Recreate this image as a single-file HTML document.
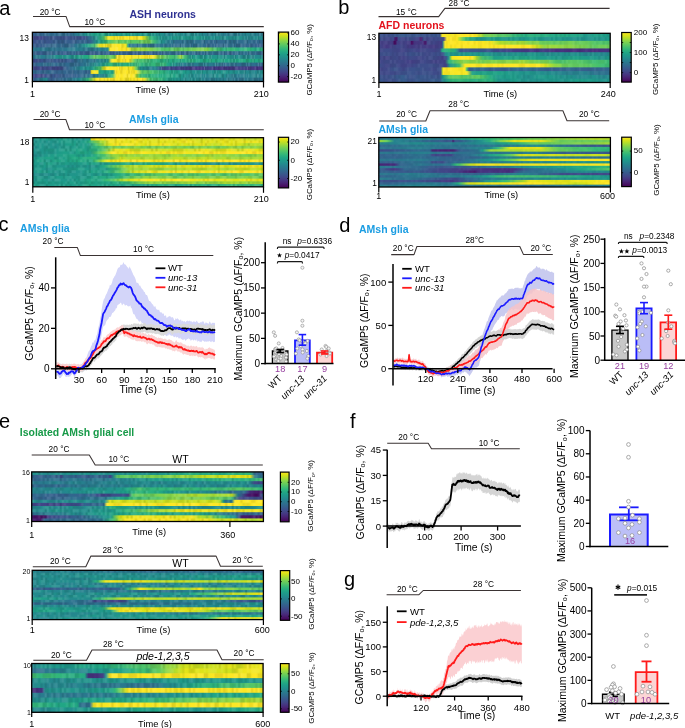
<!DOCTYPE html><html><head><meta charset="utf-8"><style>html,body{margin:0;padding:0;background:#fff;width:685px;height:728px;overflow:hidden}svg{display:block;font-family:"Liberation Sans",sans-serif;will-change:transform}</style></head><body><svg width="685" height="728" viewBox="0 0 685 728" font-family="Liberation Sans, sans-serif"><defs><linearGradient id="hg1" x1="0" x2="1" y1="0" y2="0"><stop offset=".000" stop-color="#355e8d"/><stop offset=".034" stop-color="#33648d"/><stop offset=".069" stop-color="#306a8e"/><stop offset=".103" stop-color="#306a8e"/><stop offset=".138" stop-color="#2f6c8e"/><stop offset=".171" stop-color="#31688e"/><stop offset=".172" stop-color="#2e6f8e"/><stop offset=".206" stop-color="#25838e"/><stop offset=".207" stop-color="#287d8e"/><stop offset=".241" stop-color="#1f978a"/><stop offset=".249" stop-color="#20968b"/><stop offset=".276" stop-color="#20a386"/><stop offset=".310" stop-color="#20a386"/><stop offset=".345" stop-color="#1f9a8a"/><stop offset=".379" stop-color="#1f9a8a"/><stop offset=".414" stop-color="#1fa087"/><stop offset=".448" stop-color="#1f988a"/><stop offset=".483" stop-color="#1f988a"/><stop offset=".509" stop-color="#1f988a"/><stop offset=".517" stop-color="#1f978a"/><stop offset=".552" stop-color="#228d8d"/><stop offset=".552" stop-color="#21928c"/><stop offset=".586" stop-color="#25858e"/><stop offset=".621" stop-color="#21908c"/><stop offset=".655" stop-color="#24898d"/><stop offset=".690" stop-color="#228d8d"/><stop offset=".724" stop-color="#238b8d"/><stop offset=".759" stop-color="#27808e"/><stop offset=".793" stop-color="#24868e"/><stop offset=".828" stop-color="#287d8e"/><stop offset=".862" stop-color="#297b8e"/><stop offset=".897" stop-color="#277f8e"/><stop offset=".931" stop-color="#25848e"/><stop offset=".966" stop-color="#27808e"/><stop offset=".998" stop-color="#29798e"/><stop offset="1.000" stop-color="#26838e"/></linearGradient><linearGradient id="hg2" x1="0" x2="1" y1="0" y2="0"><stop offset=".000" stop-color="#3f4988"/><stop offset=".034" stop-color="#414587"/><stop offset=".069" stop-color="#3a548b"/><stop offset=".103" stop-color="#3a558b"/><stop offset=".138" stop-color="#3c508a"/><stop offset=".172" stop-color="#3a558b"/><stop offset=".207" stop-color="#3c508a"/><stop offset=".228" stop-color="#3b528b"/><stop offset=".241" stop-color="#33648d"/><stop offset=".271" stop-color="#228e8c"/><stop offset=".276" stop-color="#228d8d"/><stop offset=".301" stop-color="#35b779"/><stop offset=".310" stop-color="#5ac764"/><stop offset=".327" stop-color="#f6e622"/><stop offset=".345" stop-color="#f2e620"/><stop offset=".379" stop-color="#fde725"/><stop offset=".414" stop-color="#fce725"/><stop offset=".448" stop-color="#fde725"/><stop offset=".474" stop-color="#fbe724"/><stop offset=".483" stop-color="#d6e21c"/><stop offset=".509" stop-color="#3dbb74"/><stop offset=".517" stop-color="#2db27d"/><stop offset=".552" stop-color="#1f978a"/><stop offset=".552" stop-color="#20958b"/><stop offset=".586" stop-color="#21928c"/><stop offset=".621" stop-color="#1f9a8a"/><stop offset=".655" stop-color="#1f978a"/><stop offset=".690" stop-color="#20968b"/><stop offset=".724" stop-color="#1f988a"/><stop offset=".759" stop-color="#21918c"/><stop offset=".793" stop-color="#218f8c"/><stop offset=".828" stop-color="#228f8c"/><stop offset=".862" stop-color="#228e8d"/><stop offset=".897" stop-color="#21918c"/><stop offset=".931" stop-color="#25858e"/><stop offset=".966" stop-color="#238b8d"/><stop offset=".998" stop-color="#238c8d"/><stop offset="1.000" stop-color="#24898d"/></linearGradient><linearGradient id="hg3" x1="0" x2="1" y1="0" y2="0"><stop offset=".000" stop-color="#3c508b"/><stop offset=".034" stop-color="#375a8c"/><stop offset=".069" stop-color="#3a558b"/><stop offset=".103" stop-color="#355f8d"/><stop offset=".138" stop-color="#355f8d"/><stop offset=".172" stop-color="#365e8d"/><stop offset=".207" stop-color="#33638d"/><stop offset=".241" stop-color="#33648d"/><stop offset=".249" stop-color="#365d8d"/><stop offset=".276" stop-color="#228d8d"/><stop offset=".293" stop-color="#21a685"/><stop offset=".310" stop-color="#2bb07f"/><stop offset=".345" stop-color="#5fc962"/><stop offset=".357" stop-color="#6dcd59"/><stop offset=".379" stop-color="#61ca60"/><stop offset=".414" stop-color="#5cc863"/><stop offset=".448" stop-color="#59c765"/><stop offset=".483" stop-color="#70ce57"/><stop offset=".509" stop-color="#6ccd5a"/><stop offset=".517" stop-color="#51c469"/><stop offset=".552" stop-color="#1f978a"/><stop offset=".552" stop-color="#1f988a"/><stop offset=".586" stop-color="#277f8e"/><stop offset=".617" stop-color="#2d718e"/><stop offset=".621" stop-color="#2f6c8e"/><stop offset=".655" stop-color="#2c728e"/><stop offset=".690" stop-color="#2d718e"/><stop offset=".724" stop-color="#2d718e"/><stop offset=".759" stop-color="#306a8e"/><stop offset=".793" stop-color="#31678e"/><stop offset=".828" stop-color="#306a8e"/><stop offset=".862" stop-color="#2e6f8e"/><stop offset=".897" stop-color="#2f6c8e"/><stop offset=".931" stop-color="#2e6e8e"/><stop offset=".966" stop-color="#30698e"/><stop offset=".998" stop-color="#31688e"/><stop offset="1.000" stop-color="#2e6f8e"/></linearGradient><linearGradient id="hg4" x1="0" x2="1" y1="0" y2="0"><stop offset=".000" stop-color="#365e8d"/><stop offset=".034" stop-color="#375b8c"/><stop offset=".069" stop-color="#33648d"/><stop offset=".103" stop-color="#30698e"/><stop offset=".138" stop-color="#32668e"/><stop offset=".172" stop-color="#30698e"/><stop offset=".184" stop-color="#2c738e"/><stop offset=".207" stop-color="#277f8e"/><stop offset=".241" stop-color="#20a287"/><stop offset=".271" stop-color="#4ac16d"/><stop offset=".276" stop-color="#71cf56"/><stop offset=".293" stop-color="#f3e621"/><stop offset=".310" stop-color="#f2e620"/><stop offset=".345" stop-color="#f7e622"/><stop offset=".379" stop-color="#fde725"/><stop offset=".405" stop-color="#f0e51f"/><stop offset=".414" stop-color="#22a784"/><stop offset=".418" stop-color="#2a788e"/><stop offset=".448" stop-color="#2c748e"/><stop offset=".483" stop-color="#2b758e"/><stop offset=".509" stop-color="#2f6c8e"/><stop offset=".517" stop-color="#2e708e"/><stop offset=".552" stop-color="#2c738e"/><stop offset=".586" stop-color="#2c728e"/><stop offset=".621" stop-color="#2f6d8e"/><stop offset=".655" stop-color="#2d718e"/><stop offset=".690" stop-color="#2e6d8e"/><stop offset=".724" stop-color="#2d708e"/><stop offset=".759" stop-color="#32678e"/><stop offset=".793" stop-color="#31678e"/><stop offset=".828" stop-color="#306a8e"/><stop offset=".862" stop-color="#2e6e8e"/><stop offset=".897" stop-color="#31688e"/><stop offset=".931" stop-color="#32658d"/><stop offset=".966" stop-color="#34618d"/><stop offset=".998" stop-color="#34608d"/><stop offset="1.000" stop-color="#355f8d"/></linearGradient><linearGradient id="hg5" x1="0" x2="1" y1="0" y2="0"><stop offset=".000" stop-color="#2a788e"/><stop offset=".034" stop-color="#2a788e"/><stop offset=".069" stop-color="#2a778e"/><stop offset=".103" stop-color="#2d728e"/><stop offset=".138" stop-color="#2b758e"/><stop offset=".172" stop-color="#287c8e"/><stop offset=".207" stop-color="#277e8e"/><stop offset=".241" stop-color="#2b758e"/><stop offset=".276" stop-color="#2a788e"/><stop offset=".293" stop-color="#25838e"/><stop offset=".310" stop-color="#277f8e"/><stop offset=".327" stop-color="#228d8d"/><stop offset=".336" stop-color="#fbe724"/><stop offset=".345" stop-color="#fde725"/><stop offset=".379" stop-color="#fde725"/><stop offset=".414" stop-color="#fde725"/><stop offset=".414" stop-color="#fde725"/><stop offset=".431" stop-color="#a1da38"/><stop offset=".448" stop-color="#a7db34"/><stop offset=".483" stop-color="#9ad93d"/><stop offset=".509" stop-color="#88d448"/><stop offset=".517" stop-color="#80d24d"/><stop offset=".552" stop-color="#5bc863"/><stop offset=".552" stop-color="#52c568"/><stop offset=".586" stop-color="#54c567"/><stop offset=".621" stop-color="#65cb5d"/><stop offset=".655" stop-color="#5bc864"/><stop offset=".690" stop-color="#70ce57"/><stop offset=".724" stop-color="#7cd150"/><stop offset=".759" stop-color="#83d34b"/><stop offset=".764" stop-color="#6fce58"/><stop offset=".793" stop-color="#47c06e"/><stop offset=".812" stop-color="#3dbb74"/><stop offset=".828" stop-color="#2eb37d"/><stop offset=".862" stop-color="#3cbb75"/><stop offset=".897" stop-color="#2aaf7f"/><stop offset=".931" stop-color="#35b779"/><stop offset=".966" stop-color="#25ab82"/><stop offset=".998" stop-color="#2eb37d"/><stop offset="1.000" stop-color="#31b57b"/></linearGradient><linearGradient id="hg6" x1="0" x2="1" y1="0" y2="0"><stop offset=".000" stop-color="#33648d"/><stop offset=".034" stop-color="#365c8d"/><stop offset=".069" stop-color="#33638d"/><stop offset=".103" stop-color="#32668e"/><stop offset=".138" stop-color="#365d8d"/><stop offset=".172" stop-color="#33648d"/><stop offset=".207" stop-color="#365e8d"/><stop offset=".241" stop-color="#375c8c"/><stop offset=".276" stop-color="#355f8d"/><stop offset=".310" stop-color="#32668e"/><stop offset=".345" stop-color="#365c8d"/><stop offset=".379" stop-color="#32658d"/><stop offset=".414" stop-color="#34608d"/><stop offset=".448" stop-color="#355e8d"/><stop offset=".483" stop-color="#33628d"/><stop offset=".517" stop-color="#34628d"/><stop offset=".552" stop-color="#33648d"/><stop offset=".586" stop-color="#306b8e"/><stop offset=".621" stop-color="#2f6c8e"/><stop offset=".655" stop-color="#34618d"/><stop offset=".690" stop-color="#2e6d8e"/><stop offset=".724" stop-color="#31688e"/><stop offset=".759" stop-color="#2e6e8e"/><stop offset=".793" stop-color="#2f6c8e"/><stop offset=".828" stop-color="#31688e"/><stop offset=".862" stop-color="#33648d"/><stop offset=".897" stop-color="#2e6f8e"/><stop offset=".931" stop-color="#2d708e"/><stop offset=".966" stop-color="#306b8e"/><stop offset=".998" stop-color="#33638d"/><stop offset="1.000" stop-color="#2e6e8e"/></linearGradient><linearGradient id="hg7" x1="0" x2="1" y1="0" y2="0"><stop offset=".000" stop-color="#2b748e"/><stop offset=".034" stop-color="#277f8e"/><stop offset=".069" stop-color="#297a8e"/><stop offset=".103" stop-color="#21908c"/><stop offset=".138" stop-color="#20958b"/><stop offset=".172" stop-color="#21928c"/><stop offset=".207" stop-color="#21a486"/><stop offset=".228" stop-color="#22a884"/><stop offset=".241" stop-color="#26ac82"/><stop offset=".271" stop-color="#69cc5b"/><stop offset=".276" stop-color="#56c666"/><stop offset=".310" stop-color="#5dc962"/><stop offset=".345" stop-color="#69cc5b"/><stop offset=".357" stop-color="#6ccd5a"/><stop offset=".366" stop-color="#fde725"/><stop offset=".379" stop-color="#f9e623"/><stop offset=".414" stop-color="#fde725"/><stop offset=".448" stop-color="#f4e621"/><stop offset=".483" stop-color="#f9e623"/><stop offset=".517" stop-color="#fde725"/><stop offset=".526" stop-color="#f2e620"/><stop offset=".552" stop-color="#74cf55"/><stop offset=".552" stop-color="#83d34b"/><stop offset=".586" stop-color="#4ec36a"/><stop offset=".617" stop-color="#3ebc74"/><stop offset=".621" stop-color="#3dbb74"/><stop offset=".643" stop-color="#a3da37"/><stop offset=".655" stop-color="#51c469"/><stop offset=".682" stop-color="#20938b"/><stop offset=".690" stop-color="#1e9b89"/><stop offset=".724" stop-color="#20958b"/><stop offset=".759" stop-color="#20958b"/><stop offset=".793" stop-color="#20958b"/><stop offset=".828" stop-color="#21928c"/><stop offset=".862" stop-color="#21908c"/><stop offset=".897" stop-color="#238a8d"/><stop offset=".931" stop-color="#24888d"/><stop offset=".966" stop-color="#24888d"/><stop offset=".998" stop-color="#24878e"/><stop offset="1.000" stop-color="#24888d"/></linearGradient><linearGradient id="hg8" x1="0" x2="1" y1="0" y2="0"><stop offset=".000" stop-color="#3f4988"/><stop offset=".034" stop-color="#3b518b"/><stop offset=".069" stop-color="#375a8c"/><stop offset=".103" stop-color="#39578c"/><stop offset=".119" stop-color="#39568c"/><stop offset=".138" stop-color="#39578c"/><stop offset=".172" stop-color="#365d8d"/><stop offset=".207" stop-color="#2d728e"/><stop offset=".241" stop-color="#2b768e"/><stop offset=".271" stop-color="#2b758e"/><stop offset=".276" stop-color="#287c8e"/><stop offset=".310" stop-color="#24898d"/><stop offset=".327" stop-color="#21918c"/><stop offset=".344" stop-color="#f9e723"/><stop offset=".345" stop-color="#fae724"/><stop offset=".379" stop-color="#f6e622"/><stop offset=".414" stop-color="#fde725"/><stop offset=".418" stop-color="#fde725"/><stop offset=".444" stop-color="#61ca60"/><stop offset=".448" stop-color="#4dc26b"/><stop offset=".483" stop-color="#45c06f"/><stop offset=".517" stop-color="#32b57a"/><stop offset=".552" stop-color="#2bb07f"/><stop offset=".574" stop-color="#2bb17e"/><stop offset=".586" stop-color="#25ab82"/><stop offset=".621" stop-color="#24aa83"/><stop offset=".639" stop-color="#22a884"/><stop offset=".655" stop-color="#24aa83"/><stop offset=".690" stop-color="#2ab07f"/><stop offset=".724" stop-color="#21a685"/><stop offset=".759" stop-color="#25ab82"/><stop offset=".793" stop-color="#22a784"/><stop offset=".828" stop-color="#21a585"/><stop offset=".862" stop-color="#21a486"/><stop offset=".897" stop-color="#24aa83"/><stop offset=".931" stop-color="#24aa82"/><stop offset=".966" stop-color="#22a884"/><stop offset=".998" stop-color="#24aa83"/><stop offset="1.000" stop-color="#22a784"/></linearGradient><linearGradient id="hg9" x1="0" x2="1" y1="0" y2="0"><stop offset=".000" stop-color="#355e8d"/><stop offset=".034" stop-color="#2f6b8e"/><stop offset=".069" stop-color="#2e6e8e"/><stop offset=".103" stop-color="#30698e"/><stop offset=".138" stop-color="#30698e"/><stop offset=".172" stop-color="#306a8e"/><stop offset=".206" stop-color="#2f6b8e"/><stop offset=".207" stop-color="#2e6d8e"/><stop offset=".241" stop-color="#297b8e"/><stop offset=".271" stop-color="#21918c"/><stop offset=".276" stop-color="#23898d"/><stop offset=".310" stop-color="#1e9d88"/><stop offset=".336" stop-color="#34b779"/><stop offset=".345" stop-color="#34b779"/><stop offset=".379" stop-color="#26ac81"/><stop offset=".414" stop-color="#2ab07f"/><stop offset=".448" stop-color="#3aba76"/><stop offset=".483" stop-color="#2db27d"/><stop offset=".517" stop-color="#33b67a"/><stop offset=".552" stop-color="#36b878"/><stop offset=".574" stop-color="#36b878"/><stop offset=".586" stop-color="#21a585"/><stop offset=".621" stop-color="#21918c"/><stop offset=".639" stop-color="#26828e"/><stop offset=".655" stop-color="#287c8e"/><stop offset=".690" stop-color="#2a788e"/><stop offset=".724" stop-color="#297b8e"/><stop offset=".759" stop-color="#287c8e"/><stop offset=".793" stop-color="#2a798e"/><stop offset=".828" stop-color="#2f6c8e"/><stop offset=".862" stop-color="#2d728e"/><stop offset=".897" stop-color="#2f6b8e"/><stop offset=".931" stop-color="#2d708e"/><stop offset=".966" stop-color="#2e6d8e"/><stop offset=".998" stop-color="#33638d"/><stop offset="1.000" stop-color="#306a8e"/></linearGradient><linearGradient id="hg10" x1="0" x2="1" y1="0" y2="0"><stop offset=".000" stop-color="#414487"/><stop offset=".034" stop-color="#3f4888"/><stop offset=".069" stop-color="#3e4b89"/><stop offset=".103" stop-color="#404587"/><stop offset=".128" stop-color="#3d4d8a"/><stop offset=".138" stop-color="#375c8c"/><stop offset=".172" stop-color="#2e6e8e"/><stop offset=".206" stop-color="#25838e"/><stop offset=".207" stop-color="#24888d"/><stop offset=".241" stop-color="#21918c"/><stop offset=".258" stop-color="#20958b"/><stop offset=".276" stop-color="#33b67a"/><stop offset=".293" stop-color="#4fc36a"/><stop offset=".310" stop-color="#dde319"/><stop offset=".318" stop-color="#fde725"/><stop offset=".345" stop-color="#fde725"/><stop offset=".379" stop-color="#fde725"/><stop offset=".414" stop-color="#f2e520"/><stop offset=".435" stop-color="#f5e622"/><stop offset=".448" stop-color="#78d052"/><stop offset=".466" stop-color="#228f8c"/><stop offset=".483" stop-color="#238b8d"/><stop offset=".517" stop-color="#277f8e"/><stop offset=".531" stop-color="#24868e"/><stop offset=".552" stop-color="#34628d"/><stop offset=".561" stop-color="#3d4e8a"/><stop offset=".586" stop-color="#3f4988"/><stop offset=".621" stop-color="#414487"/><stop offset=".655" stop-color="#424186"/><stop offset=".690" stop-color="#443a83"/><stop offset=".724" stop-color="#453681"/><stop offset=".759" stop-color="#404688"/><stop offset=".793" stop-color="#443982"/><stop offset=".828" stop-color="#453781"/><stop offset=".862" stop-color="#453781"/><stop offset=".897" stop-color="#433f85"/><stop offset=".931" stop-color="#443c83"/><stop offset=".966" stop-color="#463581"/><stop offset=".998" stop-color="#463681"/><stop offset="1.000" stop-color="#46317e"/></linearGradient><linearGradient id="hg11" x1="0" x2="1" y1="0" y2="0"><stop offset=".000" stop-color="#306a8e"/><stop offset=".034" stop-color="#33638d"/><stop offset=".069" stop-color="#306a8e"/><stop offset=".103" stop-color="#34628d"/><stop offset=".138" stop-color="#32668e"/><stop offset=".172" stop-color="#33648d"/><stop offset=".207" stop-color="#30698e"/><stop offset=".241" stop-color="#33628d"/><stop offset=".249" stop-color="#31688e"/><stop offset=".256" stop-color="#fbe724"/><stop offset=".276" stop-color="#f1e520"/><stop offset=".284" stop-color="#fde725"/><stop offset=".288" stop-color="#24aa83"/><stop offset=".310" stop-color="#1f9f88"/><stop offset=".345" stop-color="#21a685"/><stop offset=".349" stop-color="#21a486"/><stop offset=".360" stop-color="#fde725"/><stop offset=".379" stop-color="#fde725"/><stop offset=".414" stop-color="#fde725"/><stop offset=".448" stop-color="#f9e623"/><stop offset=".448" stop-color="#fce725"/><stop offset=".474" stop-color="#5ac764"/><stop offset=".483" stop-color="#64cb5e"/><stop offset=".517" stop-color="#4ac16d"/><stop offset=".552" stop-color="#33b67a"/><stop offset=".586" stop-color="#22a784"/><stop offset=".621" stop-color="#20a386"/><stop offset=".639" stop-color="#1f9e88"/><stop offset=".655" stop-color="#1e9c89"/><stop offset=".690" stop-color="#21928c"/><stop offset=".724" stop-color="#20948b"/><stop offset=".759" stop-color="#21908c"/><stop offset=".793" stop-color="#21928c"/><stop offset=".828" stop-color="#20968b"/><stop offset=".862" stop-color="#21908c"/><stop offset=".897" stop-color="#228c8d"/><stop offset=".931" stop-color="#24888d"/><stop offset=".966" stop-color="#24878e"/><stop offset=".998" stop-color="#21908c"/><stop offset="1.000" stop-color="#21928c"/></linearGradient><linearGradient id="hg12" x1="0" x2="1" y1="0" y2="0"><stop offset=".000" stop-color="#404788"/><stop offset=".034" stop-color="#414487"/><stop offset=".069" stop-color="#39578c"/><stop offset=".098" stop-color="#39568c"/><stop offset=".103" stop-color="#39558c"/><stop offset=".138" stop-color="#355f8d"/><stop offset=".172" stop-color="#355f8d"/><stop offset=".207" stop-color="#32668e"/><stop offset=".241" stop-color="#2d708e"/><stop offset=".241" stop-color="#2e6d8e"/><stop offset=".276" stop-color="#27808e"/><stop offset=".310" stop-color="#24888d"/><stop offset=".314" stop-color="#23898d"/><stop offset=".344" stop-color="#3aba76"/><stop offset=".345" stop-color="#3bba75"/><stop offset=".364" stop-color="#fde725"/><stop offset=".379" stop-color="#fde725"/><stop offset=".414" stop-color="#fce724"/><stop offset=".440" stop-color="#fde725"/><stop offset=".448" stop-color="#b6de2a"/><stop offset=".466" stop-color="#46c06f"/><stop offset=".483" stop-color="#33b67a"/><stop offset=".517" stop-color="#2fb47c"/><stop offset=".552" stop-color="#25ab82"/><stop offset=".586" stop-color="#25ab82"/><stop offset=".621" stop-color="#20a386"/><stop offset=".655" stop-color="#20938b"/><stop offset=".690" stop-color="#228c8d"/><stop offset=".724" stop-color="#238b8d"/><stop offset=".725" stop-color="#24878e"/><stop offset=".759" stop-color="#25858e"/><stop offset=".793" stop-color="#228f8c"/><stop offset=".828" stop-color="#228d8d"/><stop offset=".862" stop-color="#287d8e"/><stop offset=".897" stop-color="#287c8e"/><stop offset=".931" stop-color="#26838e"/><stop offset=".966" stop-color="#24868e"/><stop offset=".998" stop-color="#25838e"/><stop offset="1.000" stop-color="#26818e"/></linearGradient><linearGradient id="hg13" x1="0" x2="1" y1="0" y2="0"><stop offset=".000" stop-color="#39578c"/><stop offset=".034" stop-color="#2a788e"/><stop offset=".059" stop-color="#228d8d"/><stop offset=".069" stop-color="#2d708e"/><stop offset=".076" stop-color="#365c8d"/><stop offset=".103" stop-color="#32658d"/><stop offset=".138" stop-color="#306b8e"/><stop offset=".172" stop-color="#29798e"/><stop offset=".206" stop-color="#238a8d"/><stop offset=".207" stop-color="#238a8d"/><stop offset=".241" stop-color="#35b779"/><stop offset=".241" stop-color="#32b67a"/><stop offset=".276" stop-color="#f2e620"/><stop offset=".278" stop-color="#fce725"/><stop offset=".310" stop-color="#f7e623"/><stop offset=".345" stop-color="#fde725"/><stop offset=".379" stop-color="#fde725"/><stop offset=".414" stop-color="#f5e622"/><stop offset=".448" stop-color="#fde725"/><stop offset=".479" stop-color="#fce724"/><stop offset=".483" stop-color="#efe51f"/><stop offset=".509" stop-color="#52c468"/><stop offset=".517" stop-color="#44bf70"/><stop offset=".552" stop-color="#35b778"/><stop offset=".586" stop-color="#20a187"/><stop offset=".621" stop-color="#20968b"/><stop offset=".639" stop-color="#21918c"/><stop offset=".655" stop-color="#238b8d"/><stop offset=".690" stop-color="#228e8d"/><stop offset=".724" stop-color="#23898d"/><stop offset=".759" stop-color="#287c8e"/><stop offset=".793" stop-color="#287c8e"/><stop offset=".828" stop-color="#277f8e"/><stop offset=".862" stop-color="#297a8e"/><stop offset=".897" stop-color="#2d718e"/><stop offset=".931" stop-color="#297a8e"/><stop offset=".966" stop-color="#2b758e"/><stop offset=".998" stop-color="#2d708e"/><stop offset="1.000" stop-color="#2d718e"/></linearGradient><pattern id="tx14" patternUnits="userSpaceOnUse" x="32.40" y="32.30" width="42.9" height="49.20"><path d="M3.30 0.0h1.1v3.78h-1.1zM7.70 0.0h1.1v3.78h-1.1zM24.20 0.0h1.1v3.78h-1.1zM31.90 0.0h1.1v3.78h-1.1zM1.10 3.8h1.1v3.78h-1.1zM11.00 3.8h1.1v3.78h-1.1zM15.40 3.8h1.1v3.78h-1.1zM18.70 3.8h1.1v3.78h-1.1zM27.50 3.8h1.1v3.78h-1.1zM28.60 3.8h1.1v3.78h-1.1zM30.80 3.8h1.1v3.78h-1.1zM20.90 7.6h1.1v3.78h-1.1zM30.80 7.6h1.1v3.78h-1.1zM3.30 11.4h1.1v3.78h-1.1zM26.40 11.4h1.1v3.78h-1.1zM29.70 11.4h1.1v3.78h-1.1zM33.00 11.4h1.1v3.78h-1.1zM34.10 11.4h1.1v3.78h-1.1zM7.70 15.1h1.1v3.78h-1.1zM11.00 18.9h1.1v3.78h-1.1zM12.10 18.9h1.1v3.78h-1.1zM19.80 18.9h1.1v3.78h-1.1zM26.40 18.9h1.1v3.78h-1.1zM0.00 22.7h1.1v3.78h-1.1zM1.10 22.7h1.1v3.78h-1.1zM13.20 22.7h1.1v3.78h-1.1zM19.80 22.7h1.1v3.78h-1.1zM26.40 22.7h1.1v3.78h-1.1zM28.60 22.7h1.1v3.78h-1.1zM30.80 22.7h1.1v3.78h-1.1zM1.10 26.5h1.1v3.78h-1.1zM4.40 26.5h1.1v3.78h-1.1zM11.00 26.5h1.1v3.78h-1.1zM12.10 26.5h1.1v3.78h-1.1zM18.70 26.5h1.1v3.78h-1.1zM28.60 26.5h1.1v3.78h-1.1zM0.00 30.3h1.1v3.78h-1.1zM12.10 30.3h1.1v3.78h-1.1zM26.40 30.3h1.1v3.78h-1.1zM27.50 30.3h1.1v3.78h-1.1zM1.10 34.1h1.1v3.78h-1.1zM22.00 34.1h1.1v3.78h-1.1zM24.20 34.1h1.1v3.78h-1.1zM27.50 34.1h1.1v3.78h-1.1zM29.70 34.1h1.1v3.78h-1.1zM2.20 37.8h1.1v3.78h-1.1zM9.90 37.8h1.1v3.78h-1.1zM13.20 37.8h1.1v3.78h-1.1zM24.20 37.8h1.1v3.78h-1.1zM29.70 37.8h1.1v3.78h-1.1zM36.30 37.8h1.1v3.78h-1.1zM40.70 37.8h1.1v3.78h-1.1zM8.80 41.6h1.1v3.78h-1.1zM27.50 41.6h1.1v3.78h-1.1zM30.80 41.6h1.1v3.78h-1.1zM2.20 45.4h1.1v3.78h-1.1zM6.60 45.4h1.1v3.78h-1.1zM8.80 45.4h1.1v3.78h-1.1zM9.90 45.4h1.1v3.78h-1.1zM12.10 45.4h1.1v3.78h-1.1zM15.40 45.4h1.1v3.78h-1.1zM28.60 45.4h1.1v3.78h-1.1z" fill="#000" fill-opacity="0.116"/><path d="M4.40 0.0h1.1v3.78h-1.1zM5.50 0.0h1.1v3.78h-1.1zM15.40 0.0h1.1v3.78h-1.1zM0.00 3.8h1.1v3.78h-1.1zM6.60 3.8h1.1v3.78h-1.1zM9.90 3.8h1.1v3.78h-1.1zM19.80 3.8h1.1v3.78h-1.1zM33.00 3.8h1.1v3.78h-1.1zM4.40 7.6h1.1v3.78h-1.1zM9.90 11.4h1.1v3.78h-1.1zM12.10 11.4h1.1v3.78h-1.1zM15.40 11.4h1.1v3.78h-1.1zM17.60 11.4h1.1v3.78h-1.1zM37.40 11.4h1.1v3.78h-1.1zM9.90 15.1h1.1v3.78h-1.1zM11.00 15.1h1.1v3.78h-1.1zM37.40 15.1h1.1v3.78h-1.1zM39.60 15.1h1.1v3.78h-1.1zM2.20 18.9h1.1v3.78h-1.1zM3.30 18.9h1.1v3.78h-1.1zM14.30 18.9h1.1v3.78h-1.1zM24.20 18.9h1.1v3.78h-1.1zM27.50 18.9h1.1v3.78h-1.1zM30.80 18.9h1.1v3.78h-1.1zM39.60 18.9h1.1v3.78h-1.1zM3.30 22.7h1.1v3.78h-1.1zM14.30 22.7h1.1v3.78h-1.1zM20.90 22.7h1.1v3.78h-1.1zM22.00 22.7h1.1v3.78h-1.1zM35.20 22.7h1.1v3.78h-1.1zM17.60 26.5h1.1v3.78h-1.1zM19.80 26.5h1.1v3.78h-1.1zM24.20 26.5h1.1v3.78h-1.1zM35.20 26.5h1.1v3.78h-1.1zM13.20 30.3h1.1v3.78h-1.1zM16.50 30.3h1.1v3.78h-1.1zM18.70 30.3h1.1v3.78h-1.1zM29.70 30.3h1.1v3.78h-1.1zM31.90 34.1h1.1v3.78h-1.1zM33.00 34.1h1.1v3.78h-1.1zM6.60 37.8h1.1v3.78h-1.1zM12.10 37.8h1.1v3.78h-1.1zM19.80 37.8h1.1v3.78h-1.1zM5.50 41.6h1.1v3.78h-1.1zM14.30 41.6h1.1v3.78h-1.1zM33.00 41.6h1.1v3.78h-1.1zM36.30 41.6h1.1v3.78h-1.1zM0.00 45.4h1.1v3.78h-1.1zM5.50 45.4h1.1v3.78h-1.1zM23.10 45.4h1.1v3.78h-1.1zM27.50 45.4h1.1v3.78h-1.1zM29.70 45.4h1.1v3.78h-1.1zM34.10 45.4h1.1v3.78h-1.1zM39.60 45.4h1.1v3.78h-1.1z" fill="#fff" fill-opacity="0.116"/><path d="M11.00 0.0h1.1v3.78h-1.1zM18.70 0.0h1.1v3.78h-1.1zM34.10 0.0h1.1v3.78h-1.1zM37.40 0.0h1.1v3.78h-1.1zM2.20 3.8h1.1v3.78h-1.1zM24.20 3.8h1.1v3.78h-1.1zM25.30 3.8h1.1v3.78h-1.1zM41.80 3.8h1.1v3.78h-1.1zM6.60 7.6h1.1v3.78h-1.1zM4.40 11.4h1.1v3.78h-1.1zM24.20 11.4h1.1v3.78h-1.1zM3.30 15.1h1.1v3.78h-1.1zM17.60 15.1h1.1v3.78h-1.1zM22.00 15.1h1.1v3.78h-1.1zM26.40 15.1h1.1v3.78h-1.1zM6.60 18.9h1.1v3.78h-1.1zM9.90 18.9h1.1v3.78h-1.1zM16.50 18.9h1.1v3.78h-1.1zM40.70 22.7h1.1v3.78h-1.1zM31.90 26.5h1.1v3.78h-1.1zM33.00 26.5h1.1v3.78h-1.1zM8.80 30.3h1.1v3.78h-1.1zM28.60 30.3h1.1v3.78h-1.1zM30.80 30.3h1.1v3.78h-1.1zM31.90 30.3h1.1v3.78h-1.1zM20.90 34.1h1.1v3.78h-1.1zM3.30 37.8h1.1v3.78h-1.1zM11.00 37.8h1.1v3.78h-1.1zM28.60 37.8h1.1v3.78h-1.1zM38.50 37.8h1.1v3.78h-1.1zM22.00 41.6h1.1v3.78h-1.1zM29.70 41.6h1.1v3.78h-1.1z" fill="#000" fill-opacity="0.084"/><path d="M12.10 0.0h1.1v3.78h-1.1zM13.20 0.0h1.1v3.78h-1.1zM26.40 0.0h1.1v3.78h-1.1zM27.50 0.0h1.1v3.78h-1.1zM33.00 0.0h1.1v3.78h-1.1zM36.30 0.0h1.1v3.78h-1.1zM20.90 3.8h1.1v3.78h-1.1zM8.80 7.6h1.1v3.78h-1.1zM23.10 7.6h1.1v3.78h-1.1zM33.00 7.6h1.1v3.78h-1.1zM40.70 7.6h1.1v3.78h-1.1zM2.20 11.4h1.1v3.78h-1.1zM13.20 11.4h1.1v3.78h-1.1zM19.80 11.4h1.1v3.78h-1.1zM22.00 11.4h1.1v3.78h-1.1zM23.10 11.4h1.1v3.78h-1.1zM28.60 11.4h1.1v3.78h-1.1zM36.30 11.4h1.1v3.78h-1.1zM40.70 15.1h1.1v3.78h-1.1zM41.80 15.1h1.1v3.78h-1.1zM15.40 18.9h1.1v3.78h-1.1zM18.70 18.9h1.1v3.78h-1.1zM23.10 18.9h1.1v3.78h-1.1zM33.00 18.9h1.1v3.78h-1.1zM4.40 22.7h1.1v3.78h-1.1zM6.60 22.7h1.1v3.78h-1.1zM18.70 22.7h1.1v3.78h-1.1zM29.70 22.7h1.1v3.78h-1.1zM34.10 22.7h1.1v3.78h-1.1zM41.80 22.7h1.1v3.78h-1.1zM5.50 26.5h1.1v3.78h-1.1zM27.50 26.5h1.1v3.78h-1.1zM37.40 26.5h1.1v3.78h-1.1zM11.00 30.3h1.1v3.78h-1.1zM20.90 30.3h1.1v3.78h-1.1zM25.30 30.3h1.1v3.78h-1.1zM0.00 34.1h1.1v3.78h-1.1zM7.70 34.1h1.1v3.78h-1.1zM18.70 37.8h1.1v3.78h-1.1zM34.10 37.8h1.1v3.78h-1.1zM39.60 37.8h1.1v3.78h-1.1zM1.10 41.6h1.1v3.78h-1.1zM6.60 41.6h1.1v3.78h-1.1zM9.90 41.6h1.1v3.78h-1.1zM11.00 41.6h1.1v3.78h-1.1zM15.40 41.6h1.1v3.78h-1.1zM28.60 41.6h1.1v3.78h-1.1zM38.50 41.6h1.1v3.78h-1.1zM39.60 41.6h1.1v3.78h-1.1z" fill="#fff" fill-opacity="0.149"/><path d="M14.30 0.0h1.1v3.78h-1.1zM29.70 0.0h1.1v3.78h-1.1zM30.80 0.0h1.1v3.78h-1.1zM40.70 0.0h1.1v3.78h-1.1zM4.40 3.8h1.1v3.78h-1.1zM17.60 3.8h1.1v3.78h-1.1zM38.50 3.8h1.1v3.78h-1.1zM0.00 7.6h1.1v3.78h-1.1zM12.10 7.6h1.1v3.78h-1.1zM25.30 7.6h1.1v3.78h-1.1zM26.40 7.6h1.1v3.78h-1.1zM28.60 7.6h1.1v3.78h-1.1zM29.70 7.6h1.1v3.78h-1.1zM18.70 11.4h1.1v3.78h-1.1zM31.90 11.4h1.1v3.78h-1.1zM35.20 11.4h1.1v3.78h-1.1zM13.20 15.1h1.1v3.78h-1.1zM15.40 15.1h1.1v3.78h-1.1zM16.50 15.1h1.1v3.78h-1.1zM1.10 18.9h1.1v3.78h-1.1zM4.40 18.9h1.1v3.78h-1.1zM13.20 18.9h1.1v3.78h-1.1zM25.30 18.9h1.1v3.78h-1.1zM35.20 18.9h1.1v3.78h-1.1zM37.40 18.9h1.1v3.78h-1.1zM5.50 22.7h1.1v3.78h-1.1zM38.50 22.7h1.1v3.78h-1.1zM39.60 22.7h1.1v3.78h-1.1zM0.00 26.5h1.1v3.78h-1.1zM6.60 26.5h1.1v3.78h-1.1zM26.40 26.5h1.1v3.78h-1.1zM29.70 26.5h1.1v3.78h-1.1zM41.80 26.5h1.1v3.78h-1.1zM3.30 30.3h1.1v3.78h-1.1zM15.40 30.3h1.1v3.78h-1.1zM17.60 30.3h1.1v3.78h-1.1zM37.40 30.3h1.1v3.78h-1.1zM38.50 30.3h1.1v3.78h-1.1zM39.60 30.3h1.1v3.78h-1.1zM40.70 30.3h1.1v3.78h-1.1zM3.30 34.1h1.1v3.78h-1.1zM9.90 34.1h1.1v3.78h-1.1zM14.30 34.1h1.1v3.78h-1.1zM19.80 34.1h1.1v3.78h-1.1zM25.30 34.1h1.1v3.78h-1.1zM28.60 34.1h1.1v3.78h-1.1zM15.40 37.8h1.1v3.78h-1.1zM17.60 41.6h1.1v3.78h-1.1zM18.70 41.6h1.1v3.78h-1.1zM7.70 45.4h1.1v3.78h-1.1zM18.70 45.4h1.1v3.78h-1.1zM24.20 45.4h1.1v3.78h-1.1zM31.90 45.4h1.1v3.78h-1.1zM35.20 45.4h1.1v3.78h-1.1zM37.40 45.4h1.1v3.78h-1.1zM38.50 45.4h1.1v3.78h-1.1z" fill="#000" fill-opacity="0.149"/><path d="M22.00 0.0h1.1v3.78h-1.1zM25.30 0.0h1.1v3.78h-1.1zM16.50 3.8h1.1v3.78h-1.1zM34.10 3.8h1.1v3.78h-1.1zM39.60 3.8h1.1v3.78h-1.1zM39.60 7.6h1.1v3.78h-1.1zM41.80 7.6h1.1v3.78h-1.1zM6.60 11.4h1.1v3.78h-1.1zM16.50 11.4h1.1v3.78h-1.1zM20.90 11.4h1.1v3.78h-1.1zM39.60 11.4h1.1v3.78h-1.1zM40.70 11.4h1.1v3.78h-1.1zM19.80 15.1h1.1v3.78h-1.1zM23.10 15.1h1.1v3.78h-1.1zM29.70 15.1h1.1v3.78h-1.1zM35.20 15.1h1.1v3.78h-1.1zM36.30 15.1h1.1v3.78h-1.1zM0.00 18.9h1.1v3.78h-1.1zM7.70 18.9h1.1v3.78h-1.1zM17.60 18.9h1.1v3.78h-1.1zM31.90 18.9h1.1v3.78h-1.1zM36.30 18.9h1.1v3.78h-1.1zM15.40 22.7h1.1v3.78h-1.1zM17.60 22.7h1.1v3.78h-1.1zM14.30 26.5h1.1v3.78h-1.1zM16.50 26.5h1.1v3.78h-1.1zM30.80 26.5h1.1v3.78h-1.1zM1.10 30.3h1.1v3.78h-1.1zM2.20 30.3h1.1v3.78h-1.1zM22.00 30.3h1.1v3.78h-1.1zM41.80 30.3h1.1v3.78h-1.1zM17.60 34.1h1.1v3.78h-1.1zM30.80 34.1h1.1v3.78h-1.1zM36.30 34.1h1.1v3.78h-1.1zM39.60 34.1h1.1v3.78h-1.1zM4.40 37.8h1.1v3.78h-1.1zM20.90 37.8h1.1v3.78h-1.1zM4.40 41.6h1.1v3.78h-1.1zM7.70 41.6h1.1v3.78h-1.1zM16.50 41.6h1.1v3.78h-1.1zM23.10 41.6h1.1v3.78h-1.1zM24.20 41.6h1.1v3.78h-1.1zM26.40 41.6h1.1v3.78h-1.1zM35.20 41.6h1.1v3.78h-1.1zM41.80 41.6h1.1v3.78h-1.1zM22.00 45.4h1.1v3.78h-1.1zM25.30 45.4h1.1v3.78h-1.1z" fill="#fff" fill-opacity="0.084"/></pattern><linearGradient id="cb15" x1="0" x2="0" y1="0" y2="1"><stop offset="0.000" stop-color="#fde725"/><stop offset="0.050" stop-color="#dfe318"/><stop offset="0.100" stop-color="#bddf26"/><stop offset="0.150" stop-color="#9bd93c"/><stop offset="0.200" stop-color="#7ad151"/><stop offset="0.250" stop-color="#5ec962"/><stop offset="0.300" stop-color="#44bf70"/><stop offset="0.350" stop-color="#2fb47c"/><stop offset="0.400" stop-color="#22a884"/><stop offset="0.450" stop-color="#1e9c89"/><stop offset="0.500" stop-color="#21918c"/><stop offset="0.550" stop-color="#25848e"/><stop offset="0.600" stop-color="#2a788e"/><stop offset="0.650" stop-color="#2f6c8e"/><stop offset="0.700" stop-color="#355f8d"/><stop offset="0.750" stop-color="#3b528b"/><stop offset="0.800" stop-color="#414487"/><stop offset="0.850" stop-color="#463480"/><stop offset="0.900" stop-color="#482475"/><stop offset="0.950" stop-color="#471365"/><stop offset="1.000" stop-color="#440154"/></linearGradient><linearGradient id="hg16" x1="0" x2="1" y1="0" y2="0"><stop offset=".000" stop-color="#20968b"/><stop offset=".034" stop-color="#1f988a"/><stop offset=".069" stop-color="#1f9f88"/><stop offset=".103" stop-color="#1f988a"/><stop offset=".138" stop-color="#20a187"/><stop offset=".172" stop-color="#1f998a"/><stop offset=".207" stop-color="#20968b"/><stop offset=".241" stop-color="#1e9b89"/><stop offset=".248" stop-color="#1f988a"/><stop offset=".254" stop-color="#f0e51f"/><stop offset=".276" stop-color="#f8e623"/><stop offset=".310" stop-color="#fce725"/><stop offset=".345" stop-color="#f1e520"/><stop offset=".379" stop-color="#fde725"/><stop offset=".414" stop-color="#f0e520"/><stop offset=".448" stop-color="#fde725"/><stop offset=".483" stop-color="#eee51f"/><stop offset=".517" stop-color="#e3e41a"/><stop offset=".552" stop-color="#ede51e"/><stop offset=".586" stop-color="#f4e621"/><stop offset=".621" stop-color="#ebe51d"/><stop offset=".655" stop-color="#eee51f"/><stop offset=".690" stop-color="#d9e21b"/><stop offset=".724" stop-color="#d7e21b"/><stop offset=".759" stop-color="#d4e21c"/><stop offset=".793" stop-color="#e1e319"/><stop offset=".828" stop-color="#ece51e"/><stop offset=".862" stop-color="#d8e21b"/><stop offset=".897" stop-color="#e6e41b"/><stop offset=".931" stop-color="#c8e021"/><stop offset=".966" stop-color="#cae121"/><stop offset=".998" stop-color="#dae21a"/><stop offset="1.000" stop-color="#dfe318"/></linearGradient><linearGradient id="hg17" x1="0" x2="1" y1="0" y2="0"><stop offset=".000" stop-color="#21928c"/><stop offset=".034" stop-color="#20968b"/><stop offset=".069" stop-color="#21938c"/><stop offset=".103" stop-color="#1f978a"/><stop offset=".138" stop-color="#1f9e88"/><stop offset=".172" stop-color="#1f9e88"/><stop offset=".207" stop-color="#1e9b89"/><stop offset=".226" stop-color="#1fa087"/><stop offset=".241" stop-color="#26ac81"/><stop offset=".276" stop-color="#7ad151"/><stop offset=".291" stop-color="#9eda3a"/><stop offset=".310" stop-color="#b1dd2e"/><stop offset=".335" stop-color="#f1e520"/><stop offset=".345" stop-color="#ede51e"/><stop offset=".379" stop-color="#efe51f"/><stop offset=".414" stop-color="#e2e319"/><stop offset=".448" stop-color="#f3e621"/><stop offset=".483" stop-color="#e0e318"/><stop offset=".517" stop-color="#e3e41a"/><stop offset=".552" stop-color="#e1e319"/><stop offset=".586" stop-color="#e1e319"/><stop offset=".621" stop-color="#dde319"/><stop offset=".655" stop-color="#f1e520"/><stop offset=".690" stop-color="#ede51e"/><stop offset=".724" stop-color="#d5e21c"/><stop offset=".759" stop-color="#e9e41c"/><stop offset=".793" stop-color="#d5e21c"/><stop offset=".828" stop-color="#eae41d"/><stop offset=".862" stop-color="#e1e319"/><stop offset=".897" stop-color="#e5e41a"/><stop offset=".931" stop-color="#ece51e"/><stop offset=".966" stop-color="#ece51e"/><stop offset=".998" stop-color="#e8e41c"/><stop offset="1.000" stop-color="#d9e21a"/></linearGradient><linearGradient id="hg18" x1="0" x2="1" y1="0" y2="0"><stop offset=".000" stop-color="#1f978a"/><stop offset=".034" stop-color="#20968b"/><stop offset=".069" stop-color="#20958b"/><stop offset=".103" stop-color="#20938b"/><stop offset=".138" stop-color="#1e9b89"/><stop offset=".172" stop-color="#1fa087"/><stop offset=".207" stop-color="#1f9a8a"/><stop offset=".239" stop-color="#20a187"/><stop offset=".241" stop-color="#1f988a"/><stop offset=".276" stop-color="#52c469"/><stop offset=".310" stop-color="#a9db33"/><stop offset=".313" stop-color="#bddf26"/><stop offset=".345" stop-color="#ebe51d"/><stop offset=".356" stop-color="#fde725"/><stop offset=".379" stop-color="#f4e621"/><stop offset=".414" stop-color="#fde725"/><stop offset=".448" stop-color="#e9e41d"/><stop offset=".483" stop-color="#e1e319"/><stop offset=".517" stop-color="#ebe51d"/><stop offset=".552" stop-color="#f2e620"/><stop offset=".586" stop-color="#f0e51f"/><stop offset=".621" stop-color="#d5e21c"/><stop offset=".655" stop-color="#dce319"/><stop offset=".690" stop-color="#dae21a"/><stop offset=".724" stop-color="#e0e319"/><stop offset=".725" stop-color="#eee51f"/><stop offset=".759" stop-color="#d4e21d"/><stop offset=".793" stop-color="#c6e022"/><stop offset=".828" stop-color="#e4e41a"/><stop offset=".862" stop-color="#dfe318"/><stop offset=".897" stop-color="#d6e21c"/><stop offset=".931" stop-color="#b4dd2c"/><stop offset=".966" stop-color="#b8de29"/><stop offset=".998" stop-color="#b0dd2e"/><stop offset="1.000" stop-color="#cfe11f"/></linearGradient><linearGradient id="hg19" x1="0" x2="1" y1="0" y2="0"><stop offset=".000" stop-color="#238a8d"/><stop offset=".034" stop-color="#1f978a"/><stop offset=".069" stop-color="#20958b"/><stop offset=".103" stop-color="#21928c"/><stop offset=".138" stop-color="#1e9b89"/><stop offset=".172" stop-color="#1e9a89"/><stop offset=".207" stop-color="#1f9f88"/><stop offset=".239" stop-color="#1f9e88"/><stop offset=".241" stop-color="#20a187"/><stop offset=".276" stop-color="#34b679"/><stop offset=".310" stop-color="#50c469"/><stop offset=".335" stop-color="#6acc5b"/><stop offset=".345" stop-color="#87d449"/><stop offset=".379" stop-color="#6ccd5a"/><stop offset=".414" stop-color="#7bd150"/><stop offset=".448" stop-color="#8ed644"/><stop offset=".483" stop-color="#76d053"/><stop offset=".517" stop-color="#74cf55"/><stop offset=".552" stop-color="#79d152"/><stop offset=".586" stop-color="#74cf55"/><stop offset=".621" stop-color="#8ad547"/><stop offset=".655" stop-color="#79d152"/><stop offset=".690" stop-color="#72cf56"/><stop offset=".724" stop-color="#87d449"/><stop offset=".759" stop-color="#7bd151"/><stop offset=".793" stop-color="#79d152"/><stop offset=".828" stop-color="#74cf55"/><stop offset=".862" stop-color="#95d740"/><stop offset=".897" stop-color="#84d34b"/><stop offset=".931" stop-color="#8ed645"/><stop offset=".966" stop-color="#8ad547"/><stop offset=".998" stop-color="#9ad93c"/><stop offset="1.000" stop-color="#7bd151"/></linearGradient><linearGradient id="hg20" x1="0" x2="1" y1="0" y2="0"><stop offset=".000" stop-color="#20968b"/><stop offset=".034" stop-color="#20948b"/><stop offset=".069" stop-color="#1e9c89"/><stop offset=".103" stop-color="#1f988a"/><stop offset=".138" stop-color="#1f9e88"/><stop offset=".172" stop-color="#1f9e88"/><stop offset=".207" stop-color="#21a585"/><stop offset=".241" stop-color="#1f9f88"/><stop offset=".248" stop-color="#25ab82"/><stop offset=".276" stop-color="#2eb37c"/><stop offset=".310" stop-color="#63ca5f"/><stop offset=".345" stop-color="#c1df24"/><stop offset=".356" stop-color="#e6e41b"/><stop offset=".379" stop-color="#e2e319"/><stop offset=".414" stop-color="#e1e319"/><stop offset=".448" stop-color="#c7e022"/><stop offset=".483" stop-color="#cae121"/><stop offset=".517" stop-color="#cfe11f"/><stop offset=".552" stop-color="#cde11f"/><stop offset=".586" stop-color="#cbe120"/><stop offset=".621" stop-color="#d1e11e"/><stop offset=".655" stop-color="#d5e21c"/><stop offset=".690" stop-color="#d4e21d"/><stop offset=".724" stop-color="#e7e41b"/><stop offset=".759" stop-color="#e9e41c"/><stop offset=".793" stop-color="#cee11f"/><stop offset=".828" stop-color="#dfe318"/><stop offset=".862" stop-color="#e7e41b"/><stop offset=".897" stop-color="#cce120"/><stop offset=".931" stop-color="#f0e51f"/><stop offset=".966" stop-color="#e3e41a"/><stop offset=".998" stop-color="#e0e318"/><stop offset="1.000" stop-color="#dee318"/></linearGradient><linearGradient id="hg21" x1="0" x2="1" y1="0" y2="0"><stop offset=".000" stop-color="#21908c"/><stop offset=".034" stop-color="#20968b"/><stop offset=".069" stop-color="#20968b"/><stop offset=".103" stop-color="#1f988a"/><stop offset=".138" stop-color="#1fa087"/><stop offset=".172" stop-color="#1f9a8a"/><stop offset=".207" stop-color="#22a784"/><stop offset=".241" stop-color="#21a486"/><stop offset=".248" stop-color="#1f9e88"/><stop offset=".276" stop-color="#4cc26c"/><stop offset=".310" stop-color="#8ed644"/><stop offset=".343" stop-color="#fde725"/><stop offset=".345" stop-color="#fbe724"/><stop offset=".379" stop-color="#eae51d"/><stop offset=".414" stop-color="#fde725"/><stop offset=".448" stop-color="#f0e51f"/><stop offset=".483" stop-color="#fde725"/><stop offset=".517" stop-color="#e6e41b"/><stop offset=".552" stop-color="#f1e520"/><stop offset=".586" stop-color="#fde725"/><stop offset=".621" stop-color="#f2e620"/><stop offset=".655" stop-color="#f5e621"/><stop offset=".690" stop-color="#ede51e"/><stop offset=".724" stop-color="#fde725"/><stop offset=".759" stop-color="#fde725"/><stop offset=".793" stop-color="#f6e622"/><stop offset=".828" stop-color="#fde725"/><stop offset=".862" stop-color="#fde725"/><stop offset=".897" stop-color="#fde725"/><stop offset=".931" stop-color="#fde725"/><stop offset=".966" stop-color="#fde725"/><stop offset=".998" stop-color="#fce725"/><stop offset="1.000" stop-color="#fde725"/></linearGradient><linearGradient id="hg22" x1="0" x2="1" y1="0" y2="0"><stop offset=".000" stop-color="#238c8d"/><stop offset=".034" stop-color="#21938c"/><stop offset=".069" stop-color="#1e9b89"/><stop offset=".103" stop-color="#1f9e88"/><stop offset=".138" stop-color="#20a187"/><stop offset=".172" stop-color="#21a585"/><stop offset=".207" stop-color="#1e9c89"/><stop offset=".241" stop-color="#1f9f88"/><stop offset=".257" stop-color="#21a486"/><stop offset=".276" stop-color="#2db27d"/><stop offset=".310" stop-color="#48c06e"/><stop offset=".345" stop-color="#8fd644"/><stop offset=".356" stop-color="#91d743"/><stop offset=".379" stop-color="#a0da38"/><stop offset=".414" stop-color="#9eda3a"/><stop offset=".448" stop-color="#90d643"/><stop offset=".483" stop-color="#94d740"/><stop offset=".517" stop-color="#9ed93a"/><stop offset=".552" stop-color="#98d83e"/><stop offset=".586" stop-color="#8dd645"/><stop offset=".621" stop-color="#a6db35"/><stop offset=".655" stop-color="#8dd645"/><stop offset=".690" stop-color="#8bd546"/><stop offset=".724" stop-color="#82d34c"/><stop offset=".759" stop-color="#a3da37"/><stop offset=".793" stop-color="#98d83e"/><stop offset=".828" stop-color="#96d83f"/><stop offset=".862" stop-color="#8fd644"/><stop offset=".897" stop-color="#82d34c"/><stop offset=".931" stop-color="#7ad151"/><stop offset=".966" stop-color="#8fd644"/><stop offset=".998" stop-color="#98d83e"/><stop offset="1.000" stop-color="#9fda39"/></linearGradient><linearGradient id="hg23" x1="0" x2="1" y1="0" y2="0"><stop offset=".000" stop-color="#1f988a"/><stop offset=".034" stop-color="#1e9d89"/><stop offset=".069" stop-color="#20a386"/><stop offset=".103" stop-color="#1e9d89"/><stop offset=".138" stop-color="#1f9f88"/><stop offset=".172" stop-color="#24aa83"/><stop offset=".207" stop-color="#23a984"/><stop offset=".241" stop-color="#2cb17e"/><stop offset=".270" stop-color="#32b67a"/><stop offset=".276" stop-color="#28ae80"/><stop offset=".310" stop-color="#52c568"/><stop offset=".345" stop-color="#7bd151"/><stop offset=".378" stop-color="#b7de2a"/><stop offset=".379" stop-color="#cfe11e"/><stop offset=".414" stop-color="#b0dd2e"/><stop offset=".448" stop-color="#b7de2a"/><stop offset=".483" stop-color="#addc30"/><stop offset=".517" stop-color="#abdc32"/><stop offset=".552" stop-color="#a8db34"/><stop offset=".586" stop-color="#a4db36"/><stop offset=".621" stop-color="#c1df24"/><stop offset=".655" stop-color="#bcdf27"/><stop offset=".690" stop-color="#acdc31"/><stop offset=".724" stop-color="#bcdf27"/><stop offset=".759" stop-color="#c2e024"/><stop offset=".793" stop-color="#a5db35"/><stop offset=".828" stop-color="#b4dd2c"/><stop offset=".862" stop-color="#9ed93a"/><stop offset=".897" stop-color="#a3da37"/><stop offset=".931" stop-color="#a5db36"/><stop offset=".966" stop-color="#a8db34"/><stop offset=".998" stop-color="#addc30"/><stop offset="1.000" stop-color="#a3da37"/></linearGradient><linearGradient id="hg24" x1="0" x2="1" y1="0" y2="0"><stop offset=".000" stop-color="#1f9a8a"/><stop offset=".034" stop-color="#20a286"/><stop offset=".069" stop-color="#1f9a8a"/><stop offset=".103" stop-color="#21a685"/><stop offset=".138" stop-color="#1fa087"/><stop offset=".172" stop-color="#21a685"/><stop offset=".207" stop-color="#26ab82"/><stop offset=".241" stop-color="#21a585"/><stop offset=".257" stop-color="#26ac82"/><stop offset=".276" stop-color="#58c765"/><stop offset=".310" stop-color="#c2e024"/><stop offset=".326" stop-color="#efe51f"/><stop offset=".345" stop-color="#e9e41c"/><stop offset=".379" stop-color="#fde725"/><stop offset=".414" stop-color="#efe51f"/><stop offset=".448" stop-color="#fde725"/><stop offset=".483" stop-color="#f9e723"/><stop offset=".517" stop-color="#ece51d"/><stop offset=".552" stop-color="#f5e621"/><stop offset=".586" stop-color="#f5e622"/><stop offset=".621" stop-color="#fde725"/><stop offset=".655" stop-color="#f1e520"/><stop offset=".690" stop-color="#fde725"/><stop offset=".724" stop-color="#fde725"/><stop offset=".759" stop-color="#f4e621"/><stop offset=".793" stop-color="#fde725"/><stop offset=".828" stop-color="#fde725"/><stop offset=".862" stop-color="#fde725"/><stop offset=".897" stop-color="#fde725"/><stop offset=".931" stop-color="#fde725"/><stop offset=".966" stop-color="#fde725"/><stop offset=".998" stop-color="#fde725"/><stop offset="1.000" stop-color="#f5e621"/></linearGradient><linearGradient id="hg25" x1="0" x2="1" y1="0" y2="0"><stop offset=".000" stop-color="#1e9d89"/><stop offset=".034" stop-color="#20968b"/><stop offset=".069" stop-color="#20a386"/><stop offset=".103" stop-color="#1f998a"/><stop offset=".138" stop-color="#1f9e88"/><stop offset=".172" stop-color="#1f988a"/><stop offset=".207" stop-color="#1e9a89"/><stop offset=".241" stop-color="#1f9f88"/><stop offset=".276" stop-color="#20a286"/><stop offset=".291" stop-color="#1f9a8a"/><stop offset=".310" stop-color="#1e9b89"/><stop offset=".345" stop-color="#1f9e88"/><stop offset=".379" stop-color="#24aa83"/><stop offset=".414" stop-color="#27ad81"/><stop offset=".421" stop-color="#24aa83"/><stop offset=".448" stop-color="#23a983"/><stop offset=".483" stop-color="#27ac81"/><stop offset=".517" stop-color="#25ab82"/><stop offset=".552" stop-color="#22a884"/><stop offset=".586" stop-color="#21a685"/><stop offset=".621" stop-color="#1e9d89"/><stop offset=".655" stop-color="#1f988a"/><stop offset=".690" stop-color="#1e9d89"/><stop offset=".724" stop-color="#1f998a"/><stop offset=".725" stop-color="#1f998a"/><stop offset=".759" stop-color="#21918c"/><stop offset=".793" stop-color="#21918c"/><stop offset=".828" stop-color="#1f998a"/><stop offset=".862" stop-color="#21908c"/><stop offset=".897" stop-color="#20938b"/><stop offset=".931" stop-color="#1f978a"/><stop offset=".966" stop-color="#20948b"/><stop offset=".998" stop-color="#20968b"/><stop offset="1.000" stop-color="#238c8d"/></linearGradient><linearGradient id="hg26" x1="0" x2="1" y1="0" y2="0"><stop offset=".000" stop-color="#20968b"/><stop offset=".034" stop-color="#1e9b89"/><stop offset=".069" stop-color="#1e9c89"/><stop offset=".103" stop-color="#1f988a"/><stop offset=".138" stop-color="#20958b"/><stop offset=".172" stop-color="#20948b"/><stop offset=".207" stop-color="#1f988a"/><stop offset=".241" stop-color="#20958b"/><stop offset=".276" stop-color="#1f978a"/><stop offset=".291" stop-color="#1e9d89"/><stop offset=".310" stop-color="#25ab82"/><stop offset=".345" stop-color="#5bc863"/><stop offset=".379" stop-color="#82d34c"/><stop offset=".400" stop-color="#acdc31"/><stop offset=".414" stop-color="#b0dd2e"/><stop offset=".448" stop-color="#bfdf25"/><stop offset=".483" stop-color="#b7de2a"/><stop offset=".517" stop-color="#d4e21c"/><stop offset=".552" stop-color="#d0e11e"/><stop offset=".586" stop-color="#e3e41a"/><stop offset=".621" stop-color="#cae121"/><stop offset=".655" stop-color="#e8e41c"/><stop offset=".690" stop-color="#d3e21d"/><stop offset=".724" stop-color="#e7e41c"/><stop offset=".759" stop-color="#ece51e"/><stop offset=".793" stop-color="#dbe31a"/><stop offset=".828" stop-color="#dfe318"/><stop offset=".862" stop-color="#d6e21c"/><stop offset=".897" stop-color="#f1e520"/><stop offset=".931" stop-color="#efe51f"/><stop offset=".966" stop-color="#f7e622"/><stop offset=".998" stop-color="#e3e41a"/><stop offset="1.000" stop-color="#e3e41a"/></linearGradient><linearGradient id="hg27" x1="0" x2="1" y1="0" y2="0"><stop offset=".000" stop-color="#1f998a"/><stop offset=".034" stop-color="#1e9b89"/><stop offset=".069" stop-color="#21928c"/><stop offset=".103" stop-color="#1f9e88"/><stop offset=".138" stop-color="#1e9b89"/><stop offset=".172" stop-color="#1e9c89"/><stop offset=".207" stop-color="#1fa088"/><stop offset=".241" stop-color="#1f998a"/><stop offset=".276" stop-color="#1fa087"/><stop offset=".310" stop-color="#1f9f88"/><stop offset=".313" stop-color="#1f978a"/><stop offset=".345" stop-color="#2fb47c"/><stop offset=".379" stop-color="#58c765"/><stop offset=".414" stop-color="#99d83d"/><stop offset=".421" stop-color="#a7db34"/><stop offset=".448" stop-color="#a2da38"/><stop offset=".483" stop-color="#a2da38"/><stop offset=".517" stop-color="#b1dd2e"/><stop offset=".552" stop-color="#95d840"/><stop offset=".586" stop-color="#96d83f"/><stop offset=".621" stop-color="#acdc31"/><stop offset=".655" stop-color="#afdd2f"/><stop offset=".690" stop-color="#bddf26"/><stop offset=".724" stop-color="#b5de2b"/><stop offset=".759" stop-color="#b0dd2e"/><stop offset=".793" stop-color="#c1e024"/><stop offset=".828" stop-color="#a4db36"/><stop offset=".862" stop-color="#abdc32"/><stop offset=".897" stop-color="#cbe120"/><stop offset=".931" stop-color="#c2e024"/><stop offset=".966" stop-color="#c1df24"/><stop offset=".998" stop-color="#bfdf25"/><stop offset="1.000" stop-color="#acdc31"/></linearGradient><linearGradient id="hg28" x1="0" x2="1" y1="0" y2="0"><stop offset=".000" stop-color="#20968b"/><stop offset=".034" stop-color="#1f9f88"/><stop offset=".069" stop-color="#1e9b89"/><stop offset=".103" stop-color="#20938b"/><stop offset=".138" stop-color="#1e9b89"/><stop offset=".172" stop-color="#20968b"/><stop offset=".207" stop-color="#20958b"/><stop offset=".241" stop-color="#1fa087"/><stop offset=".276" stop-color="#20a386"/><stop offset=".291" stop-color="#1e9d89"/><stop offset=".310" stop-color="#25ab82"/><stop offset=".345" stop-color="#39b976"/><stop offset=".379" stop-color="#65cb5d"/><stop offset=".414" stop-color="#a7db34"/><stop offset=".421" stop-color="#acdc31"/><stop offset=".448" stop-color="#dbe31a"/><stop offset=".483" stop-color="#d9e21b"/><stop offset=".508" stop-color="#f3e621"/><stop offset=".517" stop-color="#e5e41a"/><stop offset=".552" stop-color="#ebe51d"/><stop offset=".586" stop-color="#f1e520"/><stop offset=".621" stop-color="#f8e623"/><stop offset=".655" stop-color="#f1e520"/><stop offset=".690" stop-color="#fbe724"/><stop offset=".724" stop-color="#fde725"/><stop offset=".759" stop-color="#efe51f"/><stop offset=".793" stop-color="#fde725"/><stop offset=".828" stop-color="#eee51f"/><stop offset=".862" stop-color="#fde725"/><stop offset=".897" stop-color="#fde725"/><stop offset=".931" stop-color="#fde725"/><stop offset=".966" stop-color="#fde725"/><stop offset=".998" stop-color="#fde725"/><stop offset="1.000" stop-color="#fde725"/></linearGradient><linearGradient id="hg29" x1="0" x2="1" y1="0" y2="0"><stop offset=".000" stop-color="#228e8c"/><stop offset=".034" stop-color="#21908c"/><stop offset=".069" stop-color="#228e8c"/><stop offset=".103" stop-color="#20958b"/><stop offset=".138" stop-color="#1f978a"/><stop offset=".172" stop-color="#20958b"/><stop offset=".207" stop-color="#1f978a"/><stop offset=".241" stop-color="#1f9a8a"/><stop offset=".276" stop-color="#1f978a"/><stop offset=".310" stop-color="#1f998a"/><stop offset=".335" stop-color="#1e9d89"/><stop offset=".345" stop-color="#1f9e88"/><stop offset=".379" stop-color="#25ab82"/><stop offset=".414" stop-color="#2eb37c"/><stop offset=".448" stop-color="#39b976"/><stop offset=".483" stop-color="#44bf70"/><stop offset=".508" stop-color="#48c16e"/><stop offset=".517" stop-color="#57c666"/><stop offset=".552" stop-color="#57c666"/><stop offset=".586" stop-color="#4bc26c"/><stop offset=".621" stop-color="#48c16e"/><stop offset=".655" stop-color="#51c469"/><stop offset=".690" stop-color="#4ec36b"/><stop offset=".724" stop-color="#4fc36a"/><stop offset=".759" stop-color="#50c469"/><stop offset=".793" stop-color="#51c469"/><stop offset=".828" stop-color="#47c06e"/><stop offset=".862" stop-color="#57c666"/><stop offset=".897" stop-color="#66cb5d"/><stop offset=".931" stop-color="#4cc26c"/><stop offset=".966" stop-color="#60c961"/><stop offset=".998" stop-color="#60c961"/><stop offset="1.000" stop-color="#69cc5b"/></linearGradient><linearGradient id="hg30" x1="0" x2="1" y1="0" y2="0"><stop offset=".000" stop-color="#1f988a"/><stop offset=".034" stop-color="#1f978a"/><stop offset=".069" stop-color="#1f978a"/><stop offset=".103" stop-color="#1e9c89"/><stop offset=".138" stop-color="#1e9c89"/><stop offset=".172" stop-color="#1f9a8a"/><stop offset=".207" stop-color="#1f998a"/><stop offset=".241" stop-color="#1e9c89"/><stop offset=".276" stop-color="#22a884"/><stop offset=".310" stop-color="#23a983"/><stop offset=".335" stop-color="#21a685"/><stop offset=".345" stop-color="#21a585"/><stop offset=".379" stop-color="#33b67a"/><stop offset=".414" stop-color="#54c567"/><stop offset=".448" stop-color="#72cf56"/><stop offset=".465" stop-color="#68cc5c"/><stop offset=".483" stop-color="#8ad547"/><stop offset=".517" stop-color="#83d34b"/><stop offset=".552" stop-color="#7bd150"/><stop offset=".586" stop-color="#85d44a"/><stop offset=".621" stop-color="#68cc5c"/><stop offset=".655" stop-color="#6bcd5a"/><stop offset=".690" stop-color="#7dd24f"/><stop offset=".724" stop-color="#72cf56"/><stop offset=".759" stop-color="#7cd150"/><stop offset=".793" stop-color="#7fd24e"/><stop offset=".828" stop-color="#86d44a"/><stop offset=".862" stop-color="#6dcd59"/><stop offset=".897" stop-color="#75d054"/><stop offset=".931" stop-color="#89d548"/><stop offset=".966" stop-color="#76d054"/><stop offset=".998" stop-color="#67cc5d"/><stop offset="1.000" stop-color="#69cc5b"/></linearGradient><linearGradient id="hg31" x1="0" x2="1" y1="0" y2="0"><stop offset=".000" stop-color="#21928c"/><stop offset=".034" stop-color="#1f9f88"/><stop offset=".069" stop-color="#20958b"/><stop offset=".103" stop-color="#1f998a"/><stop offset=".138" stop-color="#1f988a"/><stop offset=".172" stop-color="#1f988a"/><stop offset=".207" stop-color="#1f9e88"/><stop offset=".241" stop-color="#21a486"/><stop offset=".276" stop-color="#22a884"/><stop offset=".291" stop-color="#21a585"/><stop offset=".310" stop-color="#34b679"/><stop offset=".345" stop-color="#55c567"/><stop offset=".378" stop-color="#8bd546"/><stop offset=".379" stop-color="#a7db34"/><stop offset=".414" stop-color="#cee11f"/><stop offset=".448" stop-color="#e2e319"/><stop offset=".465" stop-color="#e8e41c"/><stop offset=".483" stop-color="#f2e620"/><stop offset=".517" stop-color="#f8e623"/><stop offset=".552" stop-color="#f1e520"/><stop offset=".586" stop-color="#f1e520"/><stop offset=".621" stop-color="#f9e723"/><stop offset=".638" stop-color="#fde725"/><stop offset=".655" stop-color="#f3e621"/><stop offset=".690" stop-color="#ebe51d"/><stop offset=".724" stop-color="#e0e318"/><stop offset=".759" stop-color="#f1e520"/><stop offset=".793" stop-color="#e0e318"/><stop offset=".828" stop-color="#e4e41a"/><stop offset=".862" stop-color="#d7e21b"/><stop offset=".897" stop-color="#dde319"/><stop offset=".931" stop-color="#eee51f"/><stop offset=".966" stop-color="#dae21a"/><stop offset=".998" stop-color="#f1e520"/><stop offset="1.000" stop-color="#d4e21c"/></linearGradient><linearGradient id="hg32" x1="0" x2="1" y1="0" y2="0"><stop offset=".000" stop-color="#1e9c89"/><stop offset=".034" stop-color="#1e9b89"/><stop offset=".069" stop-color="#1e9d89"/><stop offset=".103" stop-color="#1e9b89"/><stop offset=".138" stop-color="#1e9b89"/><stop offset=".172" stop-color="#1f9f88"/><stop offset=".207" stop-color="#1e9c89"/><stop offset=".241" stop-color="#21a685"/><stop offset=".276" stop-color="#20a286"/><stop offset=".310" stop-color="#22a884"/><stop offset=".335" stop-color="#20a386"/><stop offset=".345" stop-color="#27ac81"/><stop offset=".379" stop-color="#2db27d"/><stop offset=".414" stop-color="#36b878"/><stop offset=".448" stop-color="#61ca60"/><stop offset=".483" stop-color="#86d449"/><stop offset=".508" stop-color="#90d643"/><stop offset=".517" stop-color="#94d741"/><stop offset=".552" stop-color="#88d448"/><stop offset=".586" stop-color="#85d44a"/><stop offset=".621" stop-color="#87d449"/><stop offset=".655" stop-color="#95d840"/><stop offset=".690" stop-color="#a3da37"/><stop offset=".724" stop-color="#83d34b"/><stop offset=".759" stop-color="#8cd546"/><stop offset=".793" stop-color="#89d548"/><stop offset=".828" stop-color="#a5db35"/><stop offset=".862" stop-color="#a8db34"/><stop offset=".897" stop-color="#9dd93b"/><stop offset=".931" stop-color="#94d740"/><stop offset=".966" stop-color="#9eda3a"/><stop offset=".998" stop-color="#aadc33"/><stop offset="1.000" stop-color="#8ed644"/></linearGradient><linearGradient id="hg33" x1="0" x2="1" y1="0" y2="0"><stop offset=".000" stop-color="#20a386"/><stop offset=".034" stop-color="#1f998a"/><stop offset=".069" stop-color="#1e9a89"/><stop offset=".103" stop-color="#1e9b89"/><stop offset=".138" stop-color="#1e9d89"/><stop offset=".172" stop-color="#1e9c89"/><stop offset=".207" stop-color="#1f9e88"/><stop offset=".241" stop-color="#21a585"/><stop offset=".276" stop-color="#20a187"/><stop offset=".310" stop-color="#21a486"/><stop offset=".345" stop-color="#21a685"/><stop offset=".378" stop-color="#1fa087"/><stop offset=".379" stop-color="#1f9e88"/><stop offset=".414" stop-color="#23a983"/><stop offset=".448" stop-color="#20a386"/><stop offset=".483" stop-color="#20a187"/><stop offset=".517" stop-color="#23a983"/><stop offset=".552" stop-color="#29ae80"/><stop offset=".586" stop-color="#2aaf7f"/><stop offset=".621" stop-color="#21a585"/><stop offset=".655" stop-color="#22a884"/><stop offset=".690" stop-color="#24aa83"/><stop offset=".724" stop-color="#2eb37d"/><stop offset=".759" stop-color="#24aa83"/><stop offset=".793" stop-color="#2ab07f"/><stop offset=".828" stop-color="#2cb17e"/><stop offset=".862" stop-color="#37b877"/><stop offset=".897" stop-color="#36b878"/><stop offset=".931" stop-color="#31b57b"/><stop offset=".966" stop-color="#35b779"/><stop offset=".998" stop-color="#2fb47c"/><stop offset="1.000" stop-color="#34b779"/></linearGradient><pattern id="tx34" patternUnits="userSpaceOnUse" x="32.80" y="137.70" width="43.0" height="49.10"><path d="M2.15 0.0h2.15v2.73h-2.15zM30.10 0.0h2.15v2.73h-2.15zM40.85 0.0h2.15v2.73h-2.15zM0.00 2.7h2.15v2.73h-2.15zM15.05 2.7h2.15v2.73h-2.15zM32.25 2.7h2.15v2.73h-2.15zM34.40 2.7h2.15v2.73h-2.15zM12.90 5.5h2.15v2.73h-2.15zM27.95 5.5h2.15v2.73h-2.15zM21.50 10.9h2.15v2.73h-2.15zM25.80 10.9h2.15v2.73h-2.15zM30.10 10.9h2.15v2.73h-2.15zM40.85 10.9h2.15v2.73h-2.15zM27.95 19.1h2.15v2.73h-2.15zM15.05 21.8h2.15v2.73h-2.15zM27.95 21.8h2.15v2.73h-2.15zM30.10 21.8h2.15v2.73h-2.15zM6.45 24.6h2.15v2.73h-2.15zM21.50 24.6h2.15v2.73h-2.15zM17.20 27.3h2.15v2.73h-2.15zM2.15 30.0h2.15v2.73h-2.15zM4.30 30.0h2.15v2.73h-2.15zM27.95 30.0h2.15v2.73h-2.15zM4.30 32.7h2.15v2.73h-2.15zM27.95 32.7h2.15v2.73h-2.15zM38.70 32.7h2.15v2.73h-2.15zM40.85 32.7h2.15v2.73h-2.15zM4.30 35.5h2.15v2.73h-2.15zM10.75 35.5h2.15v2.73h-2.15zM12.90 35.5h2.15v2.73h-2.15zM17.20 38.2h2.15v2.73h-2.15zM4.30 40.9h2.15v2.73h-2.15zM15.05 40.9h2.15v2.73h-2.15zM25.80 40.9h2.15v2.73h-2.15zM30.10 46.4h2.15v2.73h-2.15z" fill="#fff" fill-opacity="0.078"/><path d="M4.30 0.0h2.15v2.73h-2.15zM32.25 0.0h2.15v2.73h-2.15zM36.55 0.0h2.15v2.73h-2.15zM8.60 2.7h2.15v2.73h-2.15zM23.65 2.7h2.15v2.73h-2.15zM27.95 2.7h2.15v2.73h-2.15zM36.55 2.7h2.15v2.73h-2.15zM6.45 5.5h2.15v2.73h-2.15zM19.35 5.5h2.15v2.73h-2.15zM0.00 8.2h2.15v2.73h-2.15zM6.45 8.2h2.15v2.73h-2.15zM32.25 8.2h2.15v2.73h-2.15zM34.40 8.2h2.15v2.73h-2.15zM4.30 10.9h2.15v2.73h-2.15zM27.95 10.9h2.15v2.73h-2.15zM34.40 10.9h2.15v2.73h-2.15zM36.55 13.6h2.15v2.73h-2.15zM15.05 16.4h2.15v2.73h-2.15zM21.50 16.4h2.15v2.73h-2.15zM30.10 16.4h2.15v2.73h-2.15zM25.80 19.1h2.15v2.73h-2.15zM4.30 21.8h2.15v2.73h-2.15zM8.60 21.8h2.15v2.73h-2.15zM12.90 21.8h2.15v2.73h-2.15zM8.60 24.6h2.15v2.73h-2.15zM15.05 27.3h2.15v2.73h-2.15zM6.45 30.0h2.15v2.73h-2.15zM10.75 32.7h2.15v2.73h-2.15zM21.50 32.7h2.15v2.73h-2.15zM30.10 32.7h2.15v2.73h-2.15zM23.65 35.5h2.15v2.73h-2.15zM4.30 38.2h2.15v2.73h-2.15zM6.45 38.2h2.15v2.73h-2.15zM19.35 38.2h2.15v2.73h-2.15zM36.55 38.2h2.15v2.73h-2.15zM21.50 40.9h2.15v2.73h-2.15zM23.65 40.9h2.15v2.73h-2.15zM34.40 40.9h2.15v2.73h-2.15zM38.70 40.9h2.15v2.73h-2.15zM40.85 43.6h2.15v2.73h-2.15zM6.45 46.4h2.15v2.73h-2.15zM8.60 46.4h2.15v2.73h-2.15zM25.80 46.4h2.15v2.73h-2.15z" fill="#fff" fill-opacity="0.099"/><path d="M6.45 0.0h2.15v2.73h-2.15zM23.65 0.0h2.15v2.73h-2.15zM27.95 0.0h2.15v2.73h-2.15zM19.35 2.7h2.15v2.73h-2.15zM15.05 5.5h2.15v2.73h-2.15zM25.80 5.5h2.15v2.73h-2.15zM2.15 8.2h2.15v2.73h-2.15zM10.75 8.2h2.15v2.73h-2.15zM21.50 8.2h2.15v2.73h-2.15zM27.95 8.2h2.15v2.73h-2.15zM12.90 10.9h2.15v2.73h-2.15zM10.75 13.6h2.15v2.73h-2.15zM15.05 13.6h2.15v2.73h-2.15zM19.35 13.6h2.15v2.73h-2.15zM40.85 13.6h2.15v2.73h-2.15zM0.00 16.4h2.15v2.73h-2.15zM34.40 16.4h2.15v2.73h-2.15zM23.65 19.1h2.15v2.73h-2.15zM36.55 19.1h2.15v2.73h-2.15zM23.65 21.8h2.15v2.73h-2.15zM0.00 24.6h2.15v2.73h-2.15zM27.95 24.6h2.15v2.73h-2.15zM30.10 24.6h2.15v2.73h-2.15zM36.55 24.6h2.15v2.73h-2.15zM40.85 24.6h2.15v2.73h-2.15zM2.15 27.3h2.15v2.73h-2.15zM6.45 27.3h2.15v2.73h-2.15zM21.50 27.3h2.15v2.73h-2.15zM0.00 30.0h2.15v2.73h-2.15zM21.50 30.0h2.15v2.73h-2.15zM30.10 30.0h2.15v2.73h-2.15zM32.25 30.0h2.15v2.73h-2.15zM34.40 30.0h2.15v2.73h-2.15zM19.35 32.7h2.15v2.73h-2.15zM25.80 32.7h2.15v2.73h-2.15zM6.45 35.5h2.15v2.73h-2.15zM17.20 35.5h2.15v2.73h-2.15zM27.95 35.5h2.15v2.73h-2.15zM0.00 38.2h2.15v2.73h-2.15zM2.15 38.2h2.15v2.73h-2.15zM21.50 38.2h2.15v2.73h-2.15zM8.60 40.9h2.15v2.73h-2.15zM19.35 40.9h2.15v2.73h-2.15zM6.45 43.6h2.15v2.73h-2.15zM17.20 43.6h2.15v2.73h-2.15zM21.50 43.6h2.15v2.73h-2.15zM23.65 43.6h2.15v2.73h-2.15zM27.95 43.6h2.15v2.73h-2.15zM2.15 46.4h2.15v2.73h-2.15z" fill="#000" fill-opacity="0.056"/><path d="M8.60 0.0h2.15v2.73h-2.15zM10.75 0.0h2.15v2.73h-2.15zM21.50 0.0h2.15v2.73h-2.15zM4.30 2.7h2.15v2.73h-2.15zM2.15 5.5h2.15v2.73h-2.15zM10.75 5.5h2.15v2.73h-2.15zM15.05 8.2h2.15v2.73h-2.15zM25.80 8.2h2.15v2.73h-2.15zM40.85 8.2h2.15v2.73h-2.15zM2.15 10.9h2.15v2.73h-2.15zM38.70 10.9h2.15v2.73h-2.15zM21.50 13.6h2.15v2.73h-2.15zM38.70 13.6h2.15v2.73h-2.15zM8.60 16.4h2.15v2.73h-2.15zM32.25 16.4h2.15v2.73h-2.15zM6.45 19.1h2.15v2.73h-2.15zM8.60 19.1h2.15v2.73h-2.15zM32.25 19.1h2.15v2.73h-2.15zM40.85 19.1h2.15v2.73h-2.15zM21.50 21.8h2.15v2.73h-2.15zM15.05 24.6h2.15v2.73h-2.15zM19.35 24.6h2.15v2.73h-2.15zM25.80 24.6h2.15v2.73h-2.15zM4.30 27.3h2.15v2.73h-2.15zM32.25 27.3h2.15v2.73h-2.15zM15.05 30.0h2.15v2.73h-2.15zM17.20 30.0h2.15v2.73h-2.15zM23.65 30.0h2.15v2.73h-2.15zM25.80 30.0h2.15v2.73h-2.15zM17.20 32.7h2.15v2.73h-2.15zM23.65 32.7h2.15v2.73h-2.15zM2.15 35.5h2.15v2.73h-2.15zM8.60 38.2h2.15v2.73h-2.15zM32.25 38.2h2.15v2.73h-2.15zM34.40 38.2h2.15v2.73h-2.15zM6.45 40.9h2.15v2.73h-2.15zM17.20 40.9h2.15v2.73h-2.15zM32.25 43.6h2.15v2.73h-2.15zM0.00 46.4h2.15v2.73h-2.15zM10.75 46.4h2.15v2.73h-2.15zM21.50 46.4h2.15v2.73h-2.15z" fill="#fff" fill-opacity="0.056"/><path d="M15.05 0.0h2.15v2.73h-2.15zM2.15 2.7h2.15v2.73h-2.15zM10.75 2.7h2.15v2.73h-2.15zM30.10 2.7h2.15v2.73h-2.15zM30.10 5.5h2.15v2.73h-2.15zM38.70 5.5h2.15v2.73h-2.15zM10.75 10.9h2.15v2.73h-2.15zM15.05 10.9h2.15v2.73h-2.15zM17.20 10.9h2.15v2.73h-2.15zM19.35 10.9h2.15v2.73h-2.15zM17.20 13.6h2.15v2.73h-2.15zM2.15 16.4h2.15v2.73h-2.15zM2.15 19.1h2.15v2.73h-2.15zM34.40 19.1h2.15v2.73h-2.15zM38.70 21.8h2.15v2.73h-2.15zM0.00 27.3h2.15v2.73h-2.15zM8.60 27.3h2.15v2.73h-2.15zM12.90 27.3h2.15v2.73h-2.15zM19.35 27.3h2.15v2.73h-2.15zM34.40 27.3h2.15v2.73h-2.15zM38.70 27.3h2.15v2.73h-2.15zM12.90 30.0h2.15v2.73h-2.15zM36.55 30.0h2.15v2.73h-2.15zM40.85 30.0h2.15v2.73h-2.15zM8.60 32.7h2.15v2.73h-2.15zM34.40 32.7h2.15v2.73h-2.15zM8.60 35.5h2.15v2.73h-2.15zM25.80 35.5h2.15v2.73h-2.15zM10.75 38.2h2.15v2.73h-2.15zM12.90 38.2h2.15v2.73h-2.15zM30.10 38.2h2.15v2.73h-2.15zM2.15 40.9h2.15v2.73h-2.15zM40.85 40.9h2.15v2.73h-2.15zM4.30 43.6h2.15v2.73h-2.15zM10.75 43.6h2.15v2.73h-2.15zM32.25 46.4h2.15v2.73h-2.15zM36.55 46.4h2.15v2.73h-2.15z" fill="#000" fill-opacity="0.078"/><path d="M17.20 0.0h2.15v2.73h-2.15zM38.70 0.0h2.15v2.73h-2.15zM21.50 2.7h2.15v2.73h-2.15zM38.70 2.7h2.15v2.73h-2.15zM0.00 5.5h2.15v2.73h-2.15zM12.90 8.2h2.15v2.73h-2.15zM30.10 8.2h2.15v2.73h-2.15zM36.55 8.2h2.15v2.73h-2.15zM32.25 10.9h2.15v2.73h-2.15zM36.55 10.9h2.15v2.73h-2.15zM4.30 13.6h2.15v2.73h-2.15zM6.45 13.6h2.15v2.73h-2.15zM6.45 16.4h2.15v2.73h-2.15zM21.50 19.1h2.15v2.73h-2.15zM0.00 21.8h2.15v2.73h-2.15zM10.75 21.8h2.15v2.73h-2.15zM17.20 21.8h2.15v2.73h-2.15zM34.40 21.8h2.15v2.73h-2.15zM12.90 24.6h2.15v2.73h-2.15zM23.65 24.6h2.15v2.73h-2.15zM38.70 30.0h2.15v2.73h-2.15zM12.90 32.7h2.15v2.73h-2.15zM36.55 32.7h2.15v2.73h-2.15zM19.35 35.5h2.15v2.73h-2.15zM30.10 35.5h2.15v2.73h-2.15zM34.40 35.5h2.15v2.73h-2.15zM0.00 43.6h2.15v2.73h-2.15zM8.60 43.6h2.15v2.73h-2.15zM15.05 43.6h2.15v2.73h-2.15zM34.40 43.6h2.15v2.73h-2.15zM12.90 46.4h2.15v2.73h-2.15zM27.95 46.4h2.15v2.73h-2.15z" fill="#000" fill-opacity="0.099"/></pattern><linearGradient id="cb35" x1="0" x2="0" y1="0" y2="1"><stop offset="0.000" stop-color="#fde725"/><stop offset="0.050" stop-color="#dfe318"/><stop offset="0.100" stop-color="#bddf26"/><stop offset="0.150" stop-color="#9bd93c"/><stop offset="0.200" stop-color="#7ad151"/><stop offset="0.250" stop-color="#5ec962"/><stop offset="0.300" stop-color="#44bf70"/><stop offset="0.350" stop-color="#2fb47c"/><stop offset="0.400" stop-color="#22a884"/><stop offset="0.450" stop-color="#1e9c89"/><stop offset="0.500" stop-color="#21918c"/><stop offset="0.550" stop-color="#25848e"/><stop offset="0.600" stop-color="#2a788e"/><stop offset="0.650" stop-color="#2f6c8e"/><stop offset="0.700" stop-color="#355f8d"/><stop offset="0.750" stop-color="#3b528b"/><stop offset="0.800" stop-color="#414487"/><stop offset="0.850" stop-color="#463480"/><stop offset="0.900" stop-color="#482475"/><stop offset="0.950" stop-color="#471365"/><stop offset="1.000" stop-color="#440154"/></linearGradient><linearGradient id="hg36" x1="0" x2="1" y1="0" y2="0"><stop offset=".000" stop-color="#38578c"/><stop offset=".000" stop-color="#3a538b"/><stop offset=".034" stop-color="#3d4e8a"/><stop offset=".069" stop-color="#3a548b"/><stop offset=".103" stop-color="#375b8c"/><stop offset=".138" stop-color="#3a558b"/><stop offset=".172" stop-color="#39578c"/><stop offset=".207" stop-color="#3c518b"/><stop offset=".241" stop-color="#3a558b"/><stop offset=".264" stop-color="#3a548b"/><stop offset=".273" stop-color="#f4e621"/><stop offset=".276" stop-color="#f8e623"/><stop offset=".310" stop-color="#f3e620"/><stop offset=".345" stop-color="#fde725"/><stop offset=".379" stop-color="#fde725"/><stop offset=".414" stop-color="#fde725"/><stop offset=".415" stop-color="#fde725"/><stop offset=".448" stop-color="#a0da39"/><stop offset=".459" stop-color="#70ce57"/><stop offset=".483" stop-color="#78d052"/><stop offset=".517" stop-color="#5bc864"/><stop offset=".552" stop-color="#57c666"/><stop offset=".586" stop-color="#35b779"/><stop offset=".621" stop-color="#2cb17e"/><stop offset=".632" stop-color="#25aa82"/><stop offset=".655" stop-color="#2eb37c"/><stop offset=".690" stop-color="#29ae80"/><stop offset=".724" stop-color="#29af80"/><stop offset=".759" stop-color="#21a685"/><stop offset=".793" stop-color="#26ab82"/><stop offset=".828" stop-color="#22a785"/><stop offset=".862" stop-color="#21a585"/><stop offset=".897" stop-color="#1f988a"/><stop offset=".931" stop-color="#20a187"/><stop offset=".966" stop-color="#1fa087"/><stop offset=".999" stop-color="#1e9b89"/><stop offset="1.000" stop-color="#1f978a"/></linearGradient><linearGradient id="hg37" x1="0" x2="1" y1="0" y2="0"><stop offset=".000" stop-color="#404687"/><stop offset=".000" stop-color="#3d4c89"/><stop offset=".034" stop-color="#404788"/><stop offset=".065" stop-color="#404788"/><stop offset=".069" stop-color="#471a6b"/><stop offset=".070" stop-color="#471b6d"/><stop offset=".078" stop-color="#471365"/><stop offset=".083" stop-color="#3c4f8a"/><stop offset=".103" stop-color="#414387"/><stop offset=".138" stop-color="#3c4f8a"/><stop offset=".172" stop-color="#424085"/><stop offset=".173" stop-color="#404688"/><stop offset=".178" stop-color="#47196a"/><stop offset=".186" stop-color="#482172"/><stop offset=".191" stop-color="#3d4d8a"/><stop offset=".207" stop-color="#414487"/><stop offset=".241" stop-color="#3f4a89"/><stop offset=".276" stop-color="#3d4d8a"/><stop offset=".281" stop-color="#424286"/><stop offset=".294" stop-color="#fde725"/><stop offset=".310" stop-color="#fde725"/><stop offset=".338" stop-color="#fde725"/><stop offset=".345" stop-color="#c9e021"/><stop offset=".364" stop-color="#62ca60"/><stop offset=".379" stop-color="#3aba76"/><stop offset=".414" stop-color="#1f9f88"/><stop offset=".415" stop-color="#1e9b89"/><stop offset=".448" stop-color="#21918c"/><stop offset=".483" stop-color="#1f9e88"/><stop offset=".517" stop-color="#1e9c89"/><stop offset=".552" stop-color="#20958b"/><stop offset=".586" stop-color="#1f9e88"/><stop offset=".621" stop-color="#20938b"/><stop offset=".655" stop-color="#1f9e88"/><stop offset=".690" stop-color="#1f998a"/><stop offset=".724" stop-color="#21918c"/><stop offset=".759" stop-color="#1e9c89"/><stop offset=".793" stop-color="#20958b"/><stop offset=".828" stop-color="#21928c"/><stop offset=".862" stop-color="#20938b"/><stop offset=".897" stop-color="#21928c"/><stop offset=".931" stop-color="#1f978a"/><stop offset=".966" stop-color="#20958b"/><stop offset=".999" stop-color="#1e9d88"/><stop offset="1.000" stop-color="#20968b"/></linearGradient><linearGradient id="hg38" x1="0" x2="1" y1="0" y2="0"><stop offset=".000" stop-color="#404688"/><stop offset=".000" stop-color="#433e85"/><stop offset=".034" stop-color="#433f85"/><stop offset=".061" stop-color="#433d84"/><stop offset=".065" stop-color="#460d60"/><stop offset=".069" stop-color="#460a5d"/><stop offset=".074" stop-color="#471264"/><stop offset=".078" stop-color="#433e84"/><stop offset=".103" stop-color="#414387"/><stop offset=".134" stop-color="#443b83"/><stop offset=".138" stop-color="#482676"/><stop offset=".139" stop-color="#460c5e"/><stop offset=".147" stop-color="#471769"/><stop offset=".152" stop-color="#463580"/><stop offset=".172" stop-color="#453882"/><stop offset=".191" stop-color="#453781"/><stop offset=".195" stop-color="#481e6f"/><stop offset=".204" stop-color="#471869"/><stop offset=".207" stop-color="#463580"/><stop offset=".208" stop-color="#414587"/><stop offset=".241" stop-color="#404688"/><stop offset=".273" stop-color="#443b83"/><stop offset=".276" stop-color="#2a778e"/><stop offset=".286" stop-color="#fae724"/><stop offset=".310" stop-color="#fde725"/><stop offset=".345" stop-color="#fde725"/><stop offset=".379" stop-color="#fde725"/><stop offset=".414" stop-color="#fde725"/><stop offset=".448" stop-color="#fde725"/><stop offset=".463" stop-color="#f2e620"/><stop offset=".483" stop-color="#f6e622"/><stop offset=".517" stop-color="#b9de29"/><stop offset=".524" stop-color="#b5de2b"/><stop offset=".552" stop-color="#a7db34"/><stop offset=".586" stop-color="#9bd93c"/><stop offset=".621" stop-color="#a7db34"/><stop offset=".655" stop-color="#85d44a"/><stop offset=".690" stop-color="#88d448"/><stop offset=".696" stop-color="#6bcd5a"/><stop offset=".724" stop-color="#6ccd59"/><stop offset=".759" stop-color="#61ca60"/><stop offset=".793" stop-color="#6dcd59"/><stop offset=".828" stop-color="#79d151"/><stop offset=".862" stop-color="#68cc5c"/><stop offset=".897" stop-color="#6bcd5a"/><stop offset=".931" stop-color="#56c667"/><stop offset=".966" stop-color="#4fc36a"/><stop offset=".999" stop-color="#51c469"/><stop offset="1.000" stop-color="#69cc5b"/></linearGradient><linearGradient id="hg39" x1="0" x2="1" y1="0" y2="0"><stop offset=".000" stop-color="#463580"/><stop offset=".000" stop-color="#404688"/><stop offset=".034" stop-color="#453882"/><stop offset=".069" stop-color="#404788"/><stop offset=".103" stop-color="#404688"/><stop offset=".138" stop-color="#443982"/><stop offset=".172" stop-color="#433e84"/><stop offset=".207" stop-color="#443c83"/><stop offset=".241" stop-color="#443c83"/><stop offset=".273" stop-color="#414387"/><stop offset=".276" stop-color="#2b778e"/><stop offset=".286" stop-color="#f8e623"/><stop offset=".310" stop-color="#fde725"/><stop offset=".345" stop-color="#fde725"/><stop offset=".379" stop-color="#fde725"/><stop offset=".414" stop-color="#f4e621"/><stop offset=".448" stop-color="#fde725"/><stop offset=".483" stop-color="#fde725"/><stop offset=".517" stop-color="#fde725"/><stop offset=".552" stop-color="#fde725"/><stop offset=".586" stop-color="#fde725"/><stop offset=".621" stop-color="#f9e723"/><stop offset=".653" stop-color="#fde725"/><stop offset=".655" stop-color="#f5e621"/><stop offset=".690" stop-color="#c2e024"/><stop offset=".718" stop-color="#8cd545"/><stop offset=".724" stop-color="#9cd93c"/><stop offset=".759" stop-color="#9bd93c"/><stop offset=".793" stop-color="#8fd644"/><stop offset=".828" stop-color="#8bd546"/><stop offset=".862" stop-color="#7ed24f"/><stop offset=".897" stop-color="#74cf54"/><stop offset=".931" stop-color="#60c961"/><stop offset=".966" stop-color="#70ce57"/><stop offset=".999" stop-color="#6acc5b"/><stop offset="1.000" stop-color="#61ca60"/></linearGradient><linearGradient id="hg40" x1="0" x2="1" y1="0" y2="0"><stop offset=".000" stop-color="#424186"/><stop offset=".000" stop-color="#404688"/><stop offset=".034" stop-color="#3d4d8a"/><stop offset=".069" stop-color="#404788"/><stop offset=".103" stop-color="#414386"/><stop offset=".138" stop-color="#3e4a89"/><stop offset=".172" stop-color="#414487"/><stop offset=".207" stop-color="#3f4988"/><stop offset=".241" stop-color="#414386"/><stop offset=".264" stop-color="#3e4c89"/><stop offset=".273" stop-color="#24aa83"/><stop offset=".276" stop-color="#28ae80"/><stop offset=".310" stop-color="#34b779"/><stop offset=".329" stop-color="#25ab82"/><stop offset=".345" stop-color="#2d728e"/><stop offset=".351" stop-color="#39578c"/><stop offset=".379" stop-color="#39568c"/><stop offset=".414" stop-color="#39558c"/><stop offset=".448" stop-color="#38588c"/><stop offset=".483" stop-color="#3a548b"/><stop offset=".517" stop-color="#414587"/><stop offset=".524" stop-color="#3e4c89"/><stop offset=".552" stop-color="#414487"/><stop offset=".586" stop-color="#443a83"/><stop offset=".621" stop-color="#443a83"/><stop offset=".655" stop-color="#453782"/><stop offset=".690" stop-color="#463681"/><stop offset=".696" stop-color="#424085"/><stop offset=".724" stop-color="#443c83"/><stop offset=".759" stop-color="#472d7b"/><stop offset=".793" stop-color="#463581"/><stop offset=".828" stop-color="#472e7c"/><stop offset=".862" stop-color="#472d7b"/><stop offset=".897" stop-color="#453781"/><stop offset=".931" stop-color="#482777"/><stop offset=".966" stop-color="#46327f"/><stop offset=".999" stop-color="#463480"/><stop offset="1.000" stop-color="#482374"/></linearGradient><linearGradient id="hg41" x1="0" x2="1" y1="0" y2="0"><stop offset=".000" stop-color="#3f4888"/><stop offset=".000" stop-color="#3d4e8a"/><stop offset=".034" stop-color="#3c508a"/><stop offset=".069" stop-color="#3f4a89"/><stop offset=".103" stop-color="#3f4888"/><stop offset=".138" stop-color="#3b528b"/><stop offset=".172" stop-color="#3c4f8a"/><stop offset=".207" stop-color="#3f4888"/><stop offset=".241" stop-color="#3d4e8a"/><stop offset=".276" stop-color="#3c518b"/><stop offset=".277" stop-color="#3c518b"/><stop offset=".290" stop-color="#21908c"/><stop offset=".310" stop-color="#20948b"/><stop offset=".345" stop-color="#20958b"/><stop offset=".379" stop-color="#1e9c89"/><stop offset=".394" stop-color="#1f988a"/><stop offset=".414" stop-color="#20948b"/><stop offset=".448" stop-color="#1e9c89"/><stop offset=".483" stop-color="#21928c"/><stop offset=".517" stop-color="#228f8c"/><stop offset=".552" stop-color="#228e8d"/><stop offset=".586" stop-color="#21928c"/><stop offset=".621" stop-color="#20968b"/><stop offset=".632" stop-color="#228e8c"/><stop offset=".655" stop-color="#20968b"/><stop offset=".690" stop-color="#20958b"/><stop offset=".724" stop-color="#238b8d"/><stop offset=".759" stop-color="#228f8c"/><stop offset=".793" stop-color="#21908c"/><stop offset=".828" stop-color="#21908c"/><stop offset=".862" stop-color="#21908c"/><stop offset=".897" stop-color="#24868e"/><stop offset=".931" stop-color="#228f8c"/><stop offset=".966" stop-color="#24868e"/><stop offset=".999" stop-color="#238b8d"/><stop offset="1.000" stop-color="#238b8d"/></linearGradient><linearGradient id="hg42" x1="0" x2="1" y1="0" y2="0"><stop offset=".000" stop-color="#404688"/><stop offset=".000" stop-color="#3f4888"/><stop offset=".034" stop-color="#424286"/><stop offset=".069" stop-color="#3e4c89"/><stop offset=".103" stop-color="#424286"/><stop offset=".138" stop-color="#3e4b89"/><stop offset=".172" stop-color="#404587"/><stop offset=".207" stop-color="#3e4a89"/><stop offset=".241" stop-color="#3e4c89"/><stop offset=".276" stop-color="#433f85"/><stop offset=".290" stop-color="#3c4f8a"/><stop offset=".303" stop-color="#21928c"/><stop offset=".310" stop-color="#88d448"/><stop offset=".316" stop-color="#f2e620"/><stop offset=".345" stop-color="#fde725"/><stop offset=".379" stop-color="#fde725"/><stop offset=".403" stop-color="#fde725"/><stop offset=".414" stop-color="#d1e11e"/><stop offset=".437" stop-color="#69cc5b"/><stop offset=".448" stop-color="#49c16d"/><stop offset=".483" stop-color="#31b57b"/><stop offset=".502" stop-color="#1f9e88"/><stop offset=".517" stop-color="#1fa087"/><stop offset=".552" stop-color="#21a486"/><stop offset=".586" stop-color="#20a386"/><stop offset=".621" stop-color="#21a685"/><stop offset=".655" stop-color="#21a486"/><stop offset=".690" stop-color="#1e9c89"/><stop offset=".724" stop-color="#1e9c89"/><stop offset=".759" stop-color="#1e9c89"/><stop offset=".793" stop-color="#1f998a"/><stop offset=".828" stop-color="#20a187"/><stop offset=".862" stop-color="#1fa087"/><stop offset=".897" stop-color="#1e9b89"/><stop offset=".931" stop-color="#1f9a8a"/><stop offset=".966" stop-color="#21928c"/><stop offset=".999" stop-color="#1e9c89"/><stop offset="1.000" stop-color="#1f988a"/></linearGradient><linearGradient id="hg43" x1="0" x2="1" y1="0" y2="0"><stop offset=".000" stop-color="#3f4a89"/><stop offset=".000" stop-color="#414487"/><stop offset=".034" stop-color="#3e4b89"/><stop offset=".069" stop-color="#3f4888"/><stop offset=".103" stop-color="#404688"/><stop offset=".138" stop-color="#433f85"/><stop offset=".172" stop-color="#404587"/><stop offset=".207" stop-color="#3f4989"/><stop offset=".241" stop-color="#424286"/><stop offset=".276" stop-color="#414587"/><stop offset=".286" stop-color="#424286"/><stop offset=".303" stop-color="#30b47c"/><stop offset=".310" stop-color="#3aba76"/><stop offset=".345" stop-color="#77d053"/><stop offset=".351" stop-color="#87d449"/><stop offset=".379" stop-color="#83d34b"/><stop offset=".414" stop-color="#8ed644"/><stop offset=".448" stop-color="#73cf55"/><stop offset=".483" stop-color="#82d34c"/><stop offset=".517" stop-color="#83d34b"/><stop offset=".552" stop-color="#88d448"/><stop offset=".586" stop-color="#92d742"/><stop offset=".610" stop-color="#9ad93d"/><stop offset=".621" stop-color="#a3da37"/><stop offset=".655" stop-color="#80d24d"/><stop offset=".690" stop-color="#75cf54"/><stop offset=".724" stop-color="#7bd151"/><stop offset=".759" stop-color="#53c568"/><stop offset=".783" stop-color="#4bc26c"/><stop offset=".793" stop-color="#4ac16d"/><stop offset=".828" stop-color="#5dc963"/><stop offset=".862" stop-color="#58c765"/><stop offset=".897" stop-color="#4ec36a"/><stop offset=".931" stop-color="#3fbc73"/><stop offset=".966" stop-color="#4ac16d"/><stop offset=".999" stop-color="#36b878"/><stop offset="1.000" stop-color="#47c06e"/></linearGradient><linearGradient id="hg44" x1="0" x2="1" y1="0" y2="0"><stop offset=".000" stop-color="#424286"/><stop offset=".000" stop-color="#3c4f8a"/><stop offset=".034" stop-color="#414587"/><stop offset=".069" stop-color="#3d4c89"/><stop offset=".103" stop-color="#414387"/><stop offset=".138" stop-color="#404688"/><stop offset=".172" stop-color="#3d4d8a"/><stop offset=".207" stop-color="#3d4e8a"/><stop offset=".241" stop-color="#3d4e8a"/><stop offset=".276" stop-color="#404688"/><stop offset=".290" stop-color="#424286"/><stop offset=".307" stop-color="#1f988a"/><stop offset=".310" stop-color="#20958b"/><stop offset=".345" stop-color="#3ebc73"/><stop offset=".351" stop-color="#52c468"/><stop offset=".372" stop-color="#fde725"/><stop offset=".379" stop-color="#fde725"/><stop offset=".414" stop-color="#fde725"/><stop offset=".448" stop-color="#fde725"/><stop offset=".483" stop-color="#fde725"/><stop offset=".517" stop-color="#fde725"/><stop offset=".552" stop-color="#fde725"/><stop offset=".586" stop-color="#fde725"/><stop offset=".621" stop-color="#f8e623"/><stop offset=".655" stop-color="#fde725"/><stop offset=".690" stop-color="#fde725"/><stop offset=".696" stop-color="#fde725"/><stop offset=".724" stop-color="#cee11f"/><stop offset=".759" stop-color="#92d742"/><stop offset=".783" stop-color="#88d448"/><stop offset=".793" stop-color="#72cf56"/><stop offset=".828" stop-color="#65cb5e"/><stop offset=".862" stop-color="#62ca60"/><stop offset=".897" stop-color="#5fc961"/><stop offset=".931" stop-color="#4fc36a"/><stop offset=".966" stop-color="#40bd72"/><stop offset=".999" stop-color="#3cbb75"/><stop offset="1.000" stop-color="#35b779"/></linearGradient><linearGradient id="hg45" x1="0" x2="1" y1="0" y2="0"><stop offset=".000" stop-color="#404688"/><stop offset=".000" stop-color="#414587"/><stop offset=".034" stop-color="#3f4888"/><stop offset=".069" stop-color="#3a548b"/><stop offset=".103" stop-color="#3f4888"/><stop offset=".138" stop-color="#3b518b"/><stop offset=".172" stop-color="#3b528b"/><stop offset=".207" stop-color="#3d4d8a"/><stop offset=".241" stop-color="#3f4888"/><stop offset=".268" stop-color="#3b528b"/><stop offset=".276" stop-color="#cce120"/><stop offset=".277" stop-color="#fde725"/><stop offset=".310" stop-color="#fde725"/><stop offset=".345" stop-color="#f3e621"/><stop offset=".372" stop-color="#fde725"/><stop offset=".379" stop-color="#55c567"/><stop offset=".390" stop-color="#365c8d"/><stop offset=".414" stop-color="#31688e"/><stop offset=".448" stop-color="#32658d"/><stop offset=".483" stop-color="#365d8d"/><stop offset=".517" stop-color="#365c8d"/><stop offset=".552" stop-color="#365c8d"/><stop offset=".586" stop-color="#306b8e"/><stop offset=".621" stop-color="#31688e"/><stop offset=".655" stop-color="#31698e"/><stop offset=".690" stop-color="#33648d"/><stop offset=".724" stop-color="#355e8d"/><stop offset=".759" stop-color="#365d8d"/><stop offset=".793" stop-color="#33638d"/><stop offset=".828" stop-color="#31688e"/><stop offset=".862" stop-color="#34628d"/><stop offset=".897" stop-color="#355e8d"/><stop offset=".931" stop-color="#33638d"/><stop offset=".966" stop-color="#33648d"/><stop offset=".999" stop-color="#306a8e"/><stop offset="1.000" stop-color="#355f8d"/></linearGradient><linearGradient id="hg46" x1="0" x2="1" y1="0" y2="0"><stop offset=".000" stop-color="#3d4e8a"/><stop offset=".000" stop-color="#3f4888"/><stop offset=".034" stop-color="#3f4989"/><stop offset=".069" stop-color="#3f4a89"/><stop offset=".103" stop-color="#3c4f8a"/><stop offset=".138" stop-color="#3a538b"/><stop offset=".172" stop-color="#3d4e8a"/><stop offset=".207" stop-color="#3b528b"/><stop offset=".241" stop-color="#3e4a89"/><stop offset=".268" stop-color="#3e4c89"/><stop offset=".276" stop-color="#c3e024"/><stop offset=".277" stop-color="#fde725"/><stop offset=".310" stop-color="#f5e622"/><stop offset=".345" stop-color="#fae724"/><stop offset=".379" stop-color="#f4e621"/><stop offset=".381" stop-color="#f7e622"/><stop offset=".403" stop-color="#21a685"/><stop offset=".414" stop-color="#1f9e88"/><stop offset=".448" stop-color="#21a486"/><stop offset=".483" stop-color="#20a386"/><stop offset=".517" stop-color="#20a386"/><stop offset=".552" stop-color="#1e9c89"/><stop offset=".586" stop-color="#1f998a"/><stop offset=".621" stop-color="#20938b"/><stop offset=".655" stop-color="#20968b"/><stop offset=".690" stop-color="#21908c"/><stop offset=".724" stop-color="#238c8d"/><stop offset=".759" stop-color="#228c8d"/><stop offset=".783" stop-color="#25858e"/><stop offset=".793" stop-color="#26828e"/><stop offset=".828" stop-color="#287e8e"/><stop offset=".862" stop-color="#26838e"/><stop offset=".897" stop-color="#277f8e"/><stop offset=".931" stop-color="#2c738e"/><stop offset=".966" stop-color="#2c728e"/><stop offset=".999" stop-color="#2f6d8e"/><stop offset="1.000" stop-color="#31688e"/></linearGradient><linearGradient id="hg47" x1="0" x2="1" y1="0" y2="0"><stop offset=".000" stop-color="#375b8c"/><stop offset=".000" stop-color="#3b528b"/><stop offset=".034" stop-color="#3c4f8a"/><stop offset=".069" stop-color="#3a558b"/><stop offset=".103" stop-color="#365d8d"/><stop offset=".138" stop-color="#3c508b"/><stop offset=".172" stop-color="#39578c"/><stop offset=".207" stop-color="#39568c"/><stop offset=".241" stop-color="#3b528b"/><stop offset=".264" stop-color="#3a538b"/><stop offset=".273" stop-color="#24888d"/><stop offset=".276" stop-color="#20948b"/><stop offset=".307" stop-color="#5ec962"/><stop offset=".310" stop-color="#61ca60"/><stop offset=".345" stop-color="#60ca61"/><stop offset=".379" stop-color="#53c568"/><stop offset=".414" stop-color="#65cb5e"/><stop offset=".437" stop-color="#5cc863"/><stop offset=".448" stop-color="#4fc36a"/><stop offset=".483" stop-color="#26ac81"/><stop offset=".517" stop-color="#1f988a"/><stop offset=".524" stop-color="#1e9d89"/><stop offset=".552" stop-color="#1e9b89"/><stop offset=".586" stop-color="#1e9c89"/><stop offset=".621" stop-color="#21928c"/><stop offset=".655" stop-color="#228f8c"/><stop offset=".690" stop-color="#1f998a"/><stop offset=".724" stop-color="#1f998a"/><stop offset=".759" stop-color="#20968b"/><stop offset=".793" stop-color="#21918c"/><stop offset=".828" stop-color="#21918c"/><stop offset=".862" stop-color="#24898d"/><stop offset=".897" stop-color="#238a8d"/><stop offset=".931" stop-color="#21918c"/><stop offset=".966" stop-color="#25858e"/><stop offset=".999" stop-color="#238a8d"/><stop offset="1.000" stop-color="#228f8c"/></linearGradient><linearGradient id="hg48" x1="0" x2="1" y1="0" y2="0"><stop offset=".000" stop-color="#38588c"/><stop offset=".000" stop-color="#38588c"/><stop offset=".034" stop-color="#3d4e8a"/><stop offset=".069" stop-color="#3c508b"/><stop offset=".103" stop-color="#365d8d"/><stop offset=".138" stop-color="#3b518b"/><stop offset=".172" stop-color="#38598c"/><stop offset=".207" stop-color="#3a558b"/><stop offset=".241" stop-color="#365d8d"/><stop offset=".264" stop-color="#38598c"/><stop offset=".276" stop-color="#25838e"/><stop offset=".277" stop-color="#25868e"/><stop offset=".307" stop-color="#29ae80"/><stop offset=".310" stop-color="#32b67a"/><stop offset=".345" stop-color="#36b778"/><stop offset=".379" stop-color="#30b47c"/><stop offset=".414" stop-color="#26ac81"/><stop offset=".448" stop-color="#2fb47c"/><stop offset=".480" stop-color="#28ad81"/><stop offset=".483" stop-color="#2eb47c"/><stop offset=".517" stop-color="#1f988a"/><stop offset=".524" stop-color="#20948b"/><stop offset=".552" stop-color="#20938b"/><stop offset=".586" stop-color="#1e9d89"/><stop offset=".621" stop-color="#20948b"/><stop offset=".655" stop-color="#21938c"/><stop offset=".690" stop-color="#21938c"/><stop offset=".724" stop-color="#20958b"/><stop offset=".759" stop-color="#1f978a"/><stop offset=".793" stop-color="#20948b"/><stop offset=".828" stop-color="#1f998a"/><stop offset=".862" stop-color="#1f9e88"/><stop offset=".897" stop-color="#1e9c89"/><stop offset=".931" stop-color="#1f9a8a"/><stop offset=".966" stop-color="#20938b"/><stop offset=".999" stop-color="#1f998a"/><stop offset="1.000" stop-color="#1f998a"/></linearGradient><pattern id="tx49" patternUnits="userSpaceOnUse" x="378.90" y="33.30" width="43.0" height="49.20"><path d="M0.00 0.0h2.15v3.78h-2.15zM15.05 0.0h2.15v3.78h-2.15zM19.35 0.0h2.15v3.78h-2.15zM21.50 0.0h2.15v3.78h-2.15zM23.65 0.0h2.15v3.78h-2.15zM38.70 0.0h2.15v3.78h-2.15zM6.45 3.8h2.15v3.78h-2.15zM4.30 7.6h2.15v3.78h-2.15zM30.10 7.6h2.15v3.78h-2.15zM36.55 11.4h2.15v3.78h-2.15zM0.00 15.1h2.15v3.78h-2.15zM34.40 15.1h2.15v3.78h-2.15zM4.30 18.9h2.15v3.78h-2.15zM8.60 18.9h2.15v3.78h-2.15zM2.15 22.7h2.15v3.78h-2.15zM25.80 22.7h2.15v3.78h-2.15zM25.80 26.5h2.15v3.78h-2.15zM6.45 30.3h2.15v3.78h-2.15zM8.60 30.3h2.15v3.78h-2.15zM19.35 30.3h2.15v3.78h-2.15zM27.95 30.3h2.15v3.78h-2.15zM30.10 30.3h2.15v3.78h-2.15zM17.20 37.8h2.15v3.78h-2.15zM19.35 37.8h2.15v3.78h-2.15zM36.55 37.8h2.15v3.78h-2.15zM32.25 41.6h2.15v3.78h-2.15zM8.60 45.4h2.15v3.78h-2.15zM36.55 45.4h2.15v3.78h-2.15z" fill="#fff" fill-opacity="0.028"/><path d="M2.15 0.0h2.15v3.78h-2.15zM27.95 0.0h2.15v3.78h-2.15zM8.60 3.8h2.15v3.78h-2.15zM36.55 3.8h2.15v3.78h-2.15zM38.70 3.8h2.15v3.78h-2.15zM0.00 7.6h2.15v3.78h-2.15zM4.30 11.4h2.15v3.78h-2.15zM10.75 11.4h2.15v3.78h-2.15zM21.50 11.4h2.15v3.78h-2.15zM2.15 15.1h2.15v3.78h-2.15zM23.65 15.1h2.15v3.78h-2.15zM19.35 18.9h2.15v3.78h-2.15zM21.50 18.9h2.15v3.78h-2.15zM36.55 18.9h2.15v3.78h-2.15zM8.60 22.7h2.15v3.78h-2.15zM21.50 22.7h2.15v3.78h-2.15zM40.85 22.7h2.15v3.78h-2.15zM0.00 26.5h2.15v3.78h-2.15zM15.05 26.5h2.15v3.78h-2.15zM17.20 30.3h2.15v3.78h-2.15zM15.05 34.1h2.15v3.78h-2.15zM2.15 37.8h2.15v3.78h-2.15zM6.45 37.8h2.15v3.78h-2.15zM8.60 37.8h2.15v3.78h-2.15zM27.95 37.8h2.15v3.78h-2.15zM30.10 37.8h2.15v3.78h-2.15zM2.15 41.6h2.15v3.78h-2.15zM6.45 41.6h2.15v3.78h-2.15zM12.90 41.6h2.15v3.78h-2.15zM34.40 41.6h2.15v3.78h-2.15z" fill="#fff" fill-opacity="0.039"/><path d="M4.30 0.0h2.15v3.78h-2.15zM8.60 0.0h2.15v3.78h-2.15zM17.20 0.0h2.15v3.78h-2.15zM32.25 0.0h2.15v3.78h-2.15zM10.75 3.8h2.15v3.78h-2.15zM12.90 7.6h2.15v3.78h-2.15zM15.05 7.6h2.15v3.78h-2.15zM23.65 7.6h2.15v3.78h-2.15zM15.05 11.4h2.15v3.78h-2.15zM27.95 18.9h2.15v3.78h-2.15zM32.25 18.9h2.15v3.78h-2.15zM12.90 22.7h2.15v3.78h-2.15zM15.05 22.7h2.15v3.78h-2.15zM4.30 26.5h2.15v3.78h-2.15zM6.45 26.5h2.15v3.78h-2.15zM8.60 26.5h2.15v3.78h-2.15zM38.70 26.5h2.15v3.78h-2.15zM10.75 30.3h2.15v3.78h-2.15zM15.05 30.3h2.15v3.78h-2.15zM38.70 34.1h2.15v3.78h-2.15zM15.05 37.8h2.15v3.78h-2.15zM21.50 37.8h2.15v3.78h-2.15zM23.65 37.8h2.15v3.78h-2.15zM25.80 37.8h2.15v3.78h-2.15zM38.70 37.8h2.15v3.78h-2.15zM4.30 41.6h2.15v3.78h-2.15zM8.60 41.6h2.15v3.78h-2.15zM0.00 45.4h2.15v3.78h-2.15zM4.30 45.4h2.15v3.78h-2.15zM12.90 45.4h2.15v3.78h-2.15zM15.05 45.4h2.15v3.78h-2.15z" fill="#000" fill-opacity="0.039"/><path d="M6.45 0.0h2.15v3.78h-2.15zM30.10 0.0h2.15v3.78h-2.15zM36.55 0.0h2.15v3.78h-2.15zM2.15 3.8h2.15v3.78h-2.15zM21.50 3.8h2.15v3.78h-2.15zM23.65 3.8h2.15v3.78h-2.15zM27.95 3.8h2.15v3.78h-2.15zM40.85 3.8h2.15v3.78h-2.15zM6.45 7.6h2.15v3.78h-2.15zM21.50 7.6h2.15v3.78h-2.15zM27.95 7.6h2.15v3.78h-2.15zM40.85 11.4h2.15v3.78h-2.15zM21.50 15.1h2.15v3.78h-2.15zM40.85 15.1h2.15v3.78h-2.15zM25.80 18.9h2.15v3.78h-2.15zM40.85 18.9h2.15v3.78h-2.15zM6.45 22.7h2.15v3.78h-2.15zM38.70 22.7h2.15v3.78h-2.15zM10.75 26.5h2.15v3.78h-2.15zM30.10 26.5h2.15v3.78h-2.15zM40.85 26.5h2.15v3.78h-2.15zM38.70 30.3h2.15v3.78h-2.15zM0.00 34.1h2.15v3.78h-2.15zM8.60 34.1h2.15v3.78h-2.15zM17.20 34.1h2.15v3.78h-2.15zM27.95 34.1h2.15v3.78h-2.15zM0.00 37.8h2.15v3.78h-2.15zM25.80 41.6h2.15v3.78h-2.15zM30.10 41.6h2.15v3.78h-2.15zM10.75 45.4h2.15v3.78h-2.15zM19.35 45.4h2.15v3.78h-2.15z" fill="#fff" fill-opacity="0.050"/><path d="M12.90 0.0h2.15v3.78h-2.15zM4.30 3.8h2.15v3.78h-2.15zM30.10 3.8h2.15v3.78h-2.15zM32.25 3.8h2.15v3.78h-2.15zM8.60 7.6h2.15v3.78h-2.15zM27.95 11.4h2.15v3.78h-2.15zM38.70 11.4h2.15v3.78h-2.15zM27.95 15.1h2.15v3.78h-2.15zM12.90 18.9h2.15v3.78h-2.15zM17.20 18.9h2.15v3.78h-2.15zM34.40 18.9h2.15v3.78h-2.15zM38.70 18.9h2.15v3.78h-2.15zM4.30 22.7h2.15v3.78h-2.15zM10.75 22.7h2.15v3.78h-2.15zM19.35 22.7h2.15v3.78h-2.15zM36.55 26.5h2.15v3.78h-2.15zM12.90 30.3h2.15v3.78h-2.15zM23.65 34.1h2.15v3.78h-2.15zM15.05 41.6h2.15v3.78h-2.15zM19.35 41.6h2.15v3.78h-2.15zM38.70 41.6h2.15v3.78h-2.15zM27.95 45.4h2.15v3.78h-2.15z" fill="#000" fill-opacity="0.050"/><path d="M0.00 3.8h2.15v3.78h-2.15zM15.05 3.8h2.15v3.78h-2.15zM25.80 3.8h2.15v3.78h-2.15zM2.15 7.6h2.15v3.78h-2.15zM34.40 7.6h2.15v3.78h-2.15zM38.70 7.6h2.15v3.78h-2.15zM12.90 11.4h2.15v3.78h-2.15zM23.65 11.4h2.15v3.78h-2.15zM32.25 11.4h2.15v3.78h-2.15zM12.90 15.1h2.15v3.78h-2.15zM15.05 15.1h2.15v3.78h-2.15zM17.20 15.1h2.15v3.78h-2.15zM30.10 15.1h2.15v3.78h-2.15zM0.00 18.9h2.15v3.78h-2.15zM6.45 18.9h2.15v3.78h-2.15zM27.95 22.7h2.15v3.78h-2.15zM12.90 26.5h2.15v3.78h-2.15zM17.20 26.5h2.15v3.78h-2.15zM21.50 26.5h2.15v3.78h-2.15zM23.65 26.5h2.15v3.78h-2.15zM32.25 26.5h2.15v3.78h-2.15zM34.40 26.5h2.15v3.78h-2.15zM21.50 30.3h2.15v3.78h-2.15zM23.65 30.3h2.15v3.78h-2.15zM25.80 30.3h2.15v3.78h-2.15zM32.25 30.3h2.15v3.78h-2.15zM36.55 30.3h2.15v3.78h-2.15zM2.15 34.1h2.15v3.78h-2.15zM12.90 34.1h2.15v3.78h-2.15zM36.55 34.1h2.15v3.78h-2.15zM4.30 37.8h2.15v3.78h-2.15zM21.50 45.4h2.15v3.78h-2.15zM32.25 45.4h2.15v3.78h-2.15zM40.85 45.4h2.15v3.78h-2.15z" fill="#000" fill-opacity="0.028"/></pattern><linearGradient id="cb50" x1="0" x2="0" y1="0" y2="1"><stop offset="0.000" stop-color="#fde725"/><stop offset="0.050" stop-color="#dfe318"/><stop offset="0.100" stop-color="#bddf26"/><stop offset="0.150" stop-color="#9bd93c"/><stop offset="0.200" stop-color="#7ad151"/><stop offset="0.250" stop-color="#5ec962"/><stop offset="0.300" stop-color="#44bf70"/><stop offset="0.350" stop-color="#2fb47c"/><stop offset="0.400" stop-color="#22a884"/><stop offset="0.450" stop-color="#1e9c89"/><stop offset="0.500" stop-color="#21918c"/><stop offset="0.550" stop-color="#25848e"/><stop offset="0.600" stop-color="#2a788e"/><stop offset="0.650" stop-color="#2f6c8e"/><stop offset="0.700" stop-color="#355f8d"/><stop offset="0.750" stop-color="#3b528b"/><stop offset="0.800" stop-color="#414487"/><stop offset="0.850" stop-color="#463480"/><stop offset="0.900" stop-color="#482475"/><stop offset="0.950" stop-color="#471365"/><stop offset="1.000" stop-color="#440154"/></linearGradient><linearGradient id="hg51" x1="0" x2="1" y1="0" y2="0"><stop offset=".000" stop-color="#287c8e"/><stop offset=".001" stop-color="#287c8e"/><stop offset=".034" stop-color="#27808e"/><stop offset=".069" stop-color="#277e8e"/><stop offset=".103" stop-color="#25838e"/><stop offset=".138" stop-color="#24868e"/><stop offset=".172" stop-color="#228d8d"/><stop offset=".207" stop-color="#24888d"/><stop offset=".241" stop-color="#26818e"/><stop offset=".276" stop-color="#26818e"/><stop offset=".286" stop-color="#287c8e"/><stop offset=".310" stop-color="#25848e"/><stop offset=".345" stop-color="#20958b"/><stop offset=".379" stop-color="#1fa087"/><stop offset=".414" stop-color="#25ab82"/><stop offset=".437" stop-color="#2db27d"/><stop offset=".448" stop-color="#2aaf7f"/><stop offset=".483" stop-color="#32b57a"/><stop offset=".517" stop-color="#41be72"/><stop offset=".552" stop-color="#40bd72"/><stop offset=".586" stop-color="#4fc36a"/><stop offset=".621" stop-color="#59c765"/><stop offset=".655" stop-color="#70ce57"/><stop offset=".690" stop-color="#70ce57"/><stop offset=".696" stop-color="#70ce57"/><stop offset=".724" stop-color="#7ad151"/><stop offset=".759" stop-color="#8ed645"/><stop offset=".793" stop-color="#8fd644"/><stop offset=".828" stop-color="#9dd93b"/><stop offset=".862" stop-color="#a3da37"/><stop offset=".897" stop-color="#addc30"/><stop offset=".931" stop-color="#b8de29"/><stop offset=".966" stop-color="#b9de29"/><stop offset=".998" stop-color="#b5de2b"/><stop offset="1.000" stop-color="#b5de2b"/></linearGradient><linearGradient id="hg52" x1="0" x2="1" y1="0" y2="0"><stop offset=".000" stop-color="#9ad93d"/><stop offset=".001" stop-color="#98d83e"/><stop offset=".034" stop-color="#67cc5d"/><stop offset=".040" stop-color="#5ec962"/><stop offset=".066" stop-color="#25858e"/><stop offset=".069" stop-color="#26818e"/><stop offset=".103" stop-color="#27808e"/><stop offset=".138" stop-color="#2b758e"/><stop offset=".172" stop-color="#2c748e"/><stop offset=".178" stop-color="#2d708e"/><stop offset=".207" stop-color="#32668e"/><stop offset=".241" stop-color="#33648d"/><stop offset=".276" stop-color="#375b8c"/><stop offset=".310" stop-color="#3a538b"/><stop offset=".316" stop-color="#38588c"/><stop offset=".320" stop-color="#482172"/><stop offset=".329" stop-color="#39568c"/><stop offset=".345" stop-color="#375a8c"/><stop offset=".379" stop-color="#2d708e"/><stop offset=".414" stop-color="#25838e"/><stop offset=".437" stop-color="#228e8c"/><stop offset=".448" stop-color="#20948b"/><stop offset=".483" stop-color="#2fb47c"/><stop offset=".517" stop-color="#65cb5e"/><stop offset=".523" stop-color="#78d052"/><stop offset=".552" stop-color="#a0da39"/><stop offset=".586" stop-color="#dfe318"/><stop offset=".588" stop-color="#dbe31a"/><stop offset=".621" stop-color="#e1e319"/><stop offset=".655" stop-color="#dfe318"/><stop offset=".690" stop-color="#dde319"/><stop offset=".696" stop-color="#e8e41c"/><stop offset=".724" stop-color="#c0df25"/><stop offset=".759" stop-color="#86d449"/><stop offset=".782" stop-color="#6acd5b"/><stop offset=".793" stop-color="#68cc5c"/><stop offset=".828" stop-color="#6dcd59"/><stop offset=".862" stop-color="#68cc5c"/><stop offset=".897" stop-color="#6bcd5a"/><stop offset=".931" stop-color="#6ece58"/><stop offset=".966" stop-color="#75cf54"/><stop offset=".998" stop-color="#77d053"/><stop offset="1.000" stop-color="#7fd24e"/></linearGradient><linearGradient id="hg53" x1="0" x2="1" y1="0" y2="0"><stop offset=".000" stop-color="#25858e"/><stop offset=".001" stop-color="#27808e"/><stop offset=".034" stop-color="#25838e"/><stop offset=".069" stop-color="#26818e"/><stop offset=".103" stop-color="#25868e"/><stop offset=".138" stop-color="#24898d"/><stop offset=".172" stop-color="#238c8d"/><stop offset=".207" stop-color="#24898d"/><stop offset=".241" stop-color="#25858e"/><stop offset=".276" stop-color="#287c8e"/><stop offset=".310" stop-color="#27808e"/><stop offset=".345" stop-color="#277f8e"/><stop offset=".351" stop-color="#287e8e"/><stop offset=".379" stop-color="#25838e"/><stop offset=".414" stop-color="#23898d"/><stop offset=".448" stop-color="#228e8c"/><stop offset=".483" stop-color="#21928c"/><stop offset=".517" stop-color="#1f998a"/><stop offset=".523" stop-color="#1f998a"/><stop offset=".552" stop-color="#20a286"/><stop offset=".586" stop-color="#28ad80"/><stop offset=".621" stop-color="#3dbb74"/><stop offset=".653" stop-color="#56c666"/><stop offset=".655" stop-color="#58c765"/><stop offset=".690" stop-color="#67cc5d"/><stop offset=".724" stop-color="#5fc961"/><stop offset=".759" stop-color="#70ce57"/><stop offset=".793" stop-color="#73cf55"/><stop offset=".828" stop-color="#74cf55"/><stop offset=".862" stop-color="#82d34c"/><stop offset=".897" stop-color="#82d34c"/><stop offset=".931" stop-color="#87d449"/><stop offset=".966" stop-color="#96d83f"/><stop offset=".998" stop-color="#9dd93b"/><stop offset="1.000" stop-color="#9fda39"/></linearGradient><linearGradient id="hg54" x1="0" x2="1" y1="0" y2="0"><stop offset=".000" stop-color="#31678e"/><stop offset=".001" stop-color="#31688e"/><stop offset=".034" stop-color="#2f6c8e"/><stop offset=".069" stop-color="#2e6d8e"/><stop offset=".103" stop-color="#2c728e"/><stop offset=".138" stop-color="#2b768e"/><stop offset=".172" stop-color="#2a788e"/><stop offset=".207" stop-color="#2a788e"/><stop offset=".241" stop-color="#2c738e"/><stop offset=".276" stop-color="#2d718e"/><stop offset=".310" stop-color="#2d718e"/><stop offset=".345" stop-color="#2c728e"/><stop offset=".379" stop-color="#2e6f8e"/><stop offset=".414" stop-color="#2c728e"/><stop offset=".437" stop-color="#2c748e"/><stop offset=".448" stop-color="#2c738e"/><stop offset=".483" stop-color="#2a788e"/><stop offset=".517" stop-color="#287c8e"/><stop offset=".552" stop-color="#297a8e"/><stop offset=".586" stop-color="#287d8e"/><stop offset=".621" stop-color="#25858e"/><stop offset=".655" stop-color="#238a8d"/><stop offset=".690" stop-color="#238b8d"/><stop offset=".696" stop-color="#228d8d"/><stop offset=".724" stop-color="#25848e"/><stop offset=".759" stop-color="#2a788e"/><stop offset=".793" stop-color="#2d708e"/><stop offset=".826" stop-color="#32668e"/><stop offset=".828" stop-color="#31678e"/><stop offset=".862" stop-color="#34618d"/><stop offset=".897" stop-color="#39578c"/><stop offset=".931" stop-color="#38588c"/><stop offset=".966" stop-color="#3a548b"/><stop offset=".998" stop-color="#3c4f8a"/><stop offset="1.000" stop-color="#3e4c89"/></linearGradient><linearGradient id="hg55" x1="0" x2="1" y1="0" y2="0"><stop offset=".000" stop-color="#2b768e"/><stop offset=".001" stop-color="#2a788e"/><stop offset=".034" stop-color="#2c748e"/><stop offset=".069" stop-color="#2c748e"/><stop offset=".103" stop-color="#297b8e"/><stop offset=".138" stop-color="#287d8e"/><stop offset=".172" stop-color="#27808e"/><stop offset=".207" stop-color="#2a798e"/><stop offset=".241" stop-color="#2a798e"/><stop offset=".276" stop-color="#2c748e"/><stop offset=".310" stop-color="#2d728e"/><stop offset=".345" stop-color="#2d718e"/><stop offset=".351" stop-color="#2e6f8e"/><stop offset=".379" stop-color="#2a778e"/><stop offset=".414" stop-color="#277f8e"/><stop offset=".448" stop-color="#26828e"/><stop offset=".480" stop-color="#24888d"/><stop offset=".483" stop-color="#228f8c"/><stop offset=".517" stop-color="#38b977"/><stop offset=".552" stop-color="#a8db33"/><stop offset=".566" stop-color="#dde319"/><stop offset=".586" stop-color="#d8e21b"/><stop offset=".621" stop-color="#dee318"/><stop offset=".655" stop-color="#e7e41c"/><stop offset=".690" stop-color="#e2e319"/><stop offset=".696" stop-color="#dce319"/><stop offset=".724" stop-color="#aadc33"/><stop offset=".759" stop-color="#73cf55"/><stop offset=".782" stop-color="#62ca60"/><stop offset=".793" stop-color="#5bc864"/><stop offset=".828" stop-color="#50c46a"/><stop offset=".862" stop-color="#46c06f"/><stop offset=".897" stop-color="#43be71"/><stop offset=".931" stop-color="#32b67a"/><stop offset=".966" stop-color="#33b679"/><stop offset=".998" stop-color="#2eb37d"/><stop offset="1.000" stop-color="#2aaf7f"/></linearGradient><linearGradient id="hg56" x1="0" x2="1" y1="0" y2="0"><stop offset=".000" stop-color="#414387"/><stop offset=".001" stop-color="#3e4b89"/><stop offset=".034" stop-color="#3c508b"/><stop offset=".069" stop-color="#38588c"/><stop offset=".070" stop-color="#38598c"/><stop offset=".103" stop-color="#365e8d"/><stop offset=".138" stop-color="#32668e"/><stop offset=".172" stop-color="#31698e"/><stop offset=".207" stop-color="#306a8e"/><stop offset=".221" stop-color="#306a8e"/><stop offset=".230" stop-color="#472979"/><stop offset=".241" stop-color="#482777"/><stop offset=".276" stop-color="#482475"/><stop offset=".310" stop-color="#482172"/><stop offset=".325" stop-color="#482676"/><stop offset=".345" stop-color="#3a538b"/><stop offset=".351" stop-color="#365d8d"/><stop offset=".379" stop-color="#33638d"/><stop offset=".414" stop-color="#2d708e"/><stop offset=".428" stop-color="#2c738e"/><stop offset=".448" stop-color="#1e9c89"/><stop offset=".480" stop-color="#9ad93d"/><stop offset=".483" stop-color="#9bd93c"/><stop offset=".517" stop-color="#9fda39"/><stop offset=".552" stop-color="#afdd2f"/><stop offset=".586" stop-color="#a9dc33"/><stop offset=".621" stop-color="#b5de2b"/><stop offset=".655" stop-color="#bbdf27"/><stop offset=".690" stop-color="#bbdf27"/><stop offset=".696" stop-color="#c1df24"/><stop offset=".724" stop-color="#a1da38"/><stop offset=".759" stop-color="#7dd24f"/><stop offset=".782" stop-color="#61ca60"/><stop offset=".793" stop-color="#69cc5b"/><stop offset=".828" stop-color="#5ac764"/><stop offset=".862" stop-color="#49c16d"/><stop offset=".897" stop-color="#4ac16d"/><stop offset=".931" stop-color="#35b779"/><stop offset=".966" stop-color="#32b57a"/><stop offset=".998" stop-color="#2aaf7f"/><stop offset="1.000" stop-color="#28ad80"/></linearGradient><linearGradient id="hg57" x1="0" x2="1" y1="0" y2="0"><stop offset=".000" stop-color="#2a788e"/><stop offset=".001" stop-color="#2a788e"/><stop offset=".034" stop-color="#2a778e"/><stop offset=".069" stop-color="#2b768e"/><stop offset=".103" stop-color="#2a788e"/><stop offset=".138" stop-color="#297b8e"/><stop offset=".172" stop-color="#277f8e"/><stop offset=".207" stop-color="#277f8e"/><stop offset=".241" stop-color="#2b768e"/><stop offset=".276" stop-color="#2d718e"/><stop offset=".310" stop-color="#2b778e"/><stop offset=".345" stop-color="#2c738e"/><stop offset=".379" stop-color="#2d718e"/><stop offset=".414" stop-color="#2e6f8e"/><stop offset=".437" stop-color="#2c748e"/><stop offset=".448" stop-color="#2c738e"/><stop offset=".483" stop-color="#2b768e"/><stop offset=".517" stop-color="#2c738e"/><stop offset=".552" stop-color="#2a798e"/><stop offset=".586" stop-color="#2a788e"/><stop offset=".621" stop-color="#297a8e"/><stop offset=".655" stop-color="#277f8e"/><stop offset=".690" stop-color="#27808e"/><stop offset=".696" stop-color="#297b8e"/><stop offset=".724" stop-color="#2d718e"/><stop offset=".759" stop-color="#32678e"/><stop offset=".782" stop-color="#34618d"/><stop offset=".793" stop-color="#355f8d"/><stop offset=".828" stop-color="#365e8d"/><stop offset=".862" stop-color="#365e8d"/><stop offset=".897" stop-color="#38598c"/><stop offset=".931" stop-color="#38588c"/><stop offset=".966" stop-color="#38588c"/><stop offset=".998" stop-color="#3a548b"/><stop offset="1.000" stop-color="#38588c"/></linearGradient><linearGradient id="hg58" x1="0" x2="1" y1="0" y2="0"><stop offset=".000" stop-color="#32658d"/><stop offset=".001" stop-color="#34618d"/><stop offset=".034" stop-color="#32668e"/><stop offset=".069" stop-color="#33648d"/><stop offset=".103" stop-color="#31678e"/><stop offset=".138" stop-color="#2e6e8e"/><stop offset=".172" stop-color="#2d718e"/><stop offset=".207" stop-color="#2f6c8e"/><stop offset=".221" stop-color="#32668e"/><stop offset=".230" stop-color="#404788"/><stop offset=".241" stop-color="#404788"/><stop offset=".276" stop-color="#414587"/><stop offset=".310" stop-color="#414587"/><stop offset=".312" stop-color="#424186"/><stop offset=".329" stop-color="#33638d"/><stop offset=".345" stop-color="#32658d"/><stop offset=".379" stop-color="#2f6c8e"/><stop offset=".394" stop-color="#2d708e"/><stop offset=".414" stop-color="#29798e"/><stop offset=".448" stop-color="#228c8d"/><stop offset=".483" stop-color="#20a187"/><stop offset=".517" stop-color="#2cb17e"/><stop offset=".552" stop-color="#4ec36a"/><stop offset=".566" stop-color="#5dc863"/><stop offset=".586" stop-color="#88d448"/><stop offset=".610" stop-color="#cce120"/><stop offset=".621" stop-color="#d0e11e"/><stop offset=".655" stop-color="#d7e21b"/><stop offset=".690" stop-color="#c7e022"/><stop offset=".724" stop-color="#cfe11f"/><stop offset=".759" stop-color="#d4e21d"/><stop offset=".793" stop-color="#c3e024"/><stop offset=".828" stop-color="#c2e024"/><stop offset=".862" stop-color="#c4e023"/><stop offset=".897" stop-color="#bcdf26"/><stop offset=".931" stop-color="#cbe120"/><stop offset=".966" stop-color="#c5e023"/><stop offset=".998" stop-color="#b7de2a"/><stop offset="1.000" stop-color="#b5de2b"/></linearGradient><linearGradient id="hg59" x1="0" x2="1" y1="0" y2="0"><stop offset=".000" stop-color="#32668e"/><stop offset=".001" stop-color="#33638d"/><stop offset=".034" stop-color="#31678e"/><stop offset=".069" stop-color="#34628d"/><stop offset=".103" stop-color="#31688e"/><stop offset=".138" stop-color="#2f6c8e"/><stop offset=".172" stop-color="#2e6e8e"/><stop offset=".207" stop-color="#31688e"/><stop offset=".241" stop-color="#30698e"/><stop offset=".276" stop-color="#33648d"/><stop offset=".310" stop-color="#33648d"/><stop offset=".345" stop-color="#32668e"/><stop offset=".379" stop-color="#32668e"/><stop offset=".414" stop-color="#34628d"/><stop offset=".437" stop-color="#32658d"/><stop offset=".448" stop-color="#2f6b8e"/><stop offset=".483" stop-color="#2a788e"/><stop offset=".517" stop-color="#287e8e"/><stop offset=".523" stop-color="#26818e"/><stop offset=".552" stop-color="#27808e"/><stop offset=".586" stop-color="#27808e"/><stop offset=".621" stop-color="#26818e"/><stop offset=".655" stop-color="#25848e"/><stop offset=".690" stop-color="#26818e"/><stop offset=".724" stop-color="#26838e"/><stop offset=".759" stop-color="#26828e"/><stop offset=".782" stop-color="#25858e"/><stop offset=".793" stop-color="#277e8e"/><stop offset=".828" stop-color="#297a8e"/><stop offset=".862" stop-color="#297b8e"/><stop offset=".897" stop-color="#2c728e"/><stop offset=".931" stop-color="#2e6e8e"/><stop offset=".966" stop-color="#2e708e"/><stop offset=".998" stop-color="#2f6b8e"/><stop offset="1.000" stop-color="#31678e"/></linearGradient><linearGradient id="hg60" x1="0" x2="1" y1="0" y2="0"><stop offset=".000" stop-color="#297b8e"/><stop offset=".001" stop-color="#2a798e"/><stop offset=".034" stop-color="#2c748e"/><stop offset=".069" stop-color="#2a788e"/><stop offset=".103" stop-color="#2a778e"/><stop offset=".138" stop-color="#2a788e"/><stop offset=".172" stop-color="#287e8e"/><stop offset=".207" stop-color="#2b768e"/><stop offset=".241" stop-color="#2f6b8e"/><stop offset=".276" stop-color="#32658d"/><stop offset=".310" stop-color="#32658d"/><stop offset=".345" stop-color="#34628d"/><stop offset=".351" stop-color="#34618d"/><stop offset=".379" stop-color="#2d708e"/><stop offset=".414" stop-color="#297b8e"/><stop offset=".448" stop-color="#228f8c"/><stop offset=".480" stop-color="#1f978a"/><stop offset=".483" stop-color="#1f978a"/><stop offset=".517" stop-color="#2ab07f"/><stop offset=".552" stop-color="#51c469"/><stop offset=".586" stop-color="#7fd24e"/><stop offset=".621" stop-color="#c7e022"/><stop offset=".631" stop-color="#d0e11e"/><stop offset=".655" stop-color="#e7e41b"/><stop offset=".690" stop-color="#e7e41c"/><stop offset=".696" stop-color="#ede51e"/><stop offset=".724" stop-color="#f1e520"/><stop offset=".759" stop-color="#efe51f"/><stop offset=".793" stop-color="#f0e51f"/><stop offset=".828" stop-color="#fde725"/><stop offset=".862" stop-color="#f4e621"/><stop offset=".897" stop-color="#fde725"/><stop offset=".931" stop-color="#fce725"/><stop offset=".966" stop-color="#fde725"/><stop offset=".998" stop-color="#fde725"/><stop offset="1.000" stop-color="#fce725"/></linearGradient><linearGradient id="hg61" x1="0" x2="1" y1="0" y2="0"><stop offset=".000" stop-color="#34618d"/><stop offset=".001" stop-color="#31678e"/><stop offset=".034" stop-color="#35608d"/><stop offset=".069" stop-color="#33628d"/><stop offset=".103" stop-color="#2f6b8e"/><stop offset=".138" stop-color="#2e6e8e"/><stop offset=".172" stop-color="#2d708e"/><stop offset=".207" stop-color="#30698e"/><stop offset=".221" stop-color="#31678e"/><stop offset=".230" stop-color="#3f4988"/><stop offset=".241" stop-color="#3d4e8a"/><stop offset=".276" stop-color="#3e4a89"/><stop offset=".277" stop-color="#3f4988"/><stop offset=".290" stop-color="#34618d"/><stop offset=".310" stop-color="#33648d"/><stop offset=".345" stop-color="#2f6c8e"/><stop offset=".379" stop-color="#2d708e"/><stop offset=".414" stop-color="#2b768e"/><stop offset=".448" stop-color="#287d8e"/><stop offset=".480" stop-color="#27808e"/><stop offset=".483" stop-color="#287d8e"/><stop offset=".517" stop-color="#287c8e"/><stop offset=".552" stop-color="#25848e"/><stop offset=".586" stop-color="#27808e"/><stop offset=".621" stop-color="#25838e"/><stop offset=".655" stop-color="#24888d"/><stop offset=".690" stop-color="#24888d"/><stop offset=".724" stop-color="#24878e"/><stop offset=".759" stop-color="#21908c"/><stop offset=".793" stop-color="#228c8d"/><stop offset=".828" stop-color="#21928c"/><stop offset=".862" stop-color="#21918c"/><stop offset=".897" stop-color="#20938b"/><stop offset=".931" stop-color="#20938b"/><stop offset=".966" stop-color="#20958b"/><stop offset=".998" stop-color="#20958b"/><stop offset="1.000" stop-color="#20958b"/></linearGradient><linearGradient id="hg62" x1="0" x2="1" y1="0" y2="0"><stop offset=".000" stop-color="#482374"/><stop offset=".001" stop-color="#482475"/><stop offset=".034" stop-color="#472a79"/><stop offset=".069" stop-color="#472a79"/><stop offset=".070" stop-color="#46307e"/><stop offset=".092" stop-color="#32658d"/><stop offset=".103" stop-color="#32668e"/><stop offset=".138" stop-color="#2f6c8e"/><stop offset=".172" stop-color="#2a788e"/><stop offset=".207" stop-color="#2c748e"/><stop offset=".241" stop-color="#2c728e"/><stop offset=".276" stop-color="#2d718e"/><stop offset=".307" stop-color="#2c738e"/><stop offset=".310" stop-color="#2a788e"/><stop offset=".329" stop-color="#2eb37c"/><stop offset=".345" stop-color="#46c06f"/><stop offset=".379" stop-color="#9ad93d"/><stop offset=".394" stop-color="#c2e024"/><stop offset=".414" stop-color="#dae21a"/><stop offset=".437" stop-color="#f0e51f"/><stop offset=".448" stop-color="#e6e41b"/><stop offset=".483" stop-color="#f5e622"/><stop offset=".517" stop-color="#f2e620"/><stop offset=".552" stop-color="#f3e621"/><stop offset=".586" stop-color="#f4e621"/><stop offset=".621" stop-color="#ece51d"/><stop offset=".655" stop-color="#eee51f"/><stop offset=".690" stop-color="#fae724"/><stop offset=".724" stop-color="#f8e623"/><stop offset=".759" stop-color="#fde725"/><stop offset=".793" stop-color="#f6e622"/><stop offset=".828" stop-color="#f4e621"/><stop offset=".862" stop-color="#fae723"/><stop offset=".897" stop-color="#fae723"/><stop offset=".931" stop-color="#fde725"/><stop offset=".966" stop-color="#fce725"/><stop offset=".998" stop-color="#fde725"/><stop offset="1.000" stop-color="#fde725"/></linearGradient><linearGradient id="hg63" x1="0" x2="1" y1="0" y2="0"><stop offset=".000" stop-color="#287c8e"/><stop offset=".001" stop-color="#277f8e"/><stop offset=".034" stop-color="#2b758e"/><stop offset=".069" stop-color="#2b768e"/><stop offset=".103" stop-color="#2f6d8e"/><stop offset=".138" stop-color="#2f6c8e"/><stop offset=".172" stop-color="#30698e"/><stop offset=".207" stop-color="#34608d"/><stop offset=".221" stop-color="#38588c"/><stop offset=".241" stop-color="#375b8c"/><stop offset=".276" stop-color="#3a558b"/><stop offset=".310" stop-color="#38598c"/><stop offset=".345" stop-color="#39568c"/><stop offset=".351" stop-color="#39578c"/><stop offset=".379" stop-color="#38598c"/><stop offset=".414" stop-color="#34628d"/><stop offset=".437" stop-color="#33638d"/><stop offset=".448" stop-color="#30698e"/><stop offset=".483" stop-color="#2f6c8e"/><stop offset=".517" stop-color="#2b758e"/><stop offset=".552" stop-color="#2a798e"/><stop offset=".586" stop-color="#25858e"/><stop offset=".621" stop-color="#238a8d"/><stop offset=".655" stop-color="#21908c"/><stop offset=".690" stop-color="#1f998a"/><stop offset=".696" stop-color="#1f9a8a"/><stop offset=".724" stop-color="#1f978a"/><stop offset=".759" stop-color="#1e9c89"/><stop offset=".793" stop-color="#1f9e88"/><stop offset=".828" stop-color="#20a286"/><stop offset=".862" stop-color="#22a784"/><stop offset=".897" stop-color="#22a884"/><stop offset=".931" stop-color="#2bb07f"/><stop offset=".966" stop-color="#2eb37c"/><stop offset=".998" stop-color="#34b779"/><stop offset="1.000" stop-color="#35b779"/></linearGradient><linearGradient id="hg64" x1="0" x2="1" y1="0" y2="0"><stop offset=".000" stop-color="#32668e"/><stop offset=".001" stop-color="#32658d"/><stop offset=".034" stop-color="#3c4f8a"/><stop offset=".069" stop-color="#463480"/><stop offset=".070" stop-color="#443982"/><stop offset=".103" stop-color="#365d8d"/><stop offset=".113" stop-color="#306a8e"/><stop offset=".138" stop-color="#32658d"/><stop offset=".172" stop-color="#31688e"/><stop offset=".207" stop-color="#38598c"/><stop offset=".241" stop-color="#3c508a"/><stop offset=".264" stop-color="#404587"/><stop offset=".276" stop-color="#3f4988"/><stop offset=".310" stop-color="#414487"/><stop offset=".345" stop-color="#424085"/><stop offset=".379" stop-color="#424186"/><stop offset=".414" stop-color="#453681"/><stop offset=".437" stop-color="#463580"/><stop offset=".448" stop-color="#463480"/><stop offset=".483" stop-color="#46307d"/><stop offset=".517" stop-color="#472f7d"/><stop offset=".552" stop-color="#472d7b"/><stop offset=".579" stop-color="#472978"/><stop offset=".586" stop-color="#46317e"/><stop offset=".621" stop-color="#3d4c89"/><stop offset=".653" stop-color="#31688e"/><stop offset=".655" stop-color="#31678e"/><stop offset=".690" stop-color="#2e6d8e"/><stop offset=".724" stop-color="#297b8e"/><stop offset=".759" stop-color="#25838e"/><stop offset=".793" stop-color="#238b8d"/><stop offset=".826" stop-color="#1f9a8a"/><stop offset=".828" stop-color="#1f978a"/><stop offset=".862" stop-color="#21a585"/><stop offset=".897" stop-color="#2aaf7f"/><stop offset=".931" stop-color="#35b779"/><stop offset=".966" stop-color="#45bf70"/><stop offset=".998" stop-color="#60c961"/><stop offset="1.000" stop-color="#5dc863"/></linearGradient><linearGradient id="hg65" x1="0" x2="1" y1="0" y2="0"><stop offset=".000" stop-color="#33638d"/><stop offset=".001" stop-color="#33628d"/><stop offset=".034" stop-color="#33638d"/><stop offset=".069" stop-color="#365e8d"/><stop offset=".103" stop-color="#38598c"/><stop offset=".138" stop-color="#375a8c"/><stop offset=".172" stop-color="#38598c"/><stop offset=".207" stop-color="#3b518b"/><stop offset=".241" stop-color="#3e4a89"/><stop offset=".276" stop-color="#404687"/><stop offset=".310" stop-color="#424186"/><stop offset=".345" stop-color="#443a82"/><stop offset=".351" stop-color="#463380"/><stop offset=".379" stop-color="#482677"/><stop offset=".414" stop-color="#47196a"/><stop offset=".415" stop-color="#47196b"/><stop offset=".428" stop-color="#463580"/><stop offset=".448" stop-color="#46327f"/><stop offset=".483" stop-color="#463480"/><stop offset=".517" stop-color="#472f7c"/><stop offset=".552" stop-color="#472c7b"/><stop offset=".575" stop-color="#472c7b"/><stop offset=".586" stop-color="#414487"/><stop offset=".610" stop-color="#35608d"/><stop offset=".621" stop-color="#31688e"/><stop offset=".655" stop-color="#2f6c8e"/><stop offset=".690" stop-color="#2c728e"/><stop offset=".724" stop-color="#2c738e"/><stop offset=".759" stop-color="#297a8e"/><stop offset=".793" stop-color="#277f8e"/><stop offset=".828" stop-color="#25868e"/><stop offset=".862" stop-color="#24878d"/><stop offset=".869" stop-color="#228e8c"/><stop offset=".897" stop-color="#228d8d"/><stop offset=".931" stop-color="#24888d"/><stop offset=".966" stop-color="#238b8d"/><stop offset=".998" stop-color="#228d8d"/><stop offset="1.000" stop-color="#238b8d"/></linearGradient><linearGradient id="hg66" x1="0" x2="1" y1="0" y2="0"><stop offset=".000" stop-color="#297b8e"/><stop offset=".001" stop-color="#2a778e"/><stop offset=".034" stop-color="#2b768e"/><stop offset=".069" stop-color="#2c738e"/><stop offset=".103" stop-color="#2a788e"/><stop offset=".138" stop-color="#287c8e"/><stop offset=".172" stop-color="#2a798e"/><stop offset=".207" stop-color="#2b778e"/><stop offset=".241" stop-color="#2c748e"/><stop offset=".276" stop-color="#30698e"/><stop offset=".310" stop-color="#2e6d8e"/><stop offset=".345" stop-color="#306b8e"/><stop offset=".379" stop-color="#33638d"/><stop offset=".414" stop-color="#34628d"/><stop offset=".437" stop-color="#34618d"/><stop offset=".448" stop-color="#33638d"/><stop offset=".483" stop-color="#2f6c8e"/><stop offset=".517" stop-color="#2c728e"/><stop offset=".552" stop-color="#2b778e"/><stop offset=".586" stop-color="#287d8e"/><stop offset=".610" stop-color="#25848e"/><stop offset=".621" stop-color="#26828e"/><stop offset=".655" stop-color="#2a788e"/><stop offset=".690" stop-color="#2e6e8e"/><stop offset=".724" stop-color="#35608d"/><stop offset=".759" stop-color="#39578c"/><stop offset=".782" stop-color="#3d4d8a"/><stop offset=".793" stop-color="#3e4b89"/><stop offset=".828" stop-color="#3e4a89"/><stop offset=".862" stop-color="#3d4d89"/><stop offset=".897" stop-color="#3d4e8a"/><stop offset=".931" stop-color="#404587"/><stop offset=".966" stop-color="#3f4888"/><stop offset=".998" stop-color="#3f4989"/><stop offset="1.000" stop-color="#3e4a89"/></linearGradient><linearGradient id="hg67" x1="0" x2="1" y1="0" y2="0"><stop offset=".000" stop-color="#34628d"/><stop offset=".001" stop-color="#35608d"/><stop offset=".034" stop-color="#31678e"/><stop offset=".069" stop-color="#306a8e"/><stop offset=".103" stop-color="#2d708e"/><stop offset=".138" stop-color="#2c748e"/><stop offset=".172" stop-color="#297a8e"/><stop offset=".207" stop-color="#297a8e"/><stop offset=".241" stop-color="#2b768e"/><stop offset=".276" stop-color="#2a778e"/><stop offset=".310" stop-color="#297a8e"/><stop offset=".345" stop-color="#2a778e"/><stop offset=".379" stop-color="#27808e"/><stop offset=".394" stop-color="#277f8e"/><stop offset=".414" stop-color="#238a8d"/><stop offset=".448" stop-color="#20968b"/><stop offset=".483" stop-color="#22a784"/><stop offset=".517" stop-color="#3aba76"/><stop offset=".523" stop-color="#3cbb75"/><stop offset=".552" stop-color="#3ebc73"/><stop offset=".586" stop-color="#45bf70"/><stop offset=".621" stop-color="#43bf70"/><stop offset=".655" stop-color="#3dbb74"/><stop offset=".690" stop-color="#3aba76"/><stop offset=".696" stop-color="#43be71"/><stop offset=".724" stop-color="#3dbb74"/><stop offset=".759" stop-color="#33b67a"/><stop offset=".793" stop-color="#2bb07f"/><stop offset=".828" stop-color="#2ab07f"/><stop offset=".862" stop-color="#24aa83"/><stop offset=".897" stop-color="#21a486"/><stop offset=".931" stop-color="#1fa087"/><stop offset=".966" stop-color="#1f9a8a"/><stop offset=".998" stop-color="#20958b"/><stop offset="1.000" stop-color="#20958b"/></linearGradient><linearGradient id="hg68" x1="0" x2="1" y1="0" y2="0"><stop offset=".000" stop-color="#26818e"/><stop offset=".001" stop-color="#27808e"/><stop offset=".034" stop-color="#297a8e"/><stop offset=".069" stop-color="#2d708e"/><stop offset=".103" stop-color="#2d718e"/><stop offset=".138" stop-color="#2d728e"/><stop offset=".172" stop-color="#2f6b8e"/><stop offset=".207" stop-color="#34618d"/><stop offset=".241" stop-color="#375a8c"/><stop offset=".276" stop-color="#3a538b"/><stop offset=".310" stop-color="#404788"/><stop offset=".329" stop-color="#404688"/><stop offset=".345" stop-color="#3d4e8a"/><stop offset=".372" stop-color="#34608d"/><stop offset=".379" stop-color="#33638d"/><stop offset=".414" stop-color="#2f6b8e"/><stop offset=".448" stop-color="#2b778e"/><stop offset=".483" stop-color="#297a8e"/><stop offset=".517" stop-color="#277e8e"/><stop offset=".523" stop-color="#25838e"/><stop offset=".552" stop-color="#24868e"/><stop offset=".586" stop-color="#26838e"/><stop offset=".621" stop-color="#24878d"/><stop offset=".655" stop-color="#24888d"/><stop offset=".690" stop-color="#228c8d"/><stop offset=".724" stop-color="#23898d"/><stop offset=".759" stop-color="#228d8d"/><stop offset=".793" stop-color="#218f8c"/><stop offset=".828" stop-color="#20948b"/><stop offset=".862" stop-color="#21918c"/><stop offset=".897" stop-color="#21938c"/><stop offset=".931" stop-color="#1f978a"/><stop offset=".966" stop-color="#20958b"/><stop offset=".998" stop-color="#1e9b89"/><stop offset="1.000" stop-color="#20968b"/></linearGradient><linearGradient id="hg69" x1="0" x2="1" y1="0" y2="0"><stop offset=".000" stop-color="#3a558b"/><stop offset=".001" stop-color="#3b538b"/><stop offset=".034" stop-color="#3c508a"/><stop offset=".069" stop-color="#3b528b"/><stop offset=".103" stop-color="#3c4f8a"/><stop offset=".138" stop-color="#39558c"/><stop offset=".172" stop-color="#3c508b"/><stop offset=".207" stop-color="#3e4b89"/><stop offset=".241" stop-color="#404688"/><stop offset=".276" stop-color="#433d84"/><stop offset=".310" stop-color="#453781"/><stop offset=".329" stop-color="#443b83"/><stop offset=".345" stop-color="#414587"/><stop offset=".379" stop-color="#375b8c"/><stop offset=".394" stop-color="#35608d"/><stop offset=".414" stop-color="#2f6d8e"/><stop offset=".448" stop-color="#24878d"/><stop offset=".483" stop-color="#1e9c89"/><stop offset=".517" stop-color="#24aa83"/><stop offset=".523" stop-color="#2cb27e"/><stop offset=".552" stop-color="#40bd72"/><stop offset=".586" stop-color="#6fce58"/><stop offset=".621" stop-color="#a4db36"/><stop offset=".653" stop-color="#e7e41b"/><stop offset=".655" stop-color="#eae51d"/><stop offset=".690" stop-color="#e6e41b"/><stop offset=".724" stop-color="#dce319"/><stop offset=".759" stop-color="#dae21a"/><stop offset=".793" stop-color="#e5e41b"/><stop offset=".828" stop-color="#e0e319"/><stop offset=".847" stop-color="#eae41d"/><stop offset=".862" stop-color="#ede51e"/><stop offset=".897" stop-color="#e4e41a"/><stop offset=".931" stop-color="#eee51e"/><stop offset=".966" stop-color="#fde725"/><stop offset=".998" stop-color="#fde725"/><stop offset="1.000" stop-color="#fde725"/></linearGradient><linearGradient id="hg70" x1="0" x2="1" y1="0" y2="0"><stop offset=".000" stop-color="#32658d"/><stop offset=".001" stop-color="#32658d"/><stop offset=".034" stop-color="#33638d"/><stop offset=".069" stop-color="#31678e"/><stop offset=".103" stop-color="#2d708e"/><stop offset=".138" stop-color="#2c728e"/><stop offset=".172" stop-color="#2a788e"/><stop offset=".207" stop-color="#297b8e"/><stop offset=".241" stop-color="#297a8e"/><stop offset=".276" stop-color="#2b778e"/><stop offset=".307" stop-color="#2b768e"/><stop offset=".310" stop-color="#297b8e"/><stop offset=".345" stop-color="#29af80"/><stop offset=".379" stop-color="#addc30"/><stop offset=".394" stop-color="#d8e21b"/><stop offset=".414" stop-color="#dbe31a"/><stop offset=".448" stop-color="#e3e41a"/><stop offset=".483" stop-color="#f0e520"/><stop offset=".517" stop-color="#eee51f"/><stop offset=".552" stop-color="#efe51f"/><stop offset=".586" stop-color="#f9e623"/><stop offset=".621" stop-color="#fde725"/><stop offset=".655" stop-color="#fde725"/><stop offset=".690" stop-color="#fbe724"/><stop offset=".696" stop-color="#fce725"/><stop offset=".724" stop-color="#f5e622"/><stop offset=".759" stop-color="#e8e41c"/><stop offset=".793" stop-color="#e7e41c"/><stop offset=".828" stop-color="#dbe319"/><stop offset=".847" stop-color="#cae121"/><stop offset=".862" stop-color="#cee11f"/><stop offset=".897" stop-color="#e0e318"/><stop offset=".931" stop-color="#f4e621"/><stop offset=".966" stop-color="#fde725"/><stop offset=".998" stop-color="#fde725"/><stop offset="1.000" stop-color="#fde725"/></linearGradient><linearGradient id="hg71" x1="0" x2="1" y1="0" y2="0"><stop offset=".000" stop-color="#297a8e"/><stop offset=".001" stop-color="#27808e"/><stop offset=".034" stop-color="#297c8e"/><stop offset=".069" stop-color="#297a8e"/><stop offset=".103" stop-color="#26818e"/><stop offset=".138" stop-color="#25848e"/><stop offset=".172" stop-color="#25838e"/><stop offset=".207" stop-color="#27808e"/><stop offset=".241" stop-color="#27808e"/><stop offset=".276" stop-color="#2b758e"/><stop offset=".310" stop-color="#297a8e"/><stop offset=".345" stop-color="#2b758e"/><stop offset=".379" stop-color="#2b768e"/><stop offset=".414" stop-color="#2b768e"/><stop offset=".448" stop-color="#2c738e"/><stop offset=".483" stop-color="#2a788e"/><stop offset=".517" stop-color="#2c738e"/><stop offset=".552" stop-color="#2d718e"/><stop offset=".586" stop-color="#2d708e"/><stop offset=".621" stop-color="#2d718e"/><stop offset=".655" stop-color="#2e708e"/><stop offset=".690" stop-color="#2c728e"/><stop offset=".696" stop-color="#2e6f8e"/><stop offset=".724" stop-color="#2e6f8e"/><stop offset=".759" stop-color="#2a778e"/><stop offset=".793" stop-color="#2a778e"/><stop offset=".828" stop-color="#297a8e"/><stop offset=".862" stop-color="#2a788e"/><stop offset=".897" stop-color="#297b8e"/><stop offset=".931" stop-color="#287c8e"/><stop offset=".966" stop-color="#277f8e"/><stop offset=".998" stop-color="#26818e"/><stop offset="1.000" stop-color="#287e8e"/></linearGradient><pattern id="tx72" patternUnits="userSpaceOnUse" x="378.80" y="137.50" width="43.0" height="49.50"><path d="M0.00 0.0h2.15v2.36h-2.15zM34.40 0.0h2.15v2.36h-2.15zM36.55 0.0h2.15v2.36h-2.15zM30.10 2.4h2.15v2.36h-2.15zM8.60 4.7h2.15v2.36h-2.15zM40.85 4.7h2.15v2.36h-2.15zM8.60 7.1h2.15v2.36h-2.15zM34.40 7.1h2.15v2.36h-2.15zM21.50 9.4h2.15v2.36h-2.15zM2.15 11.8h2.15v2.36h-2.15zM10.75 11.8h2.15v2.36h-2.15zM17.20 11.8h2.15v2.36h-2.15zM12.90 16.5h2.15v2.36h-2.15zM4.30 18.9h2.15v2.36h-2.15zM21.50 18.9h2.15v2.36h-2.15zM30.10 18.9h2.15v2.36h-2.15zM32.25 18.9h2.15v2.36h-2.15zM17.20 21.2h2.15v2.36h-2.15zM12.90 23.6h2.15v2.36h-2.15zM25.80 23.6h2.15v2.36h-2.15zM36.55 23.6h2.15v2.36h-2.15zM40.85 23.6h2.15v2.36h-2.15zM8.60 25.9h2.15v2.36h-2.15zM32.25 25.9h2.15v2.36h-2.15zM36.55 25.9h2.15v2.36h-2.15zM12.90 28.3h2.15v2.36h-2.15zM0.00 33.0h2.15v2.36h-2.15zM10.75 33.0h2.15v2.36h-2.15zM12.90 33.0h2.15v2.36h-2.15zM27.95 33.0h2.15v2.36h-2.15zM32.25 35.4h2.15v2.36h-2.15zM12.90 40.1h2.15v2.36h-2.15zM23.65 40.1h2.15v2.36h-2.15zM34.40 40.1h2.15v2.36h-2.15zM40.85 40.1h2.15v2.36h-2.15zM4.30 42.4h2.15v2.36h-2.15zM12.90 42.4h2.15v2.36h-2.15zM15.05 42.4h2.15v2.36h-2.15zM8.60 44.8h2.15v2.36h-2.15zM23.65 44.8h2.15v2.36h-2.15zM21.50 47.1h2.15v2.36h-2.15zM34.40 47.1h2.15v2.36h-2.15z" fill="#000" fill-opacity="0.030"/><path d="M2.15 0.0h2.15v2.36h-2.15zM8.60 0.0h2.15v2.36h-2.15zM10.75 0.0h2.15v2.36h-2.15zM17.20 0.0h2.15v2.36h-2.15zM23.65 0.0h2.15v2.36h-2.15zM0.00 2.4h2.15v2.36h-2.15zM8.60 2.4h2.15v2.36h-2.15zM23.65 2.4h2.15v2.36h-2.15zM2.15 4.7h2.15v2.36h-2.15zM32.25 4.7h2.15v2.36h-2.15zM0.00 7.1h2.15v2.36h-2.15zM19.35 7.1h2.15v2.36h-2.15zM32.25 7.1h2.15v2.36h-2.15zM38.70 7.1h2.15v2.36h-2.15zM40.85 7.1h2.15v2.36h-2.15zM23.65 9.4h2.15v2.36h-2.15zM25.80 9.4h2.15v2.36h-2.15zM8.60 11.8h2.15v2.36h-2.15zM12.90 11.8h2.15v2.36h-2.15zM21.50 11.8h2.15v2.36h-2.15zM23.65 11.8h2.15v2.36h-2.15zM30.10 11.8h2.15v2.36h-2.15zM10.75 14.1h2.15v2.36h-2.15zM12.90 14.1h2.15v2.36h-2.15zM25.80 14.1h2.15v2.36h-2.15zM30.10 14.1h2.15v2.36h-2.15zM34.40 14.1h2.15v2.36h-2.15zM21.50 16.5h2.15v2.36h-2.15zM34.40 16.5h2.15v2.36h-2.15zM36.55 16.5h2.15v2.36h-2.15zM19.35 18.9h2.15v2.36h-2.15zM21.50 21.2h2.15v2.36h-2.15zM34.40 23.6h2.15v2.36h-2.15zM6.45 25.9h2.15v2.36h-2.15zM30.10 25.9h2.15v2.36h-2.15zM40.85 28.3h2.15v2.36h-2.15zM6.45 30.6h2.15v2.36h-2.15zM30.10 30.6h2.15v2.36h-2.15zM38.70 30.6h2.15v2.36h-2.15zM40.85 33.0h2.15v2.36h-2.15zM36.55 35.4h2.15v2.36h-2.15zM6.45 37.7h2.15v2.36h-2.15zM10.75 37.7h2.15v2.36h-2.15zM15.05 37.7h2.15v2.36h-2.15zM34.40 37.7h2.15v2.36h-2.15zM36.55 37.7h2.15v2.36h-2.15zM40.85 37.7h2.15v2.36h-2.15zM21.50 40.1h2.15v2.36h-2.15zM32.25 40.1h2.15v2.36h-2.15zM10.75 42.4h2.15v2.36h-2.15zM17.20 42.4h2.15v2.36h-2.15zM4.30 44.8h2.15v2.36h-2.15zM17.20 44.8h2.15v2.36h-2.15zM34.40 44.8h2.15v2.36h-2.15z" fill="#000" fill-opacity="0.023"/><path d="M6.45 0.0h2.15v2.36h-2.15zM15.05 0.0h2.15v2.36h-2.15zM19.35 0.0h2.15v2.36h-2.15zM32.25 2.4h2.15v2.36h-2.15zM0.00 4.7h2.15v2.36h-2.15zM6.45 7.1h2.15v2.36h-2.15zM2.15 9.4h2.15v2.36h-2.15zM27.95 9.4h2.15v2.36h-2.15zM30.10 9.4h2.15v2.36h-2.15zM34.40 9.4h2.15v2.36h-2.15zM38.70 9.4h2.15v2.36h-2.15zM34.40 11.8h2.15v2.36h-2.15zM2.15 14.1h2.15v2.36h-2.15zM6.45 14.1h2.15v2.36h-2.15zM15.05 14.1h2.15v2.36h-2.15zM17.20 14.1h2.15v2.36h-2.15zM21.50 14.1h2.15v2.36h-2.15zM0.00 16.5h2.15v2.36h-2.15zM6.45 16.5h2.15v2.36h-2.15zM8.60 16.5h2.15v2.36h-2.15zM40.85 16.5h2.15v2.36h-2.15zM2.15 18.9h2.15v2.36h-2.15zM36.55 18.9h2.15v2.36h-2.15zM4.30 21.2h2.15v2.36h-2.15zM40.85 21.2h2.15v2.36h-2.15zM10.75 23.6h2.15v2.36h-2.15zM17.20 23.6h2.15v2.36h-2.15zM19.35 25.9h2.15v2.36h-2.15zM25.80 25.9h2.15v2.36h-2.15zM8.60 28.3h2.15v2.36h-2.15zM15.05 28.3h2.15v2.36h-2.15zM23.65 28.3h2.15v2.36h-2.15zM27.95 28.3h2.15v2.36h-2.15zM40.85 30.6h2.15v2.36h-2.15zM6.45 33.0h2.15v2.36h-2.15zM23.65 33.0h2.15v2.36h-2.15zM38.70 33.0h2.15v2.36h-2.15zM0.00 35.4h2.15v2.36h-2.15zM12.90 35.4h2.15v2.36h-2.15zM0.00 40.1h2.15v2.36h-2.15zM2.15 40.1h2.15v2.36h-2.15zM23.65 42.4h2.15v2.36h-2.15zM0.00 44.8h2.15v2.36h-2.15zM19.35 44.8h2.15v2.36h-2.15zM10.75 47.1h2.15v2.36h-2.15zM40.85 47.1h2.15v2.36h-2.15z" fill="#fff" fill-opacity="0.017"/><path d="M12.90 0.0h2.15v2.36h-2.15zM10.75 2.4h2.15v2.36h-2.15zM38.70 2.4h2.15v2.36h-2.15zM6.45 4.7h2.15v2.36h-2.15zM30.10 4.7h2.15v2.36h-2.15zM12.90 9.4h2.15v2.36h-2.15zM36.55 9.4h2.15v2.36h-2.15zM6.45 11.8h2.15v2.36h-2.15zM27.95 11.8h2.15v2.36h-2.15zM38.70 14.1h2.15v2.36h-2.15zM4.30 16.5h2.15v2.36h-2.15zM19.35 16.5h2.15v2.36h-2.15zM6.45 18.9h2.15v2.36h-2.15zM17.20 18.9h2.15v2.36h-2.15zM25.80 18.9h2.15v2.36h-2.15zM38.70 18.9h2.15v2.36h-2.15zM6.45 21.2h2.15v2.36h-2.15zM15.05 21.2h2.15v2.36h-2.15zM36.55 21.2h2.15v2.36h-2.15zM2.15 23.6h2.15v2.36h-2.15zM8.60 23.6h2.15v2.36h-2.15zM19.35 23.6h2.15v2.36h-2.15zM27.95 23.6h2.15v2.36h-2.15zM38.70 23.6h2.15v2.36h-2.15zM0.00 28.3h2.15v2.36h-2.15zM10.75 30.6h2.15v2.36h-2.15zM19.35 30.6h2.15v2.36h-2.15zM21.50 30.6h2.15v2.36h-2.15zM32.25 30.6h2.15v2.36h-2.15zM34.40 30.6h2.15v2.36h-2.15zM4.30 33.0h2.15v2.36h-2.15zM32.25 33.0h2.15v2.36h-2.15zM15.05 35.4h2.15v2.36h-2.15zM30.10 35.4h2.15v2.36h-2.15zM19.35 40.1h2.15v2.36h-2.15zM38.70 40.1h2.15v2.36h-2.15zM0.00 42.4h2.15v2.36h-2.15zM30.10 42.4h2.15v2.36h-2.15zM6.45 44.8h2.15v2.36h-2.15zM40.85 44.8h2.15v2.36h-2.15z" fill="#000" fill-opacity="0.017"/><path d="M32.25 0.0h2.15v2.36h-2.15zM38.70 0.0h2.15v2.36h-2.15zM6.45 2.4h2.15v2.36h-2.15zM17.20 2.4h2.15v2.36h-2.15zM27.95 2.4h2.15v2.36h-2.15zM21.50 4.7h2.15v2.36h-2.15zM23.65 4.7h2.15v2.36h-2.15zM25.80 4.7h2.15v2.36h-2.15zM2.15 7.1h2.15v2.36h-2.15zM12.90 7.1h2.15v2.36h-2.15zM17.20 7.1h2.15v2.36h-2.15zM36.55 7.1h2.15v2.36h-2.15zM32.25 9.4h2.15v2.36h-2.15zM40.85 9.4h2.15v2.36h-2.15zM19.35 14.1h2.15v2.36h-2.15zM17.20 16.5h2.15v2.36h-2.15zM15.05 18.9h2.15v2.36h-2.15zM40.85 18.9h2.15v2.36h-2.15zM27.95 21.2h2.15v2.36h-2.15zM15.05 23.6h2.15v2.36h-2.15zM21.50 23.6h2.15v2.36h-2.15zM32.25 23.6h2.15v2.36h-2.15zM21.50 25.9h2.15v2.36h-2.15zM40.85 25.9h2.15v2.36h-2.15zM6.45 28.3h2.15v2.36h-2.15zM25.80 28.3h2.15v2.36h-2.15zM30.10 28.3h2.15v2.36h-2.15zM15.05 30.6h2.15v2.36h-2.15zM36.55 30.6h2.15v2.36h-2.15zM27.95 35.4h2.15v2.36h-2.15zM38.70 35.4h2.15v2.36h-2.15zM23.65 37.7h2.15v2.36h-2.15zM15.05 40.1h2.15v2.36h-2.15zM19.35 42.4h2.15v2.36h-2.15zM25.80 42.4h2.15v2.36h-2.15zM36.55 42.4h2.15v2.36h-2.15zM12.90 44.8h2.15v2.36h-2.15zM25.80 44.8h2.15v2.36h-2.15zM4.30 47.1h2.15v2.36h-2.15zM6.45 47.1h2.15v2.36h-2.15zM19.35 47.1h2.15v2.36h-2.15zM30.10 47.1h2.15v2.36h-2.15z" fill="#fff" fill-opacity="0.030"/><path d="M19.35 2.4h2.15v2.36h-2.15zM25.80 2.4h2.15v2.36h-2.15zM34.40 2.4h2.15v2.36h-2.15zM40.85 2.4h2.15v2.36h-2.15zM19.35 4.7h2.15v2.36h-2.15zM27.95 4.7h2.15v2.36h-2.15zM23.65 7.1h2.15v2.36h-2.15zM27.95 7.1h2.15v2.36h-2.15zM4.30 9.4h2.15v2.36h-2.15zM10.75 9.4h2.15v2.36h-2.15zM15.05 11.8h2.15v2.36h-2.15zM25.80 11.8h2.15v2.36h-2.15zM38.70 11.8h2.15v2.36h-2.15zM27.95 14.1h2.15v2.36h-2.15zM10.75 16.5h2.15v2.36h-2.15zM23.65 16.5h2.15v2.36h-2.15zM30.10 16.5h2.15v2.36h-2.15zM10.75 21.2h2.15v2.36h-2.15zM34.40 21.2h2.15v2.36h-2.15zM6.45 23.6h2.15v2.36h-2.15zM23.65 23.6h2.15v2.36h-2.15zM10.75 25.9h2.15v2.36h-2.15zM23.65 25.9h2.15v2.36h-2.15zM34.40 25.9h2.15v2.36h-2.15zM10.75 28.3h2.15v2.36h-2.15zM21.50 28.3h2.15v2.36h-2.15zM36.55 28.3h2.15v2.36h-2.15zM2.15 30.6h2.15v2.36h-2.15zM4.30 30.6h2.15v2.36h-2.15zM2.15 33.0h2.15v2.36h-2.15zM15.05 33.0h2.15v2.36h-2.15zM34.40 33.0h2.15v2.36h-2.15zM4.30 35.4h2.15v2.36h-2.15zM6.45 35.4h2.15v2.36h-2.15zM19.35 35.4h2.15v2.36h-2.15zM25.80 35.4h2.15v2.36h-2.15zM2.15 37.7h2.15v2.36h-2.15zM4.30 37.7h2.15v2.36h-2.15zM17.20 37.7h2.15v2.36h-2.15zM25.80 37.7h2.15v2.36h-2.15zM38.70 37.7h2.15v2.36h-2.15zM8.60 40.1h2.15v2.36h-2.15zM10.75 40.1h2.15v2.36h-2.15zM25.80 40.1h2.15v2.36h-2.15zM27.95 40.1h2.15v2.36h-2.15zM2.15 42.4h2.15v2.36h-2.15zM21.50 42.4h2.15v2.36h-2.15zM32.25 42.4h2.15v2.36h-2.15zM2.15 44.8h2.15v2.36h-2.15zM27.95 47.1h2.15v2.36h-2.15z" fill="#fff" fill-opacity="0.023"/></pattern><linearGradient id="cb73" x1="0" x2="0" y1="0" y2="1"><stop offset="0.000" stop-color="#fde725"/><stop offset="0.050" stop-color="#dfe318"/><stop offset="0.100" stop-color="#bddf26"/><stop offset="0.150" stop-color="#9bd93c"/><stop offset="0.200" stop-color="#7ad151"/><stop offset="0.250" stop-color="#5ec962"/><stop offset="0.300" stop-color="#44bf70"/><stop offset="0.350" stop-color="#2fb47c"/><stop offset="0.400" stop-color="#22a884"/><stop offset="0.450" stop-color="#1e9c89"/><stop offset="0.500" stop-color="#21918c"/><stop offset="0.550" stop-color="#25848e"/><stop offset="0.600" stop-color="#2a788e"/><stop offset="0.650" stop-color="#2f6c8e"/><stop offset="0.700" stop-color="#355f8d"/><stop offset="0.750" stop-color="#3b528b"/><stop offset="0.800" stop-color="#414487"/><stop offset="0.850" stop-color="#463480"/><stop offset="0.900" stop-color="#482475"/><stop offset="0.950" stop-color="#471365"/><stop offset="1.000" stop-color="#440154"/></linearGradient><linearGradient id="hg74" x1="0" x2="1" y1="0" y2="0"><stop offset=".000" stop-color="#21908c"/><stop offset=".001" stop-color="#21928c"/><stop offset=".034" stop-color="#228d8d"/><stop offset=".069" stop-color="#23898d"/><stop offset=".103" stop-color="#21928c"/><stop offset=".138" stop-color="#228d8d"/><stop offset=".172" stop-color="#20948b"/><stop offset=".207" stop-color="#228e8c"/><stop offset=".241" stop-color="#21928c"/><stop offset=".276" stop-color="#20968b"/><stop offset=".310" stop-color="#238c8d"/><stop offset=".345" stop-color="#21928c"/><stop offset=".379" stop-color="#20938b"/><stop offset=".414" stop-color="#20938b"/><stop offset=".448" stop-color="#1e9c89"/><stop offset=".483" stop-color="#21918c"/><stop offset=".502" stop-color="#1f978a"/><stop offset=".517" stop-color="#1f978a"/><stop offset=".552" stop-color="#1f988a"/><stop offset=".586" stop-color="#1e9b89"/><stop offset=".621" stop-color="#24aa82"/><stop offset=".655" stop-color="#22a785"/><stop offset=".690" stop-color="#2db37d"/><stop offset=".724" stop-color="#29af80"/><stop offset=".726" stop-color="#29ae80"/><stop offset=".759" stop-color="#26ac81"/><stop offset=".793" stop-color="#25ab82"/><stop offset=".828" stop-color="#24aa83"/><stop offset=".862" stop-color="#30b47c"/><stop offset=".897" stop-color="#33b67a"/><stop offset=".931" stop-color="#34b779"/><stop offset=".942" stop-color="#2fb47c"/><stop offset=".964" stop-color="#306a8e"/><stop offset=".966" stop-color="#32658d"/><stop offset=".998" stop-color="#33638d"/><stop offset="1.000" stop-color="#306b8e"/></linearGradient><linearGradient id="hg75" x1="0" x2="1" y1="0" y2="0"><stop offset=".000" stop-color="#32668e"/><stop offset=".001" stop-color="#32668e"/><stop offset=".034" stop-color="#35608d"/><stop offset=".069" stop-color="#31688e"/><stop offset=".103" stop-color="#34618d"/><stop offset=".122" stop-color="#34628d"/><stop offset=".126" stop-color="#443b83"/><stop offset=".135" stop-color="#34618d"/><stop offset=".138" stop-color="#306b8e"/><stop offset=".172" stop-color="#33638d"/><stop offset=".207" stop-color="#34628d"/><stop offset=".241" stop-color="#365c8d"/><stop offset=".276" stop-color="#31688e"/><stop offset=".310" stop-color="#355f8d"/><stop offset=".329" stop-color="#33638d"/><stop offset=".338" stop-color="#443a83"/><stop offset=".345" stop-color="#355e8d"/><stop offset=".351" stop-color="#25848e"/><stop offset=".372" stop-color="#62ca60"/><stop offset=".379" stop-color="#62ca60"/><stop offset=".414" stop-color="#5fc961"/><stop offset=".448" stop-color="#62ca5f"/><stop offset=".483" stop-color="#6bcd5a"/><stop offset=".517" stop-color="#81d34c"/><stop offset=".552" stop-color="#77d053"/><stop offset=".586" stop-color="#8cd546"/><stop offset=".621" stop-color="#85d44a"/><stop offset=".655" stop-color="#a6db35"/><stop offset=".690" stop-color="#8ed644"/><stop offset=".724" stop-color="#b3dd2d"/><stop offset=".726" stop-color="#bade28"/><stop offset=".759" stop-color="#c5e023"/><stop offset=".793" stop-color="#bddf26"/><stop offset=".828" stop-color="#d7e21b"/><stop offset=".856" stop-color="#c6e022"/><stop offset=".862" stop-color="#e5e41b"/><stop offset=".897" stop-color="#e6e41b"/><stop offset=".931" stop-color="#dce319"/><stop offset=".942" stop-color="#e6e41b"/><stop offset=".964" stop-color="#2c738e"/><stop offset=".966" stop-color="#2a788e"/><stop offset=".998" stop-color="#2e6f8e"/><stop offset="1.000" stop-color="#2f6b8e"/></linearGradient><linearGradient id="hg76" x1="0" x2="1" y1="0" y2="0"><stop offset=".000" stop-color="#30698e"/><stop offset=".001" stop-color="#33648d"/><stop offset=".034" stop-color="#30698e"/><stop offset=".069" stop-color="#2d718e"/><stop offset=".103" stop-color="#2d728e"/><stop offset=".138" stop-color="#2f6c8e"/><stop offset=".172" stop-color="#2a788e"/><stop offset=".207" stop-color="#29798e"/><stop offset=".241" stop-color="#2e6f8e"/><stop offset=".276" stop-color="#297a8e"/><stop offset=".295" stop-color="#2a778e"/><stop offset=".310" stop-color="#2b758e"/><stop offset=".345" stop-color="#287d8e"/><stop offset=".379" stop-color="#24878d"/><stop offset=".414" stop-color="#25858e"/><stop offset=".448" stop-color="#228d8d"/><stop offset=".483" stop-color="#1f978a"/><stop offset=".502" stop-color="#20948b"/><stop offset=".517" stop-color="#1f9e88"/><stop offset=".552" stop-color="#1e9c89"/><stop offset=".586" stop-color="#1fa088"/><stop offset=".621" stop-color="#1f9a8a"/><stop offset=".655" stop-color="#1e9d89"/><stop offset=".690" stop-color="#22a784"/><stop offset=".724" stop-color="#21a486"/><stop offset=".759" stop-color="#26ab82"/><stop offset=".793" stop-color="#2eb37c"/><stop offset=".828" stop-color="#2cb27e"/><stop offset=".862" stop-color="#2db27d"/><stop offset=".897" stop-color="#2ab07f"/><stop offset=".931" stop-color="#2eb37d"/><stop offset=".966" stop-color="#35b779"/><stop offset=".998" stop-color="#4cc26b"/><stop offset="1.000" stop-color="#46c06f"/></linearGradient><linearGradient id="hg77" x1="0" x2="1" y1="0" y2="0"><stop offset=".000" stop-color="#2a798e"/><stop offset=".001" stop-color="#287c8e"/><stop offset=".034" stop-color="#297a8e"/><stop offset=".069" stop-color="#287c8e"/><stop offset=".103" stop-color="#25858e"/><stop offset=".138" stop-color="#2a798e"/><stop offset=".172" stop-color="#25848e"/><stop offset=".207" stop-color="#25838e"/><stop offset=".241" stop-color="#297a8e"/><stop offset=".276" stop-color="#297b8e"/><stop offset=".310" stop-color="#26838e"/><stop offset=".345" stop-color="#24888d"/><stop offset=".379" stop-color="#26828e"/><stop offset=".414" stop-color="#24878e"/><stop offset=".448" stop-color="#23898d"/><stop offset=".483" stop-color="#238c8d"/><stop offset=".517" stop-color="#24878e"/><stop offset=".552" stop-color="#25838e"/><stop offset=".586" stop-color="#238a8d"/><stop offset=".621" stop-color="#24888d"/><stop offset=".655" stop-color="#24868e"/><stop offset=".690" stop-color="#228d8d"/><stop offset=".724" stop-color="#24878e"/><stop offset=".759" stop-color="#238b8d"/><stop offset=".793" stop-color="#228c8d"/><stop offset=".828" stop-color="#228f8c"/><stop offset=".862" stop-color="#25848e"/><stop offset=".897" stop-color="#218f8c"/><stop offset=".931" stop-color="#21918c"/><stop offset=".942" stop-color="#25848e"/><stop offset=".964" stop-color="#414286"/><stop offset=".966" stop-color="#3f4888"/><stop offset=".998" stop-color="#404688"/><stop offset="1.000" stop-color="#3d4e8a"/></linearGradient><linearGradient id="hg78" x1="0" x2="1" y1="0" y2="0"><stop offset=".000" stop-color="#33638d"/><stop offset=".001" stop-color="#32658d"/><stop offset=".034" stop-color="#2f6b8e"/><stop offset=".069" stop-color="#2f6d8e"/><stop offset=".103" stop-color="#31678e"/><stop offset=".138" stop-color="#306a8e"/><stop offset=".172" stop-color="#2b758e"/><stop offset=".207" stop-color="#2b778e"/><stop offset=".241" stop-color="#2a788e"/><stop offset=".276" stop-color="#27808e"/><stop offset=".310" stop-color="#287d8e"/><stop offset=".345" stop-color="#287c8e"/><stop offset=".379" stop-color="#277f8e"/><stop offset=".414" stop-color="#287d8e"/><stop offset=".448" stop-color="#238b8d"/><stop offset=".483" stop-color="#24888d"/><stop offset=".502" stop-color="#238b8d"/><stop offset=".517" stop-color="#25858e"/><stop offset=".552" stop-color="#21928c"/><stop offset=".586" stop-color="#238a8d"/><stop offset=".621" stop-color="#25848e"/><stop offset=".655" stop-color="#228f8c"/><stop offset=".690" stop-color="#228f8c"/><stop offset=".724" stop-color="#25858e"/><stop offset=".759" stop-color="#228e8d"/><stop offset=".793" stop-color="#24868e"/><stop offset=".828" stop-color="#24868e"/><stop offset=".862" stop-color="#21928c"/><stop offset=".897" stop-color="#21928c"/><stop offset=".931" stop-color="#25848e"/><stop offset=".966" stop-color="#25858e"/><stop offset=".998" stop-color="#23898d"/><stop offset="1.000" stop-color="#24868e"/></linearGradient><linearGradient id="hg79" x1="0" x2="1" y1="0" y2="0"><stop offset=".000" stop-color="#287e8e"/><stop offset=".001" stop-color="#24888d"/><stop offset=".034" stop-color="#26818e"/><stop offset=".069" stop-color="#24898d"/><stop offset=".103" stop-color="#25848e"/><stop offset=".138" stop-color="#228d8d"/><stop offset=".172" stop-color="#228c8d"/><stop offset=".207" stop-color="#25858e"/><stop offset=".241" stop-color="#20948b"/><stop offset=".276" stop-color="#20948b"/><stop offset=".310" stop-color="#228f8c"/><stop offset=".345" stop-color="#21928c"/><stop offset=".379" stop-color="#20968b"/><stop offset=".381" stop-color="#20968b"/><stop offset=".414" stop-color="#22a784"/><stop offset=".448" stop-color="#3aba75"/><stop offset=".467" stop-color="#4cc26c"/><stop offset=".483" stop-color="#38b977"/><stop offset=".517" stop-color="#2fb47c"/><stop offset=".552" stop-color="#33b67a"/><stop offset=".586" stop-color="#2eb37c"/><stop offset=".621" stop-color="#39b976"/><stop offset=".655" stop-color="#36b878"/><stop offset=".690" stop-color="#38b977"/><stop offset=".724" stop-color="#32b67a"/><stop offset=".726" stop-color="#30b57b"/><stop offset=".759" stop-color="#3dbb74"/><stop offset=".793" stop-color="#3fbc73"/><stop offset=".828" stop-color="#3dbc74"/><stop offset=".862" stop-color="#52c568"/><stop offset=".897" stop-color="#5dc962"/><stop offset=".921" stop-color="#54c567"/><stop offset=".931" stop-color="#4ec36a"/><stop offset=".966" stop-color="#41bd72"/><stop offset=".998" stop-color="#35b779"/><stop offset="1.000" stop-color="#45c06f"/></linearGradient><linearGradient id="hg80" x1="0" x2="1" y1="0" y2="0"><stop offset=".000" stop-color="#24878e"/><stop offset=".001" stop-color="#26838e"/><stop offset=".034" stop-color="#25838e"/><stop offset=".069" stop-color="#25858e"/><stop offset=".103" stop-color="#25858e"/><stop offset=".138" stop-color="#24868e"/><stop offset=".172" stop-color="#228d8d"/><stop offset=".207" stop-color="#21918c"/><stop offset=".241" stop-color="#20948b"/><stop offset=".276" stop-color="#21918c"/><stop offset=".310" stop-color="#1f998a"/><stop offset=".345" stop-color="#21908c"/><stop offset=".379" stop-color="#1e9d89"/><stop offset=".403" stop-color="#1e9c89"/><stop offset=".414" stop-color="#21a486"/><stop offset=".446" stop-color="#2bb07e"/><stop offset=".448" stop-color="#34b779"/><stop offset=".483" stop-color="#2eb37d"/><stop offset=".517" stop-color="#2ab07f"/><stop offset=".552" stop-color="#23a983"/><stop offset=".586" stop-color="#1f9a8a"/><stop offset=".621" stop-color="#1e9c89"/><stop offset=".655" stop-color="#21918c"/><stop offset=".690" stop-color="#20968b"/><stop offset=".724" stop-color="#21908c"/><stop offset=".726" stop-color="#238a8d"/><stop offset=".759" stop-color="#238b8d"/><stop offset=".793" stop-color="#2a788e"/><stop offset=".828" stop-color="#2b778e"/><stop offset=".862" stop-color="#306a8e"/><stop offset=".897" stop-color="#2f6d8e"/><stop offset=".921" stop-color="#30698e"/><stop offset=".931" stop-color="#3f4988"/><stop offset=".942" stop-color="#472b7a"/><stop offset=".966" stop-color="#481d6e"/><stop offset=".998" stop-color="#481f71"/><stop offset="1.000" stop-color="#481e6f"/></linearGradient><linearGradient id="hg81" x1="0" x2="1" y1="0" y2="0"><stop offset=".000" stop-color="#33638d"/><stop offset=".001" stop-color="#32668e"/><stop offset=".034" stop-color="#306a8e"/><stop offset=".069" stop-color="#34628d"/><stop offset=".103" stop-color="#365e8d"/><stop offset=".138" stop-color="#355f8d"/><stop offset=".172" stop-color="#31678e"/><stop offset=".207" stop-color="#34628d"/><stop offset=".241" stop-color="#32658d"/><stop offset=".273" stop-color="#365c8d"/><stop offset=".276" stop-color="#3a548b"/><stop offset=".278" stop-color="#3c4f8a"/><stop offset=".310" stop-color="#424186"/><stop offset=".345" stop-color="#3d4d89"/><stop offset=".379" stop-color="#3d4e8a"/><stop offset=".414" stop-color="#3c4f8a"/><stop offset=".416" stop-color="#424186"/><stop offset=".433" stop-color="#50c469"/><stop offset=".448" stop-color="#6ccd5a"/><stop offset=".483" stop-color="#65cb5e"/><stop offset=".517" stop-color="#6acd5b"/><stop offset=".552" stop-color="#82d34c"/><stop offset=".586" stop-color="#81d34d"/><stop offset=".621" stop-color="#8ed644"/><stop offset=".640" stop-color="#95d840"/><stop offset=".655" stop-color="#91d743"/><stop offset=".690" stop-color="#afdd2f"/><stop offset=".724" stop-color="#afdc2f"/><stop offset=".759" stop-color="#9ed93a"/><stop offset=".793" stop-color="#a5db35"/><stop offset=".828" stop-color="#a4db36"/><stop offset=".862" stop-color="#bbdf27"/><stop offset=".864" stop-color="#c5e023"/><stop offset=".890" stop-color="#287e8e"/><stop offset=".897" stop-color="#2f6d8e"/><stop offset=".931" stop-color="#481d6f"/><stop offset=".934" stop-color="#47196a"/><stop offset=".966" stop-color="#450a5c"/><stop offset=".977" stop-color="#460c5f"/><stop offset=".998" stop-color="#34628d"/><stop offset="1.000" stop-color="#34628d"/></linearGradient><linearGradient id="hg82" x1="0" x2="1" y1="0" y2="0"><stop offset=".000" stop-color="#33648d"/><stop offset=".001" stop-color="#32668e"/><stop offset=".034" stop-color="#32658d"/><stop offset=".069" stop-color="#34618d"/><stop offset=".103" stop-color="#32668e"/><stop offset=".138" stop-color="#33648d"/><stop offset=".172" stop-color="#2e6e8e"/><stop offset=".207" stop-color="#2f6b8e"/><stop offset=".241" stop-color="#2b758e"/><stop offset=".276" stop-color="#2d718e"/><stop offset=".295" stop-color="#2b748e"/><stop offset=".310" stop-color="#2b768e"/><stop offset=".345" stop-color="#238b8d"/><stop offset=".379" stop-color="#1fa087"/><stop offset=".414" stop-color="#24aa83"/><stop offset=".424" stop-color="#32b67a"/><stop offset=".448" stop-color="#3dbc74"/><stop offset=".483" stop-color="#3aba75"/><stop offset=".517" stop-color="#54c567"/><stop offset=".552" stop-color="#53c568"/><stop offset=".586" stop-color="#7ed24e"/><stop offset=".621" stop-color="#8bd546"/><stop offset=".640" stop-color="#79d152"/><stop offset=".655" stop-color="#8ed644"/><stop offset=".690" stop-color="#75cf54"/><stop offset=".724" stop-color="#82d34c"/><stop offset=".759" stop-color="#71ce57"/><stop offset=".793" stop-color="#69cc5b"/><stop offset=".828" stop-color="#59c764"/><stop offset=".856" stop-color="#53c568"/><stop offset=".862" stop-color="#3aba76"/><stop offset=".897" stop-color="#3f4888"/><stop offset=".899" stop-color="#414487"/><stop offset=".931" stop-color="#3f4888"/><stop offset=".966" stop-color="#3d4e8a"/><stop offset=".998" stop-color="#424085"/><stop offset="1.000" stop-color="#424085"/></linearGradient><linearGradient id="hg83" x1="0" x2="1" y1="0" y2="0"><stop offset=".000" stop-color="#228e8c"/><stop offset=".001" stop-color="#21918c"/><stop offset=".034" stop-color="#24868e"/><stop offset=".069" stop-color="#24868e"/><stop offset=".103" stop-color="#25858e"/><stop offset=".138" stop-color="#228c8d"/><stop offset=".172" stop-color="#238c8d"/><stop offset=".207" stop-color="#228e8c"/><stop offset=".241" stop-color="#228e8d"/><stop offset=".276" stop-color="#24888d"/><stop offset=".310" stop-color="#24888d"/><stop offset=".316" stop-color="#21918c"/><stop offset=".338" stop-color="#e5e41a"/><stop offset=".345" stop-color="#cee11f"/><stop offset=".379" stop-color="#d7e21b"/><stop offset=".414" stop-color="#d1e11e"/><stop offset=".448" stop-color="#d6e21c"/><stop offset=".483" stop-color="#cde11f"/><stop offset=".517" stop-color="#c1df24"/><stop offset=".552" stop-color="#c4e023"/><stop offset=".586" stop-color="#cfe11f"/><stop offset=".621" stop-color="#cce120"/><stop offset=".655" stop-color="#c8e022"/><stop offset=".690" stop-color="#c7e022"/><stop offset=".724" stop-color="#c9e021"/><stop offset=".759" stop-color="#cce120"/><stop offset=".793" stop-color="#d4e21d"/><stop offset=".813" stop-color="#b2dd2d"/><stop offset=".828" stop-color="#20a287"/><stop offset=".834" stop-color="#2a798e"/><stop offset=".862" stop-color="#2a778e"/><stop offset=".864" stop-color="#2a798e"/><stop offset=".877" stop-color="#fae724"/><stop offset=".897" stop-color="#fde725"/><stop offset=".931" stop-color="#fde725"/><stop offset=".966" stop-color="#fde725"/><stop offset=".998" stop-color="#fde725"/><stop offset="1.000" stop-color="#fce725"/></linearGradient><linearGradient id="hg84" x1="0" x2="1" y1="0" y2="0"><stop offset=".000" stop-color="#414587"/><stop offset=".001" stop-color="#424286"/><stop offset=".034" stop-color="#404788"/><stop offset=".069" stop-color="#424186"/><stop offset=".103" stop-color="#3f4988"/><stop offset=".138" stop-color="#433f85"/><stop offset=".172" stop-color="#3d4c89"/><stop offset=".207" stop-color="#3d4e8a"/><stop offset=".208" stop-color="#3f4a89"/><stop offset=".230" stop-color="#32658d"/><stop offset=".241" stop-color="#355e8d"/><stop offset=".276" stop-color="#31678e"/><stop offset=".310" stop-color="#306a8e"/><stop offset=".312" stop-color="#2f6b8e"/><stop offset=".325" stop-color="#fde725"/><stop offset=".345" stop-color="#f8e623"/><stop offset=".379" stop-color="#fde725"/><stop offset=".414" stop-color="#fde725"/><stop offset=".448" stop-color="#fde725"/><stop offset=".483" stop-color="#fde725"/><stop offset=".517" stop-color="#f3e620"/><stop offset=".552" stop-color="#fde725"/><stop offset=".586" stop-color="#fde725"/><stop offset=".621" stop-color="#fde725"/><stop offset=".655" stop-color="#fde725"/><stop offset=".690" stop-color="#fde725"/><stop offset=".724" stop-color="#fde725"/><stop offset=".759" stop-color="#fde725"/><stop offset=".793" stop-color="#fde725"/><stop offset=".828" stop-color="#fde725"/><stop offset=".862" stop-color="#fde725"/><stop offset=".897" stop-color="#fde725"/><stop offset=".931" stop-color="#fde725"/><stop offset=".966" stop-color="#fde725"/><stop offset=".998" stop-color="#f9e723"/><stop offset="1.000" stop-color="#f0e51f"/></linearGradient><linearGradient id="hg85" x1="0" x2="1" y1="0" y2="0"><stop offset=".000" stop-color="#25858e"/><stop offset=".001" stop-color="#25858e"/><stop offset=".034" stop-color="#24878e"/><stop offset=".069" stop-color="#228f8c"/><stop offset=".103" stop-color="#24878e"/><stop offset=".138" stop-color="#24888d"/><stop offset=".172" stop-color="#21908c"/><stop offset=".207" stop-color="#25858e"/><stop offset=".241" stop-color="#238c8d"/><stop offset=".276" stop-color="#21908c"/><stop offset=".295" stop-color="#24888d"/><stop offset=".310" stop-color="#20938b"/><stop offset=".338" stop-color="#25ab82"/><stop offset=".345" stop-color="#2fb47c"/><stop offset=".379" stop-color="#23a983"/><stop offset=".414" stop-color="#1f9f88"/><stop offset=".448" stop-color="#1f998a"/><stop offset=".483" stop-color="#1fa087"/><stop offset=".502" stop-color="#1e9b89"/><stop offset=".517" stop-color="#1f9e88"/><stop offset=".552" stop-color="#1f988a"/><stop offset=".586" stop-color="#1f998a"/><stop offset=".621" stop-color="#20968b"/><stop offset=".655" stop-color="#21928c"/><stop offset=".690" stop-color="#228d8d"/><stop offset=".724" stop-color="#238c8d"/><stop offset=".759" stop-color="#238b8d"/><stop offset=".793" stop-color="#228d8d"/><stop offset=".828" stop-color="#228e8c"/><stop offset=".862" stop-color="#238b8d"/><stop offset=".897" stop-color="#228f8c"/><stop offset=".931" stop-color="#228d8d"/><stop offset=".966" stop-color="#228f8c"/><stop offset=".998" stop-color="#21928c"/><stop offset="1.000" stop-color="#25858e"/></linearGradient><linearGradient id="hg86" x1="0" x2="1" y1="0" y2="0"><stop offset=".000" stop-color="#25848e"/><stop offset=".001" stop-color="#238a8d"/><stop offset=".034" stop-color="#238a8d"/><stop offset=".069" stop-color="#228c8d"/><stop offset=".103" stop-color="#20958b"/><stop offset=".138" stop-color="#228f8c"/><stop offset=".172" stop-color="#228d8d"/><stop offset=".207" stop-color="#218f8c"/><stop offset=".241" stop-color="#228d8d"/><stop offset=".276" stop-color="#1f998a"/><stop offset=".310" stop-color="#1f978a"/><stop offset=".338" stop-color="#20968b"/><stop offset=".345" stop-color="#1e9a89"/><stop offset=".379" stop-color="#25ab82"/><stop offset=".414" stop-color="#3bba75"/><stop offset=".448" stop-color="#43be71"/><stop offset=".467" stop-color="#65cb5e"/><stop offset=".483" stop-color="#58c765"/><stop offset=".517" stop-color="#90d643"/><stop offset=".552" stop-color="#a9db33"/><stop offset=".586" stop-color="#afdd2f"/><stop offset=".618" stop-color="#d0e11e"/><stop offset=".621" stop-color="#d6e21c"/><stop offset=".655" stop-color="#eae51d"/><stop offset=".690" stop-color="#e2e319"/><stop offset=".724" stop-color="#e5e41a"/><stop offset=".759" stop-color="#eae41d"/><stop offset=".793" stop-color="#d5e21c"/><stop offset=".828" stop-color="#f5e621"/><stop offset=".862" stop-color="#f6e622"/><stop offset=".897" stop-color="#f4e621"/><stop offset=".931" stop-color="#eae41d"/><stop offset=".966" stop-color="#f6e622"/><stop offset=".998" stop-color="#efe51f"/><stop offset="1.000" stop-color="#ebe51d"/></linearGradient><linearGradient id="hg87" x1="0" x2="1" y1="0" y2="0"><stop offset=".000" stop-color="#306a8e"/><stop offset=".001" stop-color="#2f6c8e"/><stop offset=".034" stop-color="#2a778e"/><stop offset=".069" stop-color="#287c8e"/><stop offset=".103" stop-color="#277f8e"/><stop offset=".138" stop-color="#277f8e"/><stop offset=".172" stop-color="#228e8c"/><stop offset=".207" stop-color="#25848e"/><stop offset=".241" stop-color="#20938b"/><stop offset=".276" stop-color="#1f988a"/><stop offset=".310" stop-color="#1e9b89"/><stop offset=".345" stop-color="#20a386"/><stop offset=".379" stop-color="#20a287"/><stop offset=".414" stop-color="#21a685"/><stop offset=".448" stop-color="#2bb07e"/><stop offset=".483" stop-color="#27ac81"/><stop offset=".502" stop-color="#32b57a"/><stop offset=".517" stop-color="#2db27d"/><stop offset=".552" stop-color="#23a984"/><stop offset=".586" stop-color="#21a585"/><stop offset=".621" stop-color="#21a486"/><stop offset=".655" stop-color="#21a486"/><stop offset=".690" stop-color="#1fa087"/><stop offset=".724" stop-color="#1fa087"/><stop offset=".726" stop-color="#21a585"/><stop offset=".759" stop-color="#1f998a"/><stop offset=".793" stop-color="#228f8c"/><stop offset=".828" stop-color="#29798e"/><stop offset=".862" stop-color="#2a778e"/><stop offset=".897" stop-color="#33638d"/><stop offset=".899" stop-color="#33638d"/><stop offset=".931" stop-color="#35608d"/><stop offset=".966" stop-color="#306b8e"/><stop offset=".998" stop-color="#34628d"/><stop offset="1.000" stop-color="#30698e"/></linearGradient><linearGradient id="hg88" x1="0" x2="1" y1="0" y2="0"><stop offset=".000" stop-color="#471163"/><stop offset=".001" stop-color="#471768"/><stop offset=".034" stop-color="#460e60"/><stop offset=".057" stop-color="#471264"/><stop offset=".069" stop-color="#46337f"/><stop offset=".079" stop-color="#404688"/><stop offset=".103" stop-color="#3d4e8a"/><stop offset=".138" stop-color="#3b528b"/><stop offset=".172" stop-color="#38598c"/><stop offset=".207" stop-color="#30698e"/><stop offset=".208" stop-color="#365c8d"/><stop offset=".241" stop-color="#2c748e"/><stop offset=".276" stop-color="#29798e"/><stop offset=".310" stop-color="#21928c"/><stop offset=".338" stop-color="#20968b"/><stop offset=".345" stop-color="#21a685"/><stop offset=".379" stop-color="#cae021"/><stop offset=".381" stop-color="#dee318"/><stop offset=".414" stop-color="#dfe318"/><stop offset=".448" stop-color="#f3e621"/><stop offset=".483" stop-color="#f7e622"/><stop offset=".517" stop-color="#eee51f"/><stop offset=".552" stop-color="#e9e41c"/><stop offset=".586" stop-color="#f8e623"/><stop offset=".621" stop-color="#e0e318"/><stop offset=".655" stop-color="#e4e41a"/><stop offset=".683" stop-color="#ede51e"/><stop offset=".690" stop-color="#f9e723"/><stop offset=".724" stop-color="#badf28"/><stop offset=".759" stop-color="#96d83f"/><stop offset=".770" stop-color="#a9db33"/><stop offset=".793" stop-color="#63ca5f"/><stop offset=".828" stop-color="#36b878"/><stop offset=".862" stop-color="#1f978a"/><stop offset=".877" stop-color="#21918c"/><stop offset=".897" stop-color="#3f4988"/><stop offset=".908" stop-color="#47196b"/><stop offset=".931" stop-color="#47186a"/><stop offset=".966" stop-color="#481c6d"/><stop offset=".998" stop-color="#460c5f"/><stop offset="1.000" stop-color="#471365"/></linearGradient><linearGradient id="hg89" x1="0" x2="1" y1="0" y2="0"><stop offset=".000" stop-color="#460d5f"/><stop offset=".001" stop-color="#481d6f"/><stop offset=".034" stop-color="#481d6e"/><stop offset=".036" stop-color="#460b5e"/><stop offset=".057" stop-color="#306a8e"/><stop offset=".069" stop-color="#33648d"/><stop offset=".103" stop-color="#33638d"/><stop offset=".138" stop-color="#2f6d8e"/><stop offset=".172" stop-color="#2e6f8e"/><stop offset=".207" stop-color="#32658d"/><stop offset=".241" stop-color="#30698e"/><stop offset=".276" stop-color="#2f6c8e"/><stop offset=".295" stop-color="#2e6f8e"/><stop offset=".310" stop-color="#24868e"/><stop offset=".345" stop-color="#37b878"/><stop offset=".360" stop-color="#5ec962"/><stop offset=".379" stop-color="#b8de29"/><stop offset=".403" stop-color="#fde725"/><stop offset=".414" stop-color="#f7e622"/><stop offset=".448" stop-color="#fde725"/><stop offset=".483" stop-color="#fde725"/><stop offset=".517" stop-color="#fae724"/><stop offset=".552" stop-color="#fde725"/><stop offset=".586" stop-color="#fde725"/><stop offset=".621" stop-color="#ece51e"/><stop offset=".655" stop-color="#fde725"/><stop offset=".690" stop-color="#f5e622"/><stop offset=".724" stop-color="#e0e318"/><stop offset=".726" stop-color="#f0e51f"/><stop offset=".759" stop-color="#f4e621"/><stop offset=".793" stop-color="#d0e11e"/><stop offset=".828" stop-color="#c9e021"/><stop offset=".862" stop-color="#dfe318"/><stop offset=".897" stop-color="#c4e023"/><stop offset=".931" stop-color="#badf28"/><stop offset=".966" stop-color="#b1dd2e"/><stop offset=".998" stop-color="#cde11f"/><stop offset="1.000" stop-color="#cde11f"/></linearGradient><pattern id="tx90" patternUnits="userSpaceOnUse" x="31.70" y="471.90" width="43.0" height="49.60"><path d="M4.30 0.0h2.15v3.10h-2.15zM8.60 0.0h2.15v3.10h-2.15zM23.65 0.0h2.15v3.10h-2.15zM6.45 3.1h2.15v3.10h-2.15zM19.35 3.1h2.15v3.10h-2.15zM25.80 3.1h2.15v3.10h-2.15zM0.00 6.2h2.15v3.10h-2.15zM8.60 6.2h2.15v3.10h-2.15zM12.90 6.2h2.15v3.10h-2.15zM30.10 6.2h2.15v3.10h-2.15zM25.80 9.3h2.15v3.10h-2.15zM30.10 9.3h2.15v3.10h-2.15zM36.55 9.3h2.15v3.10h-2.15zM2.15 12.4h2.15v3.10h-2.15zM27.95 12.4h2.15v3.10h-2.15zM36.55 12.4h2.15v3.10h-2.15zM8.60 15.5h2.15v3.10h-2.15zM21.50 15.5h2.15v3.10h-2.15zM21.50 18.6h2.15v3.10h-2.15zM38.70 18.6h2.15v3.10h-2.15zM4.30 21.7h2.15v3.10h-2.15zM27.95 24.8h2.15v3.10h-2.15zM34.40 24.8h2.15v3.10h-2.15zM40.85 24.8h2.15v3.10h-2.15zM34.40 27.9h2.15v3.10h-2.15zM40.85 27.9h2.15v3.10h-2.15zM19.35 31.0h2.15v3.10h-2.15zM25.80 31.0h2.15v3.10h-2.15zM30.10 31.0h2.15v3.10h-2.15zM10.75 34.1h2.15v3.10h-2.15zM6.45 37.2h2.15v3.10h-2.15zM10.75 37.2h2.15v3.10h-2.15zM36.55 40.3h2.15v3.10h-2.15zM10.75 43.4h2.15v3.10h-2.15zM30.10 43.4h2.15v3.10h-2.15zM0.00 46.5h2.15v3.10h-2.15zM2.15 46.5h2.15v3.10h-2.15zM8.60 46.5h2.15v3.10h-2.15z" fill="#fff" fill-opacity="0.056"/><path d="M6.45 0.0h2.15v3.10h-2.15zM0.00 3.1h2.15v3.10h-2.15zM12.90 3.1h2.15v3.10h-2.15zM23.65 3.1h2.15v3.10h-2.15zM15.05 6.2h2.15v3.10h-2.15zM27.95 6.2h2.15v3.10h-2.15zM34.40 9.3h2.15v3.10h-2.15zM40.85 9.3h2.15v3.10h-2.15zM0.00 12.4h2.15v3.10h-2.15zM12.90 12.4h2.15v3.10h-2.15zM19.35 12.4h2.15v3.10h-2.15zM25.80 12.4h2.15v3.10h-2.15zM27.95 15.5h2.15v3.10h-2.15zM38.70 15.5h2.15v3.10h-2.15zM10.75 18.6h2.15v3.10h-2.15zM25.80 18.6h2.15v3.10h-2.15zM34.40 21.7h2.15v3.10h-2.15zM6.45 24.8h2.15v3.10h-2.15zM8.60 24.8h2.15v3.10h-2.15zM21.50 24.8h2.15v3.10h-2.15zM30.10 24.8h2.15v3.10h-2.15zM25.80 27.9h2.15v3.10h-2.15zM36.55 27.9h2.15v3.10h-2.15zM21.50 31.0h2.15v3.10h-2.15zM27.95 31.0h2.15v3.10h-2.15zM17.20 34.1h2.15v3.10h-2.15zM40.85 34.1h2.15v3.10h-2.15zM12.90 37.2h2.15v3.10h-2.15zM21.50 37.2h2.15v3.10h-2.15zM0.00 40.3h2.15v3.10h-2.15zM4.30 40.3h2.15v3.10h-2.15zM10.75 40.3h2.15v3.10h-2.15zM2.15 43.4h2.15v3.10h-2.15zM8.60 43.4h2.15v3.10h-2.15zM12.90 43.4h2.15v3.10h-2.15zM17.20 46.5h2.15v3.10h-2.15zM25.80 46.5h2.15v3.10h-2.15zM40.85 46.5h2.15v3.10h-2.15z" fill="#000" fill-opacity="0.099"/><path d="M15.05 0.0h2.15v3.10h-2.15zM38.70 0.0h2.15v3.10h-2.15zM30.10 3.1h2.15v3.10h-2.15zM2.15 6.2h2.15v3.10h-2.15zM4.30 9.3h2.15v3.10h-2.15zM10.75 9.3h2.15v3.10h-2.15zM19.35 9.3h2.15v3.10h-2.15zM21.50 9.3h2.15v3.10h-2.15zM6.45 12.4h2.15v3.10h-2.15zM4.30 15.5h2.15v3.10h-2.15zM17.20 15.5h2.15v3.10h-2.15zM30.10 15.5h2.15v3.10h-2.15zM32.25 21.7h2.15v3.10h-2.15zM19.35 24.8h2.15v3.10h-2.15zM4.30 27.9h2.15v3.10h-2.15zM6.45 27.9h2.15v3.10h-2.15zM17.20 27.9h2.15v3.10h-2.15zM19.35 27.9h2.15v3.10h-2.15zM0.00 31.0h2.15v3.10h-2.15zM38.70 31.0h2.15v3.10h-2.15zM0.00 34.1h2.15v3.10h-2.15zM2.15 34.1h2.15v3.10h-2.15zM27.95 34.1h2.15v3.10h-2.15zM19.35 37.2h2.15v3.10h-2.15zM27.95 37.2h2.15v3.10h-2.15zM32.25 37.2h2.15v3.10h-2.15zM34.40 37.2h2.15v3.10h-2.15zM38.70 37.2h2.15v3.10h-2.15zM32.25 40.3h2.15v3.10h-2.15zM38.70 40.3h2.15v3.10h-2.15zM30.10 46.5h2.15v3.10h-2.15zM32.25 46.5h2.15v3.10h-2.15z" fill="#000" fill-opacity="0.078"/><path d="M19.35 0.0h2.15v3.10h-2.15zM32.25 0.0h2.15v3.10h-2.15zM17.20 3.1h2.15v3.10h-2.15zM27.95 3.1h2.15v3.10h-2.15zM36.55 3.1h2.15v3.10h-2.15zM38.70 3.1h2.15v3.10h-2.15zM6.45 6.2h2.15v3.10h-2.15zM10.75 6.2h2.15v3.10h-2.15zM2.15 9.3h2.15v3.10h-2.15zM32.25 9.3h2.15v3.10h-2.15zM8.60 12.4h2.15v3.10h-2.15zM15.05 12.4h2.15v3.10h-2.15zM17.20 12.4h2.15v3.10h-2.15zM32.25 12.4h2.15v3.10h-2.15zM38.70 12.4h2.15v3.10h-2.15zM12.90 15.5h2.15v3.10h-2.15zM15.05 15.5h2.15v3.10h-2.15zM23.65 15.5h2.15v3.10h-2.15zM2.15 18.6h2.15v3.10h-2.15zM6.45 18.6h2.15v3.10h-2.15zM36.55 18.6h2.15v3.10h-2.15zM8.60 21.7h2.15v3.10h-2.15zM25.80 21.7h2.15v3.10h-2.15zM27.95 21.7h2.15v3.10h-2.15zM12.90 24.8h2.15v3.10h-2.15zM21.50 27.9h2.15v3.10h-2.15zM2.15 31.0h2.15v3.10h-2.15zM15.05 31.0h2.15v3.10h-2.15zM40.85 31.0h2.15v3.10h-2.15zM4.30 34.1h2.15v3.10h-2.15zM6.45 34.1h2.15v3.10h-2.15zM21.50 34.1h2.15v3.10h-2.15zM32.25 34.1h2.15v3.10h-2.15zM36.55 34.1h2.15v3.10h-2.15zM4.30 37.2h2.15v3.10h-2.15zM23.65 40.3h2.15v3.10h-2.15zM21.50 43.4h2.15v3.10h-2.15zM36.55 43.4h2.15v3.10h-2.15zM4.30 46.5h2.15v3.10h-2.15z" fill="#000" fill-opacity="0.056"/><path d="M27.95 0.0h2.15v3.10h-2.15zM8.60 3.1h2.15v3.10h-2.15zM21.50 3.1h2.15v3.10h-2.15zM21.50 6.2h2.15v3.10h-2.15zM40.85 6.2h2.15v3.10h-2.15zM0.00 9.3h2.15v3.10h-2.15zM23.65 12.4h2.15v3.10h-2.15zM17.20 18.6h2.15v3.10h-2.15zM27.95 18.6h2.15v3.10h-2.15zM12.90 21.7h2.15v3.10h-2.15zM23.65 21.7h2.15v3.10h-2.15zM15.05 24.8h2.15v3.10h-2.15zM25.80 24.8h2.15v3.10h-2.15zM32.25 24.8h2.15v3.10h-2.15zM0.00 27.9h2.15v3.10h-2.15zM30.10 27.9h2.15v3.10h-2.15zM17.20 31.0h2.15v3.10h-2.15zM23.65 31.0h2.15v3.10h-2.15zM32.25 31.0h2.15v3.10h-2.15zM12.90 34.1h2.15v3.10h-2.15zM15.05 34.1h2.15v3.10h-2.15zM25.80 34.1h2.15v3.10h-2.15zM30.10 34.1h2.15v3.10h-2.15zM34.40 34.1h2.15v3.10h-2.15zM15.05 37.2h2.15v3.10h-2.15zM23.65 37.2h2.15v3.10h-2.15zM40.85 37.2h2.15v3.10h-2.15zM30.10 40.3h2.15v3.10h-2.15zM34.40 40.3h2.15v3.10h-2.15zM6.45 43.4h2.15v3.10h-2.15zM15.05 43.4h2.15v3.10h-2.15zM19.35 43.4h2.15v3.10h-2.15zM34.40 43.4h2.15v3.10h-2.15zM10.75 46.5h2.15v3.10h-2.15zM34.40 46.5h2.15v3.10h-2.15z" fill="#fff" fill-opacity="0.099"/><path d="M17.20 6.2h2.15v3.10h-2.15zM23.65 6.2h2.15v3.10h-2.15zM25.80 6.2h2.15v3.10h-2.15zM34.40 6.2h2.15v3.10h-2.15zM17.20 9.3h2.15v3.10h-2.15zM12.90 18.6h2.15v3.10h-2.15zM17.20 21.7h2.15v3.10h-2.15zM19.35 21.7h2.15v3.10h-2.15zM0.00 24.8h2.15v3.10h-2.15zM17.20 24.8h2.15v3.10h-2.15zM23.65 24.8h2.15v3.10h-2.15zM36.55 24.8h2.15v3.10h-2.15zM10.75 27.9h2.15v3.10h-2.15zM12.90 27.9h2.15v3.10h-2.15zM23.65 27.9h2.15v3.10h-2.15zM6.45 31.0h2.15v3.10h-2.15zM19.35 34.1h2.15v3.10h-2.15zM0.00 37.2h2.15v3.10h-2.15zM2.15 37.2h2.15v3.10h-2.15zM8.60 37.2h2.15v3.10h-2.15zM30.10 37.2h2.15v3.10h-2.15zM8.60 40.3h2.15v3.10h-2.15zM12.90 40.3h2.15v3.10h-2.15zM15.05 40.3h2.15v3.10h-2.15zM17.20 40.3h2.15v3.10h-2.15zM21.50 40.3h2.15v3.10h-2.15zM25.80 40.3h2.15v3.10h-2.15zM23.65 43.4h2.15v3.10h-2.15zM27.95 43.4h2.15v3.10h-2.15zM21.50 46.5h2.15v3.10h-2.15zM27.95 46.5h2.15v3.10h-2.15zM36.55 46.5h2.15v3.10h-2.15z" fill="#fff" fill-opacity="0.078"/></pattern><linearGradient id="cb91" x1="0" x2="0" y1="0" y2="1"><stop offset="0.000" stop-color="#fde725"/><stop offset="0.050" stop-color="#dfe318"/><stop offset="0.100" stop-color="#bddf26"/><stop offset="0.150" stop-color="#9bd93c"/><stop offset="0.200" stop-color="#7ad151"/><stop offset="0.250" stop-color="#5ec962"/><stop offset="0.300" stop-color="#44bf70"/><stop offset="0.350" stop-color="#2fb47c"/><stop offset="0.400" stop-color="#22a884"/><stop offset="0.450" stop-color="#1e9c89"/><stop offset="0.500" stop-color="#21918c"/><stop offset="0.550" stop-color="#25848e"/><stop offset="0.600" stop-color="#2a788e"/><stop offset="0.650" stop-color="#2f6c8e"/><stop offset="0.700" stop-color="#355f8d"/><stop offset="0.750" stop-color="#3b528b"/><stop offset="0.800" stop-color="#414487"/><stop offset="0.850" stop-color="#463480"/><stop offset="0.900" stop-color="#482475"/><stop offset="0.950" stop-color="#471365"/><stop offset="1.000" stop-color="#440154"/></linearGradient><linearGradient id="hg92" x1="0" x2="1" y1="0" y2="0"><stop offset=".000" stop-color="#238a8d"/><stop offset=".034" stop-color="#277f8e"/><stop offset=".069" stop-color="#277f8e"/><stop offset=".103" stop-color="#24868e"/><stop offset=".138" stop-color="#25848e"/><stop offset=".172" stop-color="#297b8e"/><stop offset=".207" stop-color="#297b8e"/><stop offset=".241" stop-color="#27808e"/><stop offset=".276" stop-color="#287c8e"/><stop offset=".310" stop-color="#2a798e"/><stop offset=".345" stop-color="#2e708e"/><stop offset=".379" stop-color="#2a798e"/><stop offset=".414" stop-color="#2b768e"/><stop offset=".448" stop-color="#2d718e"/><stop offset=".483" stop-color="#2f6d8e"/><stop offset=".501" stop-color="#306a8e"/><stop offset=".517" stop-color="#2f6c8e"/><stop offset=".552" stop-color="#306a8e"/><stop offset=".586" stop-color="#2e6d8e"/><stop offset=".621" stop-color="#2d718e"/><stop offset=".655" stop-color="#2d728e"/><stop offset=".690" stop-color="#32668e"/><stop offset=".724" stop-color="#2d728e"/><stop offset=".759" stop-color="#30698e"/><stop offset=".793" stop-color="#2f6c8e"/><stop offset=".828" stop-color="#30698e"/><stop offset=".862" stop-color="#2f6c8e"/><stop offset=".897" stop-color="#33638d"/><stop offset=".931" stop-color="#31678e"/><stop offset=".966" stop-color="#355e8d"/><stop offset=".998" stop-color="#32668e"/><stop offset="1.000" stop-color="#34628d"/></linearGradient><linearGradient id="hg93" x1="0" x2="1" y1="0" y2="0"><stop offset=".000" stop-color="#24868e"/><stop offset=".034" stop-color="#238c8d"/><stop offset=".069" stop-color="#228f8c"/><stop offset=".103" stop-color="#25858e"/><stop offset=".138" stop-color="#228f8c"/><stop offset=".172" stop-color="#238b8d"/><stop offset=".207" stop-color="#21918c"/><stop offset=".241" stop-color="#21908c"/><stop offset=".276" stop-color="#24898d"/><stop offset=".310" stop-color="#228e8d"/><stop offset=".345" stop-color="#228c8d"/><stop offset=".379" stop-color="#238b8d"/><stop offset=".414" stop-color="#228e8d"/><stop offset=".448" stop-color="#228e8c"/><stop offset=".483" stop-color="#24878e"/><stop offset=".517" stop-color="#24888d"/><stop offset=".552" stop-color="#238c8d"/><stop offset=".586" stop-color="#23898d"/><stop offset=".621" stop-color="#228e8c"/><stop offset=".655" stop-color="#24878e"/><stop offset=".690" stop-color="#24878e"/><stop offset=".724" stop-color="#238a8d"/><stop offset=".759" stop-color="#25848e"/><stop offset=".793" stop-color="#228f8c"/><stop offset=".828" stop-color="#24878e"/><stop offset=".862" stop-color="#25838e"/><stop offset=".897" stop-color="#228e8d"/><stop offset=".931" stop-color="#23898d"/><stop offset=".966" stop-color="#238b8d"/><stop offset=".998" stop-color="#24868e"/><stop offset="1.000" stop-color="#228d8d"/></linearGradient><linearGradient id="hg94" x1="0" x2="1" y1="0" y2="0"><stop offset=".000" stop-color="#23898d"/><stop offset=".034" stop-color="#23898d"/><stop offset=".069" stop-color="#21908c"/><stop offset=".103" stop-color="#228c8d"/><stop offset=".138" stop-color="#228f8c"/><stop offset=".172" stop-color="#238c8d"/><stop offset=".207" stop-color="#21938c"/><stop offset=".241" stop-color="#21908c"/><stop offset=".276" stop-color="#20968b"/><stop offset=".310" stop-color="#228e8c"/><stop offset=".345" stop-color="#21908c"/><stop offset=".379" stop-color="#21908c"/><stop offset=".414" stop-color="#20958b"/><stop offset=".448" stop-color="#21908c"/><stop offset=".483" stop-color="#228f8c"/><stop offset=".501" stop-color="#228e8d"/><stop offset=".517" stop-color="#228e8c"/><stop offset=".552" stop-color="#228e8c"/><stop offset=".586" stop-color="#21928c"/><stop offset=".621" stop-color="#21928c"/><stop offset=".655" stop-color="#1e9b89"/><stop offset=".690" stop-color="#20948b"/><stop offset=".724" stop-color="#1f9e88"/><stop offset=".759" stop-color="#1f978a"/><stop offset=".793" stop-color="#1e9b89"/><stop offset=".828" stop-color="#1f988a"/><stop offset=".862" stop-color="#21a485"/><stop offset=".897" stop-color="#1f9a8a"/><stop offset=".931" stop-color="#21a485"/><stop offset=".966" stop-color="#21a585"/><stop offset=".998" stop-color="#1f9e88"/><stop offset="1.000" stop-color="#1f9f88"/></linearGradient><linearGradient id="hg95" x1="0" x2="1" y1="0" y2="0"><stop offset=".000" stop-color="#24868e"/><stop offset=".034" stop-color="#228d8d"/><stop offset=".069" stop-color="#238b8d"/><stop offset=".103" stop-color="#228e8d"/><stop offset=".138" stop-color="#228d8d"/><stop offset=".172" stop-color="#24868e"/><stop offset=".207" stop-color="#24878d"/><stop offset=".241" stop-color="#24888d"/><stop offset=".276" stop-color="#21918c"/><stop offset=".310" stop-color="#228f8c"/><stop offset=".345" stop-color="#20958b"/><stop offset=".379" stop-color="#228f8c"/><stop offset=".414" stop-color="#20948b"/><stop offset=".448" stop-color="#1f978a"/><stop offset=".483" stop-color="#228e8c"/><stop offset=".517" stop-color="#20968b"/><stop offset=".552" stop-color="#21928c"/><stop offset=".586" stop-color="#20958b"/><stop offset=".621" stop-color="#1f988a"/><stop offset=".655" stop-color="#228c8d"/><stop offset=".690" stop-color="#228e8c"/><stop offset=".724" stop-color="#1f9a8a"/><stop offset=".759" stop-color="#21918c"/><stop offset=".793" stop-color="#1e9b89"/><stop offset=".828" stop-color="#1f998a"/><stop offset=".862" stop-color="#20948b"/><stop offset=".897" stop-color="#1e9d89"/><stop offset=".931" stop-color="#1e9d88"/><stop offset=".966" stop-color="#21918c"/><stop offset=".998" stop-color="#1e9b89"/><stop offset="1.000" stop-color="#1e9a89"/></linearGradient><linearGradient id="hg96" x1="0" x2="1" y1="0" y2="0"><stop offset=".000" stop-color="#25848e"/><stop offset=".034" stop-color="#21918c"/><stop offset=".069" stop-color="#228f8c"/><stop offset=".103" stop-color="#23898d"/><stop offset=".138" stop-color="#228e8c"/><stop offset=".172" stop-color="#228c8d"/><stop offset=".207" stop-color="#228f8c"/><stop offset=".241" stop-color="#21928c"/><stop offset=".250" stop-color="#24888d"/><stop offset=".276" stop-color="#2bb17e"/><stop offset=".285" stop-color="#38b877"/><stop offset=".310" stop-color="#c3e023"/><stop offset=".315" stop-color="#e9e41d"/><stop offset=".345" stop-color="#f8e623"/><stop offset=".379" stop-color="#dee318"/><stop offset=".414" stop-color="#d9e21a"/><stop offset=".448" stop-color="#ede51e"/><stop offset=".483" stop-color="#e3e31a"/><stop offset=".517" stop-color="#cce120"/><stop offset=".552" stop-color="#b8de29"/><stop offset=".586" stop-color="#c5e023"/><stop offset=".621" stop-color="#b4dd2c"/><stop offset=".639" stop-color="#c6e022"/><stop offset=".655" stop-color="#cbe120"/><stop offset=".690" stop-color="#bcdf27"/><stop offset=".724" stop-color="#bcdf26"/><stop offset=".759" stop-color="#abdc32"/><stop offset=".793" stop-color="#acdc31"/><stop offset=".812" stop-color="#b7de2a"/><stop offset=".828" stop-color="#d0e11e"/><stop offset=".862" stop-color="#b9de29"/><stop offset=".897" stop-color="#badf28"/><stop offset=".931" stop-color="#d0e11e"/><stop offset=".966" stop-color="#d0e11e"/><stop offset=".998" stop-color="#e1e319"/><stop offset="1.000" stop-color="#ece51e"/></linearGradient><linearGradient id="hg97" x1="0" x2="1" y1="0" y2="0"><stop offset=".000" stop-color="#24868e"/><stop offset=".034" stop-color="#238c8d"/><stop offset=".069" stop-color="#24898d"/><stop offset=".103" stop-color="#23898d"/><stop offset=".138" stop-color="#26828e"/><stop offset=".172" stop-color="#25848e"/><stop offset=".207" stop-color="#23898d"/><stop offset=".241" stop-color="#24898d"/><stop offset=".276" stop-color="#27808e"/><stop offset=".310" stop-color="#277f8e"/><stop offset=".345" stop-color="#238c8d"/><stop offset=".379" stop-color="#277e8e"/><stop offset=".414" stop-color="#25838e"/><stop offset=".448" stop-color="#277f8e"/><stop offset=".483" stop-color="#25848e"/><stop offset=".501" stop-color="#26838e"/><stop offset=".517" stop-color="#27808e"/><stop offset=".552" stop-color="#277f8e"/><stop offset=".586" stop-color="#25858e"/><stop offset=".621" stop-color="#238c8d"/><stop offset=".655" stop-color="#238c8d"/><stop offset=".690" stop-color="#24898d"/><stop offset=".724" stop-color="#228d8d"/><stop offset=".759" stop-color="#25868e"/><stop offset=".793" stop-color="#25838e"/><stop offset=".828" stop-color="#25838e"/><stop offset=".862" stop-color="#25848e"/><stop offset=".897" stop-color="#25848e"/><stop offset=".931" stop-color="#238a8d"/><stop offset=".966" stop-color="#228f8c"/><stop offset=".998" stop-color="#21908c"/><stop offset="1.000" stop-color="#228d8d"/></linearGradient><linearGradient id="hg98" x1="0" x2="1" y1="0" y2="0"><stop offset=".000" stop-color="#228f8c"/><stop offset=".034" stop-color="#25848e"/><stop offset=".069" stop-color="#228e8d"/><stop offset=".103" stop-color="#228e8d"/><stop offset=".138" stop-color="#25858e"/><stop offset=".172" stop-color="#238b8d"/><stop offset=".207" stop-color="#24868e"/><stop offset=".241" stop-color="#21918c"/><stop offset=".276" stop-color="#228d8d"/><stop offset=".310" stop-color="#25848e"/><stop offset=".345" stop-color="#228f8c"/><stop offset=".379" stop-color="#238a8d"/><stop offset=".414" stop-color="#25858e"/><stop offset=".448" stop-color="#23898d"/><stop offset=".483" stop-color="#238a8d"/><stop offset=".517" stop-color="#21928c"/><stop offset=".552" stop-color="#25848e"/><stop offset=".586" stop-color="#24878e"/><stop offset=".621" stop-color="#228f8c"/><stop offset=".655" stop-color="#238c8d"/><stop offset=".690" stop-color="#25858e"/><stop offset=".724" stop-color="#238a8d"/><stop offset=".759" stop-color="#228d8d"/><stop offset=".793" stop-color="#24888d"/><stop offset=".828" stop-color="#228f8c"/><stop offset=".862" stop-color="#25858e"/><stop offset=".897" stop-color="#21918c"/><stop offset=".931" stop-color="#228c8d"/><stop offset=".966" stop-color="#25848e"/><stop offset=".998" stop-color="#238c8d"/><stop offset="1.000" stop-color="#21928c"/></linearGradient><linearGradient id="hg99" x1="0" x2="1" y1="0" y2="0"><stop offset=".000" stop-color="#34618d"/><stop offset=".034" stop-color="#32668e"/><stop offset=".069" stop-color="#38598c"/><stop offset=".103" stop-color="#365d8d"/><stop offset=".138" stop-color="#32668e"/><stop offset=".172" stop-color="#32658d"/><stop offset=".207" stop-color="#34618d"/><stop offset=".241" stop-color="#30698e"/><stop offset=".276" stop-color="#32658d"/><stop offset=".310" stop-color="#365d8d"/><stop offset=".345" stop-color="#365c8d"/><stop offset=".379" stop-color="#33638d"/><stop offset=".380" stop-color="#306a8e"/><stop offset=".414" stop-color="#20a386"/><stop offset=".448" stop-color="#8bd546"/><stop offset=".466" stop-color="#eee51e"/><stop offset=".483" stop-color="#e1e319"/><stop offset=".501" stop-color="#bade28"/><stop offset=".517" stop-color="#aadc32"/><stop offset=".552" stop-color="#a1da38"/><stop offset=".586" stop-color="#afdc2f"/><stop offset=".621" stop-color="#9dd93b"/><stop offset=".655" stop-color="#b3dd2c"/><stop offset=".683" stop-color="#89d548"/><stop offset=".690" stop-color="#b3dd2c"/><stop offset=".724" stop-color="#f1e520"/><stop offset=".726" stop-color="#f0e51f"/><stop offset=".747" stop-color="#8dd645"/><stop offset=".759" stop-color="#8ed645"/><stop offset=".793" stop-color="#8fd644"/><stop offset=".828" stop-color="#77d053"/><stop offset=".862" stop-color="#8dd645"/><stop offset=".897" stop-color="#6fce58"/><stop offset=".931" stop-color="#6dcd59"/><stop offset=".966" stop-color="#61ca60"/><stop offset=".998" stop-color="#58c765"/><stop offset="1.000" stop-color="#60c961"/></linearGradient><linearGradient id="hg100" x1="0" x2="1" y1="0" y2="0"><stop offset=".000" stop-color="#25858e"/><stop offset=".034" stop-color="#228f8c"/><stop offset=".069" stop-color="#238a8d"/><stop offset=".103" stop-color="#25858e"/><stop offset=".138" stop-color="#238a8d"/><stop offset=".172" stop-color="#24888d"/><stop offset=".207" stop-color="#26818e"/><stop offset=".241" stop-color="#26838e"/><stop offset=".276" stop-color="#2a788e"/><stop offset=".310" stop-color="#27808e"/><stop offset=".345" stop-color="#297b8e"/><stop offset=".379" stop-color="#2b768e"/><stop offset=".414" stop-color="#297b8e"/><stop offset=".448" stop-color="#2c728e"/><stop offset=".483" stop-color="#2d718e"/><stop offset=".501" stop-color="#2c738e"/><stop offset=".517" stop-color="#2d718e"/><stop offset=".552" stop-color="#2b768e"/><stop offset=".586" stop-color="#2d718e"/><stop offset=".621" stop-color="#2a778e"/><stop offset=".655" stop-color="#287e8e"/><stop offset=".690" stop-color="#26808e"/><stop offset=".724" stop-color="#287c8e"/><stop offset=".726" stop-color="#2a778e"/><stop offset=".759" stop-color="#287e8e"/><stop offset=".793" stop-color="#287d8e"/><stop offset=".828" stop-color="#26828e"/><stop offset=".862" stop-color="#24878e"/><stop offset=".897" stop-color="#24868e"/><stop offset=".931" stop-color="#23898d"/><stop offset=".966" stop-color="#25848e"/><stop offset=".998" stop-color="#25848e"/><stop offset="1.000" stop-color="#228d8d"/></linearGradient><linearGradient id="hg101" x1="0" x2="1" y1="0" y2="0"><stop offset=".000" stop-color="#228d8d"/><stop offset=".034" stop-color="#24898d"/><stop offset=".069" stop-color="#24878d"/><stop offset=".103" stop-color="#21908c"/><stop offset=".138" stop-color="#238a8d"/><stop offset=".172" stop-color="#238a8d"/><stop offset=".207" stop-color="#228d8d"/><stop offset=".241" stop-color="#24898d"/><stop offset=".276" stop-color="#1f978a"/><stop offset=".310" stop-color="#238b8d"/><stop offset=".345" stop-color="#21908c"/><stop offset=".379" stop-color="#21918c"/><stop offset=".414" stop-color="#20938b"/><stop offset=".448" stop-color="#1f9a8a"/><stop offset=".483" stop-color="#228f8c"/><stop offset=".517" stop-color="#20958b"/><stop offset=".552" stop-color="#20968b"/><stop offset=".586" stop-color="#20948b"/><stop offset=".621" stop-color="#20958b"/><stop offset=".639" stop-color="#1f9e88"/><stop offset=".655" stop-color="#1f998a"/><stop offset=".690" stop-color="#22a785"/><stop offset=".724" stop-color="#3aba76"/><stop offset=".747" stop-color="#4bc26c"/><stop offset=".759" stop-color="#46c06f"/><stop offset=".793" stop-color="#7fd24e"/><stop offset=".828" stop-color="#90d643"/><stop offset=".856" stop-color="#c7e022"/><stop offset=".862" stop-color="#d1e11e"/><stop offset=".897" stop-color="#b9de29"/><stop offset=".931" stop-color="#c8e022"/><stop offset=".966" stop-color="#dfe318"/><stop offset=".998" stop-color="#f8e623"/><stop offset="1.000" stop-color="#fde725"/></linearGradient><linearGradient id="hg102" x1="0" x2="1" y1="0" y2="0"><stop offset=".000" stop-color="#238a8d"/><stop offset=".034" stop-color="#24888d"/><stop offset=".069" stop-color="#21928c"/><stop offset=".103" stop-color="#24898d"/><stop offset=".138" stop-color="#24868e"/><stop offset=".172" stop-color="#21928c"/><stop offset=".207" stop-color="#228e8c"/><stop offset=".241" stop-color="#21918c"/><stop offset=".276" stop-color="#25868e"/><stop offset=".310" stop-color="#21908c"/><stop offset=".345" stop-color="#21908c"/><stop offset=".379" stop-color="#24888d"/><stop offset=".414" stop-color="#228c8d"/><stop offset=".448" stop-color="#21908c"/><stop offset=".483" stop-color="#25858e"/><stop offset=".517" stop-color="#24888d"/><stop offset=".552" stop-color="#25848e"/><stop offset=".586" stop-color="#21928c"/><stop offset=".621" stop-color="#228f8c"/><stop offset=".655" stop-color="#24878e"/><stop offset=".690" stop-color="#25848e"/><stop offset=".724" stop-color="#228f8c"/><stop offset=".759" stop-color="#228f8c"/><stop offset=".793" stop-color="#228f8c"/><stop offset=".828" stop-color="#25858e"/><stop offset=".862" stop-color="#21918c"/><stop offset=".897" stop-color="#24868e"/><stop offset=".931" stop-color="#238a8d"/><stop offset=".966" stop-color="#228d8d"/><stop offset=".998" stop-color="#25848e"/><stop offset="1.000" stop-color="#21918c"/></linearGradient><linearGradient id="hg103" x1="0" x2="1" y1="0" y2="0"><stop offset=".000" stop-color="#1e9d89"/><stop offset=".034" stop-color="#20a187"/><stop offset=".069" stop-color="#1f998a"/><stop offset=".103" stop-color="#1e9b89"/><stop offset=".138" stop-color="#21918c"/><stop offset=".172" stop-color="#238a8d"/><stop offset=".207" stop-color="#228e8d"/><stop offset=".241" stop-color="#238c8d"/><stop offset=".250" stop-color="#238c8d"/><stop offset=".276" stop-color="#25ab82"/><stop offset=".310" stop-color="#46c06f"/><stop offset=".315" stop-color="#64cb5e"/><stop offset=".345" stop-color="#76d053"/><stop offset=".379" stop-color="#b3dd2d"/><stop offset=".380" stop-color="#acdc31"/><stop offset=".414" stop-color="#c1e024"/><stop offset=".448" stop-color="#a7db34"/><stop offset=".483" stop-color="#c4e023"/><stop offset=".517" stop-color="#b4dd2c"/><stop offset=".552" stop-color="#b2dd2d"/><stop offset=".586" stop-color="#bedf26"/><stop offset=".621" stop-color="#c1df25"/><stop offset=".655" stop-color="#a1da38"/><stop offset=".690" stop-color="#bcdf26"/><stop offset=".724" stop-color="#c4e023"/><stop offset=".759" stop-color="#b8de29"/><stop offset=".793" stop-color="#bade28"/><stop offset=".828" stop-color="#9bd93c"/><stop offset=".862" stop-color="#a4db36"/><stop offset=".897" stop-color="#b5de2b"/><stop offset=".931" stop-color="#99d93d"/><stop offset=".966" stop-color="#a4db36"/><stop offset=".998" stop-color="#acdc31"/><stop offset="1.000" stop-color="#b6de2b"/></linearGradient><linearGradient id="hg104" x1="0" x2="1" y1="0" y2="0"><stop offset=".000" stop-color="#21908c"/><stop offset=".034" stop-color="#26818e"/><stop offset=".069" stop-color="#25848e"/><stop offset=".103" stop-color="#287d8e"/><stop offset=".138" stop-color="#297b8e"/><stop offset=".172" stop-color="#2c728e"/><stop offset=".207" stop-color="#2d708e"/><stop offset=".241" stop-color="#2f6d8e"/><stop offset=".259" stop-color="#355f8d"/><stop offset=".272" stop-color="#424085"/><stop offset=".276" stop-color="#3d4d89"/><stop offset=".310" stop-color="#3c4f8a"/><stop offset=".345" stop-color="#424286"/><stop offset=".379" stop-color="#423f85"/><stop offset=".401" stop-color="#3d4d8a"/><stop offset=".414" stop-color="#34618d"/><stop offset=".423" stop-color="#287c8e"/><stop offset=".448" stop-color="#26828e"/><stop offset=".483" stop-color="#26828e"/><stop offset=".517" stop-color="#297a8e"/><stop offset=".552" stop-color="#277f8e"/><stop offset=".586" stop-color="#25838e"/><stop offset=".621" stop-color="#287e8e"/><stop offset=".655" stop-color="#277e8e"/><stop offset=".690" stop-color="#26808e"/><stop offset=".724" stop-color="#287e8e"/><stop offset=".759" stop-color="#287e8e"/><stop offset=".793" stop-color="#277e8e"/><stop offset=".812" stop-color="#287c8e"/><stop offset=".828" stop-color="#287e8e"/><stop offset=".862" stop-color="#33638d"/><stop offset=".897" stop-color="#355e8d"/><stop offset=".899" stop-color="#3a548b"/><stop offset=".931" stop-color="#38598c"/><stop offset=".966" stop-color="#3b528b"/><stop offset=".998" stop-color="#3a548b"/><stop offset="1.000" stop-color="#375b8c"/></linearGradient><linearGradient id="hg105" x1="0" x2="1" y1="0" y2="0"><stop offset=".000" stop-color="#32668e"/><stop offset=".034" stop-color="#2e6e8e"/><stop offset=".069" stop-color="#2e6e8e"/><stop offset=".103" stop-color="#306a8e"/><stop offset=".138" stop-color="#2f6b8e"/><stop offset=".172" stop-color="#2c738e"/><stop offset=".207" stop-color="#2d718e"/><stop offset=".241" stop-color="#31678e"/><stop offset=".276" stop-color="#2d718e"/><stop offset=".310" stop-color="#2e6e8e"/><stop offset=".345" stop-color="#2e6e8e"/><stop offset=".379" stop-color="#2c748e"/><stop offset=".414" stop-color="#2d718e"/><stop offset=".448" stop-color="#2c748e"/><stop offset=".483" stop-color="#2c728e"/><stop offset=".501" stop-color="#2a788e"/><stop offset=".517" stop-color="#2f6b8e"/><stop offset=".552" stop-color="#2b768e"/><stop offset=".586" stop-color="#2b758e"/><stop offset=".621" stop-color="#297b8e"/><stop offset=".655" stop-color="#2b758e"/><stop offset=".690" stop-color="#287c8e"/><stop offset=".724" stop-color="#25858e"/><stop offset=".759" stop-color="#24888d"/><stop offset=".793" stop-color="#25858e"/><stop offset=".828" stop-color="#238a8d"/><stop offset=".862" stop-color="#21908c"/><stop offset=".897" stop-color="#25848e"/><stop offset=".931" stop-color="#21908c"/><stop offset=".966" stop-color="#1f978a"/><stop offset=".998" stop-color="#21908c"/><stop offset="1.000" stop-color="#20958b"/></linearGradient><linearGradient id="hg106" x1="0" x2="1" y1="0" y2="0"><stop offset=".000" stop-color="#24878e"/><stop offset=".034" stop-color="#228d8d"/><stop offset=".069" stop-color="#24868e"/><stop offset=".103" stop-color="#228c8d"/><stop offset=".138" stop-color="#238c8d"/><stop offset=".172" stop-color="#25848e"/><stop offset=".207" stop-color="#25868e"/><stop offset=".241" stop-color="#21928c"/><stop offset=".276" stop-color="#228c8d"/><stop offset=".310" stop-color="#25858e"/><stop offset=".345" stop-color="#21938c"/><stop offset=".379" stop-color="#24868e"/><stop offset=".414" stop-color="#238c8d"/><stop offset=".448" stop-color="#23898d"/><stop offset=".483" stop-color="#228e8c"/><stop offset=".517" stop-color="#238b8d"/><stop offset=".552" stop-color="#23898d"/><stop offset=".586" stop-color="#23898d"/><stop offset=".621" stop-color="#24868e"/><stop offset=".655" stop-color="#238b8d"/><stop offset=".690" stop-color="#23898d"/><stop offset=".724" stop-color="#238c8d"/><stop offset=".759" stop-color="#24878d"/><stop offset=".793" stop-color="#228d8d"/><stop offset=".828" stop-color="#21918c"/><stop offset=".862" stop-color="#238a8d"/><stop offset=".897" stop-color="#238a8d"/><stop offset=".931" stop-color="#238a8d"/><stop offset=".966" stop-color="#238b8d"/><stop offset=".998" stop-color="#21908c"/><stop offset="1.000" stop-color="#25858e"/></linearGradient><linearGradient id="hg107" x1="0" x2="1" y1="0" y2="0"><stop offset=".000" stop-color="#1fa087"/><stop offset=".034" stop-color="#1e9c89"/><stop offset=".069" stop-color="#20a386"/><stop offset=".103" stop-color="#1e9a89"/><stop offset=".138" stop-color="#1e9b89"/><stop offset=".172" stop-color="#1e9a89"/><stop offset=".207" stop-color="#20958b"/><stop offset=".241" stop-color="#1e9a89"/><stop offset=".276" stop-color="#20968b"/><stop offset=".293" stop-color="#1e9c89"/><stop offset=".310" stop-color="#2fb47c"/><stop offset=".345" stop-color="#ece51d"/><stop offset=".345" stop-color="#ede51e"/><stop offset=".379" stop-color="#f3e620"/><stop offset=".414" stop-color="#efe51f"/><stop offset=".448" stop-color="#dde319"/><stop offset=".483" stop-color="#e3e31a"/><stop offset=".517" stop-color="#f7e622"/><stop offset=".552" stop-color="#e1e319"/><stop offset=".586" stop-color="#f0e51f"/><stop offset=".621" stop-color="#eae51d"/><stop offset=".655" stop-color="#dae21a"/><stop offset=".690" stop-color="#ece51e"/><stop offset=".724" stop-color="#dde319"/><stop offset=".726" stop-color="#fce724"/><stop offset=".759" stop-color="#e1e319"/><stop offset=".793" stop-color="#f3e621"/><stop offset=".828" stop-color="#f2e620"/><stop offset=".862" stop-color="#dee319"/><stop offset=".897" stop-color="#e7e41b"/><stop offset=".931" stop-color="#d1e11e"/><stop offset=".966" stop-color="#c5e023"/><stop offset=".998" stop-color="#d4e21d"/><stop offset="1.000" stop-color="#cae121"/></linearGradient><linearGradient id="hg108" x1="0" x2="1" y1="0" y2="0"><stop offset=".000" stop-color="#1e9d89"/><stop offset=".034" stop-color="#20a287"/><stop offset=".069" stop-color="#21a685"/><stop offset=".103" stop-color="#1e9b89"/><stop offset=".138" stop-color="#1f9f88"/><stop offset=".172" stop-color="#1f988a"/><stop offset=".207" stop-color="#1f988a"/><stop offset=".241" stop-color="#1f988a"/><stop offset=".276" stop-color="#20968b"/><stop offset=".310" stop-color="#1e9a89"/><stop offset=".337" stop-color="#20958b"/><stop offset=".345" stop-color="#28ae80"/><stop offset=".379" stop-color="#f1e520"/><stop offset=".380" stop-color="#f2e620"/><stop offset=".414" stop-color="#f9e623"/><stop offset=".448" stop-color="#f7e622"/><stop offset=".483" stop-color="#dbe31a"/><stop offset=".517" stop-color="#e8e41c"/><stop offset=".552" stop-color="#dae21a"/><stop offset=".586" stop-color="#d8e21b"/><stop offset=".621" stop-color="#e4e41a"/><stop offset=".655" stop-color="#e3e41a"/><stop offset=".690" stop-color="#dae21a"/><stop offset=".724" stop-color="#c2e024"/><stop offset=".726" stop-color="#c7e022"/><stop offset=".759" stop-color="#b2dd2d"/><stop offset=".793" stop-color="#63cb5f"/><stop offset=".812" stop-color="#5ac764"/><stop offset=".828" stop-color="#68cc5c"/><stop offset=".862" stop-color="#51c469"/><stop offset=".897" stop-color="#58c765"/><stop offset=".931" stop-color="#6dcd59"/><stop offset=".966" stop-color="#59c765"/><stop offset=".998" stop-color="#73cf56"/><stop offset="1.000" stop-color="#5ac764"/></linearGradient><linearGradient id="hg109" x1="0" x2="1" y1="0" y2="0"><stop offset=".000" stop-color="#228e8c"/><stop offset=".034" stop-color="#238a8d"/><stop offset=".069" stop-color="#24878d"/><stop offset=".103" stop-color="#21908c"/><stop offset=".138" stop-color="#228d8d"/><stop offset=".172" stop-color="#25848e"/><stop offset=".207" stop-color="#238a8d"/><stop offset=".241" stop-color="#24868e"/><stop offset=".276" stop-color="#228f8c"/><stop offset=".310" stop-color="#21928c"/><stop offset=".345" stop-color="#21928c"/><stop offset=".379" stop-color="#21918c"/><stop offset=".414" stop-color="#21908c"/><stop offset=".448" stop-color="#228d8d"/><stop offset=".483" stop-color="#21928c"/><stop offset=".501" stop-color="#238a8d"/><stop offset=".517" stop-color="#228e8d"/><stop offset=".552" stop-color="#25838e"/><stop offset=".586" stop-color="#26818e"/><stop offset=".621" stop-color="#277f8e"/><stop offset=".655" stop-color="#27808e"/><stop offset=".690" stop-color="#297b8e"/><stop offset=".724" stop-color="#287c8e"/><stop offset=".759" stop-color="#25848e"/><stop offset=".793" stop-color="#2a778e"/><stop offset=".828" stop-color="#2b758e"/><stop offset=".862" stop-color="#27808e"/><stop offset=".897" stop-color="#287d8e"/><stop offset=".931" stop-color="#2d728e"/><stop offset=".966" stop-color="#297b8e"/><stop offset=".998" stop-color="#2c738e"/><stop offset="1.000" stop-color="#2e6f8e"/></linearGradient><linearGradient id="hg110" x1="0" x2="1" y1="0" y2="0"><stop offset=".000" stop-color="#238a8d"/><stop offset=".034" stop-color="#21928c"/><stop offset=".069" stop-color="#238c8d"/><stop offset=".103" stop-color="#238b8d"/><stop offset=".138" stop-color="#238a8d"/><stop offset=".172" stop-color="#23898d"/><stop offset=".207" stop-color="#238a8d"/><stop offset=".241" stop-color="#20958b"/><stop offset=".276" stop-color="#1f998a"/><stop offset=".310" stop-color="#228e8c"/><stop offset=".345" stop-color="#21918c"/><stop offset=".379" stop-color="#1e9a89"/><stop offset=".414" stop-color="#1f998a"/><stop offset=".448" stop-color="#1f998a"/><stop offset=".483" stop-color="#1f9e88"/><stop offset=".501" stop-color="#1f998a"/><stop offset=".517" stop-color="#1f978a"/><stop offset=".552" stop-color="#20958b"/><stop offset=".586" stop-color="#1e9d88"/><stop offset=".621" stop-color="#1e9b89"/><stop offset=".655" stop-color="#1e9c89"/><stop offset=".690" stop-color="#1f9f88"/><stop offset=".724" stop-color="#21a486"/><stop offset=".759" stop-color="#1e9d89"/><stop offset=".793" stop-color="#24aa83"/><stop offset=".828" stop-color="#22a784"/><stop offset=".862" stop-color="#20a287"/><stop offset=".897" stop-color="#22a784"/><stop offset=".931" stop-color="#21a486"/><stop offset=".966" stop-color="#21a685"/><stop offset=".998" stop-color="#2db27d"/><stop offset="1.000" stop-color="#23a983"/></linearGradient><linearGradient id="hg111" x1="0" x2="1" y1="0" y2="0"><stop offset=".000" stop-color="#238b8d"/><stop offset=".034" stop-color="#25848e"/><stop offset=".069" stop-color="#24878e"/><stop offset=".103" stop-color="#228f8c"/><stop offset=".138" stop-color="#20948b"/><stop offset=".172" stop-color="#20948b"/><stop offset=".207" stop-color="#21908c"/><stop offset=".241" stop-color="#238a8d"/><stop offset=".276" stop-color="#238a8d"/><stop offset=".310" stop-color="#238b8d"/><stop offset=".345" stop-color="#21908c"/><stop offset=".379" stop-color="#238c8d"/><stop offset=".414" stop-color="#20958b"/><stop offset=".448" stop-color="#21918c"/><stop offset=".483" stop-color="#20968b"/><stop offset=".517" stop-color="#20968b"/><stop offset=".552" stop-color="#1f998a"/><stop offset=".586" stop-color="#1f978a"/><stop offset=".621" stop-color="#20958b"/><stop offset=".655" stop-color="#20938b"/><stop offset=".690" stop-color="#1f978a"/><stop offset=".724" stop-color="#1e9c89"/><stop offset=".726" stop-color="#20938b"/><stop offset=".759" stop-color="#2fb47c"/><stop offset=".793" stop-color="#81d34d"/><stop offset=".821" stop-color="#f1e520"/><stop offset=".828" stop-color="#efe51f"/><stop offset=".862" stop-color="#e8e41c"/><stop offset=".897" stop-color="#e7e41b"/><stop offset=".931" stop-color="#eee51e"/><stop offset=".966" stop-color="#dee318"/><stop offset=".998" stop-color="#fde725"/><stop offset="1.000" stop-color="#e5e41a"/></linearGradient><pattern id="tx112" patternUnits="userSpaceOnUse" x="32.20" y="570.30" width="43.0" height="49.30"><path d="M0.00 0.0h2.15v2.47h-2.15zM12.90 0.0h2.15v2.47h-2.15zM17.20 0.0h2.15v2.47h-2.15zM6.45 2.5h2.15v2.47h-2.15zM19.35 2.5h2.15v2.47h-2.15zM15.05 4.9h2.15v2.47h-2.15zM0.00 7.4h2.15v2.47h-2.15zM2.15 7.4h2.15v2.47h-2.15zM21.50 7.4h2.15v2.47h-2.15zM12.90 12.3h2.15v2.47h-2.15zM6.45 14.8h2.15v2.47h-2.15zM8.60 14.8h2.15v2.47h-2.15zM17.20 17.3h2.15v2.47h-2.15zM10.75 19.7h2.15v2.47h-2.15zM10.75 22.2h2.15v2.47h-2.15zM23.65 22.2h2.15v2.47h-2.15zM15.05 27.1h2.15v2.47h-2.15zM17.20 29.6h2.15v2.47h-2.15zM10.75 32.0h2.15v2.47h-2.15zM23.65 32.0h2.15v2.47h-2.15zM34.40 32.0h2.15v2.47h-2.15zM0.00 37.0h2.15v2.47h-2.15zM2.15 37.0h2.15v2.47h-2.15zM17.20 37.0h2.15v2.47h-2.15zM25.80 37.0h2.15v2.47h-2.15zM40.85 37.0h2.15v2.47h-2.15zM2.15 39.4h2.15v2.47h-2.15zM12.90 39.4h2.15v2.47h-2.15zM15.05 41.9h2.15v2.47h-2.15zM4.30 44.4h2.15v2.47h-2.15zM27.95 44.4h2.15v2.47h-2.15z" fill="#000" fill-opacity="0.056"/><path d="M4.30 0.0h2.15v2.47h-2.15zM8.60 0.0h2.15v2.47h-2.15zM10.75 0.0h2.15v2.47h-2.15zM21.50 0.0h2.15v2.47h-2.15zM38.70 0.0h2.15v2.47h-2.15zM12.90 2.5h2.15v2.47h-2.15zM15.05 2.5h2.15v2.47h-2.15zM40.85 2.5h2.15v2.47h-2.15zM8.60 4.9h2.15v2.47h-2.15zM25.80 4.9h2.15v2.47h-2.15zM34.40 4.9h2.15v2.47h-2.15zM8.60 7.4h2.15v2.47h-2.15zM12.90 7.4h2.15v2.47h-2.15zM40.85 7.4h2.15v2.47h-2.15zM4.30 9.9h2.15v2.47h-2.15zM12.90 9.9h2.15v2.47h-2.15zM21.50 9.9h2.15v2.47h-2.15zM4.30 12.3h2.15v2.47h-2.15zM2.15 14.8h2.15v2.47h-2.15zM10.75 14.8h2.15v2.47h-2.15zM30.10 14.8h2.15v2.47h-2.15zM4.30 17.3h2.15v2.47h-2.15zM10.75 17.3h2.15v2.47h-2.15zM34.40 17.3h2.15v2.47h-2.15zM32.25 19.7h2.15v2.47h-2.15zM40.85 19.7h2.15v2.47h-2.15zM25.80 22.2h2.15v2.47h-2.15zM40.85 22.2h2.15v2.47h-2.15zM36.55 24.7h2.15v2.47h-2.15zM38.70 24.7h2.15v2.47h-2.15zM23.65 27.1h2.15v2.47h-2.15zM6.45 29.6h2.15v2.47h-2.15zM19.35 29.6h2.15v2.47h-2.15zM4.30 32.0h2.15v2.47h-2.15zM12.90 32.0h2.15v2.47h-2.15zM17.20 32.0h2.15v2.47h-2.15zM25.80 32.0h2.15v2.47h-2.15zM27.95 32.0h2.15v2.47h-2.15zM32.25 32.0h2.15v2.47h-2.15zM10.75 34.5h2.15v2.47h-2.15zM27.95 37.0h2.15v2.47h-2.15zM27.95 39.4h2.15v2.47h-2.15zM15.05 44.4h2.15v2.47h-2.15zM23.65 46.8h2.15v2.47h-2.15z" fill="#000" fill-opacity="0.099"/><path d="M15.05 0.0h2.15v2.47h-2.15zM25.80 0.0h2.15v2.47h-2.15zM32.25 0.0h2.15v2.47h-2.15zM4.30 2.5h2.15v2.47h-2.15zM21.50 4.9h2.15v2.47h-2.15zM4.30 7.4h2.15v2.47h-2.15zM38.70 7.4h2.15v2.47h-2.15zM15.05 9.9h2.15v2.47h-2.15zM19.35 12.3h2.15v2.47h-2.15zM19.35 19.7h2.15v2.47h-2.15zM34.40 19.7h2.15v2.47h-2.15zM19.35 22.2h2.15v2.47h-2.15zM6.45 24.7h2.15v2.47h-2.15zM15.05 24.7h2.15v2.47h-2.15zM17.20 24.7h2.15v2.47h-2.15zM2.15 29.6h2.15v2.47h-2.15zM4.30 29.6h2.15v2.47h-2.15zM2.15 32.0h2.15v2.47h-2.15zM6.45 32.0h2.15v2.47h-2.15zM15.05 32.0h2.15v2.47h-2.15zM12.90 34.5h2.15v2.47h-2.15zM25.80 34.5h2.15v2.47h-2.15zM36.55 34.5h2.15v2.47h-2.15zM40.85 34.5h2.15v2.47h-2.15zM10.75 37.0h2.15v2.47h-2.15zM30.10 37.0h2.15v2.47h-2.15zM6.45 39.4h2.15v2.47h-2.15zM8.60 39.4h2.15v2.47h-2.15zM21.50 41.9h2.15v2.47h-2.15zM27.95 41.9h2.15v2.47h-2.15zM30.10 41.9h2.15v2.47h-2.15zM34.40 41.9h2.15v2.47h-2.15zM30.10 46.8h2.15v2.47h-2.15z" fill="#000" fill-opacity="0.078"/><path d="M19.35 0.0h2.15v2.47h-2.15zM30.10 0.0h2.15v2.47h-2.15zM36.55 0.0h2.15v2.47h-2.15zM0.00 2.5h2.15v2.47h-2.15zM8.60 2.5h2.15v2.47h-2.15zM17.20 2.5h2.15v2.47h-2.15zM25.80 2.5h2.15v2.47h-2.15zM32.25 2.5h2.15v2.47h-2.15zM23.65 9.9h2.15v2.47h-2.15zM25.80 9.9h2.15v2.47h-2.15zM0.00 12.3h2.15v2.47h-2.15zM10.75 12.3h2.15v2.47h-2.15zM27.95 12.3h2.15v2.47h-2.15zM30.10 12.3h2.15v2.47h-2.15zM32.25 14.8h2.15v2.47h-2.15zM8.60 17.3h2.15v2.47h-2.15zM21.50 17.3h2.15v2.47h-2.15zM27.95 17.3h2.15v2.47h-2.15zM4.30 19.7h2.15v2.47h-2.15zM34.40 22.2h2.15v2.47h-2.15zM25.80 24.7h2.15v2.47h-2.15zM2.15 27.1h2.15v2.47h-2.15zM6.45 27.1h2.15v2.47h-2.15zM34.40 27.1h2.15v2.47h-2.15zM8.60 29.6h2.15v2.47h-2.15zM27.95 29.6h2.15v2.47h-2.15zM40.85 29.6h2.15v2.47h-2.15zM30.10 32.0h2.15v2.47h-2.15zM6.45 37.0h2.15v2.47h-2.15zM15.05 37.0h2.15v2.47h-2.15zM15.05 39.4h2.15v2.47h-2.15zM30.10 39.4h2.15v2.47h-2.15zM38.70 39.4h2.15v2.47h-2.15zM4.30 41.9h2.15v2.47h-2.15zM10.75 41.9h2.15v2.47h-2.15zM36.55 41.9h2.15v2.47h-2.15zM21.50 44.4h2.15v2.47h-2.15zM2.15 46.8h2.15v2.47h-2.15zM36.55 46.8h2.15v2.47h-2.15zM40.85 46.8h2.15v2.47h-2.15z" fill="#fff" fill-opacity="0.056"/><path d="M27.95 0.0h2.15v2.47h-2.15zM34.40 0.0h2.15v2.47h-2.15zM23.65 2.5h2.15v2.47h-2.15zM30.10 2.5h2.15v2.47h-2.15zM34.40 2.5h2.15v2.47h-2.15zM19.35 4.9h2.15v2.47h-2.15zM30.10 4.9h2.15v2.47h-2.15zM36.55 4.9h2.15v2.47h-2.15zM2.15 9.9h2.15v2.47h-2.15zM8.60 9.9h2.15v2.47h-2.15zM30.10 9.9h2.15v2.47h-2.15zM34.40 9.9h2.15v2.47h-2.15zM2.15 12.3h2.15v2.47h-2.15zM8.60 12.3h2.15v2.47h-2.15zM17.20 12.3h2.15v2.47h-2.15zM34.40 12.3h2.15v2.47h-2.15zM19.35 14.8h2.15v2.47h-2.15zM23.65 14.8h2.15v2.47h-2.15zM25.80 14.8h2.15v2.47h-2.15zM2.15 17.3h2.15v2.47h-2.15zM0.00 19.7h2.15v2.47h-2.15zM12.90 19.7h2.15v2.47h-2.15zM38.70 19.7h2.15v2.47h-2.15zM12.90 22.2h2.15v2.47h-2.15zM15.05 22.2h2.15v2.47h-2.15zM36.55 22.2h2.15v2.47h-2.15zM10.75 24.7h2.15v2.47h-2.15zM32.25 24.7h2.15v2.47h-2.15zM40.85 24.7h2.15v2.47h-2.15zM19.35 27.1h2.15v2.47h-2.15zM27.95 27.1h2.15v2.47h-2.15zM21.50 29.6h2.15v2.47h-2.15zM23.65 29.6h2.15v2.47h-2.15zM38.70 29.6h2.15v2.47h-2.15zM15.05 34.5h2.15v2.47h-2.15zM21.50 34.5h2.15v2.47h-2.15zM30.10 34.5h2.15v2.47h-2.15zM8.60 37.0h2.15v2.47h-2.15zM32.25 37.0h2.15v2.47h-2.15zM10.75 39.4h2.15v2.47h-2.15zM21.50 39.4h2.15v2.47h-2.15zM36.55 39.4h2.15v2.47h-2.15zM40.85 39.4h2.15v2.47h-2.15zM17.20 41.9h2.15v2.47h-2.15zM25.80 41.9h2.15v2.47h-2.15zM25.80 44.4h2.15v2.47h-2.15zM32.25 44.4h2.15v2.47h-2.15zM34.40 44.4h2.15v2.47h-2.15zM36.55 44.4h2.15v2.47h-2.15zM8.60 46.8h2.15v2.47h-2.15zM27.95 46.8h2.15v2.47h-2.15z" fill="#fff" fill-opacity="0.078"/><path d="M2.15 2.5h2.15v2.47h-2.15zM10.75 2.5h2.15v2.47h-2.15zM0.00 4.9h2.15v2.47h-2.15zM2.15 4.9h2.15v2.47h-2.15zM10.75 7.4h2.15v2.47h-2.15zM27.95 7.4h2.15v2.47h-2.15zM0.00 9.9h2.15v2.47h-2.15zM10.75 9.9h2.15v2.47h-2.15zM21.50 12.3h2.15v2.47h-2.15zM38.70 12.3h2.15v2.47h-2.15zM4.30 14.8h2.15v2.47h-2.15zM21.50 14.8h2.15v2.47h-2.15zM34.40 14.8h2.15v2.47h-2.15zM38.70 14.8h2.15v2.47h-2.15zM2.15 19.7h2.15v2.47h-2.15zM6.45 19.7h2.15v2.47h-2.15zM27.95 19.7h2.15v2.47h-2.15zM17.20 22.2h2.15v2.47h-2.15zM27.95 22.2h2.15v2.47h-2.15zM0.00 24.7h2.15v2.47h-2.15zM12.90 24.7h2.15v2.47h-2.15zM19.35 24.7h2.15v2.47h-2.15zM17.20 27.1h2.15v2.47h-2.15zM25.80 27.1h2.15v2.47h-2.15zM32.25 27.1h2.15v2.47h-2.15zM12.90 29.6h2.15v2.47h-2.15zM15.05 29.6h2.15v2.47h-2.15zM30.10 29.6h2.15v2.47h-2.15zM0.00 32.0h2.15v2.47h-2.15zM8.60 32.0h2.15v2.47h-2.15zM40.85 32.0h2.15v2.47h-2.15zM0.00 34.5h2.15v2.47h-2.15zM34.40 34.5h2.15v2.47h-2.15zM12.90 37.0h2.15v2.47h-2.15zM17.20 39.4h2.15v2.47h-2.15zM19.35 39.4h2.15v2.47h-2.15zM6.45 41.9h2.15v2.47h-2.15zM2.15 44.4h2.15v2.47h-2.15zM10.75 44.4h2.15v2.47h-2.15zM0.00 46.8h2.15v2.47h-2.15zM6.45 46.8h2.15v2.47h-2.15zM10.75 46.8h2.15v2.47h-2.15zM12.90 46.8h2.15v2.47h-2.15zM15.05 46.8h2.15v2.47h-2.15zM21.50 46.8h2.15v2.47h-2.15zM25.80 46.8h2.15v2.47h-2.15zM38.70 46.8h2.15v2.47h-2.15z" fill="#fff" fill-opacity="0.099"/></pattern><linearGradient id="cb113" x1="0" x2="0" y1="0" y2="1"><stop offset="0.000" stop-color="#fde725"/><stop offset="0.050" stop-color="#dfe318"/><stop offset="0.100" stop-color="#bddf26"/><stop offset="0.150" stop-color="#9bd93c"/><stop offset="0.200" stop-color="#7ad151"/><stop offset="0.250" stop-color="#5ec962"/><stop offset="0.300" stop-color="#44bf70"/><stop offset="0.350" stop-color="#2fb47c"/><stop offset="0.400" stop-color="#22a884"/><stop offset="0.450" stop-color="#1e9c89"/><stop offset="0.500" stop-color="#21918c"/><stop offset="0.550" stop-color="#25848e"/><stop offset="0.600" stop-color="#2a788e"/><stop offset="0.650" stop-color="#2f6c8e"/><stop offset="0.700" stop-color="#355f8d"/><stop offset="0.750" stop-color="#3b528b"/><stop offset="0.800" stop-color="#414487"/><stop offset="0.850" stop-color="#463480"/><stop offset="0.900" stop-color="#482475"/><stop offset="0.950" stop-color="#471365"/><stop offset="1.000" stop-color="#440154"/></linearGradient><linearGradient id="hg114" x1="0" x2="1" y1="0" y2="0"><stop offset=".000" stop-color="#24868e"/><stop offset=".001" stop-color="#24868e"/><stop offset=".034" stop-color="#21928c"/><stop offset=".069" stop-color="#1f978a"/><stop offset=".103" stop-color="#1f988a"/><stop offset=".138" stop-color="#1f988a"/><stop offset=".172" stop-color="#1f978a"/><stop offset=".207" stop-color="#22a785"/><stop offset=".241" stop-color="#1fa087"/><stop offset=".276" stop-color="#21a585"/><stop offset=".310" stop-color="#24aa83"/><stop offset=".338" stop-color="#29ae80"/><stop offset=".345" stop-color="#33b67a"/><stop offset=".379" stop-color="#2fb47c"/><stop offset=".414" stop-color="#41bd72"/><stop offset=".448" stop-color="#4bc26c"/><stop offset=".483" stop-color="#4ec36b"/><stop offset=".503" stop-color="#55c567"/><stop offset=".517" stop-color="#5fc961"/><stop offset=".552" stop-color="#6bcd5a"/><stop offset=".586" stop-color="#94d740"/><stop offset=".621" stop-color="#9cd93b"/><stop offset=".641" stop-color="#c0df25"/><stop offset=".655" stop-color="#cde11f"/><stop offset=".690" stop-color="#d3e21d"/><stop offset=".724" stop-color="#cae121"/><stop offset=".759" stop-color="#c9e021"/><stop offset=".793" stop-color="#cfe11f"/><stop offset=".828" stop-color="#d8e21b"/><stop offset=".862" stop-color="#e5e41a"/><stop offset=".897" stop-color="#cfe11f"/><stop offset=".931" stop-color="#eee51e"/><stop offset=".943" stop-color="#efe51f"/><stop offset=".966" stop-color="#e2e319"/><stop offset="1.000" stop-color="#f5e621"/><stop offset="1.000" stop-color="#ebe51d"/></linearGradient><linearGradient id="hg115" x1="0" x2="1" y1="0" y2="0"><stop offset=".000" stop-color="#2b758e"/><stop offset=".001" stop-color="#2d718e"/><stop offset=".034" stop-color="#2e708e"/><stop offset=".069" stop-color="#297a8e"/><stop offset=".103" stop-color="#297a8e"/><stop offset=".138" stop-color="#26828e"/><stop offset=".172" stop-color="#228e8c"/><stop offset=".207" stop-color="#238b8d"/><stop offset=".209" stop-color="#25848e"/><stop offset=".241" stop-color="#238b8d"/><stop offset=".276" stop-color="#1e9a89"/><stop offset=".310" stop-color="#20958b"/><stop offset=".345" stop-color="#1e9d89"/><stop offset=".379" stop-color="#1e9d89"/><stop offset=".382" stop-color="#20a187"/><stop offset=".414" stop-color="#23a984"/><stop offset=".448" stop-color="#37b877"/><stop offset=".483" stop-color="#43bf71"/><stop offset=".503" stop-color="#36b778"/><stop offset=".517" stop-color="#53c568"/><stop offset=".552" stop-color="#61ca60"/><stop offset=".586" stop-color="#8ed644"/><stop offset=".621" stop-color="#b3dd2c"/><stop offset=".655" stop-color="#dce319"/><stop offset=".662" stop-color="#e4e41a"/><stop offset=".690" stop-color="#dfe318"/><stop offset=".724" stop-color="#dfe318"/><stop offset=".759" stop-color="#dde319"/><stop offset=".793" stop-color="#d5e21c"/><stop offset=".828" stop-color="#d5e21c"/><stop offset=".862" stop-color="#cee11f"/><stop offset=".897" stop-color="#e8e41c"/><stop offset=".931" stop-color="#f0e520"/><stop offset=".966" stop-color="#f3e621"/><stop offset="1.000" stop-color="#eae41d"/><stop offset="1.000" stop-color="#e8e41c"/></linearGradient><linearGradient id="hg116" x1="0" x2="1" y1="0" y2="0"><stop offset=".000" stop-color="#47c06f"/><stop offset=".001" stop-color="#47c06e"/><stop offset=".034" stop-color="#30b47c"/><stop offset=".069" stop-color="#3cbb74"/><stop offset=".103" stop-color="#34b779"/><stop offset=".138" stop-color="#2eb37d"/><stop offset=".172" stop-color="#28ad80"/><stop offset=".207" stop-color="#28ad80"/><stop offset=".230" stop-color="#23a884"/><stop offset=".241" stop-color="#3b518b"/><stop offset=".243" stop-color="#463581"/><stop offset=".276" stop-color="#472f7c"/><stop offset=".308" stop-color="#424085"/><stop offset=".310" stop-color="#3e4c89"/><stop offset=".321" stop-color="#21928c"/><stop offset=".338" stop-color="#fde725"/><stop offset=".345" stop-color="#fde725"/><stop offset=".379" stop-color="#fde725"/><stop offset=".414" stop-color="#f2e620"/><stop offset=".448" stop-color="#fde725"/><stop offset=".483" stop-color="#fde725"/><stop offset=".517" stop-color="#fde725"/><stop offset=".552" stop-color="#f2e620"/><stop offset=".586" stop-color="#fde725"/><stop offset=".621" stop-color="#f8e623"/><stop offset=".655" stop-color="#f2e620"/><stop offset=".690" stop-color="#fde725"/><stop offset=".724" stop-color="#fde725"/><stop offset=".759" stop-color="#f3e621"/><stop offset=".793" stop-color="#fde725"/><stop offset=".828" stop-color="#fde725"/><stop offset=".862" stop-color="#fde725"/><stop offset=".897" stop-color="#fde725"/><stop offset=".931" stop-color="#f3e621"/><stop offset=".966" stop-color="#fde725"/><stop offset="1.000" stop-color="#f4e621"/><stop offset="1.000" stop-color="#fde725"/></linearGradient><linearGradient id="hg117" x1="0" x2="1" y1="0" y2="0"><stop offset=".000" stop-color="#25848e"/><stop offset=".001" stop-color="#24868e"/><stop offset=".034" stop-color="#20938b"/><stop offset=".069" stop-color="#23898d"/><stop offset=".103" stop-color="#24878e"/><stop offset=".138" stop-color="#24898d"/><stop offset=".172" stop-color="#21908c"/><stop offset=".207" stop-color="#228f8c"/><stop offset=".241" stop-color="#20948b"/><stop offset=".276" stop-color="#21908c"/><stop offset=".310" stop-color="#228e8c"/><stop offset=".345" stop-color="#1f988a"/><stop offset=".379" stop-color="#21908c"/><stop offset=".414" stop-color="#20968b"/><stop offset=".448" stop-color="#1f9a8a"/><stop offset=".483" stop-color="#20948b"/><stop offset=".503" stop-color="#20948b"/><stop offset=".517" stop-color="#20968b"/><stop offset=".552" stop-color="#21938c"/><stop offset=".586" stop-color="#1f998a"/><stop offset=".621" stop-color="#1f998a"/><stop offset=".655" stop-color="#1e9c89"/><stop offset=".690" stop-color="#21928c"/><stop offset=".724" stop-color="#1f988a"/><stop offset=".759" stop-color="#21928c"/><stop offset=".793" stop-color="#1e9d88"/><stop offset=".828" stop-color="#1f998a"/><stop offset=".862" stop-color="#20968b"/><stop offset=".897" stop-color="#1f9a8a"/><stop offset=".931" stop-color="#1f988a"/><stop offset=".966" stop-color="#20968b"/><stop offset="1.000" stop-color="#20968b"/><stop offset="1.000" stop-color="#20948b"/></linearGradient><linearGradient id="hg118" x1="0" x2="1" y1="0" y2="0"><stop offset=".000" stop-color="#21908c"/><stop offset=".001" stop-color="#23898d"/><stop offset=".034" stop-color="#228d8d"/><stop offset=".069" stop-color="#25848e"/><stop offset=".103" stop-color="#25848e"/><stop offset=".138" stop-color="#238a8d"/><stop offset=".172" stop-color="#277f8e"/><stop offset=".207" stop-color="#24868e"/><stop offset=".241" stop-color="#297a8e"/><stop offset=".276" stop-color="#297b8e"/><stop offset=".310" stop-color="#2b758e"/><stop offset=".345" stop-color="#2b758e"/><stop offset=".379" stop-color="#297a8e"/><stop offset=".414" stop-color="#2a778e"/><stop offset=".448" stop-color="#2d728e"/><stop offset=".483" stop-color="#2e6e8e"/><stop offset=".503" stop-color="#2a788e"/><stop offset=".517" stop-color="#2d718e"/><stop offset=".552" stop-color="#297b8e"/><stop offset=".576" stop-color="#25848e"/><stop offset=".586" stop-color="#24898d"/><stop offset=".621" stop-color="#228e8d"/><stop offset=".655" stop-color="#1f9a8a"/><stop offset=".690" stop-color="#20a286"/><stop offset=".724" stop-color="#28ae80"/><stop offset=".727" stop-color="#27ad81"/><stop offset=".759" stop-color="#32b57a"/><stop offset=".793" stop-color="#2cb17e"/><stop offset=".828" stop-color="#46c06f"/><stop offset=".862" stop-color="#42be71"/><stop offset=".897" stop-color="#39b976"/><stop offset=".931" stop-color="#51c469"/><stop offset=".966" stop-color="#57c666"/><stop offset="1.000" stop-color="#5fc961"/><stop offset="1.000" stop-color="#54c567"/></linearGradient><linearGradient id="hg119" x1="0" x2="1" y1="0" y2="0"><stop offset=".000" stop-color="#433c84"/><stop offset=".001" stop-color="#472d7b"/><stop offset=".034" stop-color="#46337f"/><stop offset=".045" stop-color="#463681"/><stop offset=".057" stop-color="#24888d"/><stop offset=".069" stop-color="#21938c"/><stop offset=".103" stop-color="#21918c"/><stop offset=".138" stop-color="#20948b"/><stop offset=".172" stop-color="#20968b"/><stop offset=".207" stop-color="#21928c"/><stop offset=".241" stop-color="#21908c"/><stop offset=".276" stop-color="#1e9c89"/><stop offset=".295" stop-color="#1f978a"/><stop offset=".310" stop-color="#1e9b89"/><stop offset=".345" stop-color="#21a685"/><stop offset=".360" stop-color="#33b67a"/><stop offset=".379" stop-color="#6ccd5a"/><stop offset=".414" stop-color="#f4e621"/><stop offset=".416" stop-color="#fde725"/><stop offset=".448" stop-color="#fde725"/><stop offset=".483" stop-color="#fde725"/><stop offset=".517" stop-color="#fde725"/><stop offset=".552" stop-color="#fce724"/><stop offset=".586" stop-color="#fde725"/><stop offset=".621" stop-color="#f2e620"/><stop offset=".655" stop-color="#fde725"/><stop offset=".690" stop-color="#fde725"/><stop offset=".724" stop-color="#fde725"/><stop offset=".759" stop-color="#fde725"/><stop offset=".793" stop-color="#f0e51f"/><stop offset=".828" stop-color="#fde725"/><stop offset=".862" stop-color="#f7e622"/><stop offset=".897" stop-color="#fde725"/><stop offset=".931" stop-color="#fde725"/><stop offset=".966" stop-color="#fde725"/><stop offset="1.000" stop-color="#f8e623"/><stop offset="1.000" stop-color="#fde725"/></linearGradient><linearGradient id="hg120" x1="0" x2="1" y1="0" y2="0"><stop offset=".000" stop-color="#27808e"/><stop offset=".001" stop-color="#25838e"/><stop offset=".034" stop-color="#297a8e"/><stop offset=".069" stop-color="#277f8e"/><stop offset=".103" stop-color="#297b8e"/><stop offset=".138" stop-color="#297b8e"/><stop offset=".172" stop-color="#2c748e"/><stop offset=".207" stop-color="#29798e"/><stop offset=".209" stop-color="#2a788e"/><stop offset=".241" stop-color="#2a778e"/><stop offset=".276" stop-color="#297b8e"/><stop offset=".310" stop-color="#287c8e"/><stop offset=".345" stop-color="#287c8e"/><stop offset=".379" stop-color="#23898d"/><stop offset=".414" stop-color="#277f8e"/><stop offset=".448" stop-color="#25848e"/><stop offset=".483" stop-color="#24888d"/><stop offset=".503" stop-color="#238a8d"/><stop offset=".517" stop-color="#25858e"/><stop offset=".552" stop-color="#238b8d"/><stop offset=".586" stop-color="#21908c"/><stop offset=".621" stop-color="#20948b"/><stop offset=".655" stop-color="#1f988a"/><stop offset=".690" stop-color="#20948b"/><stop offset=".724" stop-color="#1f978a"/><stop offset=".759" stop-color="#1e9b89"/><stop offset=".793" stop-color="#21a685"/><stop offset=".828" stop-color="#1fa087"/><stop offset=".862" stop-color="#23a984"/><stop offset=".897" stop-color="#20a386"/><stop offset=".931" stop-color="#21a685"/><stop offset=".966" stop-color="#24aa83"/><stop offset="1.000" stop-color="#2bb07e"/><stop offset="1.000" stop-color="#24aa83"/></linearGradient><linearGradient id="hg121" x1="0" x2="1" y1="0" y2="0"><stop offset=".000" stop-color="#25848e"/><stop offset=".001" stop-color="#228d8d"/><stop offset=".034" stop-color="#238b8d"/><stop offset=".069" stop-color="#20948b"/><stop offset=".103" stop-color="#21938c"/><stop offset=".138" stop-color="#228f8c"/><stop offset=".172" stop-color="#1e9d89"/><stop offset=".207" stop-color="#1e9b89"/><stop offset=".241" stop-color="#20a287"/><stop offset=".276" stop-color="#21a585"/><stop offset=".310" stop-color="#1e9c89"/><stop offset=".345" stop-color="#21a486"/><stop offset=".379" stop-color="#23a983"/><stop offset=".414" stop-color="#22a785"/><stop offset=".448" stop-color="#26ac82"/><stop offset=".483" stop-color="#30b47c"/><stop offset=".503" stop-color="#2db27d"/><stop offset=".517" stop-color="#2bb07f"/><stop offset=".552" stop-color="#3bbb75"/><stop offset=".586" stop-color="#3cbb74"/><stop offset=".621" stop-color="#53c568"/><stop offset=".655" stop-color="#59c765"/><stop offset=".690" stop-color="#6acc5b"/><stop offset=".724" stop-color="#73cf55"/><stop offset=".727" stop-color="#7bd150"/><stop offset=".759" stop-color="#7cd250"/><stop offset=".793" stop-color="#74cf55"/><stop offset=".828" stop-color="#8dd645"/><stop offset=".862" stop-color="#8dd645"/><stop offset=".897" stop-color="#94d741"/><stop offset=".931" stop-color="#a9dc33"/><stop offset=".966" stop-color="#a6db35"/><stop offset="1.000" stop-color="#a8db34"/><stop offset="1.000" stop-color="#94d740"/></linearGradient><linearGradient id="hg122" x1="0" x2="1" y1="0" y2="0"><stop offset=".000" stop-color="#26ab82"/><stop offset=".001" stop-color="#32b57a"/><stop offset=".034" stop-color="#2eb37c"/><stop offset=".069" stop-color="#29ae80"/><stop offset=".103" stop-color="#22a784"/><stop offset=".138" stop-color="#21a685"/><stop offset=".172" stop-color="#26ac81"/><stop offset=".200" stop-color="#21a585"/><stop offset=".207" stop-color="#297a8e"/><stop offset=".209" stop-color="#2c728e"/><stop offset=".241" stop-color="#2e6e8e"/><stop offset=".252" stop-color="#2e6d8e"/><stop offset=".269" stop-color="#f1e520"/><stop offset=".276" stop-color="#fde725"/><stop offset=".310" stop-color="#f6e622"/><stop offset=".345" stop-color="#fde725"/><stop offset=".379" stop-color="#fde725"/><stop offset=".414" stop-color="#fde725"/><stop offset=".448" stop-color="#fde725"/><stop offset=".483" stop-color="#fde725"/><stop offset=".517" stop-color="#f3e621"/><stop offset=".552" stop-color="#f9e723"/><stop offset=".586" stop-color="#fce725"/><stop offset=".621" stop-color="#f4e621"/><stop offset=".655" stop-color="#f2e620"/><stop offset=".690" stop-color="#fde725"/><stop offset=".724" stop-color="#fde725"/><stop offset=".759" stop-color="#fde725"/><stop offset=".793" stop-color="#f4e621"/><stop offset=".828" stop-color="#f4e621"/><stop offset=".862" stop-color="#fde725"/><stop offset=".897" stop-color="#fde725"/><stop offset=".931" stop-color="#fde725"/><stop offset=".966" stop-color="#fde725"/><stop offset="1.000" stop-color="#fde725"/><stop offset="1.000" stop-color="#fde725"/></linearGradient><linearGradient id="hg123" x1="0" x2="1" y1="0" y2="0"><stop offset=".000" stop-color="#238c8d"/><stop offset=".001" stop-color="#24878d"/><stop offset=".034" stop-color="#23898d"/><stop offset=".069" stop-color="#238a8d"/><stop offset=".103" stop-color="#21918c"/><stop offset=".138" stop-color="#20968b"/><stop offset=".172" stop-color="#228d8d"/><stop offset=".207" stop-color="#1f998a"/><stop offset=".241" stop-color="#1f988a"/><stop offset=".276" stop-color="#1f9f88"/><stop offset=".310" stop-color="#20958b"/><stop offset=".345" stop-color="#20a386"/><stop offset=".379" stop-color="#20a386"/><stop offset=".414" stop-color="#1f998a"/><stop offset=".448" stop-color="#22a784"/><stop offset=".483" stop-color="#20a187"/><stop offset=".503" stop-color="#1e9d89"/><stop offset=".517" stop-color="#20a287"/><stop offset=".552" stop-color="#21a685"/><stop offset=".586" stop-color="#1f998a"/><stop offset=".621" stop-color="#20a187"/><stop offset=".655" stop-color="#1e9d88"/><stop offset=".690" stop-color="#1f988a"/><stop offset=".724" stop-color="#20938b"/><stop offset=".727" stop-color="#21928c"/><stop offset=".759" stop-color="#20958b"/><stop offset=".793" stop-color="#1f998a"/><stop offset=".828" stop-color="#1e9c89"/><stop offset=".862" stop-color="#21a485"/><stop offset=".897" stop-color="#20a386"/><stop offset=".931" stop-color="#26ac82"/><stop offset=".966" stop-color="#22a784"/><stop offset="1.000" stop-color="#31b57b"/><stop offset="1.000" stop-color="#33b67a"/></linearGradient><pattern id="tx124" patternUnits="userSpaceOnUse" x="31.70" y="663.50" width="43.0" height="48.80"><path d="M0.00 0.0h2.15v4.88h-2.15zM8.60 0.0h2.15v4.88h-2.15zM12.90 0.0h2.15v4.88h-2.15zM17.20 0.0h2.15v4.88h-2.15zM6.45 4.9h2.15v4.88h-2.15zM8.60 4.9h2.15v4.88h-2.15zM10.75 4.9h2.15v4.88h-2.15zM36.55 9.8h2.15v4.88h-2.15zM2.15 14.6h2.15v4.88h-2.15zM15.05 14.6h2.15v4.88h-2.15zM30.10 14.6h2.15v4.88h-2.15zM23.65 19.5h2.15v4.88h-2.15zM30.10 24.4h2.15v4.88h-2.15zM12.90 29.3h2.15v4.88h-2.15zM19.35 29.3h2.15v4.88h-2.15zM25.80 29.3h2.15v4.88h-2.15zM30.10 34.2h2.15v4.88h-2.15zM32.25 34.2h2.15v4.88h-2.15zM34.40 34.2h2.15v4.88h-2.15zM21.50 39.0h2.15v4.88h-2.15zM40.85 39.0h2.15v4.88h-2.15zM4.30 43.9h2.15v4.88h-2.15zM12.90 43.9h2.15v4.88h-2.15zM27.95 43.9h2.15v4.88h-2.15z" fill="#fff" fill-opacity="0.099"/><path d="M2.15 0.0h2.15v4.88h-2.15zM27.95 0.0h2.15v4.88h-2.15zM32.25 0.0h2.15v4.88h-2.15zM34.40 0.0h2.15v4.88h-2.15zM30.10 4.9h2.15v4.88h-2.15zM0.00 9.8h2.15v4.88h-2.15zM2.15 9.8h2.15v4.88h-2.15zM21.50 14.6h2.15v4.88h-2.15zM34.40 14.6h2.15v4.88h-2.15zM36.55 14.6h2.15v4.88h-2.15zM12.90 19.5h2.15v4.88h-2.15zM34.40 19.5h2.15v4.88h-2.15zM19.35 24.4h2.15v4.88h-2.15zM21.50 29.3h2.15v4.88h-2.15zM30.10 29.3h2.15v4.88h-2.15zM6.45 34.2h2.15v4.88h-2.15zM12.90 34.2h2.15v4.88h-2.15zM38.70 34.2h2.15v4.88h-2.15zM10.75 39.0h2.15v4.88h-2.15zM25.80 39.0h2.15v4.88h-2.15zM36.55 39.0h2.15v4.88h-2.15z" fill="#000" fill-opacity="0.099"/><path d="M4.30 0.0h2.15v4.88h-2.15zM0.00 4.9h2.15v4.88h-2.15zM34.40 4.9h2.15v4.88h-2.15zM30.10 9.8h2.15v4.88h-2.15zM32.25 9.8h2.15v4.88h-2.15zM8.60 14.6h2.15v4.88h-2.15zM12.90 14.6h2.15v4.88h-2.15zM27.95 14.6h2.15v4.88h-2.15zM0.00 19.5h2.15v4.88h-2.15zM21.50 19.5h2.15v4.88h-2.15zM36.55 19.5h2.15v4.88h-2.15zM40.85 19.5h2.15v4.88h-2.15zM23.65 24.4h2.15v4.88h-2.15zM36.55 24.4h2.15v4.88h-2.15zM4.30 29.3h2.15v4.88h-2.15zM23.65 29.3h2.15v4.88h-2.15zM32.25 29.3h2.15v4.88h-2.15zM8.60 34.2h2.15v4.88h-2.15zM19.35 34.2h2.15v4.88h-2.15zM25.80 34.2h2.15v4.88h-2.15zM15.05 39.0h2.15v4.88h-2.15zM34.40 39.0h2.15v4.88h-2.15zM23.65 43.9h2.15v4.88h-2.15zM40.85 43.9h2.15v4.88h-2.15z" fill="#fff" fill-opacity="0.056"/><path d="M15.05 0.0h2.15v4.88h-2.15zM21.50 0.0h2.15v4.88h-2.15zM36.55 0.0h2.15v4.88h-2.15zM21.50 4.9h2.15v4.88h-2.15zM27.95 4.9h2.15v4.88h-2.15zM32.25 4.9h2.15v4.88h-2.15zM10.75 9.8h2.15v4.88h-2.15zM12.90 9.8h2.15v4.88h-2.15zM15.05 9.8h2.15v4.88h-2.15zM17.20 9.8h2.15v4.88h-2.15zM34.40 9.8h2.15v4.88h-2.15zM25.80 14.6h2.15v4.88h-2.15zM40.85 14.6h2.15v4.88h-2.15zM8.60 19.5h2.15v4.88h-2.15zM19.35 19.5h2.15v4.88h-2.15zM27.95 19.5h2.15v4.88h-2.15zM4.30 24.4h2.15v4.88h-2.15zM15.05 24.4h2.15v4.88h-2.15zM27.95 24.4h2.15v4.88h-2.15zM15.05 29.3h2.15v4.88h-2.15zM2.15 34.2h2.15v4.88h-2.15zM36.55 34.2h2.15v4.88h-2.15zM12.90 39.0h2.15v4.88h-2.15zM19.35 39.0h2.15v4.88h-2.15zM10.75 43.9h2.15v4.88h-2.15z" fill="#000" fill-opacity="0.078"/><path d="M38.70 0.0h2.15v4.88h-2.15zM40.85 0.0h2.15v4.88h-2.15zM21.50 9.8h2.15v4.88h-2.15zM6.45 14.6h2.15v4.88h-2.15zM25.80 19.5h2.15v4.88h-2.15zM30.10 19.5h2.15v4.88h-2.15zM38.70 19.5h2.15v4.88h-2.15zM8.60 24.4h2.15v4.88h-2.15zM12.90 24.4h2.15v4.88h-2.15zM21.50 24.4h2.15v4.88h-2.15zM32.25 24.4h2.15v4.88h-2.15zM6.45 29.3h2.15v4.88h-2.15zM34.40 29.3h2.15v4.88h-2.15zM40.85 29.3h2.15v4.88h-2.15zM0.00 34.2h2.15v4.88h-2.15zM21.50 34.2h2.15v4.88h-2.15zM2.15 39.0h2.15v4.88h-2.15zM4.30 39.0h2.15v4.88h-2.15zM15.05 43.9h2.15v4.88h-2.15zM17.20 43.9h2.15v4.88h-2.15zM34.40 43.9h2.15v4.88h-2.15z" fill="#000" fill-opacity="0.056"/><path d="M4.30 4.9h2.15v4.88h-2.15zM17.20 4.9h2.15v4.88h-2.15zM36.55 4.9h2.15v4.88h-2.15zM38.70 9.8h2.15v4.88h-2.15zM40.85 9.8h2.15v4.88h-2.15zM4.30 14.6h2.15v4.88h-2.15zM10.75 14.6h2.15v4.88h-2.15zM17.20 19.5h2.15v4.88h-2.15zM32.25 19.5h2.15v4.88h-2.15zM0.00 24.4h2.15v4.88h-2.15zM2.15 24.4h2.15v4.88h-2.15zM10.75 24.4h2.15v4.88h-2.15zM34.40 24.4h2.15v4.88h-2.15zM2.15 29.3h2.15v4.88h-2.15zM38.70 29.3h2.15v4.88h-2.15zM10.75 34.2h2.15v4.88h-2.15zM17.20 34.2h2.15v4.88h-2.15zM6.45 39.0h2.15v4.88h-2.15zM8.60 39.0h2.15v4.88h-2.15zM2.15 43.9h2.15v4.88h-2.15zM6.45 43.9h2.15v4.88h-2.15zM30.10 43.9h2.15v4.88h-2.15z" fill="#fff" fill-opacity="0.078"/></pattern><linearGradient id="cb125" x1="0" x2="0" y1="0" y2="1"><stop offset="0.000" stop-color="#fde725"/><stop offset="0.050" stop-color="#dfe318"/><stop offset="0.100" stop-color="#bddf26"/><stop offset="0.150" stop-color="#9bd93c"/><stop offset="0.200" stop-color="#7ad151"/><stop offset="0.250" stop-color="#5ec962"/><stop offset="0.300" stop-color="#44bf70"/><stop offset="0.350" stop-color="#2fb47c"/><stop offset="0.400" stop-color="#22a884"/><stop offset="0.450" stop-color="#1e9c89"/><stop offset="0.500" stop-color="#21918c"/><stop offset="0.550" stop-color="#25848e"/><stop offset="0.600" stop-color="#2a788e"/><stop offset="0.650" stop-color="#2f6c8e"/><stop offset="0.700" stop-color="#355f8d"/><stop offset="0.750" stop-color="#3b528b"/><stop offset="0.800" stop-color="#414487"/><stop offset="0.850" stop-color="#463480"/><stop offset="0.900" stop-color="#482475"/><stop offset="0.950" stop-color="#471365"/><stop offset="1.000" stop-color="#440154"/></linearGradient></defs><text x="-0.80" y="14.60" font-size="20">a</text>
<polyline points="33.0,16.4 66.0,16.4 69.7,26.6 263.8,26.6" fill="none" stroke="#3a3333" stroke-width="1.05" stroke-linejoin="round"/>
<text x="39.70" y="14.60" font-size="8.3">20 °C</text>
<text x="84.40" y="25.00" font-size="8.3">10 °C</text>
<text x="129.40" y="17.90" font-size="10.5" fill="#2e3192" font-weight="bold">ASH neurons</text>
<rect x="32.40" y="32.30" width="231.10" height="4.58" fill="url(#hg1)"/>
<rect x="32.40" y="36.08" width="231.10" height="4.58" fill="url(#hg2)"/>
<rect x="32.40" y="39.87" width="231.10" height="4.58" fill="url(#hg3)"/>
<rect x="32.40" y="43.65" width="231.10" height="4.58" fill="url(#hg4)"/>
<rect x="32.40" y="47.44" width="231.10" height="4.58" fill="url(#hg5)"/>
<rect x="32.40" y="51.22" width="231.10" height="4.58" fill="url(#hg6)"/>
<rect x="32.40" y="55.01" width="231.10" height="4.58" fill="url(#hg7)"/>
<rect x="32.40" y="58.79" width="231.10" height="4.58" fill="url(#hg8)"/>
<rect x="32.40" y="62.58" width="231.10" height="4.58" fill="url(#hg9)"/>
<rect x="32.40" y="66.36" width="231.10" height="4.58" fill="url(#hg10)"/>
<rect x="32.40" y="70.15" width="231.10" height="4.58" fill="url(#hg11)"/>
<rect x="32.40" y="73.93" width="231.10" height="4.58" fill="url(#hg12)"/>
<rect x="32.40" y="77.72" width="231.10" height="3.78" fill="url(#hg13)"/>
<rect x="32.40" y="32.30" width="231.10" height="49.20" fill="url(#tx14)"/>
<rect x="32.40" y="32.30" width="231.10" height="49.20" fill="none" stroke="#000" stroke-width="1.3"/>
<text x="28.80" y="40.90" font-size="8.4" text-anchor="end">13</text>
<text x="28.80" y="83.00" font-size="8.4" text-anchor="end">1</text>
<line x1="32.40" y1="81.50" x2="32.40" y2="87.50" stroke="#000" stroke-width="1.2"/>
<line x1="263.50" y1="81.50" x2="263.50" y2="87.50" stroke="#000" stroke-width="1.2"/>
<text x="32.40" y="96.60" font-size="9" text-anchor="middle">1</text>
<text x="261.30" y="96.60" font-size="9" text-anchor="middle">210</text>
<text x="135.60" y="93.30" font-size="9.3">Time (s)</text>
<rect x="278.40" y="32.10" width="10.20" height="50.00" fill="url(#cb15)" stroke="#000" stroke-width="1.2"/>
<line x1="278.40" y1="33.03" x2="279.90" y2="33.03" stroke="#000" stroke-width="0.8"/>
<line x1="287.10" y1="33.03" x2="288.60" y2="33.03" stroke="#000" stroke-width="0.8"/>
<text x="290.60" y="35.43" font-size="8">60</text>
<line x1="278.40" y1="43.93" x2="279.90" y2="43.93" stroke="#000" stroke-width="0.8"/>
<line x1="287.10" y1="43.93" x2="288.60" y2="43.93" stroke="#000" stroke-width="0.8"/>
<text x="290.60" y="46.33" font-size="8">40</text>
<line x1="278.40" y1="54.84" x2="279.90" y2="54.84" stroke="#000" stroke-width="0.8"/>
<line x1="287.10" y1="54.84" x2="288.60" y2="54.84" stroke="#000" stroke-width="0.8"/>
<text x="290.60" y="57.24" font-size="8">20</text>
<line x1="278.40" y1="65.74" x2="279.90" y2="65.74" stroke="#000" stroke-width="0.8"/>
<line x1="287.10" y1="65.74" x2="288.60" y2="65.74" stroke="#000" stroke-width="0.8"/>
<text x="290.60" y="68.14" font-size="8">0</text>
<line x1="278.40" y1="76.65" x2="279.90" y2="76.65" stroke="#000" stroke-width="0.8"/>
<line x1="287.10" y1="76.65" x2="288.60" y2="76.65" stroke="#000" stroke-width="0.8"/>
<text x="290.60" y="79.05" font-size="8">-20</text>
<text x="311.80" y="59.80" font-size="7.9" text-anchor="middle" transform="rotate(-90 311.80 59.80)">GCaMP5 (ΔF/F<tspan font-size="70%" dy="1.5">o</tspan><tspan dy="-1.5">, %)</tspan></text>
<polyline points="33.5,119.4 65.8,119.4 69.5,129.8 263.8,129.8" fill="none" stroke="#3a3333" stroke-width="1.05" stroke-linejoin="round"/>
<text x="39.70" y="117.40" font-size="8.3">20 °C</text>
<text x="84.40" y="127.80" font-size="8.3">10 °C</text>
<text x="129.00" y="122.80" font-size="10.5" fill="#1b9de2" font-weight="bold">AMsh glia</text>
<rect x="32.80" y="137.70" width="230.70" height="3.53" fill="url(#hg16)"/>
<rect x="32.80" y="140.43" width="230.70" height="3.53" fill="url(#hg17)"/>
<rect x="32.80" y="143.16" width="230.70" height="3.53" fill="url(#hg18)"/>
<rect x="32.80" y="145.88" width="230.70" height="3.53" fill="url(#hg19)"/>
<rect x="32.80" y="148.61" width="230.70" height="3.53" fill="url(#hg20)"/>
<rect x="32.80" y="151.34" width="230.70" height="3.53" fill="url(#hg21)"/>
<rect x="32.80" y="154.07" width="230.70" height="3.53" fill="url(#hg22)"/>
<rect x="32.80" y="156.79" width="230.70" height="3.53" fill="url(#hg23)"/>
<rect x="32.80" y="159.52" width="230.70" height="3.53" fill="url(#hg24)"/>
<rect x="32.80" y="162.25" width="230.70" height="3.53" fill="url(#hg25)"/>
<rect x="32.80" y="164.98" width="230.70" height="3.53" fill="url(#hg26)"/>
<rect x="32.80" y="167.71" width="230.70" height="3.53" fill="url(#hg27)"/>
<rect x="32.80" y="170.43" width="230.70" height="3.53" fill="url(#hg28)"/>
<rect x="32.80" y="173.16" width="230.70" height="3.53" fill="url(#hg29)"/>
<rect x="32.80" y="175.89" width="230.70" height="3.53" fill="url(#hg30)"/>
<rect x="32.80" y="178.62" width="230.70" height="3.53" fill="url(#hg31)"/>
<rect x="32.80" y="181.34" width="230.70" height="3.53" fill="url(#hg32)"/>
<rect x="32.80" y="184.07" width="230.70" height="2.73" fill="url(#hg33)"/>
<rect x="32.80" y="137.70" width="230.70" height="49.10" fill="url(#tx34)"/>
<rect x="32.80" y="137.70" width="230.70" height="49.10" fill="none" stroke="#000" stroke-width="1.3"/>
<text x="29.30" y="144.70" font-size="8.4" text-anchor="end">18</text>
<text x="29.30" y="184.90" font-size="8.4" text-anchor="end">1</text>
<line x1="32.80" y1="186.80" x2="32.80" y2="192.80" stroke="#000" stroke-width="1.2"/>
<line x1="263.50" y1="186.80" x2="263.50" y2="192.80" stroke="#000" stroke-width="1.2"/>
<text x="32.80" y="202.00" font-size="9" text-anchor="middle">1</text>
<text x="261.30" y="202.00" font-size="9" text-anchor="middle">210</text>
<text x="136.00" y="198.20" font-size="9.3">Time (s)</text>
<rect x="278.40" y="137.30" width="10.20" height="50.60" fill="url(#cb35)" stroke="#000" stroke-width="1.2"/>
<line x1="278.40" y1="142.04" x2="279.90" y2="142.04" stroke="#000" stroke-width="0.8"/>
<line x1="287.10" y1="142.04" x2="288.60" y2="142.04" stroke="#000" stroke-width="0.8"/>
<text x="290.60" y="144.44" font-size="8">20</text>
<line x1="278.40" y1="160.28" x2="279.90" y2="160.28" stroke="#000" stroke-width="0.8"/>
<line x1="287.10" y1="160.28" x2="288.60" y2="160.28" stroke="#000" stroke-width="0.8"/>
<text x="290.60" y="162.68" font-size="8">0</text>
<line x1="278.40" y1="178.51" x2="279.90" y2="178.51" stroke="#000" stroke-width="0.8"/>
<line x1="287.10" y1="178.51" x2="288.60" y2="178.51" stroke="#000" stroke-width="0.8"/>
<text x="290.60" y="180.91" font-size="8">-20</text>
<text x="311.80" y="164.50" font-size="7.9" text-anchor="middle" transform="rotate(-90 311.80 164.50)">GCaMP5 (ΔF/F<tspan font-size="70%" dy="1.5">o</tspan><tspan dy="-1.5">, %)</tspan></text>
<text x="338.30" y="14.00" font-size="20">b</text>
<polyline points="378.5,16.6 438.7,16.6 444.9,8.4 609.6,8.4" fill="none" stroke="#3a3333" stroke-width="1.05" stroke-linejoin="round"/>
<text x="396.00" y="14.90" font-size="8.3">15 °C</text>
<text x="448.60" y="6.20" font-size="8.3">28 °C</text>
<text x="378.50" y="29.40" font-size="10.5" fill="#e3131d" font-weight="bold">AFD neurons</text>
<rect x="378.90" y="33.30" width="231.30" height="4.58" fill="url(#hg36)"/>
<rect x="378.90" y="37.08" width="231.30" height="4.58" fill="url(#hg37)"/>
<rect x="378.90" y="40.87" width="231.30" height="4.58" fill="url(#hg38)"/>
<rect x="378.90" y="44.65" width="231.30" height="4.58" fill="url(#hg39)"/>
<rect x="378.90" y="48.44" width="231.30" height="4.58" fill="url(#hg40)"/>
<rect x="378.90" y="52.22" width="231.30" height="4.58" fill="url(#hg41)"/>
<rect x="378.90" y="56.01" width="231.30" height="4.58" fill="url(#hg42)"/>
<rect x="378.90" y="59.79" width="231.30" height="4.58" fill="url(#hg43)"/>
<rect x="378.90" y="63.58" width="231.30" height="4.58" fill="url(#hg44)"/>
<rect x="378.90" y="67.36" width="231.30" height="4.58" fill="url(#hg45)"/>
<rect x="378.90" y="71.15" width="231.30" height="4.58" fill="url(#hg46)"/>
<rect x="378.90" y="74.93" width="231.30" height="4.58" fill="url(#hg47)"/>
<rect x="378.90" y="78.72" width="231.30" height="3.78" fill="url(#hg48)"/>
<rect x="378.90" y="33.30" width="231.30" height="49.20" fill="url(#tx49)"/>
<rect x="378.90" y="33.30" width="231.30" height="49.20" fill="none" stroke="#000" stroke-width="1.3"/>
<text x="376.20" y="39.80" font-size="8.4" text-anchor="end">13</text>
<text x="376.20" y="82.70" font-size="8.4" text-anchor="end">1</text>
<line x1="378.90" y1="82.50" x2="378.90" y2="88.00" stroke="#000" stroke-width="1.2"/>
<line x1="610.20" y1="82.50" x2="610.20" y2="88.00" stroke="#000" stroke-width="1.2"/>
<text x="378.90" y="97.30" font-size="9" text-anchor="middle">1</text>
<text x="608.30" y="97.30" font-size="9" text-anchor="middle">240</text>
<text x="483.40" y="96.90" font-size="9.3">Time (s)</text>
<rect x="621.70" y="32.50" width="9.50" height="49.60" fill="url(#cb50)" stroke="#000" stroke-width="1.2"/>
<line x1="621.70" y1="32.50" x2="623.20" y2="32.50" stroke="#000" stroke-width="0.8"/>
<line x1="629.70" y1="32.50" x2="631.20" y2="32.50" stroke="#000" stroke-width="0.8"/>
<text x="633.80" y="34.90" font-size="8">200</text>
<line x1="621.70" y1="42.52" x2="623.20" y2="42.52" stroke="#000" stroke-width="0.8"/>
<line x1="629.70" y1="42.52" x2="631.20" y2="42.52" stroke="#000" stroke-width="0.8"/>
<line x1="621.70" y1="52.55" x2="623.20" y2="52.55" stroke="#000" stroke-width="0.8"/>
<line x1="629.70" y1="52.55" x2="631.20" y2="52.55" stroke="#000" stroke-width="0.8"/>
<text x="633.80" y="54.95" font-size="8">100</text>
<line x1="621.70" y1="62.57" x2="623.20" y2="62.57" stroke="#000" stroke-width="0.8"/>
<line x1="629.70" y1="62.57" x2="631.20" y2="62.57" stroke="#000" stroke-width="0.8"/>
<line x1="621.70" y1="72.60" x2="623.20" y2="72.60" stroke="#000" stroke-width="0.8"/>
<line x1="629.70" y1="72.60" x2="631.20" y2="72.60" stroke="#000" stroke-width="0.8"/>
<text x="633.80" y="75.00" font-size="8">0</text>
<text x="657.60" y="59.30" font-size="7.9" text-anchor="middle" transform="rotate(-90 657.60 59.30)">GCaMP5 (ΔF/F<tspan font-size="70%" dy="1.5">o</tspan><tspan dy="-1.5">, %)</tspan></text>
<polyline points="379.2,121.0 425.8,121.0 430.0,110.7 562.9,110.7 567.0,120.8 609.2,120.8" fill="none" stroke="#3a3333" stroke-width="1.05" stroke-linejoin="round"/>
<text x="396.20" y="117.00" font-size="8.3">20 °C</text>
<text x="448.30" y="106.90" font-size="8.3">28 °C</text>
<text x="579.00" y="116.70" font-size="8.3">20 °C</text>
<text x="378.40" y="133.40" font-size="10.5" fill="#1b9de2" font-weight="bold">AMsh glia</text>
<rect x="378.80" y="137.50" width="231.60" height="3.16" fill="url(#hg51)"/>
<rect x="378.80" y="139.86" width="231.60" height="3.16" fill="url(#hg52)"/>
<rect x="378.80" y="142.21" width="231.60" height="3.16" fill="url(#hg53)"/>
<rect x="378.80" y="144.57" width="231.60" height="3.16" fill="url(#hg54)"/>
<rect x="378.80" y="146.93" width="231.60" height="3.16" fill="url(#hg55)"/>
<rect x="378.80" y="149.29" width="231.60" height="3.16" fill="url(#hg56)"/>
<rect x="378.80" y="151.64" width="231.60" height="3.16" fill="url(#hg57)"/>
<rect x="378.80" y="154.00" width="231.60" height="3.16" fill="url(#hg58)"/>
<rect x="378.80" y="156.36" width="231.60" height="3.16" fill="url(#hg59)"/>
<rect x="378.80" y="158.71" width="231.60" height="3.16" fill="url(#hg60)"/>
<rect x="378.80" y="161.07" width="231.60" height="3.16" fill="url(#hg61)"/>
<rect x="378.80" y="163.43" width="231.60" height="3.16" fill="url(#hg62)"/>
<rect x="378.80" y="165.79" width="231.60" height="3.16" fill="url(#hg63)"/>
<rect x="378.80" y="168.14" width="231.60" height="3.16" fill="url(#hg64)"/>
<rect x="378.80" y="170.50" width="231.60" height="3.16" fill="url(#hg65)"/>
<rect x="378.80" y="172.86" width="231.60" height="3.16" fill="url(#hg66)"/>
<rect x="378.80" y="175.21" width="231.60" height="3.16" fill="url(#hg67)"/>
<rect x="378.80" y="177.57" width="231.60" height="3.16" fill="url(#hg68)"/>
<rect x="378.80" y="179.93" width="231.60" height="3.16" fill="url(#hg69)"/>
<rect x="378.80" y="182.29" width="231.60" height="3.16" fill="url(#hg70)"/>
<rect x="378.80" y="184.64" width="231.60" height="2.36" fill="url(#hg71)"/>
<rect x="378.80" y="137.50" width="231.60" height="49.50" fill="url(#tx72)"/>
<rect x="378.80" y="137.50" width="231.60" height="49.50" fill="none" stroke="#000" stroke-width="1.3"/>
<text x="376.80" y="144.20" font-size="8.4" text-anchor="end">21</text>
<text x="376.80" y="186.30" font-size="8.4" text-anchor="end">1</text>
<line x1="378.80" y1="187.00" x2="378.80" y2="192.50" stroke="#000" stroke-width="1.2"/>
<line x1="610.40" y1="187.00" x2="610.40" y2="192.50" stroke="#000" stroke-width="1.2"/>
<text x="378.80" y="198.90" font-size="9" text-anchor="middle">1</text>
<text x="607.60" y="198.90" font-size="9" text-anchor="middle">600</text>
<text x="484.40" y="198.20" font-size="9.3">Time (s)</text>
<rect x="621.70" y="137.20" width="9.60" height="49.40" fill="url(#cb73)" stroke="#000" stroke-width="1.2"/>
<line x1="621.70" y1="151.07" x2="623.20" y2="151.07" stroke="#000" stroke-width="0.8"/>
<line x1="629.80" y1="151.07" x2="631.30" y2="151.07" stroke="#000" stroke-width="0.8"/>
<text x="633.80" y="153.47" font-size="8">50</text>
<line x1="621.70" y1="172.73" x2="623.20" y2="172.73" stroke="#000" stroke-width="0.8"/>
<line x1="629.80" y1="172.73" x2="631.30" y2="172.73" stroke="#000" stroke-width="0.8"/>
<text x="633.80" y="175.13" font-size="8">0</text>
<text x="658.70" y="160.00" font-size="7.9" text-anchor="middle" transform="rotate(-90 658.70 160.00)">GCaMP5 (ΔF/F<tspan font-size="70%" dy="1.5">o</tspan><tspan dy="-1.5">, %)</tspan></text>
<text x="-1.50" y="231.00" font-size="20">c</text>
<text x="20.10" y="231.80" font-size="10.5" fill="#1b9de2" font-weight="bold">AMsh glia</text>
<polyline points="54.3,247.4 77.3,247.4 80.3,255.4 213.3,255.4" fill="none" stroke="#3a3333" stroke-width="1.05" stroke-linejoin="round"/>
<text x="42.60" y="244.40" font-size="8.3">20 °C</text>
<text x="133.10" y="251.70" font-size="8.3">10 °C</text>
<polygon points="56.3,368.5 57.1,367.5 57.8,368.4 58.6,368.2 59.3,369.8 60.1,370.9 60.8,369.4 61.6,367.6 62.3,368.1 63.1,366.1 63.9,366.0 64.6,368.2 65.4,368.7 66.1,368.4 66.9,371.2 67.6,370.8 68.4,370.5 69.1,369.3 69.9,369.9 70.7,367.3 71.4,367.2 72.2,367.3 72.9,367.4 73.7,369.2 74.4,371.1 75.2,368.9 75.9,367.4 76.7,367.9 77.5,365.3 78.2,363.6 79.0,366.8 79.7,364.8 80.5,365.1 81.2,364.3 82.0,363.8 82.7,362.9 83.5,361.8 84.3,361.1 85.0,360.1 85.8,358.0 86.5,357.4 87.3,354.9 88.0,353.1 88.8,351.0 89.5,350.5 90.3,348.5 91.1,346.2 91.8,345.1 92.6,342.3 93.3,342.9 94.1,341.0 94.8,340.0 95.6,339.6 96.3,335.9 97.1,334.2 97.9,329.6 98.6,326.6 99.4,324.1 100.1,318.5 100.9,315.3 101.6,310.2 102.4,304.9 103.1,301.7 103.9,299.0 104.7,298.3 105.4,296.0 106.2,294.3 106.9,293.2 107.7,290.9 108.4,288.9 109.2,288.0 109.9,284.7 110.7,285.5 111.5,284.0 112.2,282.1 113.0,278.8 113.7,278.1 114.5,276.2 115.2,275.5 116.0,273.5 116.7,271.6 117.5,268.9 118.3,267.8 119.0,267.4 119.8,267.0 120.5,264.8 121.3,264.8 122.0,265.0 122.8,263.8 123.5,262.1 124.3,264.2 125.1,264.3 125.8,265.0 126.6,265.9 127.3,267.2 128.1,267.5 128.8,268.9 129.6,266.3 130.3,268.1 131.1,269.4 131.9,271.6 132.6,273.1 133.4,275.1 134.1,276.0 134.9,277.4 135.6,279.3 136.4,282.5 137.1,282.9 137.9,282.7 138.7,284.1 139.4,285.7 140.2,285.4 140.9,287.2 141.7,288.5 142.4,289.3 143.2,290.1 143.9,291.8 144.7,292.0 145.5,294.3 146.2,295.0 147.0,295.1 147.7,296.7 148.5,299.6 149.2,300.9 150.0,300.9 150.8,302.0 151.5,302.9 152.3,304.3 153.0,304.4 153.8,306.6 154.5,306.8 155.3,306.1 156.0,308.5 156.8,309.5 157.6,309.7 158.3,310.0 159.1,309.6 159.8,311.8 160.6,312.6 161.3,312.3 162.1,313.1 162.8,314.1 163.6,313.3 164.4,316.0 165.1,315.9 165.9,315.0 166.6,317.9 167.4,317.5 168.1,316.4 168.9,316.8 169.6,315.9 170.4,316.3 171.2,317.7 171.9,317.0 172.7,317.3 173.4,318.1 174.2,320.2 174.9,320.3 175.7,318.1 176.4,319.2 177.2,318.2 178.0,318.7 178.7,319.4 179.5,320.4 180.2,320.0 181.0,319.3 181.7,321.5 182.5,320.4 183.2,321.5 184.0,321.6 184.8,321.0 185.5,322.6 186.3,321.0 187.0,321.3 187.8,320.2 188.5,321.4 189.3,320.6 190.0,321.1 190.8,321.6 191.6,321.3 192.3,322.4 193.1,321.6 193.8,321.4 194.6,321.5 195.3,322.3 196.1,321.6 196.8,320.6 197.6,322.0 198.4,323.0 199.1,322.7 199.9,322.9 200.6,322.1 201.4,322.5 202.1,321.2 202.9,321.8 203.6,321.3 204.4,323.8 205.2,323.6 205.9,322.1 206.7,323.0 207.4,323.1 208.2,324.1 208.9,323.1 209.7,321.3 210.4,322.4 211.2,324.0 212.0,323.0 212.7,322.8 213.5,322.8 214.2,323.2 215.0,322.5 215.0,341.6 214.2,341.9 213.5,342.2 212.7,341.4 212.0,341.1 211.2,342.3 210.4,341.7 209.7,340.7 208.9,341.8 208.2,341.3 207.4,341.4 206.7,341.7 205.9,341.5 205.2,341.4 204.4,341.7 203.6,340.9 202.9,340.4 202.1,340.6 201.4,342.3 200.6,341.4 199.9,342.3 199.1,340.8 198.4,340.9 197.6,342.0 196.8,339.1 196.1,341.2 195.3,340.0 194.6,339.6 193.8,340.7 193.1,339.9 192.3,339.4 191.6,340.1 190.8,340.9 190.0,339.1 189.3,339.3 188.5,338.3 187.8,339.0 187.0,339.1 186.3,340.1 185.5,341.0 184.8,339.4 184.0,339.0 183.2,340.3 182.5,339.7 181.7,338.9 181.0,339.2 180.2,337.6 179.5,338.5 178.7,338.6 178.0,337.3 177.2,336.9 176.4,337.7 175.7,336.3 174.9,336.9 174.2,337.3 173.4,336.4 172.7,335.5 171.9,335.9 171.2,335.5 170.4,335.5 169.6,334.0 168.9,335.7 168.1,334.3 167.4,336.1 166.6,336.2 165.9,335.7 165.1,334.8 164.4,335.3 163.6,334.4 162.8,333.5 162.1,332.7 161.3,334.1 160.6,334.7 159.8,333.5 159.1,333.0 158.3,332.5 157.6,332.0 156.8,331.8 156.0,331.0 155.3,331.4 154.5,332.0 153.8,330.9 153.0,330.9 152.3,328.6 151.5,330.2 150.8,328.0 150.0,329.8 149.2,329.9 148.5,328.7 147.7,328.5 147.0,325.2 146.2,325.5 145.5,324.5 144.7,324.2 143.9,324.1 143.2,323.2 142.4,323.5 141.7,322.7 140.9,321.6 140.2,320.5 139.4,321.9 138.7,321.2 137.9,319.7 137.1,318.9 136.4,318.8 135.6,317.0 134.9,315.2 134.1,314.1 133.4,314.2 132.6,311.7 131.9,308.4 131.1,307.9 130.3,305.3 129.6,306.3 128.8,306.3 128.1,306.6 127.3,305.8 126.6,304.9 125.8,304.9 125.1,305.9 124.3,304.2 123.5,303.6 122.8,304.4 122.0,305.4 121.3,303.2 120.5,302.4 119.8,303.8 119.0,304.0 118.3,304.7 117.5,305.0 116.7,308.4 116.0,308.1 115.2,310.2 114.5,310.9 113.7,312.1 113.0,312.8 112.2,313.0 111.5,315.0 110.7,316.7 109.9,316.9 109.2,316.9 108.4,319.1 107.7,319.4 106.9,320.4 106.2,321.5 105.4,324.6 104.7,325.4 103.9,326.1 103.1,326.8 102.4,330.3 101.6,334.6 100.9,338.5 100.1,341.1 99.4,345.1 98.6,349.0 97.9,350.7 97.1,354.3 96.3,356.4 95.6,359.0 94.8,360.4 94.1,359.7 93.3,359.0 92.6,360.7 91.8,361.7 91.1,362.7 90.3,364.4 89.5,363.9 88.8,364.9 88.0,366.5 87.3,368.4 86.5,368.1 85.8,369.9 85.0,370.5 84.3,370.2 83.5,371.5 82.7,371.8 82.0,371.5 81.2,371.8 80.5,372.4 79.7,370.9 79.0,372.7 78.2,371.0 77.5,371.7 76.7,374.3 75.9,373.8 75.2,376.6 74.4,376.9 73.7,375.5 72.9,374.0 72.2,374.1 71.4,375.1 70.7,375.4 69.9,377.1 69.1,376.0 68.4,377.3 67.6,376.3 66.9,377.0 66.1,376.8 65.4,376.8 64.6,375.0 63.9,374.0 63.1,374.1 62.3,376.0 61.6,376.4 60.8,378.1 60.1,377.9 59.3,378.2 58.6,376.7 57.8,375.2 57.1,375.8 56.3,375.5" fill="#d3d5f9"/>
<polygon points="56.3,362.9 57.1,364.0 57.8,363.3 58.6,363.2 59.3,363.2 60.1,363.2 60.8,364.3 61.6,364.1 62.3,364.0 63.1,363.5 63.9,365.1 64.6,364.6 65.4,365.0 66.1,364.2 66.9,364.2 67.6,365.5 68.4,364.6 69.1,363.3 69.9,364.5 70.7,364.0 71.4,365.5 72.2,366.2 72.9,365.3 73.7,365.9 74.4,365.5 75.2,366.1 75.9,366.6 76.7,365.9 77.5,365.5 78.2,365.6 79.0,365.3 79.7,365.0 80.5,364.4 81.2,364.8 82.0,364.3 82.7,364.9 83.5,364.1 84.3,363.4 85.0,362.6 85.8,362.3 86.5,362.5 87.3,362.5 88.0,361.3 88.8,361.0 89.5,359.9 90.3,358.6 91.1,357.6 91.8,356.7 92.6,354.8 93.3,353.8 94.1,354.6 94.8,353.5 95.6,352.7 96.3,351.9 97.1,351.1 97.9,350.6 98.6,350.6 99.4,348.7 100.1,348.1 100.9,347.5 101.6,347.4 102.4,345.8 103.1,345.2 103.9,343.1 104.7,343.9 105.4,343.1 106.2,342.3 106.9,342.3 107.7,340.6 108.4,339.6 109.2,338.2 109.9,338.4 110.7,337.2 111.5,336.0 112.2,335.3 113.0,334.3 113.7,333.7 114.5,333.1 115.2,332.8 116.0,331.4 116.7,330.2 117.5,329.3 118.3,328.1 119.0,327.4 119.8,327.0 120.5,326.6 121.3,325.0 122.0,324.8 122.8,324.9 123.5,324.6 124.3,324.6 125.1,324.9 125.8,324.8 126.6,324.7 127.3,324.6 128.1,325.3 128.8,324.7 129.6,324.6 130.3,325.3 131.1,324.1 131.9,324.0 132.6,324.8 133.4,323.5 134.1,323.2 134.9,323.6 135.6,323.5 136.4,323.5 137.1,324.0 137.9,323.5 138.7,323.6 139.4,324.5 140.2,324.6 140.9,324.1 141.7,323.3 142.4,324.4 143.2,323.4 143.9,322.6 144.7,323.2 145.5,323.1 146.2,324.8 147.0,324.8 147.7,324.3 148.5,324.5 149.2,324.4 150.0,323.9 150.8,323.8 151.5,323.8 152.3,324.4 153.0,324.2 153.8,324.3 154.5,325.4 155.3,324.8 156.0,325.1 156.8,325.0 157.6,324.9 158.3,324.8 159.1,324.7 159.8,325.3 160.6,325.7 161.3,326.6 162.1,326.1 162.8,326.8 163.6,326.4 164.4,326.2 165.1,325.4 165.9,326.0 166.6,325.1 167.4,324.4 168.1,323.6 168.9,323.9 169.6,323.6 170.4,323.7 171.2,324.1 171.9,324.8 172.7,324.8 173.4,323.8 174.2,323.3 174.9,322.8 175.7,324.3 176.4,323.8 177.2,323.9 178.0,323.5 178.7,324.3 179.5,323.2 180.2,324.7 181.0,324.2 181.7,324.4 182.5,323.8 183.2,323.7 184.0,323.6 184.8,324.1 185.5,324.1 186.3,324.7 187.0,324.2 187.8,323.7 188.5,323.9 189.3,324.7 190.0,324.3 190.8,324.2 191.6,324.8 192.3,324.0 193.1,324.4 193.8,324.7 194.6,324.1 195.3,325.3 196.1,325.3 196.8,323.6 197.6,324.0 198.4,323.3 199.1,324.4 199.9,324.4 200.6,324.3 201.4,324.4 202.1,324.6 202.9,325.2 203.6,324.1 204.4,325.5 205.2,324.7 205.9,325.5 206.7,325.7 207.4,325.1 208.2,324.4 208.9,324.2 209.7,324.7 210.4,324.3 211.2,324.8 212.0,325.8 212.7,324.9 213.5,324.6 214.2,325.3 215.0,324.5 215.0,334.5 214.2,335.7 213.5,335.5 212.7,334.3 212.0,335.7 211.2,335.4 210.4,334.6 209.7,333.6 208.9,334.4 208.2,335.2 207.4,335.5 206.7,335.7 205.9,335.0 205.2,335.1 204.4,335.0 203.6,334.2 202.9,334.5 202.1,334.4 201.4,334.6 200.6,333.5 199.9,333.3 199.1,333.8 198.4,333.9 197.6,333.4 196.8,334.0 196.1,334.5 195.3,335.2 194.6,333.9 193.8,334.9 193.1,334.4 192.3,334.2 191.6,333.6 190.8,333.7 190.0,334.5 189.3,333.7 188.5,333.1 187.8,333.7 187.0,333.3 186.3,333.4 185.5,333.6 184.8,332.8 184.0,333.6 183.2,332.9 182.5,333.1 181.7,333.4 181.0,334.1 180.2,333.9 179.5,333.1 178.7,332.8 178.0,332.5 177.2,333.6 176.4,332.9 175.7,333.8 174.9,332.1 174.2,333.4 173.4,333.6 172.7,335.0 171.9,334.5 171.2,333.9 170.4,332.3 169.6,332.4 168.9,332.8 168.1,332.8 167.4,333.5 166.6,335.0 165.9,334.5 165.1,334.3 164.4,334.8 163.6,336.1 162.8,335.9 162.1,335.0 161.3,335.9 160.6,335.3 159.8,335.1 159.1,333.6 158.3,334.6 157.6,333.7 156.8,334.0 156.0,334.2 155.3,334.0 154.5,333.7 153.8,333.1 153.0,333.6 152.3,333.4 151.5,333.3 150.8,332.4 150.0,333.7 149.2,332.2 148.5,333.6 147.7,333.0 147.0,334.0 146.2,332.6 145.5,332.6 144.7,331.6 143.9,332.1 143.2,332.3 142.4,332.8 141.7,332.3 140.9,333.1 140.2,333.7 139.4,332.2 138.7,332.4 137.9,332.7 137.1,332.9 136.4,332.5 135.6,331.4 134.9,332.1 134.1,332.5 133.4,331.7 132.6,333.3 131.9,333.5 131.1,332.6 130.3,332.8 129.6,332.9 128.8,333.6 128.1,333.4 127.3,332.6 126.6,333.4 125.8,333.4 125.1,334.0 124.3,333.6 123.5,332.5 122.8,334.3 122.0,333.1 121.3,333.9 120.5,335.2 119.8,335.8 119.0,335.2 118.3,336.9 117.5,336.9 116.7,338.2 116.0,340.7 115.2,340.5 114.5,341.9 113.7,342.7 113.0,342.1 112.2,344.5 111.5,344.8 110.7,346.2 109.9,346.1 109.2,346.7 108.4,348.5 107.7,349.0 106.9,350.5 106.2,350.7 105.4,350.8 104.7,351.7 103.9,352.3 103.1,352.9 102.4,354.1 101.6,355.0 100.9,355.9 100.1,356.4 99.4,357.5 98.6,358.5 97.9,358.8 97.1,357.9 96.3,359.9 95.6,359.9 94.8,361.7 94.1,361.7 93.3,361.1 92.6,362.5 91.8,364.7 91.1,364.9 90.3,366.5 89.5,367.4 88.8,369.0 88.0,369.4 87.3,369.5 86.5,370.7 85.8,370.2 85.0,369.6 84.3,370.9 83.5,371.3 82.7,372.4 82.0,372.3 81.2,372.3 80.5,372.0 79.7,371.5 79.0,372.3 78.2,371.5 77.5,372.7 76.7,373.0 75.9,373.1 75.2,372.8 74.4,373.1 73.7,372.5 72.9,372.1 72.2,371.9 71.4,371.6 70.7,371.3 69.9,370.3 69.1,370.3 68.4,370.6 67.6,371.2 66.9,370.9 66.1,371.2 65.4,371.6 64.6,371.4 63.9,371.7 63.1,370.3 62.3,371.1 61.6,370.2 60.8,370.1 60.1,370.2 59.3,370.2 58.6,369.7 57.8,369.6 57.1,368.9 56.3,369.9" fill="#d9d9d9"/>
<polygon points="56.3,362.6 57.1,362.3 57.8,362.5 58.6,362.2 59.3,363.5 60.1,364.0 60.8,364.7 61.6,364.0 62.3,363.6 63.1,364.4 63.9,363.6 64.6,364.2 65.4,363.9 66.1,364.1 66.9,363.6 67.6,363.9 68.4,364.7 69.1,364.8 69.9,365.1 70.7,364.7 71.4,363.5 72.2,364.2 72.9,364.1 73.7,363.6 74.4,363.6 75.2,363.8 75.9,364.2 76.7,364.5 77.5,364.3 78.2,364.1 79.0,364.7 79.7,364.5 80.5,364.9 81.2,364.7 82.0,364.6 82.7,363.8 83.5,362.0 84.3,361.0 85.0,359.3 85.8,358.3 86.5,358.7 87.3,357.2 88.0,356.6 88.8,356.1 89.5,354.8 90.3,354.3 91.1,353.7 91.8,351.4 92.6,351.0 93.3,349.0 94.1,347.6 94.8,346.5 95.6,345.8 96.3,345.4 97.1,344.4 97.9,344.3 98.6,344.4 99.4,343.3 100.1,342.5 100.9,341.0 101.6,340.0 102.4,339.9 103.1,338.5 103.9,336.8 104.7,337.5 105.4,337.5 106.2,336.1 106.9,335.1 107.7,334.2 108.4,334.1 109.2,333.6 109.9,332.5 110.7,331.8 111.5,331.3 112.2,330.7 113.0,329.8 113.7,329.9 114.5,329.5 115.2,329.8 116.0,328.3 116.7,327.8 117.5,327.2 118.3,327.8 119.0,327.3 119.8,326.6 120.5,325.9 121.3,325.9 122.0,325.1 122.8,324.7 123.5,326.6 124.3,328.3 125.1,328.5 125.8,328.5 126.6,328.4 127.3,329.5 128.1,329.1 128.8,329.6 129.6,328.9 130.3,330.8 131.1,329.9 131.9,331.3 132.6,331.8 133.4,331.9 134.1,330.6 134.9,331.1 135.6,331.7 136.4,332.5 137.1,331.4 137.9,332.6 138.7,332.3 139.4,332.2 140.2,332.2 140.9,332.9 141.7,333.6 142.4,332.7 143.2,333.0 143.9,332.7 144.7,333.9 145.5,333.1 146.2,334.0 147.0,335.1 147.7,335.1 148.5,333.8 149.2,334.3 150.0,335.2 150.8,334.9 151.5,334.2 152.3,334.9 153.0,335.4 153.8,335.9 154.5,336.0 155.3,337.0 156.0,336.9 156.8,337.5 157.6,338.5 158.3,337.3 159.1,338.1 159.8,337.9 160.6,337.4 161.3,338.4 162.1,337.8 162.8,339.1 163.6,339.0 164.4,338.7 165.1,338.6 165.9,339.3 166.6,339.6 167.4,340.2 168.1,339.2 168.9,339.7 169.6,339.0 170.4,339.9 171.2,340.1 171.9,340.6 172.7,341.4 173.4,341.5 174.2,342.4 174.9,342.3 175.7,340.8 176.4,340.1 177.2,341.9 178.0,341.9 178.7,342.6 179.5,342.7 180.2,342.5 181.0,341.9 181.7,343.1 182.5,343.6 183.2,344.1 184.0,344.6 184.8,344.2 185.5,344.7 186.3,345.6 187.0,345.7 187.8,345.8 188.5,345.6 189.3,346.8 190.0,345.8 190.8,345.7 191.6,345.5 192.3,346.7 193.1,345.7 193.8,346.3 194.6,346.5 195.3,346.6 196.1,346.2 196.8,345.7 197.6,347.4 198.4,347.4 199.1,347.1 199.9,347.5 200.6,347.4 201.4,347.7 202.1,346.6 202.9,347.9 203.6,347.8 204.4,349.3 205.2,349.7 205.9,348.5 206.7,348.9 207.4,349.1 208.2,348.0 208.9,347.7 209.7,347.2 210.4,348.2 211.2,348.3 212.0,349.0 212.7,348.7 213.5,349.6 214.2,349.5 215.0,350.7 215.0,360.0 214.2,359.1 213.5,359.4 212.7,358.4 212.0,358.7 211.2,358.9 210.4,358.6 209.7,358.1 208.9,358.2 208.2,357.8 207.4,358.5 206.7,358.9 205.9,358.0 205.2,359.9 204.4,358.8 203.6,358.3 202.9,357.6 202.1,357.3 201.4,356.9 200.6,357.4 199.9,356.9 199.1,356.9 198.4,357.4 197.6,356.8 196.8,355.4 196.1,355.5 195.3,356.3 194.6,355.9 193.8,356.2 193.1,355.0 192.3,356.4 191.6,355.2 190.8,356.2 190.0,355.6 189.3,356.1 188.5,354.7 187.8,355.0 187.0,355.0 186.3,354.4 185.5,354.5 184.8,353.7 184.0,354.2 183.2,354.8 182.5,353.7 181.7,352.8 181.0,352.2 180.2,352.8 179.5,351.5 178.7,351.8 178.0,350.9 177.2,351.7 176.4,349.9 175.7,350.3 174.9,351.7 174.2,350.9 173.4,350.8 172.7,351.4 171.9,349.6 171.2,350.4 170.4,349.5 169.6,349.4 168.9,349.6 168.1,348.4 167.4,349.5 166.6,348.0 165.9,348.9 165.1,348.0 164.4,347.6 163.6,347.6 162.8,347.8 162.1,347.5 161.3,347.6 160.6,347.2 159.8,347.1 159.1,347.2 158.3,346.6 157.6,347.2 156.8,347.0 156.0,346.5 155.3,346.4 154.5,345.4 153.8,344.5 153.0,344.6 152.3,344.4 151.5,343.5 150.8,344.2 150.0,343.8 149.2,343.4 148.5,343.0 147.7,343.9 147.0,344.4 146.2,343.3 145.5,341.9 144.7,342.4 143.9,341.4 143.2,341.6 142.4,341.5 141.7,341.7 140.9,341.4 140.2,340.7 139.4,341.5 138.7,341.1 137.9,341.5 137.1,340.9 136.4,341.3 135.6,340.7 134.9,340.1 134.1,339.1 133.4,340.3 132.6,339.7 131.9,339.2 131.1,339.4 130.3,338.4 129.6,337.8 128.8,338.4 128.1,337.3 127.3,337.3 126.6,336.1 125.8,336.9 125.1,336.1 124.3,337.2 123.5,335.8 122.8,333.9 122.0,333.7 121.3,334.8 120.5,334.8 119.8,334.3 119.0,335.6 118.3,336.1 117.5,335.4 116.7,335.7 116.0,336.6 115.2,337.3 114.5,337.8 113.7,338.6 113.0,338.2 112.2,339.4 111.5,338.6 110.7,339.3 109.9,340.8 109.2,342.0 108.4,342.6 107.7,342.8 106.9,342.9 106.2,343.7 105.4,344.8 104.7,345.2 103.9,345.8 103.1,346.6 102.4,347.6 101.6,348.1 100.9,350.1 100.1,351.2 99.4,351.0 98.6,351.7 97.9,351.9 97.1,352.6 96.3,353.1 95.6,354.1 94.8,354.1 94.1,355.7 93.3,356.7 92.6,358.1 91.8,359.6 91.1,361.1 90.3,361.6 89.5,362.8 88.8,363.7 88.0,364.0 87.3,365.0 86.5,366.3 85.8,366.4 85.0,367.1 84.3,367.7 83.5,369.1 82.7,370.7 82.0,370.8 81.2,371.5 80.5,371.1 79.7,371.2 79.0,371.3 78.2,371.9 77.5,371.4 76.7,371.7 75.9,371.4 75.2,370.7 74.4,370.5 73.7,370.1 72.9,370.7 72.2,371.0 71.4,371.0 70.7,371.3 69.9,372.3 69.1,371.6 68.4,371.0 67.6,370.8 66.9,370.0 66.1,371.1 65.4,371.1 64.6,370.6 63.9,370.2 63.1,371.1 62.3,369.7 61.6,370.7 60.8,370.9 60.1,369.9 59.3,369.4 58.6,368.8 57.8,368.8 57.1,369.4 56.3,368.6" fill="#fbd3d3"/>
<polyline points="56.3,366.2 57.1,365.8 57.8,365.6 58.6,365.3 59.3,366.2 60.1,366.7 60.8,367.2 61.6,367.4 62.3,366.8 63.1,367.4 63.9,367.2 64.6,367.6 65.4,367.7 66.1,367.6 66.9,367.0 67.6,367.0 68.4,368.0 69.1,368.2 69.9,368.6 70.7,367.7 71.4,367.3 72.2,367.1 72.9,367.0 73.7,367.1 74.4,366.9 75.2,367.0 75.9,368.0 76.7,367.7 77.5,368.1 78.2,368.0 79.0,368.3 79.7,368.2 80.5,368.1 81.2,367.8 82.0,367.6 82.7,367.6 83.5,366.0 84.3,364.7 85.0,363.3 85.8,362.6 86.5,362.1 87.3,360.9 88.0,360.8 88.8,359.5 89.5,358.6 90.3,358.2 91.1,357.2 91.8,355.7 92.6,354.7 93.3,353.3 94.1,351.7 94.8,350.6 95.6,349.9 96.3,349.1 97.1,348.7 97.9,348.3 98.6,347.9 99.4,347.1 100.1,346.9 100.9,345.6 101.6,344.1 102.4,343.6 103.1,342.5 103.9,341.2 104.7,341.5 105.4,341.2 106.2,339.8 106.9,338.8 107.7,338.2 108.4,338.4 109.2,337.9 109.9,336.7 110.7,335.7 111.5,335.0 112.2,335.3 113.0,334.3 113.7,334.2 114.5,333.4 115.2,333.7 116.0,332.3 116.7,331.9 117.5,331.3 118.3,331.7 119.0,331.0 119.8,330.6 120.5,330.1 121.3,330.1 122.0,329.4 122.8,329.4 123.5,331.2 124.3,333.2 125.1,332.2 125.8,332.4 126.6,332.3 127.3,333.3 128.1,333.2 128.8,333.6 129.6,333.7 130.3,334.7 131.1,334.7 131.9,335.0 132.6,335.6 133.4,336.2 134.1,335.1 134.9,335.9 135.6,336.1 136.4,336.4 137.1,336.2 137.9,336.9 138.7,336.8 139.4,337.0 140.2,336.5 140.9,337.6 141.7,337.8 142.4,337.7 143.2,337.0 143.9,337.4 144.7,337.8 145.5,337.8 146.2,338.5 147.0,339.4 147.7,339.3 148.5,338.7 149.2,338.7 150.0,339.5 150.8,339.4 151.5,339.1 152.3,340.0 153.0,340.0 153.8,340.5 154.5,341.1 155.3,341.4 156.0,341.8 156.8,341.9 157.6,342.5 158.3,342.4 159.1,342.9 159.8,342.2 160.6,342.1 161.3,343.1 162.1,342.5 162.8,343.2 163.6,343.2 164.4,343.1 165.1,343.5 165.9,343.9 166.6,344.0 167.4,344.6 168.1,343.9 168.9,344.7 169.6,344.2 170.4,344.9 171.2,345.3 171.9,345.5 172.7,346.3 173.4,346.6 174.2,346.6 174.9,346.5 175.7,345.9 176.4,345.4 177.2,346.7 178.0,346.8 178.7,347.6 179.5,347.0 180.2,347.6 181.0,347.1 181.7,347.5 182.5,348.5 183.2,349.5 184.0,349.7 184.8,349.0 185.5,349.9 186.3,350.0 187.0,350.3 187.8,350.7 188.5,350.3 189.3,351.1 190.0,350.9 190.8,351.0 191.6,350.7 192.3,351.1 193.1,350.7 193.8,351.3 194.6,351.4 195.3,351.5 196.1,351.2 196.8,350.9 197.6,352.1 198.4,352.7 199.1,352.5 199.9,352.0 200.6,352.1 201.4,352.6 202.1,351.8 202.9,352.5 203.6,353.3 204.4,353.9 205.2,354.4 205.9,353.6 206.7,354.2 207.4,353.6 208.2,353.1 208.9,352.7 209.7,352.8 210.4,353.5 211.2,353.7 212.0,353.5 212.7,353.7 213.5,354.5 214.2,354.4 215.0,355.4" fill="none" stroke="#ff1a1a" stroke-width="1.8" stroke-linejoin="round"/>
<polyline points="56.3,366.4 57.1,366.5 57.8,366.0 58.6,366.5 59.3,366.7 60.1,366.8 60.8,367.5 61.6,367.5 62.3,367.4 63.1,367.2 63.9,368.1 64.6,368.3 65.4,368.7 66.1,368.0 66.9,367.7 67.6,368.5 68.4,367.7 69.1,367.2 69.9,367.4 70.7,367.5 71.4,368.3 72.2,369.0 72.9,368.7 73.7,369.2 74.4,369.4 75.2,369.4 75.9,369.8 76.7,369.4 77.5,369.2 78.2,368.6 79.0,368.7 79.7,368.5 80.5,368.5 81.2,368.2 82.0,368.3 82.7,368.6 83.5,367.5 84.3,366.7 85.0,366.3 85.8,366.1 86.5,366.5 87.3,366.2 88.0,365.6 88.8,365.2 89.5,363.7 90.3,363.0 91.1,361.4 91.8,360.7 92.6,359.0 93.3,357.8 94.1,357.8 94.8,357.6 95.6,356.2 96.3,355.7 97.1,354.5 97.9,354.3 98.6,354.3 99.4,353.1 100.1,351.9 100.9,351.5 101.6,351.3 102.4,350.4 103.1,348.7 103.9,347.6 104.7,347.6 105.4,347.0 106.2,346.6 106.9,346.1 107.7,344.4 108.4,343.9 109.2,342.8 109.9,341.9 110.7,341.5 111.5,340.1 112.2,339.8 113.0,338.6 113.7,338.3 114.5,337.3 115.2,336.7 116.0,336.0 116.7,334.2 117.5,333.0 118.3,332.7 119.0,331.4 119.8,331.2 120.5,330.6 121.3,329.6 122.0,329.3 122.8,329.7 123.5,328.7 124.3,329.2 125.1,329.3 125.8,328.6 126.6,328.8 127.3,328.9 128.1,329.2 128.8,329.4 129.6,328.9 130.3,329.0 131.1,328.6 131.9,328.7 132.6,328.6 133.4,327.9 134.1,328.1 134.9,328.1 135.6,327.7 136.4,328.4 137.1,328.9 137.9,328.1 138.7,327.7 139.4,328.3 140.2,328.8 140.9,328.3 141.7,327.7 142.4,328.4 143.2,327.7 143.9,327.4 144.7,327.7 145.5,328.0 146.2,328.7 147.0,329.2 147.7,328.3 148.5,328.7 149.2,328.4 150.0,328.8 150.8,328.3 151.5,328.3 152.3,328.7 153.0,329.2 153.8,328.7 154.5,329.4 155.3,329.7 156.0,329.4 156.8,329.0 157.6,329.1 158.3,329.7 159.1,329.2 159.8,330.0 160.6,330.8 161.3,331.0 162.1,330.9 162.8,331.2 163.6,331.1 164.4,330.7 165.1,330.1 165.9,330.3 166.6,330.0 167.4,329.1 168.1,328.3 168.9,328.2 169.6,328.1 170.4,328.2 171.2,328.9 171.9,329.4 172.7,329.7 173.4,328.7 174.2,328.3 174.9,327.7 175.7,328.6 176.4,328.3 177.2,328.3 178.0,328.1 178.7,328.6 179.5,328.0 180.2,329.0 181.0,328.9 181.7,328.7 182.5,328.3 183.2,328.4 184.0,328.5 184.8,328.5 185.5,328.3 186.3,329.0 187.0,329.0 187.8,328.7 188.5,328.6 189.3,329.2 190.0,329.1 190.8,328.9 191.6,329.2 192.3,329.4 193.1,329.7 193.8,329.6 194.6,329.5 195.3,330.1 196.1,329.7 196.8,328.9 197.6,328.6 198.4,328.6 199.1,329.0 199.9,328.8 200.6,329.0 201.4,329.3 202.1,329.0 202.9,329.8 203.6,329.5 204.4,330.3 205.2,330.0 205.9,330.0 206.7,330.4 207.4,330.0 208.2,329.9 208.9,329.7 209.7,329.1 210.4,329.7 211.2,330.3 212.0,330.3 212.7,329.7 213.5,330.0 214.2,330.2 215.0,329.3" fill="none" stroke="#000" stroke-width="1.8" stroke-linejoin="round"/>
<polyline points="56.3,371.9 57.1,371.8 57.8,371.8 58.6,372.8 59.3,373.8 60.1,373.7 60.8,373.4 61.6,372.0 62.3,371.3 63.1,370.8 63.9,370.5 64.6,370.9 65.4,372.4 66.1,373.0 66.9,374.1 67.6,373.6 68.4,373.9 69.1,372.5 69.9,372.7 70.7,371.5 71.4,371.2 72.2,371.6 72.9,371.2 73.7,372.7 74.4,373.6 75.2,372.8 75.9,371.5 76.7,370.9 77.5,368.3 78.2,367.7 79.0,368.9 79.7,368.6 80.5,368.8 81.2,368.4 82.0,367.4 82.7,367.5 83.5,366.0 84.3,365.9 85.0,365.3 85.8,363.4 86.5,362.6 87.3,361.8 88.0,360.1 88.8,358.8 89.5,357.6 90.3,357.0 91.1,354.8 91.8,353.0 92.6,351.5 93.3,350.8 94.1,350.6 94.8,350.1 95.6,348.8 96.3,345.7 97.1,343.7 97.9,341.0 98.6,338.0 99.4,334.8 100.1,330.0 100.9,326.1 101.6,323.0 102.4,318.1 103.1,314.2 103.9,312.7 104.7,311.7 105.4,310.1 106.2,308.6 106.9,306.4 107.7,305.7 108.4,303.8 109.2,302.8 109.9,300.8 110.7,300.3 111.5,299.0 112.2,297.5 113.0,295.6 113.7,294.9 114.5,293.3 115.2,292.2 116.0,290.9 116.7,289.6 117.5,287.6 118.3,286.8 119.0,285.2 119.8,285.2 120.5,283.5 121.3,284.0 122.0,284.5 122.8,283.8 123.5,283.1 124.3,284.2 125.1,285.2 125.8,285.1 126.6,286.1 127.3,286.5 128.1,287.1 128.8,287.5 129.6,286.6 130.3,287.0 131.1,287.9 131.9,289.9 132.6,292.6 133.4,294.3 134.1,295.1 134.9,296.2 135.6,297.8 136.4,300.1 137.1,300.9 137.9,301.7 138.7,302.3 139.4,303.7 140.2,303.6 140.9,303.9 141.7,305.8 142.4,307.1 143.2,307.1 143.9,308.5 144.7,308.5 145.5,309.6 146.2,310.2 147.0,310.9 147.7,312.6 148.5,313.8 149.2,314.9 150.0,315.0 150.8,315.3 151.5,316.7 152.3,316.5 153.0,317.5 153.8,318.7 154.5,319.3 155.3,319.0 156.0,319.9 156.8,320.5 157.6,320.6 158.3,320.9 159.1,321.7 159.8,322.7 160.6,323.1 161.3,322.9 162.1,323.0 162.8,323.6 163.6,324.5 164.4,325.2 165.1,325.0 165.9,325.3 166.6,326.6 167.4,326.2 168.1,325.7 168.9,325.8 169.6,325.6 170.4,325.5 171.2,326.2 171.9,326.2 172.7,327.0 173.4,328.1 174.2,328.3 174.9,328.6 175.7,327.7 176.4,327.7 177.2,328.0 178.0,328.1 178.7,329.1 179.5,329.0 180.2,328.7 181.0,329.2 181.7,329.8 182.5,329.9 183.2,330.2 184.0,329.8 184.8,330.5 185.5,331.1 186.3,331.0 187.0,330.3 187.8,329.8 188.5,329.7 189.3,329.2 190.0,330.0 190.8,331.1 191.6,330.9 192.3,331.0 193.1,331.5 193.8,330.9 194.6,331.2 195.3,331.6 196.1,331.7 196.8,330.7 197.6,331.8 198.4,331.9 199.1,332.1 199.9,332.4 200.6,332.2 201.4,332.5 202.1,331.4 202.9,331.6 203.6,331.4 204.4,332.2 205.2,332.2 205.9,332.0 206.7,331.5 207.4,332.3 208.2,332.4 208.9,331.8 209.7,331.5 210.4,332.4 211.2,332.5 212.0,332.1 212.7,332.6 213.5,332.4 214.2,332.4 215.0,331.8" fill="none" stroke="#1a1aff" stroke-width="1.8" stroke-linejoin="round"/>
<line x1="55.70" y1="257.30" x2="55.70" y2="379.00" stroke="#000" stroke-width="1.5"/>
<line x1="55.00" y1="368.80" x2="215.80" y2="368.80" stroke="#000" stroke-width="1.5"/>
<line x1="51.00" y1="368.80" x2="55.70" y2="368.80" stroke="#000" stroke-width="1.3"/>
<text x="49.60" y="372.30" font-size="10" text-anchor="end">0</text>
<line x1="51.00" y1="328.35" x2="55.70" y2="328.35" stroke="#000" stroke-width="1.3"/>
<text x="49.60" y="331.85" font-size="10" text-anchor="end">20</text>
<line x1="51.00" y1="287.90" x2="55.70" y2="287.90" stroke="#000" stroke-width="1.3"/>
<text x="49.60" y="291.40" font-size="10" text-anchor="end">40</text>
<line x1="78.97" y1="368.80" x2="78.97" y2="373.00" stroke="#000" stroke-width="1.3"/>
<text x="78.97" y="383.30" font-size="9.5" text-anchor="middle">30</text>
<line x1="101.64" y1="368.80" x2="101.64" y2="373.00" stroke="#000" stroke-width="1.3"/>
<text x="101.64" y="383.30" font-size="9.5" text-anchor="middle">60</text>
<line x1="124.30" y1="368.80" x2="124.30" y2="373.00" stroke="#000" stroke-width="1.3"/>
<text x="124.30" y="383.30" font-size="9.5" text-anchor="middle">90</text>
<line x1="146.97" y1="368.80" x2="146.97" y2="373.00" stroke="#000" stroke-width="1.3"/>
<text x="146.97" y="383.30" font-size="9.5" text-anchor="middle">120</text>
<line x1="169.64" y1="368.80" x2="169.64" y2="373.00" stroke="#000" stroke-width="1.3"/>
<text x="169.64" y="383.30" font-size="9.5" text-anchor="middle">150</text>
<line x1="192.31" y1="368.80" x2="192.31" y2="373.00" stroke="#000" stroke-width="1.3"/>
<text x="192.31" y="383.30" font-size="9.5" text-anchor="middle">180</text>
<line x1="214.98" y1="368.80" x2="214.98" y2="373.00" stroke="#000" stroke-width="1.3"/>
<text x="214.98" y="383.30" font-size="9.5" text-anchor="middle">210</text>
<text x="119.50" y="392.60" font-size="10.3">Time (s)</text>
<text x="32.8" y="313.5" font-size="10.45" text-anchor="middle" transform="rotate(-90 32.8 313.5)">GCaMP5 (ΔF/F<tspan font-size="70%" dy="1.4">o</tspan><tspan dy="-1.4">,  %)</tspan></text>
<line x1="155.50" y1="268.30" x2="165.40" y2="268.30" stroke="#000" stroke-width="1.8"/>
<text x="167.90" y="270.70" font-size="9.6">WT</text>
<line x1="155.50" y1="277.80" x2="165.40" y2="277.80" stroke="#1a1aff" stroke-width="1.8"/>
<text x="167.90" y="281.10" font-size="9.6" font-style="italic">unc-13</text>
<line x1="155.50" y1="287.30" x2="165.40" y2="287.30" stroke="#ff1a1a" stroke-width="1.8"/>
<text x="167.90" y="290.50" font-size="9.6" font-style="italic">unc-31</text>
<rect x="272.40" y="350.99" width="15.50" height="12.61" fill="#c8c8c8"/>
<path d="M272.40,363.60V350.99H287.90V363.60" fill="none" stroke="#000" stroke-width="1.3"/>
<rect x="295.00" y="340.39" width="14.80" height="23.21" fill="#babdf6"/>
<path d="M295.00,363.60V340.39H309.80V363.60" fill="none" stroke="#1a1aff" stroke-width="1.8"/>
<rect x="317.00" y="352.75" width="15.20" height="10.85" fill="#fcd5d5"/>
<path d="M317.00,363.60V352.75H332.20V363.60" fill="none" stroke="#ff1a1a" stroke-width="1.8"/>
<circle cx="273.81" cy="332.32" r="1.55" fill="#f4f4f4" stroke="#8a8a8a" stroke-width="0.6"/>
<circle cx="275.11" cy="335.85" r="1.55" fill="#f4f4f4" stroke="#8a8a8a" stroke-width="0.6"/>
<circle cx="278.76" cy="343.42" r="1.55" fill="#f4f4f4" stroke="#8a8a8a" stroke-width="0.6"/>
<circle cx="282.54" cy="347.96" r="1.55" fill="#f4f4f4" stroke="#8a8a8a" stroke-width="0.6"/>
<circle cx="275.45" cy="348.97" r="1.55" fill="#f4f4f4" stroke="#8a8a8a" stroke-width="0.6"/>
<circle cx="275.11" cy="349.47" r="1.55" fill="#f4f4f4" stroke="#8a8a8a" stroke-width="0.6"/>
<circle cx="276.66" cy="349.98" r="1.55" fill="#f4f4f4" stroke="#8a8a8a" stroke-width="0.6"/>
<circle cx="283.50" cy="350.48" r="1.55" fill="#f4f4f4" stroke="#8a8a8a" stroke-width="0.6"/>
<circle cx="275.57" cy="350.99" r="1.55" fill="#f4f4f4" stroke="#8a8a8a" stroke-width="0.6"/>
<circle cx="283.28" cy="351.49" r="1.55" fill="#f4f4f4" stroke="#8a8a8a" stroke-width="0.6"/>
<circle cx="282.26" cy="352.00" r="1.55" fill="#f4f4f4" stroke="#8a8a8a" stroke-width="0.6"/>
<circle cx="275.43" cy="352.50" r="1.55" fill="#f4f4f4" stroke="#8a8a8a" stroke-width="0.6"/>
<circle cx="280.61" cy="353.01" r="1.55" fill="#f4f4f4" stroke="#8a8a8a" stroke-width="0.6"/>
<circle cx="279.47" cy="353.51" r="1.55" fill="#f4f4f4" stroke="#8a8a8a" stroke-width="0.6"/>
<circle cx="279.01" cy="354.01" r="1.55" fill="#f4f4f4" stroke="#8a8a8a" stroke-width="0.6"/>
<circle cx="286.60" cy="354.52" r="1.55" fill="#f4f4f4" stroke="#8a8a8a" stroke-width="0.6"/>
<circle cx="274.86" cy="355.53" r="1.55" fill="#f4f4f4" stroke="#8a8a8a" stroke-width="0.6"/>
<circle cx="273.91" cy="356.54" r="1.55" fill="#f4f4f4" stroke="#8a8a8a" stroke-width="0.6"/>
<circle cx="285.87" cy="357.55" r="1.55" fill="#f4f4f4" stroke="#8a8a8a" stroke-width="0.6"/>
<circle cx="278.89" cy="358.56" r="1.55" fill="#f4f4f4" stroke="#8a8a8a" stroke-width="0.6"/>
<circle cx="276.23" cy="359.56" r="1.55" fill="#f4f4f4" stroke="#8a8a8a" stroke-width="0.6"/>
<circle cx="277.94" cy="360.57" r="1.55" fill="#f4f4f4" stroke="#8a8a8a" stroke-width="0.6"/>
<circle cx="278.39" cy="361.08" r="1.55" fill="#f4f4f4" stroke="#8a8a8a" stroke-width="0.6"/>
<circle cx="286.07" cy="361.58" r="1.55" fill="#f4f4f4" stroke="#8a8a8a" stroke-width="0.6"/>
<circle cx="276.38" cy="348.47" r="1.55" fill="#f4f4f4" stroke="#8a8a8a" stroke-width="0.6"/>
<circle cx="276.47" cy="352.50" r="1.55" fill="#f4f4f4" stroke="#8a8a8a" stroke-width="0.6"/>
<circle cx="281.25" cy="356.03" r="1.55" fill="#f4f4f4" stroke="#8a8a8a" stroke-width="0.6"/>
<circle cx="280.77" cy="358.56" r="1.55" fill="#f4f4f4" stroke="#8a8a8a" stroke-width="0.6"/>
<circle cx="286.05" cy="357.55" r="1.55" fill="#f4f4f4" stroke="#8a8a8a" stroke-width="0.6"/>
<circle cx="302.40" cy="267.75" r="1.55" fill="#f4f4f4" stroke="#8a8a8a" stroke-width="0.6"/>
<circle cx="302.40" cy="320.72" r="1.55" fill="#f4f4f4" stroke="#8a8a8a" stroke-width="0.6"/>
<circle cx="302.40" cy="325.76" r="1.55" fill="#f4f4f4" stroke="#8a8a8a" stroke-width="0.6"/>
<circle cx="296.91" cy="332.32" r="1.55" fill="#f4f4f4" stroke="#8a8a8a" stroke-width="0.6"/>
<circle cx="298.68" cy="339.38" r="1.55" fill="#f4f4f4" stroke="#8a8a8a" stroke-width="0.6"/>
<circle cx="299.84" cy="340.39" r="1.55" fill="#f4f4f4" stroke="#8a8a8a" stroke-width="0.6"/>
<circle cx="307.60" cy="340.90" r="1.55" fill="#f4f4f4" stroke="#8a8a8a" stroke-width="0.6"/>
<circle cx="302.35" cy="341.40" r="1.55" fill="#f4f4f4" stroke="#8a8a8a" stroke-width="0.6"/>
<circle cx="305.26" cy="343.42" r="1.55" fill="#f4f4f4" stroke="#8a8a8a" stroke-width="0.6"/>
<circle cx="297.20" cy="348.47" r="1.55" fill="#f4f4f4" stroke="#8a8a8a" stroke-width="0.6"/>
<circle cx="302.52" cy="349.47" r="1.55" fill="#f4f4f4" stroke="#8a8a8a" stroke-width="0.6"/>
<circle cx="306.86" cy="350.99" r="1.55" fill="#f4f4f4" stroke="#8a8a8a" stroke-width="0.6"/>
<circle cx="302.70" cy="352.50" r="1.55" fill="#f4f4f4" stroke="#8a8a8a" stroke-width="0.6"/>
<circle cx="308.18" cy="356.03" r="1.55" fill="#f4f4f4" stroke="#8a8a8a" stroke-width="0.6"/>
<circle cx="307.36" cy="358.56" r="1.55" fill="#f4f4f4" stroke="#8a8a8a" stroke-width="0.6"/>
<circle cx="300.72" cy="345.94" r="1.55" fill="#f4f4f4" stroke="#8a8a8a" stroke-width="0.6"/>
<circle cx="295.91" cy="353.51" r="1.55" fill="#f4f4f4" stroke="#8a8a8a" stroke-width="0.6"/>
<circle cx="325.51" cy="345.94" r="1.55" fill="#f4f4f4" stroke="#8a8a8a" stroke-width="0.6"/>
<circle cx="326.32" cy="346.95" r="1.55" fill="#f4f4f4" stroke="#8a8a8a" stroke-width="0.6"/>
<circle cx="328.72" cy="348.47" r="1.55" fill="#f4f4f4" stroke="#8a8a8a" stroke-width="0.6"/>
<circle cx="321.70" cy="349.47" r="1.55" fill="#f4f4f4" stroke="#8a8a8a" stroke-width="0.6"/>
<circle cx="326.57" cy="350.99" r="1.55" fill="#f4f4f4" stroke="#8a8a8a" stroke-width="0.6"/>
<circle cx="329.68" cy="352.50" r="1.55" fill="#f4f4f4" stroke="#8a8a8a" stroke-width="0.6"/>
<circle cx="329.91" cy="353.51" r="1.55" fill="#f4f4f4" stroke="#8a8a8a" stroke-width="0.6"/>
<circle cx="320.52" cy="354.52" r="1.55" fill="#f4f4f4" stroke="#8a8a8a" stroke-width="0.6"/>
<circle cx="326.57" cy="356.03" r="1.55" fill="#f4f4f4" stroke="#8a8a8a" stroke-width="0.6"/>
<line x1="280.15" y1="349.47" x2="280.15" y2="352.50" stroke="#000" stroke-width="1.6"/>
<line x1="276.40" y1="349.47" x2="283.90" y2="349.47" stroke="#000" stroke-width="1.6"/>
<line x1="276.40" y1="352.50" x2="283.90" y2="352.50" stroke="#000" stroke-width="1.6"/>
<text x="280.15" y="372.20" font-size="9.2" text-anchor="middle" fill="#953f9f">18</text>
<line x1="302.40" y1="334.59" x2="302.40" y2="345.19" stroke="#1a1aff" stroke-width="1.6"/>
<line x1="298.65" y1="334.59" x2="306.15" y2="334.59" stroke="#1a1aff" stroke-width="1.6"/>
<line x1="298.65" y1="345.19" x2="306.15" y2="345.19" stroke="#1a1aff" stroke-width="1.6"/>
<text x="302.40" y="372.20" font-size="9.2" text-anchor="middle" fill="#953f9f">17</text>
<line x1="324.60" y1="350.99" x2="324.60" y2="354.01" stroke="#ff1a1a" stroke-width="1.6"/>
<line x1="320.85" y1="350.99" x2="328.35" y2="350.99" stroke="#ff1a1a" stroke-width="1.6"/>
<line x1="320.85" y1="354.01" x2="328.35" y2="354.01" stroke="#ff1a1a" stroke-width="1.6"/>
<text x="324.60" y="372.20" font-size="9.2" text-anchor="middle" fill="#953f9f">9</text>
<line x1="265.20" y1="242.30" x2="265.20" y2="364.30" stroke="#000" stroke-width="1.5"/>
<line x1="264.50" y1="363.60" x2="333.50" y2="363.60" stroke="#000" stroke-width="1.5"/>
<line x1="261.00" y1="363.60" x2="265.20" y2="363.60" stroke="#000" stroke-width="1.3"/>
<text x="260.00" y="367.10" font-size="10" text-anchor="end">0</text>
<line x1="261.00" y1="338.38" x2="265.20" y2="338.38" stroke="#000" stroke-width="1.3"/>
<text x="260.00" y="341.88" font-size="10" text-anchor="end">50</text>
<line x1="261.00" y1="313.15" x2="265.20" y2="313.15" stroke="#000" stroke-width="1.3"/>
<text x="260.00" y="316.65" font-size="10" text-anchor="end">100</text>
<line x1="261.00" y1="287.93" x2="265.20" y2="287.93" stroke="#000" stroke-width="1.3"/>
<text x="260.00" y="291.43" font-size="10" text-anchor="end">150</text>
<line x1="261.00" y1="262.70" x2="265.20" y2="262.70" stroke="#000" stroke-width="1.3"/>
<text x="260.00" y="266.20" font-size="10" text-anchor="end">200</text>
<text x="241.8" y="308.6" font-size="10.5" text-anchor="middle" transform="rotate(-90 241.8 308.6)">Maximum GCaMP5 (ΔF/F<tspan font-size="70%" dy="1.4">o</tspan><tspan dy="-1.4">,  %)</tspan></text>
<text x="282.50" y="379.00" font-size="9.5" text-anchor="end" transform="rotate(-45 282.50 379.00)">WT</text>
<text x="305.00" y="379.50" font-size="9.5" text-anchor="end" font-style="italic" transform="rotate(-45 305.00 379.50)">unc-13</text>
<text x="327.50" y="379.00" font-size="9.5" text-anchor="end" font-style="italic" transform="rotate(-45 327.50 379.00)">unc-31</text>
<path d="M277.40,248.90 Q277.40,247.10 278.40,247.10 L323.10,247.10 Q324.10,247.10 324.10,248.90" fill="none" stroke="#1a1a1a" stroke-width="1.2"/>
<text x="282.70" y="243.80" font-size="8.3">ns</text>
<text x="297.20" y="243.80" font-size="8.3"><tspan font-style="italic">p</tspan>=0.6336</text>
<path d="M277.40,263.40 Q277.40,261.60 278.40,261.60 L301.50,261.60 Q302.50,261.60 302.50,263.40" fill="none" stroke="#1a1a1a" stroke-width="1.2"/>
<polygon points="279.50,252.80 280.14,254.52 281.97,254.60 280.54,255.74 281.03,257.50 279.50,256.49 277.97,257.50 278.46,255.74 277.03,254.60 278.86,254.52" fill="#000"/>
<text x="284.70" y="257.80" font-size="8.3"><tspan font-style="italic">p</tspan>=0.0417</text>
<text x="339.30" y="231.80" font-size="20">d</text>
<text x="359.00" y="232.80" font-size="10.5" fill="#1b9de2" font-weight="bold">AMsh glia</text>
<polyline points="391.2,254.6 414.0,254.6 416.9,246.5 519.8,246.5 523.4,254.4 552.8,254.4" fill="none" stroke="#3a3333" stroke-width="1.05" stroke-linejoin="round"/>
<text x="392.80" y="250.80" font-size="8.3">20 °C</text>
<text x="465.50" y="242.70" font-size="8.3">28°C</text>
<text x="530.40" y="250.50" font-size="8.3">20 °C</text>
<polygon points="393.6,363.1 394.1,363.0 394.7,363.9 395.2,364.2 395.7,363.6 396.3,362.3 396.8,362.8 397.3,362.9 397.9,363.8 398.4,363.5 399.0,364.3 399.5,362.9 400.0,363.8 400.6,364.7 401.1,363.7 401.6,364.1 402.2,364.3 402.7,363.6 403.2,363.6 403.8,363.9 404.3,363.6 404.8,363.3 405.4,363.9 405.9,364.8 406.4,363.4 407.0,364.4 407.5,364.2 408.0,365.4 408.6,365.0 409.1,364.0 409.7,363.3 410.2,364.4 410.7,364.4 411.3,363.7 411.8,364.4 412.3,364.2 412.9,364.6 413.4,363.8 413.9,364.4 414.5,364.6 415.0,364.6 415.5,364.9 416.1,364.8 416.6,365.7 417.1,366.0 417.7,365.7 418.2,365.8 418.7,365.9 419.3,365.7 419.8,365.4 420.4,366.2 420.9,365.3 421.4,366.7 422.0,365.4 422.5,366.3 423.0,365.5 423.6,366.4 424.1,366.7 424.6,366.8 425.2,367.4 425.7,367.1 426.2,367.2 426.8,367.0 427.3,367.6 427.8,367.3 428.4,368.1 428.9,367.7 429.4,368.6 430.0,368.6 430.5,369.3 431.1,370.3 431.6,369.0 432.1,369.4 432.7,370.1 433.2,370.1 433.7,370.5 434.3,369.7 434.8,370.4 435.3,370.0 435.9,370.7 436.4,371.1 436.9,371.4 437.5,370.6 438.0,370.2 438.5,371.6 439.1,371.2 439.6,370.2 440.1,371.0 440.7,371.0 441.2,372.3 441.8,372.6 442.3,371.8 442.8,371.0 443.4,371.8 443.9,371.2 444.4,371.2 445.0,370.4 445.5,371.2 446.0,370.1 446.6,370.8 447.1,371.2 447.6,371.2 448.2,370.9 448.7,371.2 449.2,370.1 449.8,371.1 450.3,371.0 450.8,370.4 451.4,370.7 451.9,369.2 452.5,369.4 453.0,369.5 453.5,369.3 454.1,369.9 454.6,368.3 455.1,368.0 455.7,368.0 456.2,368.5 456.7,368.5 457.3,368.3 457.8,367.2 458.3,368.3 458.9,367.0 459.4,366.9 459.9,367.5 460.5,366.6 461.0,367.7 461.5,366.6 462.1,364.9 462.6,364.0 463.2,364.2 463.7,364.5 464.2,363.5 464.8,362.3 465.3,362.0 465.8,362.0 466.4,362.7 466.9,362.8 467.4,362.7 468.0,362.6 468.5,363.7 469.0,363.0 469.6,364.1 470.1,362.4 470.6,362.3 471.2,361.2 471.7,359.6 472.2,358.2 472.8,357.4 473.3,356.1 473.9,354.7 474.4,353.2 474.9,352.9 475.5,352.8 476.0,352.6 476.5,351.2 477.1,350.9 477.6,350.2 478.1,349.1 478.7,348.8 479.2,347.5 479.7,343.8 480.3,342.4 480.8,339.9 481.3,337.6 481.9,336.3 482.4,335.8 482.9,333.3 483.5,331.4 484.0,330.1 484.6,328.6 485.1,327.2 485.6,325.5 486.2,323.7 486.7,321.8 487.2,321.3 487.8,320.8 488.3,318.6 488.8,317.3 489.4,315.8 489.9,314.6 490.4,313.6 491.0,311.5 491.5,310.6 492.0,310.6 492.6,309.8 493.1,307.9 493.6,307.6 494.2,306.4 494.7,305.6 495.2,304.1 495.8,302.7 496.3,301.7 496.9,300.1 497.4,300.4 497.9,299.6 498.5,298.8 499.0,298.5 499.5,297.6 500.1,297.7 500.6,296.8 501.1,296.3 501.7,295.6 502.2,294.9 502.7,295.8 503.3,295.7 503.8,295.0 504.3,294.8 504.9,293.4 505.4,293.5 506.0,293.1 506.5,292.6 507.0,291.8 507.6,290.7 508.1,290.8 508.6,289.1 509.2,288.8 509.7,289.6 510.2,288.6 510.8,289.2 511.3,288.5 511.8,288.7 512.4,288.8 512.9,288.4 513.4,289.0 514.0,288.9 514.5,288.0 515.0,287.9 515.6,287.8 516.1,287.7 516.7,287.7 517.2,288.1 517.7,287.6 518.3,287.5 518.8,288.5 519.3,288.0 519.9,288.4 520.4,288.2 520.9,288.4 521.5,287.9 522.0,288.2 522.5,288.2 523.1,286.0 523.6,284.8 524.1,283.6 524.7,280.8 525.2,280.8 525.7,278.3 526.3,277.6 526.8,275.9 527.4,274.8 527.9,274.1 528.4,273.4 529.0,272.8 529.5,272.7 530.0,271.2 530.6,271.7 531.1,271.7 531.6,271.6 532.2,270.3 532.7,270.7 533.2,269.6 533.8,269.0 534.3,269.3 534.8,268.0 535.4,268.2 535.9,267.1 536.4,266.1 537.0,266.2 537.5,267.5 538.1,267.3 538.6,267.9 539.1,267.1 539.7,267.7 540.2,268.0 540.7,269.0 541.3,269.6 541.8,268.6 542.3,268.6 542.9,269.0 543.4,268.6 543.9,269.2 544.5,269.3 545.0,269.5 545.5,270.7 546.1,269.5 546.6,269.2 547.1,270.1 547.7,270.8 548.2,270.8 548.8,271.2 549.3,271.4 549.8,271.4 550.4,271.9 550.9,272.0 551.4,271.8 552.0,271.5 552.5,272.6 553.0,272.3 553.6,272.9 554.1,272.6 554.1,294.6 553.6,294.6 553.0,295.5 552.5,294.6 552.0,294.9 551.4,293.5 550.9,294.1 550.4,293.7 549.8,293.1 549.3,293.0 548.8,293.5 548.2,294.0 547.7,293.6 547.1,292.1 546.6,292.4 546.1,291.9 545.5,292.9 545.0,292.2 544.5,291.4 543.9,291.8 543.4,291.3 542.9,290.9 542.3,290.7 541.8,290.8 541.3,291.1 540.7,291.2 540.2,290.6 539.7,288.7 539.1,289.2 538.6,289.3 538.1,289.3 537.5,289.0 537.0,288.7 536.4,289.3 535.9,289.6 535.4,289.3 534.8,290.3 534.3,291.4 533.8,291.3 533.2,290.6 532.7,292.1 532.2,293.2 531.6,294.1 531.1,293.2 530.6,293.9 530.0,293.0 529.5,293.8 529.0,295.3 528.4,295.0 527.9,295.4 527.4,295.5 526.8,297.6 526.3,299.1 525.7,300.5 525.2,302.4 524.7,302.6 524.1,304.2 523.6,305.3 523.1,308.3 522.5,309.0 522.0,309.7 521.5,309.0 520.9,309.0 520.4,309.3 519.9,309.8 519.3,309.5 518.8,310.1 518.3,308.8 517.7,309.3 517.2,310.0 516.7,308.9 516.1,308.5 515.6,308.8 515.0,308.9 514.5,309.3 514.0,309.4 513.4,310.5 512.9,309.5 512.4,309.4 511.8,309.2 511.3,309.1 510.8,309.9 510.2,310.0 509.7,310.2 509.2,311.1 508.6,310.2 508.1,311.6 507.6,311.7 507.0,312.2 506.5,313.5 506.0,313.2 505.4,313.4 504.9,314.9 504.3,316.1 503.8,316.2 503.3,316.5 502.7,315.8 502.2,316.9 501.7,316.1 501.1,316.0 500.6,317.2 500.1,317.3 499.5,317.8 499.0,319.8 498.5,319.7 497.9,319.8 497.4,320.4 496.9,321.4 496.3,322.3 495.8,323.4 495.2,323.5 494.7,324.7 494.2,325.6 493.6,327.0 493.1,327.5 492.6,328.9 492.0,330.4 491.5,330.0 491.0,331.0 490.4,332.8 489.9,333.3 489.4,335.5 488.8,335.7 488.3,337.2 487.8,339.3 487.2,339.1 486.7,340.0 486.2,341.8 485.6,344.3 485.1,344.3 484.6,346.8 484.0,348.4 483.5,349.6 482.9,350.4 482.4,352.5 481.9,354.6 481.3,355.8 480.8,357.6 480.3,360.7 479.7,361.8 479.2,364.7 478.7,365.9 478.1,366.2 477.6,367.0 477.1,366.6 476.5,367.7 476.0,367.7 475.5,367.4 474.9,367.4 474.4,367.9 473.9,369.3 473.3,370.0 472.8,370.8 472.2,372.1 471.7,372.7 471.2,373.6 470.6,374.6 470.1,375.1 469.6,376.3 469.0,375.6 468.5,374.5 468.0,374.1 467.4,373.5 466.9,373.3 466.4,372.3 465.8,372.5 465.3,371.5 464.8,371.5 464.2,371.7 463.7,372.8 463.2,372.6 462.6,372.1 462.1,373.4 461.5,373.1 461.0,374.9 460.5,374.0 459.9,374.6 459.4,373.1 458.9,373.4 458.3,373.9 457.8,375.1 457.3,375.2 456.7,374.1 456.2,375.3 455.7,375.7 455.1,374.9 454.6,375.7 454.1,375.7 453.5,375.4 453.0,376.1 452.5,376.2 451.9,376.0 451.4,376.1 450.8,376.3 450.3,377.1 449.8,375.9 449.2,376.7 448.7,376.6 448.2,376.4 447.6,377.1 447.1,376.6 446.6,375.5 446.0,376.3 445.5,376.5 445.0,376.3 444.4,376.7 443.9,377.0 443.4,376.6 442.8,376.8 442.3,376.4 441.8,377.5 441.2,377.3 440.7,376.0 440.1,375.2 439.6,376.1 439.1,375.6 438.5,376.2 438.0,375.8 437.5,376.3 436.9,375.5 436.4,375.3 435.9,375.2 435.3,374.8 434.8,375.0 434.3,373.9 433.7,374.4 433.2,374.6 432.7,374.3 432.1,373.2 431.6,374.1 431.1,373.6 430.5,373.6 430.0,372.8 429.4,373.0 428.9,371.8 428.4,370.7 427.8,370.4 427.3,371.2 426.8,370.7 426.2,370.7 425.7,369.5 425.2,370.7 424.6,371.0 424.1,369.5 423.6,369.5 423.0,369.6 422.5,368.6 422.0,368.5 421.4,369.7 420.9,369.2 420.4,369.4 419.8,368.4 419.3,369.0 418.7,369.6 418.2,369.3 417.7,368.7 417.1,369.8 416.6,368.2 416.1,368.3 415.5,368.9 415.0,367.5 414.5,368.5 413.9,367.4 413.4,367.6 412.9,367.4 412.3,368.4 411.8,368.4 411.3,367.9 410.7,367.1 410.2,368.0 409.7,367.7 409.1,367.7 408.6,367.4 408.0,368.8 407.5,368.7 407.0,367.2 406.4,367.1 405.9,368.0 405.4,367.4 404.8,367.0 404.3,367.5 403.8,367.4 403.2,367.6 402.7,366.8 402.2,368.0 401.6,367.4 401.1,366.6 400.6,367.7 400.0,366.8 399.5,367.5 399.0,367.7 398.4,367.7 397.9,366.2 397.3,366.9 396.8,366.2 396.3,366.1 395.7,366.6 395.2,367.8 394.7,367.7 394.1,367.4 393.6,366.3" fill="#c9cbef"/>
<polygon points="393.6,359.1 394.1,358.9 394.7,359.1 395.2,358.6 395.7,358.2 396.3,358.2 396.8,358.2 397.3,357.5 397.9,357.8 398.4,358.8 399.0,357.9 399.5,358.3 400.0,357.5 400.6,358.3 401.1,357.7 401.6,358.7 402.2,357.8 402.7,357.5 403.2,358.0 403.8,358.9 404.3,358.4 404.8,359.1 405.4,359.4 405.9,358.6 406.4,359.1 407.0,359.5 407.5,359.4 408.0,358.4 408.6,357.7 409.1,352.0 409.7,356.8 410.2,359.6 410.7,359.4 411.3,359.5 411.8,359.3 412.3,359.3 412.9,359.2 413.4,358.4 413.9,358.4 414.5,359.8 415.0,358.5 415.5,359.6 416.1,358.5 416.6,360.1 417.1,359.9 417.7,360.3 418.2,360.0 418.7,359.6 419.3,359.6 419.8,361.1 420.4,360.6 420.9,361.8 421.4,361.2 422.0,361.9 422.5,360.7 423.0,360.8 423.6,362.7 424.1,363.0 424.6,363.1 425.2,363.4 425.7,364.5 426.2,365.5 426.8,366.5 427.3,366.7 427.8,367.9 428.4,368.5 428.9,369.0 429.4,369.9 430.0,369.0 430.5,368.8 431.1,370.2 431.6,370.6 432.1,369.9 432.7,370.6 433.2,371.3 433.7,369.8 434.3,369.4 434.8,370.2 435.3,370.3 435.9,369.1 436.4,368.7 436.9,368.7 437.5,369.3 438.0,368.9 438.5,369.4 439.1,369.1 439.6,369.1 440.1,369.2 440.7,369.4 441.2,368.7 441.8,369.0 442.3,369.4 442.8,369.5 443.4,368.2 443.9,368.2 444.4,368.4 445.0,368.7 445.5,368.0 446.0,367.5 446.6,367.2 447.1,366.7 447.6,367.3 448.2,367.2 448.7,366.5 449.2,366.8 449.8,365.8 450.3,364.9 450.8,365.1 451.4,364.3 451.9,365.5 452.5,364.8 453.0,364.9 453.5,364.8 454.1,363.9 454.6,363.2 455.1,363.5 455.7,363.2 456.2,363.6 456.7,362.8 457.3,362.8 457.8,362.4 458.3,362.0 458.9,360.8 459.4,359.9 459.9,360.9 460.5,360.3 461.0,361.1 461.5,359.5 462.1,360.3 462.6,359.8 463.2,358.8 463.7,360.0 464.2,358.1 464.8,359.2 465.3,358.9 465.8,358.1 466.4,358.4 466.9,357.1 467.4,357.5 468.0,357.1 468.5,355.6 469.0,355.4 469.6,355.3 470.1,356.0 470.6,355.3 471.2,353.9 471.7,354.5 472.2,352.8 472.8,352.6 473.3,352.4 473.9,352.4 474.4,351.5 474.9,350.2 475.5,349.6 476.0,349.9 476.5,349.2 477.1,348.9 477.6,348.7 478.1,347.9 478.7,347.3 479.2,346.4 479.7,345.8 480.3,345.8 480.8,344.9 481.3,343.7 481.9,343.3 482.4,343.3 482.9,342.5 483.5,342.7 484.0,341.0 484.6,341.0 485.1,339.6 485.6,339.5 486.2,339.4 486.7,338.7 487.2,338.4 487.8,336.7 488.3,336.7 488.8,335.9 489.4,335.4 489.9,334.9 490.4,334.9 491.0,334.4 491.5,334.4 492.0,334.4 492.6,333.7 493.1,333.2 493.6,333.5 494.2,332.9 494.7,332.8 495.2,332.3 495.8,332.9 496.3,331.5 496.9,331.1 497.4,331.5 497.9,329.9 498.5,329.3 499.0,330.1 499.5,329.6 500.1,328.1 500.6,328.1 501.1,328.2 501.7,327.2 502.2,325.8 502.7,325.1 503.3,322.5 503.8,321.6 504.3,320.7 504.9,319.2 505.4,316.3 506.0,314.4 506.5,313.9 507.0,313.1 507.6,310.9 508.1,311.0 508.6,309.9 509.2,308.3 509.7,308.4 510.2,308.0 510.8,307.8 511.3,307.3 511.8,306.7 512.4,306.5 512.9,306.4 513.4,306.1 514.0,306.5 514.5,305.3 515.0,305.3 515.6,304.0 516.1,304.3 516.7,304.2 517.2,303.4 517.7,304.0 518.3,303.0 518.8,303.4 519.3,302.1 519.9,302.2 520.4,301.0 520.9,301.1 521.5,300.5 522.0,299.3 522.5,298.6 523.1,298.4 523.6,297.8 524.1,297.7 524.7,296.4 525.2,294.9 525.7,294.3 526.3,293.8 526.8,292.9 527.4,291.6 527.9,292.3 528.4,291.8 529.0,291.2 529.5,290.5 530.0,290.6 530.6,289.8 531.1,290.5 531.6,289.4 532.2,288.9 532.7,288.8 533.2,289.1 533.8,289.2 534.3,289.0 534.8,288.9 535.4,288.2 535.9,288.1 536.4,289.2 537.0,289.5 537.5,289.4 538.1,290.6 538.6,289.5 539.1,290.8 539.7,289.5 540.2,289.2 540.7,290.1 541.3,290.1 541.8,290.7 542.3,291.2 542.9,290.7 543.4,289.9 543.9,291.0 544.5,291.4 545.0,290.7 545.5,291.6 546.1,292.0 546.6,292.2 547.1,292.2 547.7,292.9 548.2,291.8 548.8,292.8 549.3,293.5 549.8,293.0 550.4,292.6 550.9,293.4 551.4,293.0 552.0,293.5 552.5,294.7 553.0,293.8 553.6,294.2 554.1,294.9 554.1,320.2 553.6,320.3 553.0,320.8 552.5,320.1 552.0,320.2 551.4,318.7 550.9,319.0 550.4,319.1 549.8,318.3 549.3,318.5 548.8,318.3 548.2,317.7 547.7,317.6 547.1,317.1 546.6,316.5 546.1,316.8 545.5,316.7 545.0,315.1 544.5,315.0 543.9,315.0 543.4,315.2 542.9,315.5 542.3,314.4 541.8,314.9 541.3,314.1 540.7,313.1 540.2,313.4 539.7,313.4 539.1,313.5 538.6,314.2 538.1,313.0 537.5,312.6 537.0,311.6 536.4,311.6 535.9,312.2 535.4,311.8 534.8,312.2 534.3,311.6 533.8,311.9 533.2,312.1 532.7,311.5 532.2,312.0 531.6,312.3 531.1,311.9 530.6,312.5 530.0,312.2 529.5,312.9 529.0,313.5 528.4,313.4 527.9,314.4 527.4,313.3 526.8,313.5 526.3,314.8 525.7,316.2 525.2,317.0 524.7,316.6 524.1,317.9 523.6,318.5 523.1,319.0 522.5,320.6 522.0,320.3 521.5,320.4 520.9,321.3 520.4,321.9 519.9,322.6 519.3,322.3 518.8,322.6 518.3,322.9 517.7,323.1 517.2,323.2 516.7,324.5 516.1,324.8 515.6,324.4 515.0,324.9 514.5,324.9 514.0,325.4 513.4,325.9 512.9,325.6 512.4,325.8 511.8,326.3 511.3,326.5 510.8,326.7 510.2,326.7 509.7,327.9 509.2,327.3 508.6,328.6 508.1,329.1 507.6,330.6 507.0,331.9 506.5,332.8 506.0,333.0 505.4,335.0 504.9,336.4 504.3,338.4 503.8,339.0 503.3,341.1 502.7,341.9 502.2,343.5 501.7,345.7 501.1,345.6 500.6,346.2 500.1,345.6 499.5,346.3 499.0,346.6 498.5,346.5 497.9,348.1 497.4,348.3 496.9,347.8 496.3,348.0 495.8,348.8 495.2,349.0 494.7,349.5 494.2,349.3 493.6,349.4 493.1,350.2 492.6,349.8 492.0,350.2 491.5,350.7 491.0,349.4 490.4,350.2 489.9,349.7 489.4,351.1 488.8,350.5 488.3,351.4 487.8,352.9 487.2,353.0 486.7,354.2 486.2,354.9 485.6,354.0 485.1,354.2 484.6,355.5 484.0,355.6 483.5,356.6 482.9,357.2 482.4,358.3 481.9,358.0 481.3,357.9 480.8,358.5 480.3,359.0 479.7,360.0 479.2,360.5 478.7,361.3 478.1,361.1 477.6,361.2 477.1,362.4 476.5,362.6 476.0,362.3 475.5,362.8 474.9,363.9 474.4,363.9 473.9,364.9 473.3,364.9 472.8,365.7 472.2,365.4 471.7,365.9 471.2,365.8 470.6,366.7 470.1,366.4 469.6,367.3 469.0,366.8 468.5,367.1 468.0,367.1 467.4,367.8 466.9,368.5 466.4,368.7 465.8,368.7 465.3,368.2 464.8,369.0 464.2,368.7 463.7,369.5 463.2,369.3 462.6,369.2 462.1,369.2 461.5,369.2 461.0,369.3 460.5,369.0 459.9,369.7 459.4,368.6 458.9,369.7 458.3,370.5 457.8,371.1 457.3,370.8 456.7,371.3 456.2,371.4 455.7,371.5 455.1,372.4 454.6,371.4 454.1,372.0 453.5,372.8 453.0,372.6 452.5,372.5 451.9,372.2 451.4,372.9 450.8,372.2 450.3,373.0 449.8,373.3 449.2,373.2 448.7,375.1 448.2,374.1 447.6,375.0 447.1,374.6 446.6,375.0 446.0,374.6 445.5,375.5 445.0,374.7 444.4,375.9 443.9,376.3 443.4,375.2 442.8,376.7 442.3,376.0 441.8,375.9 441.2,376.5 440.7,375.5 440.1,376.3 439.6,375.2 439.1,375.9 438.5,376.5 438.0,375.6 437.5,376.2 436.9,374.7 436.4,374.7 435.9,375.4 435.3,375.7 434.8,376.1 434.3,375.2 433.7,375.9 433.2,377.0 432.7,376.7 432.1,376.6 431.6,376.0 431.1,375.3 430.5,375.0 430.0,375.4 429.4,374.4 428.9,375.2 428.4,374.1 427.8,373.1 427.3,372.4 426.8,372.1 426.2,371.7 425.7,370.5 425.2,368.9 424.6,368.6 424.1,368.4 423.6,367.6 423.0,366.8 422.5,366.8 422.0,367.0 421.4,366.6 420.9,366.3 420.4,365.6 419.8,366.3 419.3,365.5 418.7,365.5 418.2,365.7 417.7,364.7 417.1,364.8 416.6,365.2 416.1,363.6 415.5,364.1 415.0,363.8 414.5,365.1 413.9,363.8 413.4,363.8 412.9,363.5 412.3,364.2 411.8,364.8 411.3,363.9 410.7,363.3 410.2,364.2 409.7,362.0 409.1,357.4 408.6,361.7 408.0,364.0 407.5,364.2 407.0,364.3 406.4,363.7 405.9,364.3 405.4,363.9 404.8,364.0 404.3,363.6 403.8,364.8 403.2,363.4 402.7,362.9 402.2,363.2 401.6,363.2 401.1,363.5 400.6,363.5 400.0,362.5 399.5,363.3 399.0,362.8 398.4,363.5 397.9,363.2 397.3,363.4 396.8,362.5 396.3,362.6 395.7,362.8 395.2,364.1 394.7,364.4 394.1,363.7 393.6,364.0" fill="#f7c3c7" fill-opacity="0.85"/>
<polygon points="393.6,364.1 394.1,364.7 394.7,365.2 395.2,364.5 395.7,365.0 396.3,364.7 396.8,364.4 397.3,364.5 397.9,364.4 398.4,365.2 399.0,364.8 399.5,364.9 400.0,364.5 400.6,365.3 401.1,365.4 401.6,365.9 402.2,365.5 402.7,365.8 403.2,365.8 403.8,365.2 404.3,366.2 404.8,365.4 405.4,365.8 405.9,365.7 406.4,365.2 407.0,365.5 407.5,365.5 408.0,365.4 408.6,366.3 409.1,366.0 409.7,365.9 410.2,365.9 410.7,365.2 411.3,365.2 411.8,365.7 412.3,366.5 412.9,365.8 413.4,366.0 413.9,365.9 414.5,365.8 415.0,365.9 415.5,366.1 416.1,366.7 416.6,365.7 417.1,366.4 417.7,365.9 418.2,365.8 418.7,366.5 419.3,366.8 419.8,367.0 420.4,366.8 420.9,365.9 421.4,366.6 422.0,365.7 422.5,366.2 423.0,365.7 423.6,366.0 424.1,366.0 424.6,367.0 425.2,366.9 425.7,367.6 426.2,367.0 426.8,366.4 427.3,366.4 427.8,367.5 428.4,367.1 428.9,368.1 429.4,367.7 430.0,367.8 430.5,367.8 431.1,368.0 431.6,368.2 432.1,368.1 432.7,367.8 433.2,368.3 433.7,368.7 434.3,368.8 434.8,368.3 435.3,368.8 435.9,369.1 436.4,368.7 436.9,368.8 437.5,369.7 438.0,368.9 438.5,369.0 439.1,369.2 439.6,369.3 440.1,368.9 440.7,369.0 441.2,368.3 441.8,368.4 442.3,368.3 442.8,368.5 443.4,368.1 443.9,369.1 444.4,368.3 445.0,367.9 445.5,368.2 446.0,368.2 446.6,367.5 447.1,367.1 447.6,367.5 448.2,366.7 448.7,366.4 449.2,367.0 449.8,366.3 450.3,366.0 450.8,365.7 451.4,365.5 451.9,364.6 452.5,364.5 453.0,363.8 453.5,362.6 454.1,363.5 454.6,362.2 455.1,361.8 455.7,361.0 456.2,361.2 456.7,360.4 457.3,359.8 457.8,359.2 458.3,358.6 458.9,358.1 459.4,357.8 459.9,357.3 460.5,356.9 461.0,356.0 461.5,354.8 462.1,354.0 462.6,353.8 463.2,354.2 463.7,353.5 464.2,352.4 464.8,351.6 465.3,351.3 465.8,350.9 466.4,349.8 466.9,349.8 467.4,348.3 468.0,347.8 468.5,347.4 469.0,346.6 469.6,346.4 470.1,345.3 470.6,344.8 471.2,344.0 471.7,344.1 472.2,342.9 472.8,342.1 473.3,341.4 473.9,341.1 474.4,341.0 474.9,339.9 475.5,339.2 476.0,339.8 476.5,338.7 477.1,338.7 477.6,337.9 478.1,337.3 478.7,337.3 479.2,336.9 479.7,336.6 480.3,336.1 480.8,335.7 481.3,335.2 481.9,335.4 482.4,335.4 482.9,335.0 483.5,335.3 484.0,334.8 484.6,334.4 485.1,334.3 485.6,334.0 486.2,333.2 486.7,332.8 487.2,333.5 487.8,332.9 488.3,332.8 488.8,332.4 489.4,331.9 489.9,331.6 490.4,331.4 491.0,331.7 491.5,331.5 492.0,331.9 492.6,331.0 493.1,331.0 493.6,330.4 494.2,330.6 494.7,331.1 495.2,331.4 495.8,330.8 496.3,330.9 496.9,330.5 497.4,330.0 497.9,330.2 498.5,329.7 499.0,330.5 499.5,330.1 500.1,330.2 500.6,330.5 501.1,330.2 501.7,329.9 502.2,330.3 502.7,330.6 503.3,330.4 503.8,330.2 504.3,330.5 504.9,329.6 505.4,329.9 506.0,330.1 506.5,329.9 507.0,329.2 507.6,329.2 508.1,329.0 508.6,329.0 509.2,328.6 509.7,329.2 510.2,328.4 510.8,329.7 511.3,329.3 511.8,329.4 512.4,329.0 512.9,329.9 513.4,329.0 514.0,329.6 514.5,329.1 515.0,329.3 515.6,328.9 516.1,329.4 516.7,329.3 517.2,329.3 517.7,329.2 518.3,329.3 518.8,328.9 519.3,329.0 519.9,328.8 520.4,329.1 520.9,328.9 521.5,329.6 522.0,329.2 522.5,328.8 523.1,328.8 523.6,328.1 524.1,328.2 524.7,328.2 525.2,326.9 525.7,325.3 526.3,324.8 526.8,325.1 527.4,324.0 527.9,323.2 528.4,322.8 529.0,321.9 529.5,321.4 530.0,320.6 530.6,321.1 531.1,320.0 531.6,320.1 532.2,319.4 532.7,319.1 533.2,319.4 533.8,319.4 534.3,319.6 534.8,320.0 535.4,319.6 535.9,319.7 536.4,319.7 537.0,319.6 537.5,319.7 538.1,319.5 538.6,319.3 539.1,319.4 539.7,319.9 540.2,320.2 540.7,320.8 541.3,321.0 541.8,320.9 542.3,320.8 542.9,320.9 543.4,321.3 543.9,320.9 544.5,321.2 545.0,321.2 545.5,322.4 546.1,322.2 546.6,322.4 547.1,322.5 547.7,322.6 548.2,323.2 548.8,323.1 549.3,323.7 549.8,323.3 550.4,324.0 550.9,323.7 551.4,323.0 552.0,323.2 552.5,323.6 553.0,324.0 553.6,324.7 554.1,324.3 554.1,334.7 553.6,334.4 553.0,334.8 552.5,334.2 552.0,333.2 551.4,333.5 550.9,333.8 550.4,334.4 549.8,333.3 549.3,333.8 548.8,333.9 548.2,332.8 547.7,332.7 547.1,332.2 546.6,332.5 546.1,332.2 545.5,332.4 545.0,331.7 544.5,331.6 543.9,330.8 543.4,331.0 542.9,331.5 542.3,331.2 541.8,331.0 541.3,330.5 540.7,331.3 540.2,330.1 539.7,330.3 539.1,330.0 538.6,329.6 538.1,329.2 537.5,329.3 537.0,329.5 536.4,330.0 535.9,329.6 535.4,329.8 534.8,329.6 534.3,329.8 533.8,329.3 533.2,329.8 532.7,329.3 532.2,329.4 531.6,329.7 531.1,330.0 530.6,330.4 530.0,330.6 529.5,331.3 529.0,331.6 528.4,333.1 527.9,332.5 527.4,333.7 526.8,334.3 526.3,335.4 525.7,335.6 525.2,336.6 524.7,337.4 524.1,338.1 523.6,338.2 523.1,338.7 522.5,339.2 522.0,338.5 521.5,338.7 520.9,338.7 520.4,338.2 519.9,338.2 519.3,339.0 518.8,338.6 518.3,338.4 517.7,339.0 517.2,338.8 516.7,338.9 516.1,338.7 515.6,338.9 515.0,339.0 514.5,339.2 514.0,338.5 513.4,338.4 512.9,339.0 512.4,338.7 511.8,338.5 511.3,338.3 510.8,338.4 510.2,338.1 509.7,338.1 509.2,338.1 508.6,338.4 508.1,338.2 507.6,338.7 507.0,338.9 506.5,339.4 506.0,338.7 505.4,339.7 504.9,339.5 504.3,339.3 503.8,339.8 503.3,340.4 502.7,339.7 502.2,339.7 501.7,339.2 501.1,339.3 500.6,340.0 500.1,340.1 499.5,339.4 499.0,339.2 498.5,339.0 497.9,339.0 497.4,339.1 496.9,339.7 496.3,340.3 495.8,340.6 495.2,339.9 494.7,340.0 494.2,340.0 493.6,340.1 493.1,339.9 492.6,340.6 492.0,340.3 491.5,340.6 491.0,341.1 490.4,340.8 489.9,341.1 489.4,341.2 488.8,340.9 488.3,341.2 487.8,342.1 487.2,341.9 486.7,342.0 486.2,342.4 485.6,342.3 485.1,343.3 484.6,343.4 484.0,342.9 483.5,344.0 482.9,344.1 482.4,343.8 481.9,344.9 481.3,344.8 480.8,344.7 480.3,345.7 479.7,345.3 479.2,345.8 478.7,346.4 478.1,345.9 477.6,346.5 477.1,347.3 476.5,347.9 476.0,348.0 475.5,348.1 474.9,348.4 474.4,349.4 473.9,350.3 473.3,349.6 472.8,350.9 472.2,351.4 471.7,352.4 471.2,352.4 470.6,353.8 470.1,353.6 469.6,354.0 469.0,354.9 468.5,355.9 468.0,355.4 467.4,356.8 466.9,357.4 466.4,357.8 465.8,358.6 465.3,358.5 464.8,359.3 464.2,360.3 463.7,360.5 463.2,361.7 462.6,361.8 462.1,361.2 461.5,362.4 461.0,363.3 460.5,363.3 459.9,363.9 459.4,364.3 458.9,364.9 458.3,364.9 457.8,366.0 457.3,366.6 456.7,367.0 456.2,367.5 455.7,367.7 455.1,367.7 454.6,368.8 454.1,368.9 453.5,369.3 453.0,369.8 452.5,369.6 451.9,370.7 451.4,370.8 450.8,370.9 450.3,371.4 449.8,371.3 449.2,372.3 448.7,372.4 448.2,372.3 447.6,372.2 447.1,372.3 446.6,373.0 446.0,373.4 445.5,372.8 445.0,373.4 444.4,373.4 443.9,373.9 443.4,373.7 442.8,373.7 442.3,373.2 441.8,373.7 441.2,373.2 440.7,373.8 440.1,373.5 439.6,373.9 439.1,373.6 438.5,373.9 438.0,374.4 437.5,374.1 436.9,374.1 436.4,373.5 435.9,374.3 435.3,373.4 434.8,373.5 434.3,373.6 433.7,373.4 433.2,372.8 432.7,372.2 432.1,372.2 431.6,373.0 431.1,372.8 430.5,372.1 430.0,372.2 429.4,372.2 428.9,372.2 428.4,371.6 427.8,371.8 427.3,371.5 426.8,370.9 426.2,371.7 425.7,371.3 425.2,371.3 424.6,371.0 424.1,370.5 423.6,370.0 423.0,370.5 422.5,371.0 422.0,370.2 421.4,371.1 420.9,370.5 420.4,370.6 419.8,370.8 419.3,370.9 418.7,370.6 418.2,370.8 417.7,370.0 417.1,370.3 416.6,370.4 416.1,370.9 415.5,370.5 415.0,369.9 414.5,369.8 413.9,370.1 413.4,369.8 412.9,370.4 412.3,370.3 411.8,370.1 411.3,369.8 410.7,370.0 410.2,369.6 409.7,370.4 409.1,370.1 408.6,369.6 408.0,369.7 407.5,369.7 407.0,369.5 406.4,369.3 405.9,369.7 405.4,370.2 404.8,369.1 404.3,369.9 403.8,369.4 403.2,369.4 402.7,369.1 402.2,369.5 401.6,369.8 401.1,368.9 400.6,368.9 400.0,368.3 399.5,368.9 399.0,368.7 398.4,368.1 397.9,368.0 397.3,368.5 396.8,368.5 396.3,367.8 395.7,368.5 395.2,367.7 394.7,368.5 394.1,367.9 393.6,368.0" fill="#cfcfcf" fill-opacity="0.9"/>
<polyline points="393.6,366.2 394.1,366.5 394.7,366.7 395.2,366.3 395.7,366.3 396.3,366.3 396.8,366.4 397.3,366.7 397.9,366.6 398.4,366.7 399.0,366.6 399.5,366.7 400.0,366.5 400.6,366.8 401.1,367.3 401.6,367.6 402.2,367.3 402.7,367.6 403.2,367.4 403.8,367.3 404.3,367.7 404.8,367.4 405.4,367.9 405.9,367.4 406.4,367.2 407.0,367.7 407.5,367.5 408.0,367.4 408.6,367.9 409.1,367.7 409.7,368.1 410.2,367.7 410.7,367.6 411.3,367.3 411.8,368.0 412.3,368.2 412.9,368.0 413.4,367.9 413.9,368.3 414.5,367.9 415.0,367.7 415.5,368.1 416.1,368.4 416.6,368.2 417.1,368.3 417.7,368.2 418.2,368.2 418.7,368.4 419.3,368.8 419.8,369.0 420.4,368.8 420.9,368.5 421.4,368.6 422.0,368.3 422.5,368.4 423.0,368.1 423.6,368.2 424.1,368.5 424.6,368.9 425.2,369.2 425.7,369.4 426.2,369.0 426.8,368.8 427.3,368.9 427.8,369.5 428.4,369.5 428.9,370.0 429.4,369.7 430.0,369.8 430.5,369.9 431.1,370.1 431.6,370.4 432.1,370.3 432.7,370.2 433.2,370.8 433.7,371.0 434.3,371.0 434.8,371.1 435.3,371.4 435.9,371.6 436.4,371.3 436.9,371.6 437.5,371.9 438.0,371.6 438.5,371.7 439.1,371.3 439.6,371.5 440.1,371.1 440.7,371.3 441.2,370.9 441.8,370.8 442.3,370.6 442.8,370.9 443.4,371.0 443.9,371.2 444.4,371.0 445.0,370.5 445.5,370.6 446.0,370.4 446.6,370.0 447.1,370.0 447.6,369.9 448.2,369.8 448.7,369.4 449.2,369.5 449.8,368.8 450.3,368.7 450.8,368.5 451.4,368.2 451.9,367.9 452.5,367.1 453.0,366.4 453.5,366.0 454.1,366.2 454.6,365.6 455.1,364.8 455.7,364.3 456.2,364.0 456.7,363.4 457.3,363.3 457.8,362.5 458.3,361.8 458.9,361.8 459.4,361.2 459.9,360.5 460.5,360.2 461.0,359.4 461.5,358.6 462.1,357.9 462.6,357.8 463.2,357.6 463.7,356.7 464.2,356.2 464.8,355.5 465.3,354.8 465.8,354.7 466.4,354.0 466.9,353.6 467.4,352.6 468.0,351.9 468.5,351.6 469.0,350.9 469.6,350.1 470.1,349.8 470.6,349.3 471.2,348.6 471.7,348.2 472.2,347.4 472.8,346.4 473.3,345.7 473.9,345.8 474.4,345.0 474.9,344.4 475.5,343.9 476.0,343.9 476.5,343.2 477.1,343.0 477.6,342.2 478.1,341.9 478.7,341.7 479.2,341.7 479.7,340.9 480.3,340.9 480.8,340.3 481.3,340.1 481.9,340.2 482.4,339.7 482.9,339.4 483.5,339.5 484.0,338.9 484.6,338.8 485.1,338.9 485.6,338.3 486.2,337.8 486.7,337.7 487.2,337.7 487.8,337.4 488.3,337.0 488.8,336.6 489.4,336.4 489.9,336.1 490.4,335.9 491.0,336.2 491.5,336.3 492.0,336.1 492.6,335.8 493.1,335.5 493.6,335.2 494.2,335.4 494.7,335.3 495.2,335.7 495.8,335.7 496.3,335.9 496.9,335.4 497.4,334.9 497.9,334.8 498.5,334.7 499.0,334.9 499.5,334.7 500.1,335.1 500.6,335.1 501.1,335.1 501.7,334.7 502.2,335.0 502.7,335.2 503.3,335.4 503.8,334.8 504.3,334.9 504.9,334.5 505.4,334.7 506.0,334.4 506.5,334.7 507.0,334.3 507.6,334.0 508.1,333.8 508.6,333.9 509.2,333.8 509.7,333.7 510.2,333.5 510.8,334.1 511.3,333.9 511.8,333.8 512.4,334.1 512.9,334.4 513.4,334.0 514.0,334.1 514.5,334.1 515.0,333.8 515.6,333.9 516.1,334.2 516.7,333.9 517.2,334.0 517.7,334.2 518.3,334.0 518.8,333.7 519.3,334.0 519.9,333.8 520.4,333.7 520.9,333.8 521.5,334.2 522.0,334.0 522.5,334.0 523.1,333.8 523.6,333.0 524.1,332.8 524.7,332.8 525.2,331.6 525.7,330.5 526.3,330.1 526.8,329.6 527.4,328.8 527.9,327.9 528.4,327.8 529.0,327.0 529.5,326.8 530.0,325.9 530.6,325.7 531.1,324.9 531.6,324.7 532.2,324.2 532.7,324.3 533.2,324.5 533.8,324.5 534.3,324.5 534.8,324.6 535.4,324.5 535.9,324.9 536.4,324.7 537.0,324.4 537.5,324.3 538.1,324.6 538.6,324.5 539.1,324.7 539.7,325.0 540.2,325.4 540.7,326.0 541.3,325.8 541.8,325.7 542.3,325.8 542.9,326.0 543.4,326.1 543.9,326.1 544.5,326.1 545.0,326.3 545.5,327.2 546.1,326.9 546.6,327.2 547.1,327.5 547.7,327.7 548.2,328.1 548.8,328.5 549.3,328.4 549.8,328.4 550.4,328.9 550.9,328.5 551.4,328.4 552.0,328.5 552.5,328.8 553.0,329.3 553.6,329.5 554.1,329.8" fill="none" stroke="#000" stroke-width="1.6" stroke-linejoin="round"/>
<polyline points="393.6,361.4 394.1,360.9 394.7,361.2 395.2,360.9 395.7,360.6 396.3,360.2 396.8,360.3 397.3,360.4 397.9,360.9 398.4,360.8 399.0,360.8 399.5,360.4 400.0,360.5 400.6,360.4 401.1,360.7 401.6,361.2 402.2,360.8 402.7,360.6 403.2,361.0 403.8,361.6 404.3,361.5 404.8,361.5 405.4,361.3 405.9,361.4 406.4,361.5 407.0,361.6 407.5,361.5 408.0,361.6 408.6,359.6 409.1,354.8 409.7,359.1 410.2,361.8 410.7,361.4 411.3,361.5 411.8,362.0 412.3,361.6 412.9,361.6 413.4,361.2 413.9,361.2 414.5,361.9 415.0,361.7 415.5,361.6 416.1,361.5 416.6,362.1 417.1,362.3 417.7,362.3 418.2,363.0 418.7,362.7 419.3,362.7 419.8,363.5 420.4,363.5 420.9,363.8 421.4,364.3 422.0,364.2 422.5,363.8 423.0,364.1 423.6,365.3 424.1,365.9 424.6,366.2 425.2,366.5 425.7,367.3 426.2,368.7 426.8,368.8 427.3,369.6 427.8,370.8 428.4,371.8 428.9,372.3 429.4,372.0 430.0,372.5 430.5,372.2 431.1,372.9 431.6,372.9 432.1,373.1 432.7,373.6 433.2,373.9 433.7,373.1 434.3,372.6 434.8,373.2 435.3,372.9 435.9,372.4 436.4,372.2 436.9,372.2 437.5,372.7 438.0,372.6 438.5,372.8 439.1,372.4 439.6,372.5 440.1,372.3 440.7,372.2 441.2,372.5 441.8,372.3 442.3,372.8 442.8,372.9 443.4,372.2 443.9,372.3 444.4,372.0 445.0,371.7 445.5,371.8 446.0,371.5 446.6,370.8 447.1,370.9 447.6,370.9 448.2,370.9 448.7,370.9 449.2,370.1 449.8,369.6 450.3,369.0 450.8,368.8 451.4,368.4 451.9,368.7 452.5,368.9 453.0,368.9 453.5,368.6 454.1,367.7 454.6,367.9 455.1,367.7 455.7,367.8 456.2,367.9 456.7,367.3 457.3,366.8 457.8,366.5 458.3,365.8 458.9,365.3 459.4,364.9 459.9,364.9 460.5,365.1 461.0,365.3 461.5,364.6 462.1,364.8 462.6,364.9 463.2,364.1 463.7,364.2 464.2,363.6 464.8,363.6 465.3,363.2 465.8,363.3 466.4,362.9 466.9,362.6 467.4,362.4 468.0,362.3 468.5,361.7 469.0,361.1 469.6,361.1 470.1,361.2 470.6,360.9 471.2,360.2 471.7,359.9 472.2,359.2 472.8,359.2 473.3,358.4 473.9,358.3 474.4,358.0 474.9,357.1 475.5,356.7 476.0,356.0 476.5,355.9 477.1,355.2 477.6,355.0 478.1,354.5 478.7,354.1 479.2,353.2 479.7,352.6 480.3,352.3 480.8,351.7 481.3,351.4 481.9,350.9 482.4,350.5 482.9,350.0 483.5,349.8 484.0,348.7 484.6,348.1 485.1,347.4 485.6,346.9 486.2,347.0 486.7,346.7 487.2,345.5 487.8,344.8 488.3,343.9 488.8,343.1 489.4,343.3 489.9,342.6 490.4,342.5 491.0,342.2 491.5,342.1 492.0,342.3 492.6,342.0 493.1,341.8 493.6,341.7 494.2,341.6 494.7,341.2 495.2,341.1 495.8,341.1 496.3,340.3 496.9,340.1 497.4,339.8 497.9,339.0 498.5,338.4 499.0,338.2 499.5,338.1 500.1,337.3 500.6,337.3 501.1,336.9 501.7,336.5 502.2,334.9 502.7,333.7 503.3,331.9 503.8,330.3 504.3,329.1 504.9,327.6 505.4,325.4 506.0,324.0 506.5,323.3 507.0,322.5 507.6,320.8 508.1,319.7 508.6,318.7 509.2,318.0 509.7,318.0 510.2,317.6 510.8,316.7 511.3,316.8 511.8,316.8 512.4,316.0 512.9,315.6 513.4,315.5 514.0,315.8 514.5,315.1 515.0,315.2 515.6,314.6 516.1,314.6 516.7,314.6 517.2,313.9 517.7,313.6 518.3,313.3 518.8,312.9 519.3,312.6 519.9,312.1 520.4,311.5 520.9,311.5 521.5,310.7 522.0,310.3 522.5,309.5 523.1,309.1 523.6,308.1 524.1,307.7 524.7,306.7 525.2,305.7 525.7,305.0 526.3,304.3 526.8,303.1 527.4,302.7 527.9,303.0 528.4,302.7 529.0,302.8 529.5,301.9 530.0,301.2 530.6,301.4 531.1,301.0 531.6,301.1 532.2,300.3 532.7,300.3 533.2,300.8 533.8,300.5 534.3,300.9 534.8,300.4 535.4,300.0 535.9,300.1 536.4,300.6 537.0,300.4 537.5,301.2 538.1,301.7 538.6,301.8 539.1,302.2 539.7,301.7 540.2,301.7 540.7,301.6 541.3,301.8 541.8,302.4 542.3,302.8 542.9,302.7 543.4,302.6 543.9,302.8 544.5,303.4 545.0,303.4 545.5,303.8 546.1,304.0 546.6,304.0 547.1,304.2 547.7,304.7 548.2,305.0 548.8,305.6 549.3,305.8 549.8,305.6 550.4,305.9 550.9,306.6 551.4,306.3 552.0,306.8 552.5,307.4 553.0,307.2 553.6,307.0 554.1,307.6" fill="none" stroke="#ff1a1a" stroke-width="1.6" stroke-linejoin="round"/>
<polyline points="393.6,364.7 394.1,365.2 394.7,365.3 395.2,365.4 395.7,364.9 396.3,364.7 396.8,364.3 397.3,364.9 397.9,365.0 398.4,365.4 399.0,365.4 399.5,365.3 400.0,365.7 400.6,365.8 401.1,365.4 401.6,365.4 402.2,365.7 402.7,365.5 403.2,365.3 403.8,365.9 404.3,365.6 404.8,365.4 405.4,365.8 405.9,366.2 406.4,365.6 407.0,365.9 407.5,366.4 408.0,366.7 408.6,366.1 409.1,366.0 409.7,365.7 410.2,365.7 410.7,365.9 411.3,365.6 411.8,366.0 412.3,366.1 412.9,365.9 413.4,366.0 413.9,365.8 414.5,366.0 415.0,366.1 415.5,366.8 416.1,367.0 416.6,367.1 417.1,367.4 417.7,367.5 418.2,367.6 418.7,367.6 419.3,367.2 419.8,367.2 420.4,367.3 420.9,367.6 421.4,367.9 422.0,367.4 422.5,367.4 423.0,367.6 423.6,368.2 424.1,368.1 424.6,368.6 425.2,368.8 425.7,368.4 426.2,368.6 426.8,369.0 427.3,369.1 427.8,369.2 428.4,369.4 428.9,370.2 429.4,370.9 430.0,371.2 430.5,371.5 431.1,371.9 431.6,371.4 432.1,371.2 432.7,371.7 433.2,371.8 433.7,372.1 434.3,371.9 434.8,372.3 435.3,372.8 435.9,373.2 436.4,373.2 436.9,373.4 437.5,373.3 438.0,372.9 438.5,373.3 439.1,373.7 439.6,373.2 440.1,373.4 440.7,374.0 441.2,374.4 441.8,374.7 442.3,374.2 442.8,373.8 443.4,373.9 443.9,374.4 444.4,374.3 445.0,373.6 445.5,373.7 446.0,373.3 446.6,373.2 447.1,374.0 447.6,373.6 448.2,373.4 448.7,373.4 449.2,373.7 449.8,373.4 450.3,373.7 450.8,373.6 451.4,373.4 451.9,372.8 452.5,372.4 453.0,372.7 453.5,372.6 454.1,372.8 454.6,372.1 455.1,371.6 455.7,371.9 456.2,371.6 456.7,371.4 457.3,371.7 457.8,371.2 458.3,370.9 458.9,370.5 459.4,370.4 459.9,370.7 460.5,370.5 461.0,370.7 461.5,369.7 462.1,369.0 462.6,368.5 463.2,368.6 463.7,368.7 464.2,367.8 464.8,367.1 465.3,367.4 465.8,367.0 466.4,367.8 466.9,367.7 467.4,367.7 468.0,368.6 468.5,368.9 469.0,369.1 469.6,369.7 470.1,368.8 470.6,368.0 471.2,367.2 471.7,366.0 472.2,364.7 472.8,364.1 473.3,363.1 473.9,361.5 474.4,360.9 474.9,360.6 475.5,360.1 476.0,360.1 476.5,359.7 477.1,359.2 477.6,358.4 478.1,358.1 478.7,357.1 479.2,355.5 479.7,353.2 480.3,351.6 480.8,349.1 481.3,347.0 481.9,345.8 482.4,344.2 482.9,342.0 483.5,340.5 484.0,339.2 484.6,337.1 485.1,335.7 485.6,334.4 486.2,332.8 486.7,331.3 487.2,330.4 487.8,329.5 488.3,328.0 488.8,326.6 489.4,325.3 489.9,324.0 490.4,322.8 491.0,321.3 491.5,321.0 492.0,320.0 492.6,319.1 493.1,317.6 493.6,316.9 494.2,316.1 494.7,315.0 495.2,313.9 495.8,313.0 496.3,312.0 496.9,310.6 497.4,310.3 497.9,309.5 498.5,309.1 499.0,309.3 499.5,308.2 500.1,307.5 500.6,306.8 501.1,306.2 501.7,305.8 502.2,306.0 502.7,305.7 503.3,305.5 503.8,305.1 504.3,305.0 504.9,304.5 505.4,303.3 506.0,303.2 506.5,302.4 507.0,302.1 507.6,301.8 508.1,300.9 508.6,300.1 509.2,300.0 509.7,299.5 510.2,299.7 510.8,299.6 511.3,299.0 511.8,298.9 512.4,298.9 512.9,298.7 513.4,299.2 514.0,299.0 514.5,298.9 515.0,298.4 515.6,298.9 516.1,298.2 516.7,298.8 517.2,299.0 517.7,298.7 518.3,298.5 518.8,298.8 519.3,299.1 519.9,298.5 520.4,298.8 520.9,298.6 521.5,298.4 522.0,298.6 522.5,298.5 523.1,297.0 523.6,295.0 524.1,294.0 524.7,292.3 525.2,291.1 525.7,289.6 526.3,287.8 526.8,286.4 527.4,285.0 527.9,284.3 528.4,284.5 529.0,284.1 529.5,283.1 530.0,282.4 530.6,282.9 531.1,282.9 531.6,282.7 532.2,281.7 532.7,280.9 533.2,280.3 533.8,280.3 534.3,280.3 534.8,279.5 535.4,278.9 535.9,278.5 536.4,277.7 537.0,277.7 537.5,278.5 538.1,278.2 538.6,278.6 539.1,278.5 539.7,278.2 540.2,279.0 540.7,279.6 541.3,280.1 541.8,280.0 542.3,280.4 542.9,280.3 543.4,280.2 543.9,280.8 544.5,280.7 545.0,281.1 545.5,281.2 546.1,280.9 546.6,280.9 547.1,281.7 547.7,281.9 548.2,282.2 548.8,282.8 549.3,282.4 549.8,282.4 550.4,282.8 550.9,282.7 551.4,282.8 552.0,283.1 552.5,283.8 553.0,284.2 553.6,283.7 554.1,283.4" fill="none" stroke="#1a1aff" stroke-width="1.6" stroke-linejoin="round"/>
<line x1="393.00" y1="264.10" x2="393.00" y2="385.40" stroke="#000" stroke-width="1.5"/>
<line x1="392.30" y1="368.70" x2="552.60" y2="368.70" stroke="#000" stroke-width="1.5"/>
<line x1="388.30" y1="368.70" x2="393.00" y2="368.70" stroke="#000" stroke-width="1.3"/>
<text x="386.20" y="372.10" font-size="9.5" text-anchor="end">0</text>
<line x1="388.30" y1="325.40" x2="393.00" y2="325.40" stroke="#000" stroke-width="1.3"/>
<text x="386.20" y="328.80" font-size="9.5" text-anchor="end">50</text>
<line x1="388.30" y1="282.10" x2="393.00" y2="282.10" stroke="#000" stroke-width="1.3"/>
<text x="386.20" y="285.50" font-size="9.5" text-anchor="end">100</text>
<line x1="425.70" y1="368.70" x2="425.70" y2="373.00" stroke="#000" stroke-width="1.3"/>
<text x="425.70" y="382.00" font-size="9.5" text-anchor="middle">120</text>
<line x1="457.80" y1="368.70" x2="457.80" y2="373.00" stroke="#000" stroke-width="1.3"/>
<text x="457.80" y="382.00" font-size="9.5" text-anchor="middle">240</text>
<line x1="489.90" y1="368.70" x2="489.90" y2="373.00" stroke="#000" stroke-width="1.3"/>
<text x="489.90" y="382.00" font-size="9.5" text-anchor="middle">360</text>
<line x1="522.00" y1="368.70" x2="522.00" y2="373.00" stroke="#000" stroke-width="1.3"/>
<text x="522.00" y="382.00" font-size="9.5" text-anchor="middle">480</text>
<line x1="554.10" y1="368.70" x2="554.10" y2="373.00" stroke="#000" stroke-width="1.3"/>
<text x="554.10" y="382.00" font-size="9.5" text-anchor="middle">600</text>
<text x="458.20" y="393.80" font-size="10.3">Time (s)</text>
<text x="367.8" y="320.8" font-size="10.45" text-anchor="middle" transform="rotate(-90 367.8 320.8)">GCaMP5 (ΔF/F<tspan font-size="70%" dy="1.4">o</tspan><tspan dy="-1.4">,  %)</tspan></text>
<line x1="402.20" y1="268.80" x2="411.70" y2="268.80" stroke="#000" stroke-width="1.8"/>
<text x="415.00" y="272.20" font-size="9.6">WT</text>
<line x1="402.20" y1="278.30" x2="411.70" y2="278.30" stroke="#1a1aff" stroke-width="1.8"/>
<text x="415.00" y="281.70" font-size="9.6" font-style="italic">unc-13</text>
<line x1="402.20" y1="287.80" x2="411.70" y2="287.80" stroke="#ff1a1a" stroke-width="1.8"/>
<text x="415.00" y="291.20" font-size="9.6" font-style="italic">unc-31</text>
<rect x="611.90" y="330.19" width="16.10" height="30.01" fill="#c8c8c8"/>
<path d="M611.90,360.20V330.19H628.00V360.20" fill="none" stroke="#000" stroke-width="1.3"/>
<rect x="636.40" y="308.41" width="15.20" height="51.79" fill="#babdf6"/>
<path d="M636.40,360.20V308.41H651.60V360.20" fill="none" stroke="#1a1aff" stroke-width="1.8"/>
<rect x="660.50" y="322.45" width="15.60" height="37.75" fill="#fcd5d5"/>
<path d="M660.50,360.20V322.45H676.10V360.20" fill="none" stroke="#ff1a1a" stroke-width="1.8"/>
<circle cx="616.36" cy="304.54" r="1.6" fill="#fff" stroke="#8a8a8a" stroke-width="0.7"/>
<circle cx="619.98" cy="309.38" r="1.6" fill="#fff" stroke="#8a8a8a" stroke-width="0.7"/>
<circle cx="615.22" cy="315.67" r="1.6" fill="#fff" stroke="#8a8a8a" stroke-width="0.7"/>
<circle cx="624.45" cy="315.19" r="1.6" fill="#fff" stroke="#8a8a8a" stroke-width="0.7"/>
<circle cx="616.19" cy="316.64" r="1.6" fill="#fff" stroke="#8a8a8a" stroke-width="0.7"/>
<circle cx="620.68" cy="321.48" r="1.6" fill="#fff" stroke="#8a8a8a" stroke-width="0.7"/>
<circle cx="625.92" cy="320.51" r="1.6" fill="#fff" stroke="#8a8a8a" stroke-width="0.7"/>
<circle cx="618.51" cy="323.90" r="1.6" fill="#fff" stroke="#8a8a8a" stroke-width="0.7"/>
<circle cx="626.50" cy="325.35" r="1.6" fill="#fff" stroke="#8a8a8a" stroke-width="0.7"/>
<circle cx="623.19" cy="328.74" r="1.6" fill="#fff" stroke="#8a8a8a" stroke-width="0.7"/>
<circle cx="620.62" cy="332.13" r="1.6" fill="#fff" stroke="#8a8a8a" stroke-width="0.7"/>
<circle cx="621.75" cy="333.58" r="1.6" fill="#fff" stroke="#8a8a8a" stroke-width="0.7"/>
<circle cx="621.15" cy="336.97" r="1.6" fill="#fff" stroke="#8a8a8a" stroke-width="0.7"/>
<circle cx="617.99" cy="340.84" r="1.6" fill="#fff" stroke="#8a8a8a" stroke-width="0.7"/>
<circle cx="626.90" cy="344.71" r="1.6" fill="#fff" stroke="#8a8a8a" stroke-width="0.7"/>
<circle cx="618.60" cy="346.65" r="1.6" fill="#fff" stroke="#8a8a8a" stroke-width="0.7"/>
<circle cx="626.72" cy="349.55" r="1.6" fill="#fff" stroke="#8a8a8a" stroke-width="0.7"/>
<circle cx="624.89" cy="351.49" r="1.6" fill="#fff" stroke="#8a8a8a" stroke-width="0.7"/>
<circle cx="613.35" cy="354.39" r="1.6" fill="#fff" stroke="#8a8a8a" stroke-width="0.7"/>
<circle cx="616.56" cy="355.36" r="1.6" fill="#fff" stroke="#8a8a8a" stroke-width="0.7"/>
<circle cx="619.64" cy="331.16" r="1.6" fill="#fff" stroke="#8a8a8a" stroke-width="0.7"/>
<circle cx="641.50" cy="263.40" r="1.6" fill="#fff" stroke="#8a8a8a" stroke-width="0.7"/>
<circle cx="644.00" cy="268.24" r="1.6" fill="#fff" stroke="#8a8a8a" stroke-width="0.7"/>
<circle cx="646.50" cy="274.05" r="1.6" fill="#fff" stroke="#8a8a8a" stroke-width="0.7"/>
<circle cx="641.50" cy="278.89" r="1.6" fill="#fff" stroke="#8a8a8a" stroke-width="0.7"/>
<circle cx="646.50" cy="286.63" r="1.6" fill="#fff" stroke="#8a8a8a" stroke-width="0.7"/>
<circle cx="644.00" cy="286.63" r="1.6" fill="#fff" stroke="#8a8a8a" stroke-width="0.7"/>
<circle cx="644.00" cy="297.28" r="1.6" fill="#fff" stroke="#8a8a8a" stroke-width="0.7"/>
<circle cx="639.23" cy="311.80" r="1.6" fill="#fff" stroke="#8a8a8a" stroke-width="0.7"/>
<circle cx="650.93" cy="312.77" r="1.6" fill="#fff" stroke="#8a8a8a" stroke-width="0.7"/>
<circle cx="642.78" cy="311.80" r="1.6" fill="#fff" stroke="#8a8a8a" stroke-width="0.7"/>
<circle cx="639.56" cy="313.25" r="1.6" fill="#fff" stroke="#8a8a8a" stroke-width="0.7"/>
<circle cx="641.85" cy="321.48" r="1.6" fill="#fff" stroke="#8a8a8a" stroke-width="0.7"/>
<circle cx="645.83" cy="326.32" r="1.6" fill="#fff" stroke="#8a8a8a" stroke-width="0.7"/>
<circle cx="637.48" cy="327.29" r="1.6" fill="#fff" stroke="#8a8a8a" stroke-width="0.7"/>
<circle cx="642.42" cy="335.03" r="1.6" fill="#fff" stroke="#8a8a8a" stroke-width="0.7"/>
<circle cx="637.16" cy="338.42" r="1.6" fill="#fff" stroke="#8a8a8a" stroke-width="0.7"/>
<circle cx="637.97" cy="346.65" r="1.6" fill="#fff" stroke="#8a8a8a" stroke-width="0.7"/>
<circle cx="639.38" cy="350.52" r="1.6" fill="#fff" stroke="#8a8a8a" stroke-width="0.7"/>
<circle cx="640.23" cy="323.90" r="1.6" fill="#fff" stroke="#8a8a8a" stroke-width="0.7"/>
<circle cx="668.30" cy="270.66" r="1.6" fill="#fff" stroke="#8a8a8a" stroke-width="0.7"/>
<circle cx="670.80" cy="284.21" r="1.6" fill="#fff" stroke="#8a8a8a" stroke-width="0.7"/>
<circle cx="668.33" cy="310.35" r="1.6" fill="#fff" stroke="#8a8a8a" stroke-width="0.7"/>
<circle cx="668.06" cy="322.45" r="1.6" fill="#fff" stroke="#8a8a8a" stroke-width="0.7"/>
<circle cx="671.35" cy="326.32" r="1.6" fill="#fff" stroke="#8a8a8a" stroke-width="0.7"/>
<circle cx="666.35" cy="330.19" r="1.6" fill="#fff" stroke="#8a8a8a" stroke-width="0.7"/>
<circle cx="667.66" cy="336.00" r="1.6" fill="#fff" stroke="#8a8a8a" stroke-width="0.7"/>
<circle cx="661.74" cy="338.42" r="1.6" fill="#fff" stroke="#8a8a8a" stroke-width="0.7"/>
<circle cx="674.31" cy="340.84" r="1.6" fill="#fff" stroke="#8a8a8a" stroke-width="0.7"/>
<circle cx="674.06" cy="342.29" r="1.6" fill="#fff" stroke="#8a8a8a" stroke-width="0.7"/>
<circle cx="674.99" cy="343.26" r="1.6" fill="#fff" stroke="#8a8a8a" stroke-width="0.7"/>
<circle cx="666.11" cy="331.16" r="1.6" fill="#fff" stroke="#8a8a8a" stroke-width="0.7"/>
<line x1="619.95" y1="326.32" x2="619.95" y2="333.58" stroke="#000" stroke-width="1.6"/>
<line x1="615.95" y1="326.32" x2="623.95" y2="326.32" stroke="#000" stroke-width="1.6"/>
<line x1="615.95" y1="333.58" x2="623.95" y2="333.58" stroke="#000" stroke-width="1.6"/>
<text x="619.95" y="369.00" font-size="9.2" text-anchor="middle" fill="#953f9f">21</text>
<line x1="644.00" y1="302.60" x2="644.00" y2="313.74" stroke="#1a1aff" stroke-width="1.6"/>
<line x1="640.00" y1="302.60" x2="648.00" y2="302.60" stroke="#1a1aff" stroke-width="1.6"/>
<line x1="640.00" y1="313.74" x2="648.00" y2="313.74" stroke="#1a1aff" stroke-width="1.6"/>
<text x="644.00" y="369.00" font-size="9.2" text-anchor="middle" fill="#953f9f">19</text>
<line x1="668.30" y1="315.19" x2="668.30" y2="329.22" stroke="#ff1a1a" stroke-width="1.6"/>
<line x1="664.30" y1="315.19" x2="672.30" y2="315.19" stroke="#ff1a1a" stroke-width="1.6"/>
<line x1="664.30" y1="329.22" x2="672.30" y2="329.22" stroke="#ff1a1a" stroke-width="1.6"/>
<text x="668.30" y="369.00" font-size="9.2" text-anchor="middle" fill="#953f9f">12</text>
<line x1="604.70" y1="238.20" x2="604.70" y2="360.90" stroke="#000" stroke-width="1.5"/>
<line x1="604.00" y1="360.20" x2="685.00" y2="360.20" stroke="#000" stroke-width="1.5"/>
<line x1="600.50" y1="360.20" x2="604.70" y2="360.20" stroke="#000" stroke-width="1.3"/>
<text x="600.00" y="363.70" font-size="10" text-anchor="end">0</text>
<line x1="600.50" y1="336.00" x2="604.70" y2="336.00" stroke="#000" stroke-width="1.3"/>
<text x="600.00" y="339.50" font-size="10" text-anchor="end">50</text>
<line x1="600.50" y1="311.80" x2="604.70" y2="311.80" stroke="#000" stroke-width="1.3"/>
<text x="600.00" y="315.30" font-size="10" text-anchor="end">100</text>
<line x1="600.50" y1="287.60" x2="604.70" y2="287.60" stroke="#000" stroke-width="1.3"/>
<text x="600.00" y="291.10" font-size="10" text-anchor="end">150</text>
<line x1="600.50" y1="263.40" x2="604.70" y2="263.40" stroke="#000" stroke-width="1.3"/>
<text x="600.00" y="266.90" font-size="10" text-anchor="end">200</text>
<line x1="600.50" y1="239.20" x2="604.70" y2="239.20" stroke="#000" stroke-width="1.3"/>
<text x="600.00" y="242.70" font-size="10" text-anchor="end">250</text>
<text x="578.3" y="306.2" font-size="10.5" text-anchor="middle" transform="rotate(-90 578.3 306.2)">Maximum GCaMP5 (ΔF/F<tspan font-size="70%" dy="1.4">o</tspan><tspan dy="-1.4">,  %)</tspan></text>
<text x="623.80" y="375.10" font-size="9.5" text-anchor="end" transform="rotate(-45 623.80 375.10)">WT</text>
<text x="649.00" y="375.50" font-size="9.5" text-anchor="end" font-style="italic" transform="rotate(-45 649.00 375.50)">unc-13</text>
<text x="674.00" y="375.30" font-size="9.5" text-anchor="end" font-style="italic" transform="rotate(-45 674.00 375.30)">unc-31</text>
<path d="M618.40,244.10 Q618.40,242.30 619.40,242.30 L666.20,242.30 Q667.20,242.30 667.20,244.10" fill="none" stroke="#1a1a1a" stroke-width="1.2"/>
<text x="623.90" y="239.00" font-size="8.3">ns</text>
<text x="639.60" y="239.00" font-size="8.3"><tspan font-style="italic">p</tspan>=0.2348</text>
<path d="M618.40,258.10 Q618.40,256.30 619.40,256.30 L642.90,256.30 Q643.90,256.30 643.90,258.10" fill="none" stroke="#1a1a1a" stroke-width="1.2"/>
<polygon points="621.40,248.60 622.07,250.38 623.97,250.47 622.48,251.65 622.99,253.48 621.40,252.43 619.81,253.48 620.32,251.65 618.83,250.47 620.73,250.38" fill="#000"/>
<polygon points="626.90,248.60 627.57,250.38 629.47,250.47 627.98,251.65 628.49,253.48 626.90,252.43 625.31,253.48 625.82,251.65 624.33,250.47 626.23,250.38" fill="#000"/>
<text x="632.30" y="252.70" font-size="8.3"><tspan font-style="italic">p</tspan>=0.0013</text>
<text x="-1.00" y="428.00" font-size="20">e</text>
<text x="19.80" y="435.70" font-size="10.45" fill="#179a48" font-weight="bold">Isolated AMsh glial cell</text>
<polyline points="31.7,454.9 89.3,454.9 95.2,465.0 262.8,465.0" fill="none" stroke="#3a3333" stroke-width="1.05" stroke-linejoin="round"/>
<text x="48.60" y="452.10" font-size="8.3">20 °C</text>
<text x="108.40" y="462.40" font-size="8.3">10 °C</text>
<text x="172.30" y="462.80" font-size="10.5">WT</text>
<rect x="31.70" y="471.90" width="231.70" height="3.90" fill="url(#hg74)"/>
<rect x="31.70" y="475.00" width="231.70" height="3.90" fill="url(#hg75)"/>
<rect x="31.70" y="478.10" width="231.70" height="3.90" fill="url(#hg76)"/>
<rect x="31.70" y="481.20" width="231.70" height="3.90" fill="url(#hg77)"/>
<rect x="31.70" y="484.30" width="231.70" height="3.90" fill="url(#hg78)"/>
<rect x="31.70" y="487.40" width="231.70" height="3.90" fill="url(#hg79)"/>
<rect x="31.70" y="490.50" width="231.70" height="3.90" fill="url(#hg80)"/>
<rect x="31.70" y="493.60" width="231.70" height="3.90" fill="url(#hg81)"/>
<rect x="31.70" y="496.70" width="231.70" height="3.90" fill="url(#hg82)"/>
<rect x="31.70" y="499.80" width="231.70" height="3.90" fill="url(#hg83)"/>
<rect x="31.70" y="502.90" width="231.70" height="3.90" fill="url(#hg84)"/>
<rect x="31.70" y="506.00" width="231.70" height="3.90" fill="url(#hg85)"/>
<rect x="31.70" y="509.10" width="231.70" height="3.90" fill="url(#hg86)"/>
<rect x="31.70" y="512.20" width="231.70" height="3.90" fill="url(#hg87)"/>
<rect x="31.70" y="515.30" width="231.70" height="3.90" fill="url(#hg88)"/>
<rect x="31.70" y="518.40" width="231.70" height="3.10" fill="url(#hg89)"/>
<rect x="31.70" y="471.90" width="231.70" height="49.60" fill="url(#tx90)"/>
<rect x="31.70" y="471.90" width="231.70" height="49.60" fill="none" stroke="#000" stroke-width="1.3"/>
<text x="29.80" y="475.40" font-size="7" text-anchor="end">16</text>
<text x="29.80" y="522.50" font-size="7" text-anchor="end">1</text>
<line x1="31.70" y1="521.50" x2="31.70" y2="527.00" stroke="#000" stroke-width="1.2"/>
<line x1="229.90" y1="521.50" x2="229.90" y2="527.00" stroke="#000" stroke-width="1.2"/>
<text x="31.70" y="538.00" font-size="9" text-anchor="middle">1</text>
<text x="227.80" y="538.20" font-size="9" text-anchor="middle">360</text>
<text x="132.30" y="535.20" font-size="9.3">Time (s)</text>
<rect x="280.40" y="472.10" width="8.70" height="49.70" fill="url(#cb91)" stroke="#000" stroke-width="1.2"/>
<line x1="280.40" y1="482.31" x2="281.90" y2="482.31" stroke="#000" stroke-width="0.8"/>
<line x1="287.60" y1="482.31" x2="289.10" y2="482.31" stroke="#000" stroke-width="0.8"/>
<text x="291.00" y="484.71" font-size="8">20</text>
<line x1="280.40" y1="492.04" x2="281.90" y2="492.04" stroke="#000" stroke-width="0.8"/>
<line x1="287.60" y1="492.04" x2="289.10" y2="492.04" stroke="#000" stroke-width="0.8"/>
<text x="291.00" y="494.44" font-size="8">10</text>
<line x1="280.40" y1="501.76" x2="281.90" y2="501.76" stroke="#000" stroke-width="0.8"/>
<line x1="287.60" y1="501.76" x2="289.10" y2="501.76" stroke="#000" stroke-width="0.8"/>
<text x="291.00" y="504.16" font-size="8">0</text>
<line x1="280.40" y1="511.49" x2="281.90" y2="511.49" stroke="#000" stroke-width="0.8"/>
<line x1="287.60" y1="511.49" x2="289.10" y2="511.49" stroke="#000" stroke-width="0.8"/>
<text x="291.00" y="513.89" font-size="8">-10</text>
<text x="313.50" y="495.90" font-size="7.9" text-anchor="middle" transform="rotate(-90 313.50 495.90)">GCaMP5 (ΔF/F<tspan font-size="70%" dy="1.5">o</tspan><tspan dy="-1.5">, %)</tspan></text>
<polyline points="32.8,566.7 85.8,566.7 90.9,556.1 216.1,556.1 220.5,566.2 262.8,566.2" fill="none" stroke="#3a3333" stroke-width="1.05" stroke-linejoin="round"/>
<text x="49.90" y="563.90" font-size="8.3">20 °C</text>
<text x="102.50" y="553.00" font-size="8.3">28 °C</text>
<text x="232.20" y="562.70" font-size="8.3">20 °C</text>
<text x="172.30" y="566.50" font-size="10.5">WT</text>
<rect x="32.20" y="570.30" width="231.20" height="3.27" fill="url(#hg92)"/>
<rect x="32.20" y="572.76" width="231.20" height="3.27" fill="url(#hg93)"/>
<rect x="32.20" y="575.23" width="231.20" height="3.27" fill="url(#hg94)"/>
<rect x="32.20" y="577.69" width="231.20" height="3.27" fill="url(#hg95)"/>
<rect x="32.20" y="580.16" width="231.20" height="3.27" fill="url(#hg96)"/>
<rect x="32.20" y="582.62" width="231.20" height="3.27" fill="url(#hg97)"/>
<rect x="32.20" y="585.09" width="231.20" height="3.27" fill="url(#hg98)"/>
<rect x="32.20" y="587.55" width="231.20" height="3.27" fill="url(#hg99)"/>
<rect x="32.20" y="590.02" width="231.20" height="3.27" fill="url(#hg100)"/>
<rect x="32.20" y="592.49" width="231.20" height="3.27" fill="url(#hg101)"/>
<rect x="32.20" y="594.95" width="231.20" height="3.27" fill="url(#hg102)"/>
<rect x="32.20" y="597.41" width="231.20" height="3.27" fill="url(#hg103)"/>
<rect x="32.20" y="599.88" width="231.20" height="3.27" fill="url(#hg104)"/>
<rect x="32.20" y="602.35" width="231.20" height="3.27" fill="url(#hg105)"/>
<rect x="32.20" y="604.81" width="231.20" height="3.27" fill="url(#hg106)"/>
<rect x="32.20" y="607.27" width="231.20" height="3.27" fill="url(#hg107)"/>
<rect x="32.20" y="609.74" width="231.20" height="3.27" fill="url(#hg108)"/>
<rect x="32.20" y="612.21" width="231.20" height="3.27" fill="url(#hg109)"/>
<rect x="32.20" y="614.67" width="231.20" height="3.27" fill="url(#hg110)"/>
<rect x="32.20" y="617.13" width="231.20" height="2.47" fill="url(#hg111)"/>
<rect x="32.20" y="570.30" width="231.20" height="49.30" fill="url(#tx112)"/>
<rect x="32.20" y="570.30" width="231.20" height="49.30" fill="none" stroke="#000" stroke-width="1.3"/>
<text x="30.40" y="573.60" font-size="7" text-anchor="end">20</text>
<text x="30.40" y="621.40" font-size="7" text-anchor="end">1</text>
<line x1="32.20" y1="619.60" x2="32.20" y2="625.00" stroke="#000" stroke-width="1.2"/>
<line x1="263.40" y1="619.60" x2="263.40" y2="625.00" stroke="#000" stroke-width="1.2"/>
<text x="32.20" y="632.50" font-size="9" text-anchor="middle">1</text>
<text x="262.30" y="633.00" font-size="9" text-anchor="middle">600</text>
<text x="136.60" y="632.50" font-size="9.3">Time (s)</text>
<rect x="280.40" y="570.60" width="9.30" height="49.70" fill="url(#cb113)" stroke="#000" stroke-width="1.2"/>
<line x1="280.40" y1="581.64" x2="281.90" y2="581.64" stroke="#000" stroke-width="0.8"/>
<line x1="288.20" y1="581.64" x2="289.70" y2="581.64" stroke="#000" stroke-width="0.8"/>
<text x="291.00" y="584.04" font-size="8">50</text>
<line x1="280.40" y1="598.90" x2="281.90" y2="598.90" stroke="#000" stroke-width="0.8"/>
<line x1="288.20" y1="598.90" x2="289.70" y2="598.90" stroke="#000" stroke-width="0.8"/>
<text x="291.00" y="601.30" font-size="8">0</text>
<line x1="280.40" y1="616.16" x2="281.90" y2="616.16" stroke="#000" stroke-width="0.8"/>
<line x1="288.20" y1="616.16" x2="289.70" y2="616.16" stroke="#000" stroke-width="0.8"/>
<text x="291.00" y="618.56" font-size="8">-50</text>
<text x="313.50" y="594.00" font-size="7.9" text-anchor="middle" transform="rotate(-90 313.50 594.00)">GCaMP5 (ΔF/F<tspan font-size="70%" dy="1.5">o</tspan><tspan dy="-1.5">, %)</tspan></text>
<polyline points="33.3,660.2 86.5,660.2 92.0,650.0 217.0,650.0 222.0,659.8 263.7,659.8" fill="none" stroke="#3a3333" stroke-width="1.05" stroke-linejoin="round"/>
<text x="51.00" y="658.00" font-size="8.3">20 °C</text>
<text x="102.90" y="647.10" font-size="8.3">28 °C</text>
<text x="233.60" y="655.70" font-size="8.3">20 °C</text>
<text x="136.40" y="659.80" font-size="10.5" font-style="italic">pde-1,2,3,5</text>
<rect x="31.70" y="663.50" width="231.40" height="5.68" fill="url(#hg114)"/>
<rect x="31.70" y="668.38" width="231.40" height="5.68" fill="url(#hg115)"/>
<rect x="31.70" y="673.26" width="231.40" height="5.68" fill="url(#hg116)"/>
<rect x="31.70" y="678.14" width="231.40" height="5.68" fill="url(#hg117)"/>
<rect x="31.70" y="683.02" width="231.40" height="5.68" fill="url(#hg118)"/>
<rect x="31.70" y="687.90" width="231.40" height="5.68" fill="url(#hg119)"/>
<rect x="31.70" y="692.78" width="231.40" height="5.68" fill="url(#hg120)"/>
<rect x="31.70" y="697.66" width="231.40" height="5.68" fill="url(#hg121)"/>
<rect x="31.70" y="702.54" width="231.40" height="5.68" fill="url(#hg122)"/>
<rect x="31.70" y="707.42" width="231.40" height="4.88" fill="url(#hg123)"/>
<rect x="31.70" y="663.50" width="231.40" height="48.80" fill="url(#tx124)"/>
<rect x="31.70" y="663.50" width="231.40" height="48.80" fill="none" stroke="#000" stroke-width="1.3"/>
<text x="31.00" y="667.50" font-size="7" text-anchor="end">10</text>
<text x="31.00" y="715.30" font-size="7" text-anchor="end">1</text>
<line x1="31.70" y1="712.30" x2="31.70" y2="717.00" stroke="#000" stroke-width="1.2"/>
<line x1="263.10" y1="712.30" x2="263.10" y2="717.00" stroke="#000" stroke-width="1.2"/>
<text x="31.70" y="727.00" font-size="9" text-anchor="middle">1</text>
<text x="262.80" y="726.60" font-size="9" text-anchor="middle">600</text>
<text x="138.10" y="726.90" font-size="9.3">Time (s)</text>
<rect x="280.40" y="663.60" width="8.70" height="48.70" fill="url(#cb125)" stroke="#000" stroke-width="1.2"/>
<line x1="280.40" y1="673.76" x2="281.90" y2="673.76" stroke="#000" stroke-width="0.8"/>
<line x1="287.60" y1="673.76" x2="289.10" y2="673.76" stroke="#000" stroke-width="0.8"/>
<text x="291.00" y="676.16" font-size="8">50</text>
<line x1="280.40" y1="691.28" x2="281.90" y2="691.28" stroke="#000" stroke-width="0.8"/>
<line x1="287.60" y1="691.28" x2="289.10" y2="691.28" stroke="#000" stroke-width="0.8"/>
<text x="291.00" y="693.68" font-size="8">0</text>
<line x1="280.40" y1="708.80" x2="281.90" y2="708.80" stroke="#000" stroke-width="0.8"/>
<line x1="287.60" y1="708.80" x2="289.10" y2="708.80" stroke="#000" stroke-width="0.8"/>
<text x="291.00" y="711.20" font-size="8">-50</text>
<text x="313.50" y="688.00" font-size="7.9" text-anchor="middle" transform="rotate(-90 313.50 688.00)">GCaMP5 (ΔF/F<tspan font-size="70%" dy="1.5">o</tspan><tspan dy="-1.5">, %)</tspan></text>
<text x="350.00" y="428.00" font-size="20">f</text>
<polyline points="387.2,443.3 428.2,443.3 431.5,448.8 519.8,448.8" fill="none" stroke="#3a3333" stroke-width="1.05" stroke-linejoin="round"/>
<text x="398.30" y="440.00" font-size="8.3">20 °C</text>
<text x="478.70" y="446.00" font-size="8.3">10 °C</text>
<polygon points="388.1,523.6 388.5,523.5 388.8,524.3 389.2,525.2 389.6,526.0 389.9,524.1 390.3,525.6 390.7,524.7 391.0,524.8 391.4,525.0 391.8,525.2 392.1,524.0 392.5,522.9 392.8,524.3 393.2,523.5 393.6,525.6 393.9,524.6 394.3,525.8 394.7,524.1 395.0,525.2 395.4,524.9 395.8,522.3 396.1,522.8 396.5,522.7 396.9,523.3 397.2,522.4 397.6,523.0 398.0,523.0 398.3,524.1 398.7,523.5 399.1,523.5 399.4,524.1 399.8,524.2 400.1,524.4 400.5,525.0 400.9,523.1 401.2,522.2 401.6,522.1 402.0,522.8 402.3,522.3 402.7,523.7 403.1,524.1 403.4,524.2 403.8,523.8 404.2,521.9 404.5,523.8 404.9,522.3 405.3,523.0 405.6,522.8 406.0,522.2 406.4,522.3 406.7,522.8 407.1,522.0 407.4,520.7 407.8,521.3 408.2,520.7 408.5,520.6 408.9,521.4 409.3,521.5 409.6,521.1 410.0,521.6 410.4,521.0 410.7,521.7 411.1,519.5 411.5,520.2 411.8,520.8 412.2,520.4 412.6,520.1 412.9,520.4 413.3,520.4 413.7,521.3 414.0,522.2 414.4,521.3 414.7,521.3 415.1,521.4 415.5,520.2 415.8,520.0 416.2,520.5 416.6,520.9 416.9,520.5 417.3,521.2 417.7,521.6 418.0,522.3 418.4,521.7 418.8,520.1 419.1,519.3 419.5,519.3 419.9,521.3 420.2,521.5 420.6,521.9 421.0,521.5 421.3,521.2 421.7,522.3 422.0,523.3 422.4,522.6 422.8,522.4 423.1,521.6 423.5,521.1 423.9,522.1 424.2,521.8 424.6,520.6 425.0,521.8 425.3,522.2 425.7,523.0 426.1,522.6 426.4,523.8 426.8,523.0 427.2,523.7 427.5,524.4 427.9,523.9 428.2,524.4 428.6,522.6 429.0,524.5 429.3,523.1 429.7,522.9 430.1,521.9 430.4,522.7 430.8,522.2 431.2,523.4 431.5,522.0 431.9,523.8 432.3,522.7 432.6,523.7 433.0,523.5 433.4,521.6 433.7,523.1 434.1,519.5 434.5,518.8 434.8,519.4 435.2,517.8 435.6,516.8 435.9,516.3 436.3,513.3 436.6,513.3 437.0,513.5 437.4,511.7 437.7,511.0 438.1,511.7 438.5,510.9 438.8,511.6 439.2,510.9 439.6,509.9 439.9,510.8 440.3,508.7 440.7,508.4 441.0,508.3 441.4,509.0 441.8,506.5 442.1,506.7 442.5,506.2 442.9,506.5 443.2,505.6 443.6,503.8 443.9,503.5 444.3,502.9 444.7,502.7 445.0,502.2 445.4,499.7 445.8,499.7 446.1,499.8 446.5,499.0 446.9,498.6 447.2,499.0 447.6,498.3 448.0,497.6 448.3,497.6 448.7,495.6 449.1,496.7 449.4,496.1 449.8,495.3 450.2,494.9 450.5,492.0 450.9,488.7 451.2,487.0 451.6,482.6 452.0,481.1 452.3,478.6 452.7,476.7 453.1,477.3 453.4,478.0 453.8,477.6 454.2,476.5 454.5,478.0 454.9,476.5 455.3,476.8 455.6,477.0 456.0,476.9 456.4,474.7 456.7,473.6 457.1,474.6 457.5,474.0 457.8,472.9 458.2,472.9 458.5,473.3 458.9,473.8 459.3,472.0 459.6,472.5 460.0,472.7 460.4,472.6 460.7,473.5 461.1,474.0 461.5,472.7 461.8,473.2 462.2,472.0 462.6,473.3 462.9,473.9 463.3,471.9 463.7,472.6 464.0,473.3 464.4,472.4 464.8,472.4 465.1,472.6 465.5,473.9 465.8,473.5 466.2,473.2 466.6,472.2 466.9,473.1 467.3,474.7 467.7,473.2 468.0,473.4 468.4,474.1 468.8,473.7 469.1,474.2 469.5,473.6 469.9,473.6 470.2,473.1 470.6,473.9 471.0,474.5 471.3,474.6 471.7,475.5 472.1,475.3 472.4,475.7 472.8,474.6 473.1,475.2 473.5,474.9 473.9,475.7 474.2,476.0 474.6,474.9 475.0,474.9 475.3,474.4 475.7,475.8 476.1,474.4 476.4,474.7 476.8,473.9 477.2,473.7 477.5,475.0 477.9,475.9 478.3,474.9 478.6,474.9 479.0,473.5 479.4,475.1 479.7,475.2 480.1,475.2 480.4,475.4 480.8,475.7 481.2,476.2 481.5,476.3 481.9,477.7 482.3,478.1 482.6,479.1 483.0,477.9 483.4,478.9 483.7,477.0 484.1,478.3 484.5,479.0 484.8,478.0 485.2,477.6 485.6,479.3 485.9,478.3 486.3,478.7 486.7,478.3 487.0,479.4 487.4,477.6 487.7,478.1 488.1,478.3 488.5,479.0 488.8,479.2 489.2,479.5 489.6,479.8 489.9,480.3 490.3,480.2 490.7,481.2 491.0,480.1 491.4,479.9 491.8,479.7 492.1,480.7 492.5,481.5 492.9,481.4 493.2,481.1 493.6,481.3 494.0,480.6 494.3,481.5 494.7,481.0 495.0,480.5 495.4,482.0 495.8,481.6 496.1,482.1 496.5,481.7 496.9,482.2 497.2,482.9 497.6,483.7 498.0,482.8 498.3,481.9 498.7,483.5 499.1,481.7 499.4,482.9 499.8,482.3 500.2,483.5 500.5,481.9 500.9,482.8 501.2,482.1 501.6,482.4 502.0,483.6 502.3,483.8 502.7,483.2 503.1,482.7 503.4,482.9 503.8,482.7 504.2,483.1 504.5,484.4 504.9,483.6 505.3,482.7 505.6,485.2 506.0,484.7 506.4,485.7 506.7,484.5 507.1,485.5 507.5,486.9 507.8,486.4 508.2,485.2 508.6,486.5 508.9,487.8 509.3,487.9 509.6,487.0 510.0,488.5 510.4,486.8 510.7,486.9 511.1,488.8 511.5,489.6 511.8,489.7 512.2,488.9 512.6,489.9 512.9,490.8 513.3,488.4 513.7,489.9 514.0,489.6 514.4,488.9 514.8,490.7 515.1,488.5 515.5,489.3 515.9,488.9 516.2,490.7 516.6,490.8 516.9,491.7 517.3,491.5 517.7,491.6 518.0,490.3 518.4,489.3 518.8,490.8 519.1,489.8 519.5,489.4 519.9,490.1 519.9,502.4 519.5,501.7 519.1,501.7 518.8,502.6 518.4,501.6 518.0,503.0 517.7,503.6 517.3,503.3 516.9,502.8 516.6,502.5 516.2,502.5 515.9,501.8 515.5,502.4 515.1,501.0 514.8,502.3 514.4,501.2 514.0,500.7 513.7,501.3 513.3,500.8 512.9,503.1 512.6,501.7 512.2,502.7 511.8,500.8 511.5,500.8 511.1,501.4 510.7,500.4 510.4,499.9 510.0,499.7 509.6,500.2 509.3,500.6 508.9,500.1 508.6,498.3 508.2,498.1 507.8,500.2 507.5,498.2 507.1,498.9 506.7,497.3 506.4,497.1 506.0,498.1 505.6,498.2 505.3,495.7 504.9,495.2 504.5,497.5 504.2,497.1 503.8,495.7 503.4,496.2 503.1,496.0 502.7,496.5 502.3,495.6 502.0,496.1 501.6,496.4 501.2,495.3 500.9,495.7 500.5,496.3 500.2,495.7 499.8,495.5 499.4,495.1 499.1,495.8 498.7,495.4 498.3,494.5 498.0,495.2 497.6,496.4 497.2,497.0 496.9,496.6 496.5,495.8 496.1,496.2 495.8,495.4 495.4,496.5 495.0,495.6 494.7,494.7 494.3,495.2 494.0,494.2 493.6,494.7 493.2,495.7 492.9,495.1 492.5,494.1 492.1,494.6 491.8,494.7 491.4,494.7 491.0,495.5 490.7,494.9 490.3,495.7 489.9,493.8 489.6,493.7 489.2,494.4 488.8,493.1 488.5,492.0 488.1,493.3 487.7,493.1 487.4,492.5 487.0,494.0 486.7,492.4 486.3,493.9 485.9,493.8 485.6,493.6 485.2,491.7 484.8,493.1 484.5,492.2 484.1,493.5 483.7,492.5 483.4,492.9 483.0,492.7 482.6,493.3 482.3,491.1 481.9,491.2 481.5,491.5 481.2,490.3 480.8,490.3 480.4,489.0 480.1,489.2 479.7,489.3 479.4,490.9 479.0,488.2 478.6,488.5 478.3,488.8 477.9,489.1 477.5,490.8 477.2,489.5 476.8,488.8 476.4,489.6 476.1,491.1 475.7,489.6 475.3,488.2 475.0,489.4 474.6,490.3 474.2,490.6 473.9,488.8 473.5,489.9 473.1,490.3 472.8,490.8 472.4,491.4 472.1,491.0 471.7,491.2 471.3,489.6 471.0,489.2 470.6,487.6 470.2,489.5 469.9,489.7 469.5,489.2 469.1,490.8 468.8,489.2 468.4,488.1 468.0,489.1 467.7,488.7 467.3,489.2 466.9,487.7 466.6,487.5 466.2,488.5 465.8,488.1 465.5,489.6 465.1,487.8 464.8,488.5 464.4,488.6 464.0,489.4 463.7,487.2 463.3,489.3 462.9,489.6 462.6,488.5 462.2,488.4 461.8,488.9 461.5,490.7 461.1,490.1 460.7,488.0 460.4,488.8 460.0,489.1 459.6,489.7 459.3,488.6 458.9,491.0 458.5,489.6 458.2,488.7 457.8,488.3 457.5,490.7 457.1,489.8 456.7,490.5 456.4,490.7 456.0,491.7 455.6,491.8 455.3,492.8 454.9,493.3 454.5,491.6 454.2,492.4 453.8,491.5 453.4,492.6 453.1,491.1 452.7,491.6 452.3,491.9 452.0,494.0 451.6,495.4 451.2,499.6 450.9,502.2 450.5,505.1 450.2,506.8 449.8,505.5 449.4,508.1 449.1,507.3 448.7,508.7 448.3,507.9 448.0,509.1 447.6,508.7 447.2,509.3 446.9,510.0 446.5,509.8 446.1,510.3 445.8,509.5 445.4,509.5 445.0,511.5 444.7,511.6 444.3,514.5 443.9,513.4 443.6,515.4 443.2,514.9 442.9,516.7 442.5,517.2 442.1,516.7 441.8,516.8 441.4,517.9 441.0,517.0 440.7,517.3 440.3,517.4 439.9,518.0 439.6,519.0 439.2,519.7 438.8,519.2 438.5,520.1 438.1,520.9 437.7,519.2 437.4,520.9 437.0,520.6 436.6,521.5 436.3,521.6 435.9,523.6 435.6,524.9 435.2,525.7 434.8,526.9 434.5,527.4 434.1,528.0 433.7,528.8 433.4,529.3 433.0,530.6 432.6,531.1 432.3,529.7 431.9,530.2 431.5,529.5 431.2,530.0 430.8,529.8 430.4,528.2 430.1,530.2 429.7,529.9 429.3,531.0 429.0,531.2 428.6,530.5 428.2,530.7 427.9,530.6 427.5,530.0 427.2,530.1 426.8,529.4 426.4,530.5 426.1,530.2 425.7,531.0 425.3,529.0 425.0,528.2 424.6,527.2 424.2,527.2 423.9,529.1 423.5,528.7 423.1,528.0 422.8,530.0 422.4,529.9 422.0,529.4 421.7,528.9 421.3,529.3 421.0,528.3 420.6,528.6 420.2,527.9 419.9,527.6 419.5,527.5 419.1,526.9 418.8,528.5 418.4,527.5 418.0,527.8 417.7,529.0 417.3,528.8 416.9,527.5 416.6,528.0 416.2,528.5 415.8,528.0 415.5,528.2 415.1,529.0 414.7,529.0 414.4,528.5 414.0,528.0 413.7,529.5 413.3,527.3 412.9,527.2 412.6,527.3 412.2,527.3 411.8,527.5 411.5,527.0 411.1,527.5 410.7,527.3 410.4,528.5 410.0,528.1 409.6,527.7 409.3,529.3 408.9,527.9 408.5,527.5 408.2,527.8 407.8,528.8 407.4,528.7 407.1,529.3 406.7,528.6 406.4,530.1 406.0,529.1 405.6,530.1 405.3,529.1 404.9,530.3 404.5,530.8 404.2,529.2 403.8,529.8 403.4,529.7 403.1,529.9 402.7,530.2 402.3,529.1 402.0,530.2 401.6,528.3 401.2,528.9 400.9,529.9 400.5,530.2 400.1,530.6 399.8,532.0 399.4,531.3 399.1,531.2 398.7,531.3 398.3,531.0 398.0,530.4 397.6,529.9 397.2,529.9 396.9,529.9 396.5,528.8 396.1,530.6 395.8,528.9 395.4,531.1 395.0,531.5 394.7,530.8 394.3,531.4 393.9,532.2 393.6,532.1 393.2,531.5 392.8,530.9 392.5,530.9 392.1,530.7 391.8,531.0 391.4,531.7 391.0,531.1 390.7,531.0 390.3,531.7 389.9,532.5 389.6,531.2 389.2,531.6 388.8,530.2 388.5,531.8 388.1,531.8" fill="#d4d4d4"/>
<polyline points="388.1,527.8 388.5,527.9 388.8,527.6 389.2,528.3 389.6,528.7 389.9,528.5 390.3,528.2 390.7,528.1 391.0,527.9 391.4,527.7 391.8,527.7 392.1,527.5 392.5,527.2 392.8,527.4 393.2,527.8 393.6,528.6 393.9,528.4 394.3,528.5 394.7,527.6 395.0,527.6 395.4,527.4 395.8,526.5 396.1,526.9 396.5,526.2 396.9,526.3 397.2,526.2 397.6,526.3 398.0,527.0 398.3,526.7 398.7,527.2 399.1,527.2 399.4,527.6 399.8,527.9 400.1,527.6 400.5,527.9 400.9,527.5 401.2,526.5 401.6,525.6 402.0,525.9 402.3,526.6 402.7,526.6 403.1,527.0 403.4,526.9 403.8,526.3 404.2,525.8 404.5,526.4 404.9,526.1 405.3,525.9 405.6,525.8 406.0,526.1 406.4,525.9 406.7,526.2 407.1,525.4 407.4,525.0 407.8,524.7 408.2,524.8 408.5,524.1 408.9,524.4 409.3,524.9 409.6,524.9 410.0,524.0 410.4,524.8 410.7,524.3 411.1,523.9 411.5,523.7 411.8,524.3 412.2,524.7 412.6,524.3 412.9,524.3 413.3,524.3 413.7,525.2 414.0,524.9 414.4,524.5 414.7,525.0 415.1,525.3 415.5,524.5 415.8,524.3 416.2,524.4 416.6,524.3 416.9,524.6 417.3,524.7 417.7,525.1 418.0,524.9 418.4,525.1 418.8,524.2 419.1,523.5 419.5,523.7 419.9,524.6 420.2,524.4 420.6,524.9 421.0,524.9 421.3,525.4 421.7,525.1 422.0,525.6 422.4,525.7 422.8,525.8 423.1,525.5 423.5,524.7 423.9,524.8 424.2,524.6 424.6,524.6 425.0,525.0 425.3,526.0 425.7,526.7 426.1,527.0 426.4,526.7 426.8,526.9 427.2,526.2 427.5,526.9 427.9,527.5 428.2,527.2 428.6,526.7 429.0,527.3 429.3,527.1 429.7,526.7 430.1,525.9 430.4,525.7 430.8,525.5 431.2,526.0 431.5,525.8 431.9,526.4 432.3,526.8 432.6,527.1 433.0,526.3 433.4,525.9 433.7,525.7 434.1,524.1 434.5,523.3 434.8,522.9 435.2,521.6 435.6,520.1 435.9,519.8 436.3,518.0 436.6,517.3 437.0,516.9 437.4,516.5 437.7,515.7 438.1,515.6 438.5,515.8 438.8,515.1 439.2,515.6 439.6,514.6 439.9,514.3 440.3,513.6 440.7,513.1 441.0,512.9 441.4,512.9 441.8,511.8 442.1,511.6 442.5,511.6 442.9,510.9 443.2,509.7 443.6,509.7 443.9,508.8 444.3,508.4 444.7,506.9 445.0,506.8 445.4,505.2 445.8,504.8 446.1,504.5 446.5,504.1 446.9,504.1 447.2,503.7 447.6,503.8 448.0,503.4 448.3,502.7 448.7,502.1 449.1,502.0 449.4,501.4 449.8,500.6 450.2,500.1 450.5,498.4 450.9,495.5 451.2,493.3 451.6,489.8 452.0,487.0 452.3,484.5 452.7,484.3 453.1,484.2 453.4,484.7 453.8,483.8 454.2,484.6 454.5,485.0 454.9,484.9 455.3,485.0 455.6,484.7 456.0,483.8 456.4,483.5 456.7,482.3 457.1,482.5 457.5,481.5 457.8,480.9 458.2,481.1 458.5,480.8 458.9,481.7 459.3,480.9 459.6,481.0 460.0,481.3 460.4,480.4 460.7,480.7 461.1,481.3 461.5,481.6 461.8,480.6 462.2,481.1 462.6,480.7 462.9,481.4 463.3,480.7 463.7,480.1 464.0,480.6 464.4,480.3 464.8,480.0 465.1,480.9 465.5,481.1 465.8,480.4 466.2,480.1 466.6,480.5 466.9,480.8 467.3,481.9 467.7,481.3 468.0,480.7 468.4,481.1 468.8,481.7 469.1,482.3 469.5,481.9 469.9,481.5 470.2,481.5 470.6,481.1 471.0,482.1 471.3,482.8 471.7,483.0 472.1,482.9 472.4,483.2 472.8,483.1 473.1,483.1 473.5,482.2 473.9,482.1 474.2,482.5 474.6,482.4 475.0,482.8 475.3,481.8 475.7,482.6 476.1,482.8 476.4,482.5 476.8,481.8 477.2,481.7 477.5,482.5 477.9,482.3 478.3,481.9 478.6,481.4 479.0,481.8 479.4,482.7 479.7,482.4 480.1,482.5 480.4,482.3 480.8,483.4 481.2,483.1 481.5,483.6 481.9,484.3 482.3,484.8 482.6,485.4 483.0,484.6 483.4,485.3 483.7,485.1 484.1,485.5 484.5,485.8 484.8,485.9 485.2,485.3 485.6,486.1 485.9,486.2 486.3,486.4 486.7,486.3 487.0,486.1 487.4,485.7 487.7,485.8 488.1,485.6 488.5,485.5 488.8,485.6 489.2,486.9 489.6,487.7 489.9,487.5 490.3,487.9 490.7,487.9 491.0,487.7 491.4,487.6 491.8,487.2 492.1,487.0 492.5,487.8 492.9,487.7 493.2,487.9 493.6,488.0 494.0,487.7 494.3,487.6 494.7,487.6 495.0,488.1 495.4,488.9 495.8,488.6 496.1,489.0 496.5,489.2 496.9,489.6 497.2,490.0 497.6,489.7 498.0,488.7 498.3,488.7 498.7,489.3 499.1,488.6 499.4,489.4 499.8,489.2 500.2,490.0 500.5,489.2 500.9,488.8 501.2,488.7 501.6,489.4 502.0,489.7 502.3,489.9 502.7,489.4 503.1,489.6 503.4,490.3 503.8,489.8 504.2,490.2 504.5,490.0 504.9,489.6 505.3,489.8 505.6,491.0 506.0,490.8 506.4,491.3 506.7,490.9 507.1,491.7 507.5,492.5 507.8,493.2 508.2,492.4 508.6,492.9 508.9,493.9 509.3,493.8 509.6,493.2 510.0,494.0 510.4,493.5 510.7,493.2 511.1,494.2 511.5,494.8 511.8,495.4 512.2,495.8 512.6,496.2 512.9,496.2 513.3,495.3 513.7,495.4 514.0,495.5 514.4,495.3 514.8,495.9 515.1,495.4 515.5,495.9 515.9,495.8 516.2,496.4 516.6,496.7 516.9,497.1 517.3,497.1 517.7,497.1 518.0,497.2 518.4,496.0 518.8,496.0 519.1,495.3 519.5,495.5 519.9,495.8" fill="none" stroke="#000" stroke-width="1.8" stroke-linejoin="round"/>
<line x1="387.20" y1="449.70" x2="387.20" y2="547.90" stroke="#000" stroke-width="1.5"/>
<line x1="386.50" y1="526.10" x2="520.90" y2="526.10" stroke="#000" stroke-width="1.5"/>
<line x1="382.80" y1="526.10" x2="387.20" y2="526.10" stroke="#000" stroke-width="1.3"/>
<text x="381.00" y="529.50" font-size="9.5" text-anchor="end">0</text>
<line x1="382.80" y1="500.75" x2="387.20" y2="500.75" stroke="#000" stroke-width="1.3"/>
<text x="381.00" y="504.15" font-size="9.5" text-anchor="end">15</text>
<line x1="382.80" y1="475.40" x2="387.20" y2="475.40" stroke="#000" stroke-width="1.3"/>
<text x="381.00" y="478.80" font-size="9.5" text-anchor="end">30</text>
<line x1="382.80" y1="450.05" x2="387.20" y2="450.05" stroke="#000" stroke-width="1.3"/>
<text x="381.00" y="453.45" font-size="9.5" text-anchor="end">45</text>
<line x1="424.60" y1="526.10" x2="424.60" y2="530.50" stroke="#000" stroke-width="1.3"/>
<text x="424.60" y="539.80" font-size="9.5" text-anchor="middle">100</text>
<line x1="461.10" y1="526.10" x2="461.10" y2="530.50" stroke="#000" stroke-width="1.3"/>
<text x="461.10" y="539.80" font-size="9.5" text-anchor="middle">200</text>
<line x1="497.60" y1="526.10" x2="497.60" y2="530.50" stroke="#000" stroke-width="1.3"/>
<text x="497.60" y="539.80" font-size="9.5" text-anchor="middle">300</text>
<text x="455.10" y="550.50" font-size="10.3">Time (s)</text>
<text x="363.5" y="491.9" font-size="10.45" text-anchor="middle" transform="rotate(-90 363.7 491.9)">GCaMP5 (ΔF/F<tspan font-size="70%" dy="1.4">o</tspan><tspan dy="-1.4">,  %)</tspan></text>
<rect x="610.00" y="514.51" width="37.70" height="31.99" fill="#bcbff7"/>
<path d="M610.00,546.50V514.51H647.70V546.50" fill="none" stroke="#1a1aff" stroke-width="2"/>
<line x1="628.80" y1="507.33" x2="628.80" y2="520.31" stroke="#1a1aff" stroke-width="1.8"/>
<line x1="619.00" y1="507.33" x2="638.60" y2="507.33" stroke="#1a1aff" stroke-width="1.8"/>
<line x1="619.00" y1="520.31" x2="638.60" y2="520.31" stroke="#1a1aff" stroke-width="1.8"/>
<circle cx="628.50" cy="444.51" r="1.9" fill="#fff" stroke="#8a8a8a" stroke-width="0.7"/>
<circle cx="628.50" cy="457.26" r="1.9" fill="#fff" stroke="#8a8a8a" stroke-width="0.7"/>
<circle cx="628.50" cy="501.30" r="1.9" fill="#fff" stroke="#8a8a8a" stroke-width="0.7"/>
<circle cx="628.50" cy="507.09" r="1.9" fill="#fff" stroke="#8a8a8a" stroke-width="0.7"/>
<circle cx="632.50" cy="515.21" r="1.9" fill="#fff" stroke="#8a8a8a" stroke-width="0.7"/>
<circle cx="618.40" cy="518.68" r="1.9" fill="#fff" stroke="#8a8a8a" stroke-width="0.7"/>
<circle cx="625.00" cy="518.10" r="1.9" fill="#fff" stroke="#8a8a8a" stroke-width="0.7"/>
<circle cx="639.40" cy="518.68" r="1.9" fill="#fff" stroke="#8a8a8a" stroke-width="0.7"/>
<circle cx="639.40" cy="522.16" r="1.9" fill="#fff" stroke="#8a8a8a" stroke-width="0.7"/>
<circle cx="625.00" cy="523.32" r="1.9" fill="#fff" stroke="#8a8a8a" stroke-width="0.7"/>
<circle cx="632.00" cy="524.48" r="1.9" fill="#fff" stroke="#8a8a8a" stroke-width="0.7"/>
<circle cx="628.50" cy="527.96" r="1.9" fill="#fff" stroke="#8a8a8a" stroke-width="0.7"/>
<circle cx="618.40" cy="532.59" r="1.9" fill="#fff" stroke="#8a8a8a" stroke-width="0.7"/>
<circle cx="639.40" cy="532.59" r="1.9" fill="#fff" stroke="#8a8a8a" stroke-width="0.7"/>
<circle cx="625.00" cy="536.07" r="1.9" fill="#fff" stroke="#8a8a8a" stroke-width="0.7"/>
<circle cx="632.00" cy="535.49" r="1.9" fill="#fff" stroke="#8a8a8a" stroke-width="0.7"/>
<text x="630.00" y="544.30" font-size="9.2" text-anchor="middle" fill="#953f9f">16</text>
<line x1="590.00" y1="430.60" x2="590.00" y2="547.20" stroke="#000" stroke-width="1.5"/>
<line x1="589.30" y1="546.50" x2="668.30" y2="546.50" stroke="#000" stroke-width="1.5"/>
<line x1="585.80" y1="546.50" x2="590.00" y2="546.50" stroke="#000" stroke-width="1.3"/>
<text x="584.50" y="550.00" font-size="10" text-anchor="end">0</text>
<line x1="585.80" y1="523.32" x2="590.00" y2="523.32" stroke="#000" stroke-width="1.3"/>
<text x="584.50" y="526.82" font-size="10" text-anchor="end">20</text>
<line x1="585.80" y1="500.14" x2="590.00" y2="500.14" stroke="#000" stroke-width="1.3"/>
<text x="584.50" y="503.64" font-size="10" text-anchor="end">40</text>
<line x1="585.80" y1="476.96" x2="590.00" y2="476.96" stroke="#000" stroke-width="1.3"/>
<text x="584.50" y="480.46" font-size="10" text-anchor="end">60</text>
<line x1="585.80" y1="453.78" x2="590.00" y2="453.78" stroke="#000" stroke-width="1.3"/>
<text x="584.50" y="457.28" font-size="10" text-anchor="end">80</text>
<line x1="585.80" y1="430.60" x2="590.00" y2="430.60" stroke="#000" stroke-width="1.3"/>
<text x="584.50" y="434.10" font-size="10" text-anchor="end">100</text>
<text x="565.3" y="490.2" font-size="10.5" text-anchor="middle" transform="rotate(-90 565.3 490.2)">Maximum GCaMP5 (ΔF/F<tspan font-size="70%" dy="1.4">o</tspan><tspan dy="-1.4">,  %)</tspan></text>
<text x="344.00" y="585.50" font-size="20">g</text>
<polyline points="386.6,594.7 419.0,594.7 423.2,590.5 520.9,590.5" fill="none" stroke="#3a3333" stroke-width="1.05" stroke-linejoin="round"/>
<text x="396.90" y="591.90" font-size="8.3">20 °C</text>
<text x="473.10" y="586.90" font-size="8.3">28 °C</text>
<polygon points="387.4,695.3 387.8,693.7 388.2,694.0 388.7,693.3 389.1,694.4 389.5,691.1 389.9,693.2 390.3,692.5 390.8,691.5 391.2,692.4 391.6,691.2 392.0,691.9 392.4,690.0 392.9,691.7 393.3,689.1 393.7,691.4 394.1,689.8 394.5,692.0 395.0,692.7 395.4,692.1 395.8,692.0 396.2,690.8 396.6,689.9 397.1,690.8 397.5,690.3 397.9,687.5 398.3,690.6 398.7,691.0 399.2,690.4 399.6,691.3 400.0,688.1 400.4,690.0 400.8,690.4 401.3,690.0 401.7,691.5 402.1,688.4 402.5,690.2 402.9,691.6 403.4,692.1 403.8,691.7 404.2,689.3 404.6,689.6 405.0,689.4 405.5,689.8 405.9,688.9 406.3,692.4 406.7,689.9 407.1,688.9 407.6,691.2 408.0,692.4 408.4,690.9 408.8,691.3 409.2,691.7 409.7,690.3 410.1,690.0 410.5,689.2 410.9,691.2 411.3,690.7 411.8,689.9 412.2,690.8 412.6,691.7 413.0,691.6 413.4,691.9 413.9,693.1 414.3,692.9 414.7,689.8 415.1,690.4 415.5,693.8 416.0,691.5 416.4,692.9 416.8,693.4 417.2,691.8 417.6,692.5 418.1,692.7 418.5,693.1 418.9,692.7 419.3,692.1 419.7,693.3 420.2,695.0 420.6,693.0 421.0,693.2 421.4,691.4 421.8,694.8 422.3,692.2 422.7,694.8 423.1,695.7 423.5,693.3 423.9,692.9 424.4,696.3 424.8,695.8 425.2,694.5 425.6,696.6 426.0,693.2 426.5,696.0 426.9,694.6 427.3,693.6 427.7,695.3 428.1,694.9 428.6,695.9 429.0,693.7 429.4,693.5 429.8,696.5 430.2,692.6 430.7,693.8 431.1,692.7 431.5,691.0 431.9,693.7 432.3,691.7 432.8,690.8 433.2,692.3 433.6,689.5 434.0,687.4 434.4,688.2 434.9,688.7 435.3,689.0 435.7,687.5 436.1,685.5 436.5,686.6 437.0,685.9 437.4,684.3 437.8,686.2 438.2,686.3 438.6,683.6 439.1,684.4 439.5,682.2 439.9,684.8 440.3,681.6 440.7,681.2 441.2,680.6 441.6,679.8 442.0,681.1 442.4,680.4 442.8,681.3 443.3,677.7 443.7,678.3 444.1,674.7 444.5,672.1 444.9,672.8 445.4,668.7 445.8,669.2 446.2,666.4 446.6,665.8 447.0,660.5 447.5,660.4 447.9,656.4 448.3,654.9 448.7,655.7 449.1,656.4 449.6,653.5 450.0,653.3 450.4,651.7 450.8,652.5 451.2,652.1 451.7,649.6 452.1,648.5 452.5,649.8 452.9,651.1 453.3,647.4 453.8,649.2 454.2,649.6 454.6,647.1 455.0,646.5 455.4,646.1 455.9,643.2 456.3,642.8 456.7,642.9 457.1,641.6 457.5,639.7 458.0,640.3 458.4,639.7 458.8,639.3 459.2,638.1 459.6,636.4 460.1,636.5 460.5,637.1 460.9,636.2 461.3,636.7 461.7,633.5 462.2,633.9 462.6,635.3 463.0,635.7 463.4,633.8 463.8,632.0 464.3,631.4 464.7,631.3 465.1,631.8 465.5,630.4 465.9,628.1 466.4,629.8 466.8,630.2 467.2,628.6 467.6,628.2 468.0,626.9 468.5,628.7 468.9,626.0 469.3,625.6 469.7,629.3 470.1,627.0 470.6,629.3 471.0,628.8 471.4,628.4 471.8,627.4 472.2,626.3 472.7,627.7 473.1,627.4 473.5,628.5 473.9,625.5 474.3,625.1 474.8,626.1 475.2,624.7 475.6,625.3 476.0,626.7 476.4,627.3 476.9,624.2 477.3,627.9 477.7,627.8 478.1,624.8 478.5,627.2 479.0,625.0 479.4,626.2 479.8,628.0 480.2,626.0 480.6,626.2 481.1,627.2 481.5,624.3 481.9,626.0 482.3,627.5 482.7,626.6 483.2,626.1 483.6,626.1 484.0,626.6 484.4,625.0 484.8,624.2 485.3,625.2 485.7,625.6 486.1,624.8 486.5,624.9 486.9,623.5 487.4,623.6 487.8,626.3 488.2,626.6 488.6,625.7 489.0,626.5 489.5,625.1 489.9,625.1 490.3,622.1 490.7,625.4 491.1,622.9 491.6,624.5 492.0,623.5 492.4,624.7 492.8,624.7 493.2,625.5 493.7,624.4 494.1,626.0 494.5,622.9 494.9,625.0 495.3,624.6 495.8,623.1 496.2,622.1 496.6,621.9 497.0,622.2 497.4,621.7 497.9,622.9 498.3,623.8 498.7,621.9 499.1,623.2 499.5,624.3 500.0,622.0 500.4,622.1 500.8,621.1 501.2,621.4 501.6,622.7 502.1,620.9 502.5,622.1 502.9,620.7 503.3,622.4 503.7,621.6 504.2,620.0 504.6,621.9 505.0,622.1 505.4,621.7 505.8,621.4 506.3,621.4 506.7,622.8 507.1,621.3 507.5,622.2 507.9,623.2 508.4,624.5 508.8,621.4 509.2,624.2 509.6,622.7 510.0,621.7 510.5,624.9 510.9,624.8 511.3,623.2 511.7,625.8 512.1,625.3 512.6,623.1 513.0,622.1 513.4,622.1 513.8,625.6 514.2,625.1 514.7,623.1 515.1,624.7 515.5,624.6 515.9,622.8 516.3,624.5 516.8,624.4 517.2,623.3 517.6,625.9 518.0,624.2 518.4,625.8 518.9,622.9 519.3,623.7 519.7,624.5 520.1,626.0 520.5,624.3 521.0,626.9 521.4,625.2 521.8,624.1 521.8,664.6 521.4,663.0 521.0,663.3 520.5,660.4 520.1,661.1 519.7,662.9 519.3,661.8 518.9,663.7 518.4,664.5 518.0,660.9 517.6,661.9 517.2,664.0 516.8,661.0 516.3,659.8 515.9,660.6 515.5,663.3 515.1,663.7 514.7,663.6 514.2,660.3 513.8,661.6 513.4,661.9 513.0,659.9 512.6,662.7 512.1,661.1 511.7,660.8 511.3,662.0 510.9,662.6 510.5,661.1 510.0,659.4 509.6,661.3 509.2,661.5 508.8,659.4 508.4,660.6 507.9,658.8 507.5,660.3 507.1,658.5 506.7,657.1 506.3,659.0 505.8,659.6 505.4,657.5 505.0,659.2 504.6,659.1 504.2,656.4 503.7,658.6 503.3,658.6 502.9,656.7 502.5,657.6 502.1,659.6 501.6,660.0 501.2,657.3 500.8,659.1 500.4,658.0 500.0,659.2 499.5,661.2 499.1,660.2 498.7,659.9 498.3,658.3 497.9,657.4 497.4,657.8 497.0,657.8 496.6,658.2 496.2,659.0 495.8,658.8 495.3,658.3 494.9,658.5 494.5,660.2 494.1,661.9 493.7,662.3 493.2,660.7 492.8,662.2 492.4,660.4 492.0,662.2 491.6,662.1 491.1,659.7 490.7,661.4 490.3,661.3 489.9,660.8 489.5,661.8 489.0,662.5 488.6,662.4 488.2,661.5 487.8,659.0 487.4,661.4 486.9,662.1 486.5,659.6 486.1,661.8 485.7,659.5 485.3,661.3 484.8,663.4 484.4,662.7 484.0,661.1 483.6,659.8 483.2,660.5 482.7,660.5 482.3,663.3 481.9,662.2 481.5,660.1 481.1,660.5 480.6,662.8 480.2,661.8 479.8,663.5 479.4,660.5 479.0,662.5 478.5,661.9 478.1,662.9 477.7,659.9 477.3,663.6 476.9,663.2 476.4,661.5 476.0,662.3 475.6,663.5 475.2,663.0 474.8,660.9 474.3,661.5 473.9,662.5 473.5,661.5 473.1,660.9 472.7,662.1 472.2,660.1 471.8,662.0 471.4,664.2 471.0,663.5 470.6,660.8 470.1,661.1 469.7,660.6 469.3,661.9 468.9,660.7 468.5,664.3 468.0,663.0 467.6,663.3 467.2,662.2 466.8,664.8 466.4,664.3 465.9,664.0 465.5,661.8 465.1,663.1 464.7,664.2 464.3,663.8 463.8,665.3 463.4,666.5 463.0,665.3 462.6,668.8 462.2,668.9 461.7,667.5 461.3,667.9 460.9,667.7 460.5,668.4 460.1,670.5 459.6,670.6 459.2,671.3 458.8,670.8 458.4,671.2 458.0,672.9 457.5,670.5 457.1,672.9 456.7,674.2 456.3,674.1 455.9,674.0 455.4,674.0 455.0,674.8 454.6,677.1 454.2,676.9 453.8,675.5 453.3,675.3 452.9,677.1 452.5,678.4 452.1,676.8 451.7,676.6 451.2,676.0 450.8,679.0 450.4,679.5 450.0,677.9 449.6,676.9 449.1,676.8 448.7,677.5 448.3,676.7 447.9,678.7 447.5,678.9 447.0,682.1 446.6,683.3 446.2,682.7 445.8,686.0 445.4,689.7 444.9,690.1 444.5,691.6 444.1,689.7 443.7,691.6 443.3,694.0 442.8,693.4 442.4,695.5 442.0,695.9 441.6,693.6 441.2,693.6 440.7,695.6 440.3,694.1 439.9,695.0 439.5,695.4 439.1,693.9 438.6,692.1 438.2,694.8 437.8,692.2 437.4,695.3 437.0,693.7 436.5,695.7 436.1,694.6 435.7,693.3 435.3,693.3 434.9,695.4 434.4,696.9 434.0,694.6 433.6,695.5 433.2,697.3 432.8,697.7 432.3,695.8 431.9,699.1 431.5,696.7 431.1,696.7 430.7,701.4 430.2,699.3 429.8,700.8 429.4,702.0 429.0,702.5 428.6,701.4 428.1,700.1 427.7,698.6 427.3,700.2 426.9,701.5 426.5,701.3 426.0,701.8 425.6,702.8 425.2,702.5 424.8,699.6 424.4,700.9 423.9,701.1 423.5,699.9 423.1,699.9 422.7,698.2 422.3,698.0 421.8,700.1 421.4,696.9 421.0,697.4 420.6,699.1 420.2,699.0 419.7,700.1 419.3,698.3 418.9,697.5 418.5,697.3 418.1,697.9 417.6,698.0 417.2,699.4 416.8,696.7 416.4,696.5 416.0,698.1 415.5,697.5 415.1,697.6 414.7,696.6 414.3,697.4 413.9,697.1 413.4,699.0 413.0,696.8 412.6,696.3 412.2,695.8 411.8,696.0 411.3,696.5 410.9,697.8 410.5,696.8 410.1,695.9 409.7,696.8 409.2,694.1 408.8,696.0 408.4,697.4 408.0,696.5 407.6,695.1 407.1,697.6 406.7,694.6 406.3,697.3 405.9,697.4 405.5,697.0 405.0,694.8 404.6,695.2 404.2,696.0 403.8,695.0 403.4,694.9 402.9,697.5 402.5,697.3 402.1,695.0 401.7,693.5 401.3,694.1 400.8,695.0 400.4,694.9 400.0,694.3 399.6,693.4 399.2,695.0 398.7,694.9 398.3,693.1 397.9,694.3 397.5,694.7 397.1,693.5 396.6,694.1 396.2,694.7 395.8,697.1 395.4,693.7 395.0,695.0 394.5,695.4 394.1,696.9 393.7,697.3 393.3,696.2 392.9,696.8 392.4,694.7 392.0,695.6 391.6,696.3 391.2,698.9 390.8,696.2 390.3,698.0 389.9,697.9 389.5,699.1 389.1,698.8 388.7,699.5 388.2,699.4 387.8,699.1 387.4,699.4" fill="#fbd0d3"/>
<polygon points="387.4,694.3 387.8,694.8 388.2,694.0 388.7,693.7 389.1,694.2 389.5,693.9 389.9,694.2 390.3,694.4 390.8,694.4 391.2,693.7 391.6,693.8 392.0,693.6 392.4,694.8 392.9,693.8 393.3,694.0 393.7,694.2 394.1,694.5 394.5,693.8 395.0,693.8 395.4,694.6 395.8,694.5 396.2,695.0 396.6,694.7 397.1,694.4 397.5,694.5 397.9,695.2 398.3,694.2 398.7,694.0 399.2,694.2 399.6,694.5 400.0,694.6 400.4,694.1 400.8,693.6 401.3,693.7 401.7,694.1 402.1,694.0 402.5,694.1 402.9,695.2 403.4,694.4 403.8,694.6 404.2,693.8 404.6,695.1 405.0,694.8 405.5,694.5 405.9,694.9 406.3,694.2 406.7,694.5 407.1,693.9 407.6,693.6 408.0,694.3 408.4,694.0 408.8,693.8 409.2,693.7 409.7,694.3 410.1,694.4 410.5,694.4 410.9,695.0 411.3,695.0 411.8,694.4 412.2,695.3 412.6,694.1 413.0,694.9 413.4,694.0 413.9,694.2 414.3,694.3 414.7,694.2 415.1,695.2 415.5,694.1 416.0,695.0 416.4,694.9 416.8,694.5 417.2,694.3 417.6,694.5 418.1,694.1 418.5,694.1 418.9,694.2 419.3,694.5 419.7,694.4 420.2,695.0 420.6,694.3 421.0,693.8 421.4,693.9 421.8,694.1 422.3,694.5 422.7,694.4 423.1,694.2 423.5,694.2 423.9,694.3 424.4,694.2 424.8,694.1 425.2,693.9 425.6,694.2 426.0,694.5 426.5,695.4 426.9,694.0 427.3,694.3 427.7,694.7 428.1,694.6 428.6,695.2 429.0,694.3 429.4,694.4 429.8,694.9 430.2,695.1 430.7,694.9 431.1,695.0 431.5,694.9 431.9,694.9 432.3,694.9 432.8,694.3 433.2,695.1 433.6,694.8 434.0,694.7 434.4,695.0 434.9,695.4 435.3,695.3 435.7,695.5 436.1,695.5 436.5,695.6 437.0,695.1 437.4,694.2 437.8,695.0 438.2,694.6 438.6,695.5 439.1,694.5 439.5,693.9 439.9,693.0 440.3,692.9 440.7,691.8 441.2,691.3 441.6,689.0 442.0,688.6 442.4,687.8 442.8,687.2 443.3,687.2 443.7,686.2 444.1,686.5 444.5,685.8 444.9,685.7 445.4,685.2 445.8,685.6 446.2,684.3 446.6,684.7 447.0,684.3 447.5,684.2 447.9,684.8 448.3,684.2 448.7,684.0 449.1,683.6 449.6,684.3 450.0,683.1 450.4,683.4 450.8,683.3 451.2,683.5 451.7,683.2 452.1,683.1 452.5,682.4 452.9,682.5 453.3,682.4 453.8,682.1 454.2,681.9 454.6,682.2 455.0,682.5 455.4,682.1 455.9,681.3 456.3,681.0 456.7,681.1 457.1,679.6 457.5,679.3 458.0,679.9 458.4,679.1 458.8,678.7 459.2,679.1 459.6,677.9 460.1,678.5 460.5,677.4 460.9,677.4 461.3,677.6 461.7,678.1 462.2,677.5 462.6,677.5 463.0,676.8 463.4,677.0 463.8,676.0 464.3,676.0 464.7,675.0 465.1,675.7 465.5,676.0 465.9,675.0 466.4,675.3 466.8,674.9 467.2,675.5 467.6,675.2 468.0,675.1 468.5,673.9 468.9,674.3 469.3,674.2 469.7,673.9 470.1,674.1 470.6,673.8 471.0,674.4 471.4,673.9 471.8,674.7 472.2,674.9 472.7,675.0 473.1,675.0 473.5,674.3 473.9,674.8 474.3,674.6 474.8,674.3 475.2,674.7 475.6,675.4 476.0,675.2 476.4,675.1 476.9,675.4 477.3,675.6 477.7,675.0 478.1,675.2 478.5,675.4 479.0,674.5 479.4,674.0 479.8,674.2 480.2,674.8 480.6,675.5 481.1,675.1 481.5,674.7 481.9,675.0 482.3,674.5 482.7,673.9 483.2,673.9 483.6,673.9 484.0,673.9 484.4,673.9 484.8,674.3 485.3,674.7 485.7,674.6 486.1,674.1 486.5,674.1 486.9,675.4 487.4,674.8 487.8,674.3 488.2,675.4 488.6,674.9 489.0,674.1 489.5,674.7 489.9,675.0 490.3,675.3 490.7,675.9 491.1,675.3 491.6,674.9 492.0,675.6 492.4,675.7 492.8,675.9 493.2,676.0 493.7,675.5 494.1,676.0 494.5,676.1 494.9,675.5 495.3,676.0 495.8,675.4 496.2,675.6 496.6,675.8 497.0,676.8 497.4,676.1 497.9,675.5 498.3,675.9 498.7,676.2 499.1,675.7 499.5,677.1 500.0,677.0 500.4,676.8 500.8,677.0 501.2,677.0 501.6,677.9 502.1,678.1 502.5,678.0 502.9,677.7 503.3,678.2 503.7,677.2 504.2,677.8 504.6,677.7 505.0,678.1 505.4,677.4 505.8,677.2 506.3,677.2 506.7,677.8 507.1,677.4 507.5,677.5 507.9,677.6 508.4,677.2 508.8,677.3 509.2,677.2 509.6,677.8 510.0,677.7 510.5,677.5 510.9,677.8 511.3,678.1 511.7,678.4 512.1,679.3 512.6,678.2 513.0,678.7 513.4,678.8 513.8,678.5 514.2,678.6 514.7,678.9 515.1,679.0 515.5,678.9 515.9,679.0 516.3,679.1 516.8,678.5 517.2,679.3 517.6,679.5 518.0,679.6 518.4,679.1 518.9,679.0 519.3,679.3 519.7,679.3 520.1,679.0 520.5,680.2 521.0,679.9 521.4,680.5 521.8,680.4 521.8,687.0 521.4,686.8 521.0,686.7 520.5,687.2 520.1,686.4 519.7,685.7 519.3,686.4 518.9,686.2 518.4,686.7 518.0,686.2 517.6,686.6 517.2,686.6 516.8,685.9 516.3,686.4 515.9,686.1 515.5,686.3 515.1,685.3 514.7,685.9 514.2,685.8 513.8,686.1 513.4,686.1 513.0,686.0 512.6,685.0 512.1,685.6 511.7,686.1 511.3,685.8 510.9,685.0 510.5,684.4 510.0,684.2 509.6,685.2 509.2,684.4 508.8,684.0 508.4,684.4 507.9,685.2 507.5,684.1 507.1,684.2 506.7,685.1 506.3,684.9 505.8,684.5 505.4,684.7 505.0,684.7 504.6,684.8 504.2,684.2 503.7,685.2 503.3,685.2 502.9,684.8 502.5,684.8 502.1,685.2 501.6,685.3 501.2,684.2 500.8,684.6 500.4,683.8 500.0,684.2 499.5,683.4 499.1,683.6 498.7,683.0 498.3,684.1 497.9,683.5 497.4,683.8 497.0,683.4 496.6,683.5 496.2,683.0 495.8,683.3 495.3,683.6 494.9,682.7 494.5,683.2 494.1,682.4 493.7,682.5 493.2,683.3 492.8,683.4 492.4,683.6 492.0,683.7 491.6,682.7 491.1,683.2 490.7,683.0 490.3,682.6 489.9,682.4 489.5,681.8 489.0,682.0 488.6,681.9 488.2,683.0 487.8,681.9 487.4,682.1 486.9,682.1 486.5,681.5 486.1,681.9 485.7,682.3 485.3,681.3 484.8,681.8 484.4,681.4 484.0,682.2 483.6,681.8 483.2,681.6 482.7,681.5 482.3,682.3 481.9,682.1 481.5,682.2 481.1,682.5 480.6,682.2 480.2,682.1 479.8,681.6 479.4,682.5 479.0,682.1 478.5,682.4 478.1,682.1 477.7,683.1 477.3,682.8 476.9,683.6 476.4,683.0 476.0,683.2 475.6,682.8 475.2,682.6 474.8,682.0 474.3,682.4 473.9,682.2 473.5,682.6 473.1,682.9 472.7,682.9 472.2,682.8 471.8,682.3 471.4,682.0 471.0,681.8 470.6,681.8 470.1,681.7 469.7,681.5 469.3,681.6 468.9,681.3 468.5,682.3 468.0,682.3 467.6,682.5 467.2,683.0 466.8,683.0 466.4,682.5 465.9,682.3 465.5,683.2 465.1,682.8 464.7,682.7 464.3,683.2 463.8,684.4 463.4,684.2 463.0,684.8 462.6,685.7 462.2,685.7 461.7,685.5 461.3,686.1 460.9,685.6 460.5,685.3 460.1,686.6 459.6,685.8 459.2,686.9 458.8,687.0 458.4,686.7 458.0,687.2 457.5,687.4 457.1,687.4 456.7,688.1 456.3,688.9 455.9,688.5 455.4,688.6 455.0,689.4 454.6,688.4 454.2,689.1 453.8,688.8 453.3,688.6 452.9,689.7 452.5,689.0 452.1,689.7 451.7,689.8 451.2,689.9 450.8,689.8 450.4,689.4 450.0,689.2 449.6,689.9 449.1,689.3 448.7,690.3 448.3,689.2 447.9,690.3 447.5,690.0 447.0,690.1 446.6,689.3 446.2,689.6 445.8,690.5 445.4,690.5 444.9,690.5 444.5,691.0 444.1,691.6 443.7,691.0 443.3,691.9 442.8,691.6 442.4,691.9 442.0,692.5 441.6,693.5 441.2,694.8 440.7,695.9 440.3,696.3 439.9,697.4 439.5,697.8 439.1,697.5 438.6,697.9 438.2,697.8 437.8,697.5 437.4,697.9 437.0,697.7 436.5,698.5 436.1,698.2 435.7,698.3 435.3,698.2 434.9,697.9 434.4,697.9 434.0,698.4 433.6,698.5 433.2,697.8 432.8,697.3 432.3,697.7 431.9,698.4 431.5,698.0 431.1,698.1 430.7,698.3 430.2,697.9 429.8,697.0 429.4,696.9 429.0,697.7 428.6,697.5 428.1,697.2 427.7,697.9 427.3,697.3 426.9,697.5 426.5,698.0 426.0,698.1 425.6,697.3 425.2,697.2 424.8,697.4 424.4,697.1 423.9,697.4 423.5,697.7 423.1,697.0 422.7,697.8 422.3,697.2 421.8,697.7 421.4,697.2 421.0,696.8 420.6,697.6 420.2,697.2 419.7,696.8 419.3,697.7 418.9,697.6 418.5,697.2 418.1,697.3 417.6,697.8 417.2,697.7 416.8,697.8 416.4,697.2 416.0,698.1 415.5,697.5 415.1,698.1 414.7,697.2 414.3,697.0 413.9,697.9 413.4,697.7 413.0,697.2 412.6,697.6 412.2,698.1 411.8,698.1 411.3,697.4 410.9,698.0 410.5,696.9 410.1,697.9 409.7,697.6 409.2,696.4 408.8,696.9 408.4,696.7 408.0,697.4 407.6,697.0 407.1,697.1 406.7,697.2 406.3,697.5 405.9,698.1 405.5,698.1 405.0,697.7 404.6,697.2 404.2,697.4 403.8,697.5 403.4,697.6 402.9,697.6 402.5,697.6 402.1,697.3 401.7,697.8 401.3,697.3 400.8,697.0 400.4,697.2 400.0,698.0 399.6,697.7 399.2,697.5 398.7,697.3 398.3,697.5 397.9,697.3 397.5,698.1 397.1,698.2 396.6,698.0 396.2,698.0 395.8,697.3 395.4,697.3 395.0,696.9 394.5,697.6 394.1,696.8 393.7,697.5 393.3,696.7 392.9,696.7 392.4,696.8 392.0,696.7 391.6,696.9 391.2,696.1 390.8,696.6 390.3,696.9 389.9,697.0 389.5,697.3 389.1,697.2 388.7,697.3 388.2,696.4 387.8,697.7 387.4,697.6" fill="#c9c9c9" fill-opacity="0.9"/>
<polyline points="387.4,696.1 387.8,695.9 388.2,695.3 388.7,695.6 389.1,695.6 389.5,695.8 389.9,695.5 390.3,695.4 390.8,695.5 391.2,695.1 391.6,695.2 392.0,695.6 392.4,695.8 392.9,695.6 393.3,695.5 393.7,695.9 394.1,695.5 394.5,695.7 395.0,695.5 395.4,696.0 395.8,696.1 396.2,696.4 396.6,696.3 397.1,696.3 397.5,696.3 397.9,696.4 398.3,695.8 398.7,695.7 399.2,695.9 399.6,695.9 400.0,696.2 400.4,695.6 400.8,695.3 401.3,695.4 401.7,695.9 402.1,695.5 402.5,695.9 402.9,696.3 403.4,696.2 403.8,696.2 404.2,695.7 404.6,696.1 405.0,696.5 405.5,696.3 405.9,696.6 406.3,696.1 406.7,696.1 407.1,695.6 407.6,695.3 408.0,695.8 408.4,695.6 408.8,695.7 409.2,695.3 409.7,696.0 410.1,696.0 410.5,695.5 410.9,696.1 411.3,696.2 411.8,696.3 412.2,696.3 412.6,695.7 413.0,696.1 413.4,695.7 413.9,696.0 414.3,695.6 414.7,696.1 415.1,696.5 415.5,695.8 416.0,696.3 416.4,696.1 416.8,696.3 417.2,696.1 417.6,696.3 418.1,696.0 418.5,695.8 418.9,695.7 419.3,696.2 419.7,695.8 420.2,696.1 420.6,696.0 421.0,695.7 421.4,695.6 421.8,695.7 422.3,695.9 422.7,696.3 423.1,695.8 423.5,695.8 423.9,695.6 424.4,695.4 424.8,695.4 425.2,695.9 425.6,696.0 426.0,696.3 426.5,696.5 426.9,696.0 427.3,695.8 427.7,696.3 428.1,696.2 428.6,696.2 429.0,695.9 429.4,695.6 429.8,696.0 430.2,696.4 430.7,696.6 431.1,696.4 431.5,696.4 431.9,696.8 432.3,696.3 432.8,696.1 433.2,696.3 433.6,696.7 434.0,696.6 434.4,696.4 434.9,696.7 435.3,696.9 435.7,697.0 436.1,697.2 436.5,696.7 437.0,696.3 437.4,696.1 437.8,696.3 438.2,696.4 438.6,696.8 439.1,696.3 439.5,695.7 439.9,695.3 440.3,694.8 440.7,693.9 441.2,692.8 441.6,691.4 442.0,690.7 442.4,689.8 442.8,689.7 443.3,689.5 443.7,688.9 444.1,689.0 444.5,688.2 444.9,688.0 445.4,687.7 445.8,687.7 446.2,687.3 446.6,687.0 447.0,687.1 447.5,687.5 447.9,687.1 448.3,686.6 448.7,687.0 449.1,686.7 449.6,687.1 450.0,686.6 450.4,686.5 450.8,686.4 451.2,686.3 451.7,686.2 452.1,686.0 452.5,685.8 452.9,686.0 453.3,685.4 453.8,685.8 454.2,685.3 454.6,685.3 455.0,685.5 455.4,685.4 455.9,685.0 456.3,685.0 456.7,684.5 457.1,683.7 457.5,683.4 458.0,683.3 458.4,683.1 458.8,683.0 459.2,682.6 459.6,682.3 460.1,682.2 460.5,681.8 460.9,681.6 461.3,681.9 461.7,682.0 462.2,681.6 462.6,681.4 463.0,680.8 463.4,680.6 463.8,680.1 464.3,679.7 464.7,679.2 465.1,679.3 465.5,679.5 465.9,678.9 466.4,679.1 466.8,678.7 467.2,678.9 467.6,678.9 468.0,678.5 468.5,678.0 468.9,677.8 469.3,677.6 469.7,678.0 470.1,678.0 470.6,678.0 471.0,678.2 471.4,678.2 471.8,678.5 472.2,678.6 472.7,678.9 473.1,679.2 473.5,678.6 473.9,678.6 474.3,678.7 474.8,678.6 475.2,678.9 475.6,679.3 476.0,679.0 476.4,679.2 476.9,679.4 477.3,679.2 477.7,679.2 478.1,678.6 478.5,678.7 479.0,678.3 479.4,678.2 479.8,678.3 480.2,678.4 480.6,678.9 481.1,678.4 481.5,678.9 481.9,678.5 482.3,678.1 482.7,677.9 483.2,677.8 483.6,677.8 484.0,678.1 484.4,678.0 484.8,678.0 485.3,678.1 485.7,678.2 486.1,678.2 486.5,678.0 486.9,678.6 487.4,678.5 487.8,678.2 488.2,678.8 488.6,678.4 489.0,678.2 489.5,678.6 489.9,678.7 490.3,678.9 490.7,679.3 491.1,679.4 491.6,678.9 492.0,679.5 492.4,679.5 492.8,679.7 493.2,679.5 493.7,679.1 494.1,679.2 494.5,679.7 494.9,679.3 495.3,679.6 495.8,679.4 496.2,679.2 496.6,679.7 497.0,680.2 497.4,679.7 497.9,679.5 498.3,680.1 498.7,679.8 499.1,679.6 499.5,680.2 500.0,680.7 500.4,680.5 500.8,680.7 501.2,680.9 501.6,681.2 502.1,681.2 502.5,681.4 502.9,681.6 503.3,681.5 503.7,681.2 504.2,681.0 504.6,681.1 505.0,681.3 505.4,681.1 505.8,681.0 506.3,681.1 506.7,681.1 507.1,681.0 507.5,680.6 507.9,681.3 508.4,681.0 508.8,680.9 509.2,681.2 509.6,681.2 510.0,681.0 510.5,681.0 510.9,681.1 511.3,681.8 511.7,682.1 512.1,682.4 512.6,681.8 513.0,682.3 513.4,682.3 513.8,682.1 514.2,681.9 514.7,682.4 515.1,682.0 515.5,682.5 515.9,682.2 516.3,682.8 516.8,682.4 517.2,683.1 517.6,682.7 518.0,683.0 518.4,683.0 518.9,682.8 519.3,682.6 519.7,682.6 520.1,682.7 520.5,683.5 521.0,683.1 521.4,683.5 521.8,684.0" fill="none" stroke="#000" stroke-width="1.8" stroke-linejoin="round"/>
<polyline points="387.4,696.9 387.8,696.5 388.2,696.8 388.7,695.8 389.1,695.3 389.5,694.7 389.9,695.1 390.3,695.2 390.8,695.4 391.2,695.2 391.6,695.2 392.0,694.3 392.4,694.0 392.9,693.2 393.3,692.8 393.7,693.0 394.1,693.3 394.5,693.3 395.0,693.6 395.4,693.0 395.8,693.1 396.2,693.2 396.6,692.4 397.1,692.4 397.5,691.7 397.9,691.3 398.3,691.4 398.7,691.9 399.2,692.3 399.6,692.5 400.0,691.9 400.4,691.9 400.8,692.0 401.3,692.5 401.7,692.5 402.1,692.6 402.5,693.0 402.9,693.1 403.4,693.2 403.8,693.1 404.2,693.1 404.6,692.9 405.0,692.6 405.5,693.0 405.9,693.5 406.3,693.7 406.7,693.8 407.1,693.5 407.6,693.4 408.0,693.5 408.4,693.8 408.8,693.2 409.2,693.0 409.7,692.9 410.1,692.7 410.5,692.4 410.9,693.4 411.3,693.8 411.8,693.8 412.2,693.6 412.6,693.7 413.0,693.9 413.4,694.3 413.9,694.6 414.3,694.1 414.7,693.8 415.1,694.2 415.5,694.6 416.0,695.2 416.4,695.1 416.8,695.6 417.2,695.4 417.6,695.8 418.1,695.9 418.5,695.5 418.9,695.9 419.3,695.9 419.7,696.2 420.2,696.2 420.6,695.8 421.0,696.0 421.4,695.7 421.8,696.2 422.3,696.4 422.7,696.4 423.1,696.7 423.5,696.6 423.9,697.1 424.4,697.8 424.8,697.7 425.2,698.1 425.6,698.2 426.0,697.9 426.5,697.6 426.9,697.2 427.3,697.3 427.7,697.6 428.1,698.0 428.6,698.1 429.0,698.3 429.4,698.2 429.8,697.5 430.2,696.8 430.7,696.6 431.1,695.7 431.5,695.2 431.9,694.9 432.3,693.8 432.8,694.0 433.2,693.6 433.6,693.0 434.0,692.0 434.4,691.9 434.9,690.9 435.3,691.3 435.7,691.0 436.1,690.6 436.5,690.0 437.0,690.2 437.4,690.4 437.8,689.7 438.2,689.2 438.6,689.0 439.1,688.5 439.5,688.6 439.9,688.6 440.3,688.4 440.7,688.6 441.2,687.8 441.6,688.1 442.0,688.2 442.4,687.0 442.8,686.8 443.3,686.9 443.7,685.0 444.1,683.7 444.5,681.9 444.9,680.7 445.4,679.1 445.8,677.1 446.2,675.0 446.6,673.9 447.0,671.8 447.5,670.1 447.9,668.4 448.3,666.4 448.7,666.0 449.1,666.4 449.6,666.5 450.0,665.5 450.4,665.6 450.8,665.4 451.2,664.7 451.7,664.0 452.1,663.5 452.5,663.3 452.9,663.3 453.3,662.5 453.8,663.0 454.2,662.5 454.6,661.0 455.0,660.8 455.4,659.6 455.9,658.9 456.3,658.2 456.7,657.5 457.1,657.0 457.5,656.0 458.0,656.2 458.4,655.9 458.8,654.9 459.2,654.2 459.6,653.7 460.1,653.1 460.5,653.1 460.9,652.5 461.3,652.0 461.7,651.2 462.2,651.2 462.6,650.9 463.0,650.4 463.4,650.1 463.8,649.1 464.3,648.5 464.7,648.5 465.1,647.3 465.5,646.8 465.9,646.3 466.4,646.0 466.8,646.2 467.2,646.3 467.6,646.1 468.0,645.4 468.5,645.1 468.9,644.7 469.3,644.8 469.7,644.9 470.1,645.2 470.6,645.1 471.0,644.9 471.4,644.6 471.8,644.2 472.2,643.9 472.7,644.4 473.1,644.2 473.5,644.8 473.9,644.8 474.3,644.5 474.8,645.0 475.2,644.3 475.6,644.2 476.0,644.5 476.4,644.5 476.9,644.0 477.3,644.5 477.7,643.9 478.1,643.7 478.5,643.8 479.0,644.2 479.4,644.0 479.8,644.3 480.2,644.6 480.6,643.9 481.1,644.0 481.5,643.5 481.9,643.6 482.3,643.5 482.7,643.7 483.2,643.2 483.6,643.0 484.0,643.3 484.4,643.3 484.8,643.5 485.3,642.9 485.7,643.1 486.1,643.0 486.5,643.0 486.9,643.5 487.4,643.5 487.8,642.9 488.2,642.8 488.6,643.1 489.0,643.3 489.5,642.6 489.9,642.2 490.3,641.8 490.7,642.4 491.1,642.3 491.6,642.4 492.0,642.4 492.4,642.4 492.8,642.1 493.2,642.0 493.7,642.4 494.1,642.7 494.5,642.7 494.9,641.9 495.3,641.3 495.8,641.1 496.2,641.3 496.6,641.2 497.0,641.0 497.4,641.4 497.9,640.7 498.3,640.2 498.7,641.0 499.1,641.1 499.5,641.1 500.0,640.4 500.4,639.9 500.8,639.5 501.2,639.9 501.6,639.9 502.1,640.3 502.5,640.7 502.9,640.3 503.3,640.2 503.7,639.8 504.2,639.6 504.6,639.9 505.0,640.7 505.4,640.6 505.8,640.1 506.3,640.4 506.7,640.5 507.1,640.6 507.5,640.9 507.9,641.1 508.4,641.5 508.8,641.5 509.2,641.2 509.6,641.1 510.0,641.9 510.5,642.2 510.9,642.6 511.3,642.9 511.7,643.2 512.1,642.6 512.6,642.9 513.0,642.5 513.4,642.2 513.8,642.8 514.2,643.1 514.7,643.5 515.1,643.8 515.5,643.0 515.9,642.7 516.3,642.4 516.8,643.2 517.2,643.5 517.6,643.5 518.0,644.2 518.4,643.9 518.9,643.5 519.3,643.2 519.7,643.1 520.1,643.7 520.5,643.4 521.0,644.0 521.4,644.0 521.8,644.5" fill="none" stroke="#ff1a1a" stroke-width="1.8" stroke-linejoin="round"/>
<line x1="387.20" y1="606.30" x2="387.20" y2="706.20" stroke="#000" stroke-width="1.5"/>
<line x1="386.50" y1="696.20" x2="522.50" y2="696.20" stroke="#000" stroke-width="1.5"/>
<line x1="382.80" y1="696.20" x2="387.20" y2="696.20" stroke="#000" stroke-width="1.3"/>
<text x="381.00" y="699.60" font-size="9.5" text-anchor="end">0</text>
<line x1="382.80" y1="671.55" x2="387.20" y2="671.55" stroke="#000" stroke-width="1.3"/>
<text x="381.00" y="674.95" font-size="9.5" text-anchor="end">50</text>
<line x1="382.80" y1="646.90" x2="387.20" y2="646.90" stroke="#000" stroke-width="1.3"/>
<text x="381.00" y="650.30" font-size="9.5" text-anchor="end">100</text>
<line x1="382.80" y1="622.25" x2="387.20" y2="622.25" stroke="#000" stroke-width="1.3"/>
<text x="381.00" y="625.65" font-size="9.5" text-anchor="end">150</text>
<line x1="421.00" y1="696.20" x2="421.00" y2="700.50" stroke="#000" stroke-width="1.3"/>
<text x="421.00" y="710.50" font-size="9.5" text-anchor="middle">120</text>
<line x1="454.60" y1="696.20" x2="454.60" y2="700.50" stroke="#000" stroke-width="1.3"/>
<text x="454.60" y="710.50" font-size="9.5" text-anchor="middle">240</text>
<line x1="488.20" y1="696.20" x2="488.20" y2="700.50" stroke="#000" stroke-width="1.3"/>
<text x="488.20" y="710.50" font-size="9.5" text-anchor="middle">360</text>
<line x1="521.80" y1="696.20" x2="521.80" y2="700.50" stroke="#000" stroke-width="1.3"/>
<text x="521.80" y="710.50" font-size="9.5" text-anchor="middle">480</text>
<text x="457.90" y="719.00" font-size="10.3">Time (s)</text>
<text x="363" y="657.2" font-size="10.45" text-anchor="middle" transform="rotate(-90 363 657.2)">GCaMP5 (ΔF/F<tspan font-size="70%" dy="1.4">o</tspan><tspan dy="-1.4">,  %)</tspan></text>
<line x1="396.90" y1="611.30" x2="406.60" y2="611.30" stroke="#000" stroke-width="1.8"/>
<text x="409.90" y="614.70" font-size="9.6">WT</text>
<line x1="396.90" y1="622.10" x2="406.60" y2="622.10" stroke="#ff1a1a" stroke-width="1.8"/>
<text x="409.90" y="625.50" font-size="9.6" font-style="italic">pde-1,2,3,5</text>
<rect x="602.50" y="694.24" width="21.70" height="9.26" fill="#c8c8c8"/>
<path d="M602.50,703.50V694.24H624.20V703.50" fill="none" stroke="#000" stroke-width="1.3"/>
<rect x="635.70" y="672.03" width="21.70" height="31.47" fill="#fcd5d5"/>
<path d="M635.70,703.50V672.03H657.40V703.50" fill="none" stroke="#ff1a1a" stroke-width="1.8"/>
<line x1="613.40" y1="692.16" x2="613.40" y2="696.33" stroke="#000" stroke-width="1.5"/>
<line x1="608.90" y1="692.16" x2="617.90" y2="692.16" stroke="#000" stroke-width="1.5"/>
<line x1="608.90" y1="696.33" x2="617.90" y2="696.33" stroke="#000" stroke-width="1.5"/>
<line x1="646.50" y1="661.39" x2="646.50" y2="681.75" stroke="#ff1a1a" stroke-width="1.8"/>
<line x1="641.50" y1="661.39" x2="651.50" y2="661.39" stroke="#ff1a1a" stroke-width="1.8"/>
<line x1="641.50" y1="681.75" x2="651.50" y2="681.75" stroke="#ff1a1a" stroke-width="1.8"/>
<circle cx="613.40" cy="666.48" r="1.9" fill="#fff" stroke="#8a8a8a" stroke-width="0.7"/>
<circle cx="613.52" cy="683.83" r="1.9" fill="#fff" stroke="#8a8a8a" stroke-width="0.7"/>
<circle cx="612.47" cy="684.99" r="1.9" fill="#fff" stroke="#8a8a8a" stroke-width="0.7"/>
<circle cx="614.56" cy="686.84" r="1.9" fill="#fff" stroke="#8a8a8a" stroke-width="0.7"/>
<circle cx="611.08" cy="687.30" r="1.9" fill="#fff" stroke="#8a8a8a" stroke-width="0.7"/>
<circle cx="620.09" cy="688.46" r="1.9" fill="#fff" stroke="#8a8a8a" stroke-width="0.7"/>
<circle cx="606.59" cy="689.62" r="1.9" fill="#fff" stroke="#8a8a8a" stroke-width="0.7"/>
<circle cx="612.41" cy="690.77" r="1.9" fill="#fff" stroke="#8a8a8a" stroke-width="0.7"/>
<circle cx="618.66" cy="691.93" r="1.9" fill="#fff" stroke="#8a8a8a" stroke-width="0.7"/>
<circle cx="615.52" cy="693.09" r="1.9" fill="#fff" stroke="#8a8a8a" stroke-width="0.7"/>
<circle cx="621.52" cy="694.24" r="1.9" fill="#fff" stroke="#8a8a8a" stroke-width="0.7"/>
<circle cx="609.17" cy="695.40" r="1.9" fill="#fff" stroke="#8a8a8a" stroke-width="0.7"/>
<circle cx="610.56" cy="696.56" r="1.9" fill="#fff" stroke="#8a8a8a" stroke-width="0.7"/>
<circle cx="609.49" cy="697.72" r="1.9" fill="#fff" stroke="#8a8a8a" stroke-width="0.7"/>
<circle cx="606.04" cy="698.87" r="1.9" fill="#fff" stroke="#8a8a8a" stroke-width="0.7"/>
<circle cx="604.91" cy="700.03" r="1.9" fill="#fff" stroke="#8a8a8a" stroke-width="0.7"/>
<circle cx="613.68" cy="701.19" r="1.9" fill="#fff" stroke="#8a8a8a" stroke-width="0.7"/>
<circle cx="609.36" cy="701.65" r="1.9" fill="#fff" stroke="#8a8a8a" stroke-width="0.7"/>
<circle cx="615.00" cy="702.34" r="1.9" fill="#fff" stroke="#8a8a8a" stroke-width="0.7"/>
<circle cx="622.62" cy="702.81" r="1.9" fill="#fff" stroke="#8a8a8a" stroke-width="0.7"/>
<circle cx="646.50" cy="600.53" r="1.9" fill="#fff" stroke="#8a8a8a" stroke-width="0.7"/>
<circle cx="646.50" cy="635.24" r="1.9" fill="#fff" stroke="#8a8a8a" stroke-width="0.7"/>
<circle cx="646.50" cy="645.65" r="1.9" fill="#fff" stroke="#8a8a8a" stroke-width="0.7"/>
<circle cx="643.00" cy="686.14" r="1.9" fill="#fff" stroke="#8a8a8a" stroke-width="0.7"/>
<circle cx="650.00" cy="686.84" r="1.9" fill="#fff" stroke="#8a8a8a" stroke-width="0.7"/>
<circle cx="642.00" cy="691.93" r="1.9" fill="#fff" stroke="#8a8a8a" stroke-width="0.7"/>
<circle cx="648.00" cy="691.93" r="1.9" fill="#fff" stroke="#8a8a8a" stroke-width="0.7"/>
<circle cx="637.00" cy="694.24" r="1.9" fill="#fff" stroke="#8a8a8a" stroke-width="0.7"/>
<circle cx="655.00" cy="694.24" r="1.9" fill="#fff" stroke="#8a8a8a" stroke-width="0.7"/>
<circle cx="652.00" cy="692.39" r="1.9" fill="#fff" stroke="#8a8a8a" stroke-width="0.7"/>
<text x="613.40" y="703.10" font-size="9.2" text-anchor="middle" fill="#953f9f">20</text>
<text x="645.90" y="703.10" font-size="9.2" text-anchor="middle" fill="#953f9f">10</text>
<line x1="591.70" y1="587.80" x2="591.70" y2="704.20" stroke="#000" stroke-width="1.5"/>
<line x1="591.00" y1="703.50" x2="669.20" y2="703.50" stroke="#000" stroke-width="1.5"/>
<line x1="587.50" y1="703.50" x2="591.70" y2="703.50" stroke="#000" stroke-width="1.3"/>
<text x="586.50" y="707.00" font-size="10" text-anchor="end">0</text>
<line x1="587.50" y1="680.36" x2="591.70" y2="680.36" stroke="#000" stroke-width="1.3"/>
<text x="586.50" y="683.86" font-size="10" text-anchor="end">100</text>
<line x1="587.50" y1="657.22" x2="591.70" y2="657.22" stroke="#000" stroke-width="1.3"/>
<text x="586.50" y="660.72" font-size="10" text-anchor="end">200</text>
<line x1="587.50" y1="634.08" x2="591.70" y2="634.08" stroke="#000" stroke-width="1.3"/>
<text x="586.50" y="637.58" font-size="10" text-anchor="end">300</text>
<line x1="587.50" y1="610.94" x2="591.70" y2="610.94" stroke="#000" stroke-width="1.3"/>
<text x="586.50" y="614.44" font-size="10" text-anchor="end">400</text>
<line x1="587.50" y1="587.80" x2="591.70" y2="587.80" stroke="#000" stroke-width="1.3"/>
<text x="586.50" y="591.30" font-size="10" text-anchor="end">500</text>
<text x="565.6" y="650.2" font-size="10.5" text-anchor="middle" transform="rotate(-90 565.6 650.2)">Maximum GCaMP5 (ΔF/F<tspan font-size="70%" dy="1.4">o</tspan><tspan dy="-1.4">,  %)</tspan></text>
<line x1="614.20" y1="594.90" x2="647.00" y2="594.90" stroke="#222" stroke-width="1.7"/>
<line x1="618.00" y1="584.60" x2="618.00" y2="589.80" stroke="#000" stroke-width="1.15"/>
<line x1="620.25" y1="585.90" x2="615.75" y2="588.50" stroke="#000" stroke-width="1.15"/>
<line x1="620.25" y1="588.50" x2="615.75" y2="585.90" stroke="#000" stroke-width="1.15"/>
<text x="627.00" y="590.60" font-size="8.3"><tspan font-style="italic">p</tspan>=0.015</text>
<text x="605.30" y="718.50" font-size="9.5">WT</text>
<text x="630.10" y="718.50" font-size="9.5" font-style="italic">pde-1,2,3,5</text></svg></body></html>
